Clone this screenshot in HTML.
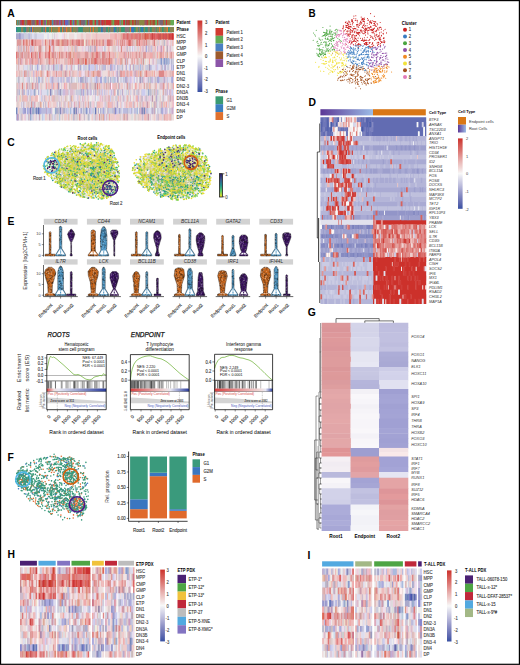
<!DOCTYPE html>
<html><head><meta charset="utf-8"><title>Figure</title>
<style>
html,body{margin:0;padding:0;background:#fff;width:520px;height:665px;overflow:hidden;}
svg{display:block;}
text{font-family:"Liberation Sans",sans-serif;}
</style></head><body>
<svg width="520" height="665" viewBox="0 0 520 665">
<defs>
<linearGradient id="cb3" x1="0" y1="0" x2="0" y2="1"><stop offset="0" stop-color="#cc312b"/><stop offset="0.08" stop-color="#d3524d"/><stop offset="0.17" stop-color="#db736f"/><stop offset="0.25" stop-color="#e29492"/><stop offset="0.33" stop-color="#e9b6b4"/><stop offset="0.42" stop-color="#f1d7d6"/><stop offset="0.5" stop-color="#f8f8f8"/><stop offset="0.58" stop-color="#dadaea"/><stop offset="0.67" stop-color="#bcbcdc"/><stop offset="0.75" stop-color="#9d9fcd"/><stop offset="0.83" stop-color="#7e84bf"/><stop offset="0.92" stop-color="#5e69b0"/><stop offset="1" stop-color="#3850a2"/></linearGradient>
<linearGradient id="rootg" x1="0" y1="0" x2="1" y2="0"><stop offset="0" stop-color="#5b3796"/><stop offset="1" stop-color="#9cbce6"/></linearGradient>
<linearGradient id="vir" x1="0" y1="0" x2="0" y2="1"><stop offset="0" stop-color="#2b1b5e"/><stop offset="0.25" stop-color="#3b528b"/><stop offset="0.5" stop-color="#21908d"/><stop offset="0.75" stop-color="#5dc963"/><stop offset="1" stop-color="#f2e11d"/></linearGradient>
<linearGradient id="rwb" x1="0" y1="0" x2="1" y2="0"><stop offset="0" stop-color="#d83a3a"/><stop offset="0.45" stop-color="#f4f0f0"/><stop offset="0.55" stop-color="#f0f0f8"/><stop offset="1" stop-color="#2a3a98"/></linearGradient>
</defs>
<rect x="0" y="0" width="520" height="665" fill="#fff"/>
<text x="7.3" y="17" font-size="11.5" textLength="7.47" lengthAdjust="spacingAndGlyphs" font-weight="bold" fill="#000">A</text>
<path stroke="#974" stroke-width="5.3" d="M16 22.6h3.4m18.5 0h1.4m8.6 0h6.4m3.6 0h1.4m16.5 0h1.4m1.6 0h1.4m8.6 0h1.4m3.6 0h1.4m9.6 0h1.4m2.6 0h3.4m2.5 0h1.4m2.6 0h3.4m14.6 0h1.4m3.6 0h3.4m2.6 0h1.4m1.6 0h2.4m4.5 0h1.4m7.6 0h3.4m1.6 0h1.4"/>
<path stroke="#389" stroke-width="5.2" d="M16 29.6h1.4m2.6 0h1.4m1.6 0h3.4m6.6 0h1.4m9.5 0h3.4m13.6 0h1.4m12.6 0h1.4m5.5 0h1.4m1.6 0h1.4m4.6 0h1.4m9.6 0h1.4m37.5 0h1.4m4.6 0h1.4m16.5 0h1.4"/>
<path stroke="#598" stroke-width="5.3" d="M17 22.6h1.4m66.4 0h1.4m9.6 0h2.4m26.5 0h1.4m38.5 0h1.4"/>
<path stroke="#397" stroke-width="5.2" d="M17 29.6h3.4m3.6 0h1.4m3.6 0h1.4m4.6 0h1.4m2.5 0h4.4m3.6 0h10.4m2.6 0h1.4m1.6 0h1.4m7.6 0h1.4m4.5 0h4.4m6.6 0h1.4m3.6 0h6.4m5.6 0h4.4m4.5 0h4.4m1.6 0h6.4m1.6 0h1.4m1.6 0h4.4m1.6 0h3.4m1.6 0h4.4m2.6 0h2.4m3.5 0h3.4m2.6 0h2.4m3.6 0h4.4"/>
<path stroke="#788" stroke-width="5.3" d="M19 22.6h1.4m8.6 0h3.4m7.5 0h1.4m20.6 0h2.4m3.6 0h2.4m7.5 0h1.4m20.6 0h1.4m18.5 0h1.4m37.5 0h1.4"/>
<path stroke="#956" stroke-width="5.3" d="M20 22.6h1.4m12.6 0h1.4m20.5 0h1.4m34.5 0h1.4m4.6 0h1.4m38.5 0h1.4m5.6 0h2.4"/>
<path stroke="#a46" stroke-width="5.3" d="M21 22.6h1.4m31.5 0h1.4m1.6 0h1.4m12.6 0h1.4m28.5 0h3.4m22.5 0h1.4"/>
<path stroke="#885" stroke-width="5.2" d="M21 29.6h2.4m3.6 0h2.4m4.6 0h7.4m7.5 0h1.4m2.6 0h5.4m8.6 0h3.4m2.6 0h4.4m5.5 0h6.4m2.6 0h1.4m1.6 0h3.4m1.6 0h1.4m2.6 0h1.4m2.6 0h1.4m1.6 0h2.4m5.5 0h2.4m14.6 0h2.4m5.6 0h1.4m2.6 0h1.4m2.6 0h3.4m1.5 0h1.4m1.6 0h2.4m1.6 0h3.4m2.6 0h4.4"/>
<path stroke="#c33" stroke-width="5.3" d="M22 22.6h1.4m12.5 0h2.4m2.6 0h1.4m4.6 0h1.4m12.6 0h1.4m1.6 0h1.4m4.6 0h1.4m3.6 0h1.4m6.5 0h1.4m10.6 0h1.4m5.6 0h1.4m2.6 0h5.4m6.5 0h1.4m3.6 0h2.4m6.6 0h1.4m32.5 0h1.4"/>
<path stroke="#b43" stroke-width="5.3" d="M23 22.6h1.4m2.6 0h4.4m10.5 0h1.4m6.6 0h1.4m14.6 0h1.4m12.5 0h1.4m8.6 0h2.4m6.6 0h1.4m3.6 0h1.4m8.6 0h4.4m9.5 0h1.4m3.6 0h1.4m12.6 0h1.4m1.6 0h1.4m1.6 0h1.4m2.5 0h1.4m2.6 0h3.4"/>
<path stroke="#867" stroke-width="5.3" d="M24 22.6h3.4m27.5 0h1.4m3.6 0h1.4m74.4 0h1.4m2.6 0h1.4"/>
<path stroke="#884" stroke-width="5.3" d="M25 22.6h1.4m8.6 0h1.4m6.5 0h1.4m29.6 0h1.4m36.5 0h1.4m16.5 0h2.4m1.6 0h1.4m3.6 0h5.4m4.6 0h1.4m13.5 0h1.4m4.6 0h1.4"/>
<path stroke="#877" stroke-width="5.2" d="M26 29.6h1.4m2.6 0h1.4m11.5 0h1.4m19.6 0h2.4m4.6 0h1.4m4.5 0h1.4m24.6 0h3.4m3.6 0h1.4m1.6 0h1.4m2.5 0h1.4m6.6 0h4.4m9.6 0h1.4m8.6 0h1.4m4.5 0h1.4"/>
<path stroke="#37b" stroke-width="5.2" d="M31 29.6h1.4m68.4 0h1.4m11.6 0h1.4m15.5 0h3.4m7.6 0h1.4"/>
<path stroke="#767" stroke-width="5.3" d="M32 22.6h2.4m9.5 0h1.4m35.5 0h4.4m74.4 0h3.4"/>
<path stroke="#d73" stroke-width="5.2" d="M32 29.6h1.4m11.5 0h1.4m4.6 0h1.4m5.6 0h2.4m1.6 0h1.4m2.6 0h1.4m2.6 0h1.4m18.5 0h1.4m1.6 0h1.4m35.5 0h1.4m27.5 0h1.4m6.6 0h1.4"/>
<path stroke="#85a" stroke-width="5.3" d="M38.9 22.6h1.4m4.6 0h1.4m12.6 0h1.4"/>
<path stroke="#6a5" stroke-width="5.3" d="M45.9 22.6h1.4m24.6 0h1.4m3.5 0h1.4m7.6 0h1.4m5.6 0h1.4m18.6 0h1.4m7.5 0h1.4m31.5 0h2.4m13.6 0h3.4"/>
<path stroke="#48b" stroke-width="5.3" d="M51.9 22.6h1.4"/>
<path stroke="#66b" stroke-width="5.3" d="M64.9 22.6h3.4m4.6 0h1.4m13.5 0h1.4"/>
<path stroke="#953" stroke-width="5.3" d="M86.8 22.6h1.4m37.5 0h1.4m1.6 0h1.4m4.6 0h1.4m17.6 0h1.4"/>
<path stroke="#aac" stroke-width="6.65" d="M16 36.5h5.4m73.4 12.4h1.4m60.4 0h1.4m8.6 12.4h5.4m-140 6.2h1.4m7.5 0h1.4m62.5 0h1.4m10.5 0h1.4m43.5 0h1.4m7.6 0h3.4m-135.1 12.4h1.4m40.5 0h2.4m41.5 0h1.4m15.6 0h1.4m4.6 0h1.4m7.5 0h1.4m-139 12.4h1.4m7.6 0h1.4m65.4 0h1.4m20.5 0h1.4m-75.2 12.4h1.4m-15.3 6.2h1.4m8.5 0h1.4m1.6 0h1.4m6.6 0h1.4m4.6 0h2.4m4.6 0h2.4m12.5 0h1.4m44.5 0h1.4m1.6 0h1.4m2.6 0h1.4m6.6 0h1.4m20.5 0h1.4"/>
<path stroke="#99c" stroke-width="6.65" d="M19 36.5h1.4m59.4 31h1.4m44.5 0h1.4m-91.2 12.4h1.4m35.6 0h1.4m5.5 0h1.4m28.6 0h1.4m5.5 0h1.4m-80.2 12.4h1.4m-15.3 18.6h2.4m8.6 0h1.4m7.5 0h1.4m27.6 0h1.4m6.5 0h1.4m6.6 0h1.4m7.6 0h3.4m17.5 0h1.4"/>
<path stroke="#bbd" stroke-width="6.65" d="M21 36.5h5.4m1.6 0h2.4m73.4 12.4h1.4m26.5 0h1.4m25.5 12.4h1.4m4.6 0h1.4m-145 6.2h1.4m37.5 0h1.4m4.6 0h1.4m8.5 0h1.4m7.6 0h1.4m1.6 0h1.4m7.6 0h1.4m4.6 0h2.4m8.6 0h1.4m20.5 0h3.4m2.6 0h1.4m3.6 0h1.4m1.6 0h2.4m11.5 0h1.4m2.6 0h1.4m-140 12.4h1.4m20.5 0h1.4m5.6 0h6.4m1.6 0h3.4m8.5 0h1.4m7.6 0h1.4m15.6 0h1.4m8.6 0h2.4m6.5 0h1.4m2.6 0h1.4m22.6 0h1.4m6.5 0h3.4m4.6 0h5.4m-120.1 6.2h1.4m113.3 0h1.4m-145 6.2h2.4m4.6 0h1.4m1.6 0h1.4m6.5 0h1.4m15.6 0h2.4m15.5 0h3.4m11.6 0h3.4m9.6 0h1.4m14.5 0h1.4m6.6 0h1.4m27.5 0h1.4m10.6 0h1.4m-140 6.2h1.4m63.4 0h1.4m-75.2 6.2h1.4m-.4 6.2h1.4m4.6 0h1.4m7.5 0h1.4m2.6 0h5.4m1.6 0h2.4m2.6 0h1.4m4.6 0h1.4m5.6 0h1.4m12.5 0h1.4m5.6 0h1.4m4.6 0h1.4m13.6 0h6.4m1.5 0h1.4m2.6 0h1.4m1.6 0h4.4m6.6 0h2.4m9.6 0h2.4m6.5 0h1.4m-140 6.2h3.4m22.5 0h1.4m60.5 0h1.4"/>
<path stroke="#ccd" stroke-width="6.65" d="M24 36.5h4.4m1.6 0h2.4m1.6 0h3.4m120.2 6.2h1.4m-126 6.2h1.4m70.4 0h1.4m22.5 0h1.4m7.6 0h1.4m17.5 12.4h7.4m7.6 0h2.4m-151 6.2h7.4m4.6 0h1.4m8.5 0h1.4m4.6 0h1.4m1.6 0h4.4m3.6 0h1.4m10.6 0h1.4m5.5 0h1.4m1.6 0h3.4m6.6 0h1.4m5.6 0h1.4m12.5 0h1.4m1.6 0h2.4m14.6 0h3.4m6.6 0h2.4m19.5 0h1.4m-141 6.2h1.4m96.3 0h1.4m-103.1 6.2h1.4m2.6 0h2.4m11.5 0h1.4m10.6 0h1.4m2.6 0h1.4m5.6 0h1.4m10.5 0h1.4m8.6 0h1.4m6.6 0h1.4m2.6 0h1.4m3.6 0h1.4m1.6 0h1.4m3.6 0h2.4m6.5 0h2.4m1.6 0h1.4m10.6 0h1.4m1.6 0h3.4m13.5 0h1.4m2.6 0h3.4m1.6 0h1.4m-148 6.2h1.4m18.5 0h1.4m108.4 0h1.4m22.5 0h1.4m-155 6.2h1.4m1.6 0h1.4m3.6 0h1.4m15.5 0h3.4m4.6 0h2.4m1.6 0h2.4m4.6 0h1.4m4.6 0h1.4m7.5 0h3.4m7.6 0h1.4m6.6 0h1.4m28.5 0h1.4m2.6 0h1.4m4.6 0h2.4m2.6 0h1.4m3.6 0h1.4m1.6 0h3.4m2.5 0h1.4m1.6 0h1.4m-82.2 6.2h1.4m1.6 0h1.4m2.6 0h1.4m29.5 0h2.4m27.6 0h1.4m3.6 0h1.4m5.5 0h1.4m-128 6.2h1.4m1.6 0h1.4m22.5 0h1.4m37.5 0h1.4m7.6 0h1.4m44.5 0h1.4m4.5 0h1.4m10.6 0h1.4m-151 6.2h3.4m11.6 0h1.4m29.5 0h1.4m1.6 0h1.4m14.5 0h2.4m5.6 0h1.4m7.6 0h5.4m2.6 0h3.4m5.5 0h1.4m1.6 0h1.4m5.6 0h2.4m1.6 0h1.4m2.6 0h1.4m10.6 0h1.4m1.6 0h3.4m2.5 0h4.4m1.6 0h1.4m4.6 0h2.4m-151 6.2h1.4m10.6 0h1.4m18.5 0h3.4m20.5 0h1.4m11.6 0h1.4m26.5 0h1.4m37.5 0h1.4m4.6 0h1.4"/>
<path stroke="#dde" stroke-width="6.65" d="M32 36.5h2.4m2.5 0h12.4m9.6 0h1.4m99.3 6.2h1.4m9.6 0h1.4m-147 6.2h1.4m16.5 0h1.4m33.5 0h1.4m3.6 0h1.4m1.6 0h1.4m10.6 0h1.4m16.5 0h1.4m18.6 0h1.4m24.5 0h1.4m7.6 0h1.4m-28.3 12.4h1.4m24.5 0h1.4m-147 6.2h3.4m6.6 0h1.4m2.5 0h2.4m6.6 0h1.4m3.6 0h1.4m11.6 0h1.4m2.6 0h1.4m2.6 0h1.4m15.5 0h1.4m29.5 0h1.4m29.6 0h4.4m1.5 0h2.4m2.6 0h1.4m1.6 0h1.4m-150 12.4h1.4m2.6 0h1.4m3.6 0h1.4m6.6 0h1.4m4.5 0h1.4m5.6 0h1.4m6.6 0h1.4m2.6 0h1.4m11.6 0h3.4m3.5 0h1.4m3.6 0h1.4m2.6 0h2.4m1.6 0h2.4m21.5 0h1.4m4.6 0h1.4m5.6 0h1.4m15.6 0h1.4m5.6 0h2.4m12.5 0h3.4m-132.1 6.2h1.4m2.6 0h1.4m81.4 0h1.4m10.6 0h1.4m17.5 0h1.4m-129 6.2h1.4m1.6 0h1.4m5.5 0h1.4m1.6 0h7.4m11.6 0h1.4m6.6 0h1.4m15.5 0h1.4m1.6 0h1.4m9.6 0h1.4m5.6 0h4.4m12.5 0h2.4m4.6 0h1.4m12.6 0h1.4m6.6 0h1.4m6.5 0h1.4m-141 6.2h1.4m16.5 0h1.4m28.6 0h1.4m3.6 0h1.4m21.5 0h2.4m22.5 0h1.4m1.6 0h1.4m7.6 0h1.4m23.5 0h1.4m6.6 0h1.4m-146 6.2h1.4m1.6 0h1.4m19.5 0h1.4m41.5 0h1.4m24.5 0h1.4m5.6 0h1.4m6.6 0h1.4m35.5 0h1.4m-151 6.2h1.4m7.6 0h1.4m43.5 0h2.4m5.5 0h1.4m1.6 0h1.4m4.6 0h1.4m32.5 0h1.4m9.6 0h1.4m14.6 0h2.4m7.5 0h1.4m-133 6.2h1.4m2.6 0h1.4m5.5 0h1.4m1.6 0h1.4m1.6 0h1.4m7.6 0h1.4m12.6 0h1.4m24.5 0h1.4m27.5 0h1.4m19.6 0h1.4"/>
<path stroke="#eee" stroke-width="6.65" d="M43.9 36.5h3.4m1.6 0h7.4m1.6 0h4.4m2.6 0h4.4m4.6 0h3.4m6.5 0h1.4m1.6 0h1.4m17.6 0h1.4m61.4 6.2h1.4m-133.1 6.2h1.4m5.6 0h1.4m9.6 0h1.4m23.5 0h1.4m21.6 0h1.4m5.6 0h1.4m5.5 0h1.4m1.6 0h1.4m9.6 0h1.4m14.6 0h1.4m16.5 0h1.4m6.6 0h1.4m-50.3 12.4h1.4m4.6 0h1.4m14.6 0h5.4m-118.1 6.2h1.4m5.5 0h1.4m33.6 0h3.4m3.5 0h1.4m14.6 0h1.4m24.5 0h1.4m2.6 0h1.4m1.6 0h2.4m-88.2 6.2h1.4m67.5 0h1.4m27.5 0h1.4m10.5 0h1.4m-136 6.2h1.4m8.6 0h3.4m10.5 0h1.4m24.6 0h1.4m3.6 0h1.4m25.5 0h1.4m5.6 0h1.4m8.5 0h1.4m14.6 0h1.4m1.6 0h1.4m-106.1 6.2h1.4m25.5 0h1.4m15.5 0h1.4m38.5 0h1.4m4.6 0h1.4m8.6 0h2.4m9.6 0h1.4m18.5 0h1.4m-130.1 6.2h2.4m14.6 0h1.4m37.5 0h1.4m22.5 0h1.4m3.6 0h1.4m24.6 0h1.4m13.5 0h1.4m-139 6.2h1.4m2.6 0h1.4m20.5 0h1.4m16.6 0h1.4m11.5 0h1.4m3.6 0h1.4m1.6 0h3.4m3.6 0h1.4m31.5 0h4.4m9.6 0h1.4m16.5 0h1.4m3.6 0h1.4m-125.1 6.2h1.4m14.6 0h1.4m2.6 0h1.4m8.6 0h1.4m21.5 0h1.4m22.5 0h1.4m2.6 0h1.4m11.6 0h3.4m10.6 0h1.4m6.5 0h1.4m-107.1 6.2h3.4m38.5 0h1.4m3.6 0h1.4m5.6 0h1.4m30.5 0h1.4m16.5 0h1.4m10.6 0h1.4m-146 6.2h1.4m1.6 0h1.4m9.5 0h1.4m24.6 0h3.4m3.6 0h1.4m6.5 0h1.4m5.6 0h1.4m3.6 0h1.4m6.6 0h1.4m29.5 0h1.4m2.6 0h1.4m10.6 0h1.4m4.6 0h1.4"/>
<path stroke="#ddd" stroke-width="6.65" d="M51.9 36.5h1.4m111.3 6.2h1.4m-108.1 6.2h1.4m13.6 0h1.4m14.5 0h1.4m44.5 0h1.4m5.6 12.4h1.4m-115.1 6.2h1.4m6.5 0h1.4m8.6 0h1.4m24.6 0h1.4m13.5 0h1.4m11.6 0h1.4m46.5 0h1.4m19.5 0h1.4m-148 6.2h1.4m6.6 0h1.4m70.4 0h1.4m-87.2 6.2h1.4m4.6 0h1.4m7.6 0h1.4m10.5 0h1.4m4.6 0h1.4m26.5 0h1.4m70.5 0h1.4m-103.2 6.2h1.4m110.3 0h1.4m-85.1 6.2h1.4m7.5 0h1.4m41.5 0h1.4m30.5 0h1.4m-142 6.2h1.4m127.3 0h1.4m9.5 0h1.4m2.6 0h3.4m-128.1 6.2h1.4m41.5 0h1.4m43.5 0h1.4m14.6 0h1.4m10.6 0h1.4m-85.2 6.2h1.4m-35.3 6.2h1.4m10.5 0h1.4m7.6 0h1.4m14.6 0h1.4m1.6 0h1.4m10.5 0h1.4m5.6 0h1.4m4.6 0h1.4m5.6 0h2.4m21.5 0h2.4m2.6 0h1.4"/>
<path stroke="#dcd" stroke-width="6.65" d="M53.9 36.5h1.4m-23.3 12.4h1.4m30.5 0h1.4m19.5 0h1.4m4.6 0h1.4m9.6 0h1.4m20.5 0h3.4m2.6 0h1.4m2.6 0h1.4m18.6 0h1.4m-36.4 12.4h1.4m31.6 0h1.4m-110.2 6.2h2.4m3.6 0h1.4m16.6 0h1.4m1.6 0h1.4m20.5 0h1.4m13.6 0h2.4m10.5 0h1.4m3.6 0h1.4m14.6 0h1.4m-119.1 6.2h1.4m12.5 0h1.4m11.6 0h1.4m3.6 0h1.4m20.5 0h2.4m1.6 0h1.4m7.6 0h1.4m13.6 0h1.4m5.6 0h1.4m2.5 0h1.4m11.6 0h1.4m2.6 0h1.4m4.6 0h1.4m-121.1 6.2h1.4m12.6 0h1.4m11.5 0h1.4m6.6 0h3.4m4.6 0h1.4m26.5 0h1.4m15.6 0h1.4m19.5 0h1.4m7.6 0h1.4m5.6 0h1.4m1.6 0h1.4m14.5 0h1.4m1.6 0h1.4m5.6 0h1.4m-150 6.2h1.4m19.5 0h1.4m14.6 0h1.4m26.5 0h1.4m22.6 0h1.4m9.5 0h1.4m27.6 0h1.4m7.5 0h1.4m-128 6.2h1.4m17.5 0h1.4m15.6 0h4.4m6.5 0h1.4m10.6 0h1.4m9.6 0h2.4m25.5 0h1.4m4.6 0h1.4m2.6 0h1.4m26.5 0h1.4m-136.1 6.2h1.4m10.6 0h1.4m1.6 0h1.4m2.6 0h1.4m1.6 0h2.4m2.6 0h1.4m8.6 0h1.4m3.5 0h1.4m7.6 0h1.4m24.6 0h1.4m9.5 0h1.4m22.6 0h1.4m21.5 0h1.4m-133.1 6.2h1.4m15.6 0h1.4m2.6 0h1.4m3.6 0h5.4m10.5 0h1.4m3.6 0h1.4m6.6 0h1.4m8.6 0h1.4m15.5 0h1.4m23.6 0h1.4m11.5 0h1.4m6.6 6.2h1.4m2.6 0h3.4m-149 6.2h1.4m6.6 0h1.4m1.5 0h1.4m17.6 0h1.4m25.5 0h1.4m13.6 0h1.4m51.5 0h1.4m5.5 0h1.4"/>
<path stroke="#edd" stroke-width="6.65" d="M55.9 36.5h1.4m8.6 0h1.4m1.6 0h5.4m2.5 0h4.4m1.6 0h3.4m6.6 0h1.4m14.6 0h1.4m-94.2 6.2h1.4m12.6 0h1.4m12.5 0h1.4m8.6 0h1.4m59.4 0h1.4m2.6 0h1.4m30.6 0h1.4m2.5 0h1.4m4.6 0h1.4m-146 6.2h1.4m4.6 0h1.4m3.6 0h3.4m4.6 0h1.4m5.5 0h1.4m10.6 0h4.4m1.6 0h4.4m1.6 0h1.4m1.6 0h1.4m8.5 0h3.4m1.6 0h1.4m7.6 0h1.4m11.6 0h2.4m2.6 0h1.4m1.6 0h1.4m6.5 0h1.4m4.6 0h1.4m9.6 0h3.4m1.6 0h1.4m10.5 0h1.4m8.6 0h3.4m2.6 0h1.4m-143 6.2h1.4m24.5 0h1.4m17.6 0h1.4m24.5 0h1.4m24.5 0h3.4m11.6 0h1.4m12.5 0h3.4m4.6 0h1.4m2.6 0h1.4m-145 6.2h1.4m2.6 0h1.4m15.5 0h1.4m10.6 0h1.4m1.6 0h1.4m1.6 0h1.4m19.5 0h1.4m4.6 0h1.4m31.5 0h1.4m3.6 0h1.4m3.6 0h1.4m12.6 0h1.4m2.6 0h1.4m1.6 0h1.4m-135.1 6.2h3.4m39.5 0h2.4m2.6 0h1.4m36.5 0h1.4m1.6 0h1.4m12.5 0h1.4m2.6 0h1.4m15.6 0h1.4m-106.2 6.2h1.4m10.6 0h1.4m6.6 0h1.4m7.6 0h1.4m1.6 0h1.4m2.6 0h1.4m6.5 0h1.4m10.6 0h1.4m6.6 0h5.4m1.6 0h1.4m6.5 0h1.4m28.6 0h1.4m3.6 0h1.4m3.5 0h1.4m8.6 0h1.4m-145 6.2h1.4m9.6 0h1.4m28.5 0h1.4m65.4 0h1.4m-113.1 6.2h1.4m3.6 0h1.4m1.6 0h1.4m12.5 0h3.4m9.6 0h1.4m2.6 0h1.4m1.6 0h2.4m3.6 0h1.4m2.6 0h1.4m5.5 0h1.4m7.6 0h1.4m6.6 0h3.4m5.6 0h1.4m13.5 0h1.4m3.6 0h1.4m4.6 0h1.4m4.6 0h1.4m3.6 0h2.4m6.6 0h4.4m2.5 0h1.4m9.6 0h2.4m-151 6.2h1.4m3.6 0h1.4m22.5 0h1.4m52.5 0h1.4m14.5 0h1.4m2.6 0h1.4m7.6 0h1.4m1.6 0h1.4m3.6 0h1.4m18.5 0h1.4m11.6 0h1.4m-134.1 6.2h1.4m5.6 0h1.4m11.6 0h1.4m2.6 0h1.4m1.6 0h1.4m6.6 0h1.4m15.5 0h3.4m3.6 0h5.4m9.6 0h1.4m5.5 0h1.4m3.6 0h1.4m7.6 0h1.4m2.6 0h1.4m14.5 0h1.4m-140 6.2h1.4m1.6 0h2.4m2.6 0h1.4m3.6 0h1.4m4.6 0h2.4m6.5 0h1.4m1.6 0h1.4m2.6 0h2.4m12.6 0h1.4m7.6 0h1.4m5.5 0h3.4m1.6 0h1.4m2.6 0h1.4m20.6 0h1.4m1.5 0h3.4m8.6 0h1.4m2.6 0h1.4m1.6 0h1.4m28.5 0h1.4m3.6 0h2.4m-75.2 6.2h1.4m-79.2 6.2h1.4m13.6 0h1.4m12.5 0h1.4m8.6 0h4.4m18.5 0h3.4m1.6 0h1.4m3.6 0h1.4m17.6 0h3.4m7.5 0h1.4m5.6 0h3.4m5.6 0h1.4m2.6 0h1.4m6.6 0h1.4m1.6 0h4.4m6.5 0h1.4m7.6 0h2.4"/>
<path stroke="#ede" stroke-width="6.65" d="M56.9 36.5h1.4m3.6 0h2.4m-13.4 12.4h1.4m14.6 0h1.4m18.5 0h1.4m30.5 0h1.4m12.6 0h1.4m34.5 0h1.4m-147 6.2h1.4m104.3 6.2h1.4m4.6 0h1.4m18.5 0h1.4m-139 6.2h3.4m29.5 0h1.4m64.4 0h1.4m42.5 0h1.4m8.6 0h1.4m-127.1 6.2h1.4m11.6 0h1.4m23.5 0h3.4m15.6 0h1.4m-77.2 6.2h1.4m72.4 0h1.4m32.5 0h1.4m10.6 0h1.4m-79.2 6.2h1.4m43.5 6.2h1.4m50.4 0h1.4m2.6 0h1.4m-126.1 6.2h1.4m17.6 0h1.4m12.5 0h1.4m15.6 0h1.4m24.5 0h1.4m30.6 0h3.4m10.5 0h1.4m-117.1 6.2h1.4m22.6 0h1.4m2.5 0h1.4m22.6 0h3.4m5.6 0h1.4m-80.2 6.2h1.4m28.5 0h1.4m14.5 0h1.4m26.6 6.2h1.4"/>
<path stroke="#ecc" stroke-width="6.65" d="M63.9 36.5h1.4m15.5 0h2.4m2.6 0h4.4m1.6 0h17.4m7.5 0h3.4m-98.1 6.2h1.4m4.6 0h1.4m8.5 0h1.4m1.6 0h3.4m3.6 0h1.4m35.5 0h1.4m6.6 0h3.4m7.6 0h3.4m5.6 0h1.4m30.5 0h1.4m3.6 0h1.4m4.5 0h1.4m1.6 0h1.4m2.6 0h1.4m1.6 0h1.4m2.6 0h1.4m1.6 0h1.4m-157 6.2h1.4m17.5 0h1.4m9.6 0h2.4m9.6 0h3.4m14.5 0h1.4m18.6 0h1.4m1.6 0h1.4m7.6 0h1.4m1.6 0h1.4m11.5 0h1.4m10.6 0h1.4m6.6 0h1.4m6.6 0h1.4m5.5 0h1.4m2.6 0h1.4m-122.1 6.2h2.4m12.6 0h3.4m5.6 0h1.4m2.6 0h1.4m5.5 0h1.4m3.6 0h1.4m4.6 0h1.4m17.6 0h3.4m4.5 0h1.4m13.6 0h1.4m1.6 0h1.4m2.6 0h1.4m6.6 0h1.4m3.6 0h1.4m16.5 0h1.4m1.6 0h1.4m-154 6.2h1.4m1.6 0h2.4m8.6 0h1.4m4.5 0h1.4m2.6 0h2.4m4.6 0h1.4m2.6 0h2.4m4.6 0h2.4m12.5 0h1.4m9.6 0h1.4m24.6 0h1.4m2.5 0h1.4m17.6 0h1.4m2.6 0h1.4m-2.4 6.2h1.4m-123.1 6.2h2.4m11.6 0h5.4m6.5 0h1.4m1.6 0h1.4m4.6 0h1.4m13.6 0h1.4m5.6 0h3.4m8.5 0h2.4m22.6 0h1.4m19.5 0h1.4m17.6 0h1.4m3.5 0h2.4m8.6 0h5.4m-135.1 6.2h1.4m6.6 0h1.4m1.6 0h1.4m-28.3 6.2h1.4m11.6 0h1.4m4.5 0h1.4m8.6 0h1.4m2.6 0h3.4m16.6 0h1.4m2.5 0h1.4m12.6 0h1.4m6.6 0h1.4m1.6 0h1.4m2.6 0h3.4m10.5 0h2.4m8.6 0h1.4m6.6 0h2.4m23.5 0h1.4m-101.1 6.2h1.4m40.5 0h1.4m5.5 0h1.4m12.6 0h1.4m-111.1 6.2h1.4m11.6 0h3.4m9.5 0h2.4m31.5 0h1.4m4.6 0h1.4m1.6 0h1.4m16.6 0h1.4m3.6 0h1.4m20.5 0h1.4m5.6 0h1.4m18.5 0h1.4m-143 6.2h1.4m6.6 0h1.4m13.5 0h1.4m7.6 0h1.4m1.6 0h3.4m4.6 0h1.4m7.6 0h1.4m21.5 0h1.4m5.6 0h3.4m3.6 0h1.4m5.6 0h1.4m4.5 0h1.4m5.6 0h1.4m15.6 0h2.4m1.6 0h2.4m17.5 0h1.4m2.6 0h1.4m-155 6.2h1.4m2.6 6.2h1.4m21.5 0h2.4m2.6 0h1.4m12.6 0h3.4m3.6 0h1.4m19.5 0h1.4m2.6 0h1.4m4.6 0h1.4m7.6 0h9.4m4.5 0h1.4m7.6 0h1.4m3.6 0h2.4m12.6 0h1.4m3.5 0h3.4m3.6 0h4.4"/>
<path stroke="#ecd" stroke-width="6.65" d="M89.8 36.5h1.4m33.5 6.2h1.4m41.5 0h1.4m-104.1 6.2h1.4m3.6 0h1.4m10.5 0h1.4m15.6 0h3.4m20.5 0h1.4m33.5 0h2.4m-45.3 24.8h1.4m-14.3 12.4h1.4m-63.3 6.2h1.4m41.5 6.2h1.4m22.6 0h1.4m35.5 0h1.4m3.6 0h1.4m-58.3 6.2h1.4m4.6 0h1.4m24.5 0h1.4m-101.1 12.4h1.4m89.3 0h1.4"/>
<path stroke="#edc" stroke-width="6.65" d="M90.8 36.5h1.4m21.6 24.8h1.4m29.5 0h1.4m7.6 37.2h1.4m-3.4 6.2h1.4"/>
<path stroke="#ebb" stroke-width="6.65" d="M95.8 36.5h1.4m12.6 0h5.4m2.5 0h3.4m-103.1 6.2h1.4m4.6 0h1.4m10.5 0h1.4m9.6 0h1.4m6.6 0h1.4m11.6 0h2.4m9.5 0h1.4m9.6 0h1.4m5.6 0h1.4m21.5 0h3.4m9.6 0h1.4m2.6 0h3.4m6.6 0h1.4m2.6 0h1.4m18.5 0h1.4m-154 6.2h1.4m13.6 0h1.4m2.5 0h1.4m6.6 0h1.4m2.6 0h1.4m22.6 0h1.4m32.5 0h1.4m30.5 0h1.4m13.5 0h1.4m-127 6.2h1.4m5.5 0h1.4m3.6 0h2.4m19.6 0h3.4m5.6 0h1.4m6.5 0h5.4m2.6 0h1.4m16.6 0h1.4m3.6 0h2.4m5.5 0h5.4m8.6 0h5.4m1.6 0h1.4m5.6 0h3.4m11.5 0h1.4m1.6 0h1.4m3.6 0h1.4m1.6 0h1.4m-147 6.2h1.4m5.6 0h3.4m3.5 0h2.4m7.6 0h1.4m5.6 0h2.4m3.6 0h1.4m1.6 0h3.4m30.5 0h1.4m9.6 0h1.4m4.5 0h1.4m11.6 0h1.4m-116.1 12.4h1.4m3.6 0h1.4m15.5 0h1.4m8.6 0h2.4m2.6 0h2.4m2.6 0h3.4m2.6 0h1.4m7.6 0h1.4m4.5 0h2.4m9.6 0h6.4m10.6 0h1.4m3.6 0h1.4m7.5 0h1.4m2.6 0h3.4m14.6 0h7.4m10.5 0h5.4m-150 12.4h1.4m29.5 0h2.4m33.5 0h1.4m26.6 0h4.4m19.5 0h1.4m1.6 0h1.4m15.5 0h1.4m6.6 0h1.4m2.6 0h1.4m-72.2 6.2h1.4m-75.2 6.2h4.4m3.6 0h1.4m2.6 0h3.4m10.5 0h1.4m1.6 0h1.4m64.4 0h1.4m16.6 0h1.4m30.5 0h1.4m2.6 0h1.4m-88.2 6.2h1.4m10.6 0h3.4m8.6 0h3.4m13.5 0h1.4m1.6 0h3.4m1.6 0h1.4m1.6 0h1.4m4.6 0h1.4m10.5 0h1.4m7.6 0h1.4m-97.1 12.4h1.4m53.4 0h1.4m1.6 0h1.4m16.6 0h3.4m17.5 0h3.4"/>
<path stroke="#eaa" stroke-width="6.65" d="M114.7 36.5h2.4m4.6 0h1.4m-98.1 6.2h3.4m5.6 0h1.4m1.5 0h4.4m29.6 0h1.4m1.6 0h2.4m11.5 0h2.4m6.6 0h1.4m1.6 0h1.4m6.6 0h1.4m2.6 0h1.4m2.5 0h3.4m6.6 0h2.4m2.6 0h1.4m8.6 0h2.4m-115.1 6.2h1.4m66.4 0h1.4m65.4 0h1.4m-137 6.2h1.4m4.6 0h2.4m4.5 0h1.4m4.6 0h2.4m2.6 0h1.4m4.6 0h1.4m15.6 0h3.4m13.5 0h1.4m1.6 0h2.4m1.6 0h1.4m3.6 0h1.4m2.6 0h1.4m4.6 0h1.4m11.5 0h1.4m4.6 0h1.4m16.6 0h5.4m1.5 0h1.4m4.6 0h1.4m-148 6.2h1.4m8.6 0h1.4m1.6 0h1.4m4.6 0h3.4m9.5 0h1.4m18.6 0h1.4m1.6 0h1.4m1.6 0h4.4m19.5 0h2.4m6.6 0h1.4m1.6 0h1.4m8.5 0h1.4m12.6 0h1.4m5.6 0h1.4m6.6 0h1.4m-114.2 12.4h1.4m23.6 0h1.4m6.6 0h1.4m27.5 0h1.4m23.5 0h2.4m4.6 0h2.4m3.6 0h1.4m3.6 0h1.4m11.6 0h1.4m17.5 0h1.4m-148 12.4h1.4m18.5 0h1.4m5.6 0h1.4m2.6 0h1.4m5.6 0h1.4m16.5 0h2.4m14.6 0h1.4m17.5 0h1.4m15.6 0h1.4m36.5 0h1.4m-60.2 6.2h1.4m-6.4 6.2h1.4m16.5 0h1.4m8.6 0h1.4m-90.2 6.2h1.4m29.5 0h1.4m27.6 0h1.4m51.4 0h1.4m3.6 0h1.4m-58.2 12.4h1.4m59.4 0h1.4"/>
<path stroke="#da9" stroke-width="6.65" d="M120.7 36.5h1.4m-52.2 6.2h1.4m-46.3 12.4h1.4m10.5 0h1.4m34.6 0h1.4m18.5 0h1.4m72.4 0h1.4m-89.2 6.2h3.4m-42.3 43.4h1.4m61.5 12.4h1.4"/>
<path stroke="#d77" stroke-width="6.65" d="M122.7 36.5h2.4m2.6 0h1.4m1.6 0h2.4m1.6 0h5.4m1.6 0h3.4m9.5 0h1.4m-133 6.2h1.4m6.6 0h1.4m12.5 0h1.4m11.6 0h1.4m2.6 0h1.4m3.6 0h1.4m3.6 0h1.4m4.5 0h2.4m2.6 0h1.4m22.6 0h3.4m19.5 0h1.4m7.6 0h1.4m5.6 0h1.4m6.6 0h1.4m-139.1 12.4h1.4m78.4 0h2.4m10.6 0h1.4m-32.4 6.2h1.4m6.6 0h1.4m6.6 0h3.4m-65.2 24.8h1.4"/>
<path stroke="#d88" stroke-width="6.65" d="M124.7 36.5h2.4m1.6 0h2.4m1.6 0h1.4m3.6 0h1.4m-104.1 6.2h1.4m12.5 0h1.4m2.6 0h1.4m2.6 0h1.4m4.6 0h3.4m9.5 0h2.4m3.6 0h1.4m8.6 0h1.4m2.6 0h1.4m5.6 0h1.4m5.6 0h1.4m10.5 0h1.4m4.6 0h1.4m7.6 0h1.4m-98.2 6.2h1.4m11.6 0h1.4m66.4 0h1.4m-100.1 6.2h1.4m11.6 0h1.4m8.5 0h1.4m1.6 0h1.4m2.6 0h2.4m11.6 0h1.4m1.6 0h1.4m21.5 0h1.4m8.6 0h3.4m-73.2 6.2h1.4m15.5 0h1.4m2.6 0h1.4m17.6 0h1.4m9.5 0h1.4m6.6 0h1.4m9.6 0h2.4m1.6 0h1.4m17.5 0h1.4m-79.2 12.4h1.4m97.4 0h1.4m11.5 0h5.4m-142 12.4h1.4m73.4 0h1.4m28.5 0h1.4"/>
<path stroke="#d66" stroke-width="6.65" d="M126.7 36.5h1.4m11.6 0h1.4m6.6 0h6.4m1.5 0h2.4m-106.1 6.2h1.4m75.4 0h1.4m-99.1 12.4h1.4m62.4 6.2h1.4"/>
<path stroke="#d87" stroke-width="6.65" d="M133.7 36.5h1.4m7.6 0h1.4m4.6 0h1.4m-124.1 6.2h1.4m31.5 12.4h1.4m9.6 0h1.4"/>
<path stroke="#d98" stroke-width="6.65" d="M140.7 36.5h1.4m-81.2 6.2h1.4m31.5 0h1.4m40.5 0h1.4m-51.3 12.4h1.4m-17.3 6.2h1.4m20.5 0h1.4m27.5 0h1.4m-29.3 12.4h1.4m45.5 0h1.4"/>
<path stroke="#c54" stroke-width="6.65" d="M144.7 36.5h1.4"/>
<path stroke="#d65" stroke-width="6.65" d="M145.7 36.5h2.4m12.5 0h2.4m3.6 0h2.4m-120.1 12.4h1.4m34.5 12.4h1.4"/>
<path stroke="#c44" stroke-width="6.65" d="M151.7 36.5h1.4m15.5 0h2.4"/>
<path stroke="#d55" stroke-width="6.65" d="M153.7 36.5h1.4m2.5 0h1.4m4.6 0h2.4m4.6 0h3.4m-135.1 18.6h1.4m8.6 0h1.4"/>
<path stroke="#c55" stroke-width="6.65" d="M158.6 36.5h2.4m1.6 0h1.4m1.6 0h1.4m-135 6.2h1.4"/>
<path stroke="#c33" stroke-width="6.65" d="M171.6 36.5h1.4"/>
<path stroke="#d99" stroke-width="6.65" d="M17 42.7h4.4m7.6 0h1.4m2.6 0h1.4m16.5 0h1.4m3.6 0h1.4m1.6 0h1.4m3.6 0h3.4m5.6 0h1.4m6.5 0h1.4m3.6 0h1.4m11.6 0h1.4m1.6 0h1.4m7.6 0h1.4m7.5 0h1.4m2.6 0h1.4m6.6 0h1.4m10.6 0h1.4m-119.1 6.2h1.4m-10.4 6.2h5.4m5.6 0h1.4m2.6 0h1.4m21.5 0h1.4m4.6 0h2.4m4.6 0h1.4m15.5 0h3.4m10.6 0h1.4m23.5 0h1.4m2.6 0h1.4m6.6 0h1.4m1.6 0h1.4m2.6 0h3.4m13.5 0h2.4m8.6 0h1.4m-152 6.2h1.4m9.6 0h1.4m7.5 0h1.4m14.6 0h1.4m24.5 0h1.4m5.6 0h1.4m2.6 0h1.4m2.6 0h1.4m1.6 0h1.4m2.6 0h2.4m1.6 0h1.4m1.6 0h1.4m-88.2 12.4h1.4m15.5 0h1.4m13.6 0h1.4m30.5 0h1.4m7.6 0h3.4m19.5 0h2.4m40.5 12.4h1.4m-93.1 12.4h1.4m-41.3 6.2h1.4m46.4 12.4h1.4m18.6 0h1.4"/>
<path stroke="#dbb" stroke-width="6.65" d="M21 42.7h1.4m64.4 0h1.4m44.5 0h1.4m12.6 0h3.4m-130.1 6.2h1.4m2.6 0h1.4m5.6 0h1.4m8.5 0h1.4m29.6 0h1.4m2.5 0h1.4m-58.2 6.2h1.4m69.4 0h1.4m8.6 0h1.4m39.5 0h1.4m10.6 0h1.4m11.5 0h1.4m-121.1 6.2h2.4m16.6 0h2.4m5.6 0h1.4m47.4 0h1.4m14.6 0h1.4m-121.1 6.2h1.4m75.4 0h1.4m-77.2 6.2h1.4m5.6 0h1.4m14.5 0h1.4m19.6 0h1.4m1.6 0h1.4m4.6 0h1.4m11.5 0h1.4m22.6 0h1.4m59.4 0h1.4m-140 12.4h1.4m38.5 0h6.4m16.5 0h1.4m8.6 0h1.4m2.6 0h1.4m6.5 0h1.4m28.6 0h2.4m1.6 0h1.4m3.5 0h1.4m-134 12.4h1.4m29.5 0h2.4m9.6 0h1.4m41.5 0h1.4m-81.2 6.2h1.4m110.3 0h1.4m-40.3 12.4h1.4"/>
<path stroke="#dbc" stroke-width="6.65" d="M41.9 42.7h1.4m6.6 0h1.4m53.5 0h1.4m10.5 0h1.4m48.5 0h1.4m-116.1 6.2h1.4m38.5 0h1.4m24.5 0h1.4m22.6 0h2.4m4.6 0h1.4m19.5 0h1.4m-133.1 6.2h1.4m74.5 0h1.4m.5 6.2h1.4m35.6 0h1.4m-55.3 6.2h1.4m11.6 0h1.4m42.4 0h1.4m-129 6.2h1.4m40.5 0h1.4m17.5 0h1.4m43.5 0h1.4m1.6 0h1.4m4.6 6.2h1.4m-125.1 6.2h1.4m30.5 0h1.4m17.6 0h1.4m8.5 0h1.4m48.5 0h1.4m28.5 0h2.4m-97.1 6.2h3.4m1.6 0h3.4m27.5 0h1.4m53.4 0h1.4m12.6 0h1.4m-155 6.2h1.4m9.6 0h1.4m53.4 0h1.4m18.6 0h1.4m1.6 0h1.4m13.5 0h1.4m8.6 0h1.4m41.5 0h1.4m-110.1 6.2h1.4m46.5 0h1.4m28.5 0h1.4m-3.4 6.2h1.4m3.6 0h1.4m-72.2 6.2h1.4m4.5 0h1.4m24.6 0h1.4"/>
<path stroke="#eba" stroke-width="6.65" d="M45.9 42.7h1.4m12.6 0h1.4m39.5 0h1.4m11.6 0h1.4m-65.3 12.4h1.4m63.4 0h1.4m42.5 0h1.4m-143 6.2h1.4m33.5 0h1.4m-13.4 12.4h1.4m96.4 0h1.4m12.6 0h1.4m-87.2 12.4h1.4m81.4 0h1.4m-82.2 18.6h1.4"/>
<path stroke="#eed" stroke-width="6.65" d="M83.8 42.7h1.4m-45.3 74.4h1.4"/>
<path stroke="#ecb" stroke-width="6.65" d="M89.8 42.7h1.4m-20.3 6.2h1.4m45.4 6.2h1.4m-99.1 43.4h1.4m50.5 0h1.4m89.3 6.2h1.4"/>
<path stroke="#dcc" stroke-width="6.65" d="M134.7 42.7h1.4m20.5 0h1.4m3.6 0h1.4m-95.1 6.2h1.4m43.5 0h3.4m33.5 0h3.4m-36.4 6.2h1.4m36.5 0h1.4m-17.3 6.2h1.4m15.5 0h1.4m-141 6.2h1.4m13.6 0h1.4m26.5 0h1.4m18.5 0h1.4m53.5 0h1.4m7.6 0h1.4m-124.1 6.2h1.4m7.6 0h1.4m31.5 0h1.4m78.4 0h1.4m-52.3 6.2h1.4m-76.2 6.2h1.4m5.6 0h1.4m5.6 0h1.4m4.5 0h1.4m3.6 0h1.4m38.5 0h1.4m2.6 0h1.4m4.6 0h3.4m6.6 0h1.4m25.5 0h1.4m41.5 0h1.4m-156 6.2h1.4m67.4 0h1.4m11.6 0h1.4m52.5 0h1.4m12.5 0h1.4m-150 6.2h1.4m10.6 0h1.4m11.5 0h1.4m12.6 0h2.4m2.6 0h1.4m3.6 0h1.4m36.5 0h1.4m6.6 0h1.4m3.5 0h1.4m9.6 0h1.4m39.5 0h1.4m-153 6.2h1.4m8.6 0h1.4m9.5 0h1.4m23.6 0h1.4m11.5 0h1.4m28.6 0h1.4m31.5 0h1.4m19.5 0h1.4m-86.1 6.2h1.4m19.5 0h1.4m-68.2 6.2h1.4m20.5 0h1.4m4.6 0h1.4m3.6 0h1.4m5.6 0h1.4m6.5 0h1.4m41.5 0h1.4m13.6 0h1.4m1.6 0h1.4m7.6 0h1.4m22.5 0h1.4"/>
<path stroke="#daa" stroke-width="6.65" d="M142.7 42.7h1.4m8.6 0h1.4m-131.1 6.2h1.4m20.5 0h1.4m-22.3 6.2h3.4m26.5 0h1.4m21.5 0h3.4m24.6 0h1.4m23.5 0h1.4m-106.1 6.2h1.4m53.4 0h1.4m6.6 0h1.4m37.5 0h1.4m3.6 0h1.4m3.6 0h1.4m-113.1 12.4h1.4m100.3 0h1.4m43.5 0h1.4m-86.2 12.4h1.4m17.6 0h1.4m36.5 0h1.4m17.5 6.2h1.4m-76.2 12.4h1.4m74.4 12.4h1.4"/>
<path stroke="#bbc" stroke-width="6.65" d="M163.6 42.7h1.4m-75.2 6.2h1.4m-43.3 18.6h1.4m72.4 0h1.4m-105.1 12.4h1.4m51.5 0h1.4m10.5 0h1.4m23.6 0h1.4m40.5 0h1.4m-33.4 12.4h1.4m30.6 0h1.4m-61.3 12.4h1.4m-33.3 6.2h1.4m23.5 0h1.4m80.4 0h1.4m-93.1 6.2h1.4m13.5 0h1.4"/>
<path stroke="#cbc" stroke-width="6.65" d="M18 48.9h1.4m1.6 0h1.4m52.5 0h1.4m11.5 0h1.4m37.5 0h1.4m19.6 0h1.4m-34.4 12.4h1.4m9.6 0h1.4m-85.2 6.2h1.4m58.5 0h1.4m57.4 0h1.4m-43.3 6.2h1.4m-78.2 6.2h1.4m53.5 0h1.4m19.5 0h1.4m35.5 0h1.4m-127 6.2h1.4m59.4 0h1.4m27.5 0h1.4m8.6 0h1.4m-113.1 6.2h1.4m38.5 0h1.4m40.5 0h1.4m12.6 0h1.4m19.5 0h1.4m2.6 0h1.4m25.5 0h1.4m-122.1 6.2h1.4m24.6 0h1.4m51.4 0h1.4m16.6 0h2.4m2.6 0h1.4m15.5 0h1.4m-141 6.2h1.4m7.6 0h1.4m11.5 0h1.4m12.6 0h1.4m10.6 0h1.4m5.5 0h1.4m3.6 0h1.4m48.5 0h1.4m21.5 0h1.4m4.6 0h1.4m-101.1 6.2h1.4m43.5 0h1.4m34.5 0h1.4m-123.1 6.2h1.4m5.6 0h1.4m54.4 0h1.4m9.6 0h1.4m45.5 0h1.4m14.5 0h1.4"/>
<path stroke="#cbd" stroke-width="6.65" d="M30 48.9h1.4m119.3 0h1.4m-122.1 18.6h1.4m1.6 6.2h1.4m34.5 6.2h1.4m59.4 0h1.4m20.6 0h1.4m-90.2 12.4h2.4m24.5 0h1.4m19.6 0h1.4m54.4 0h1.4m-30.3 6.2h1.4m-88.2 12.4h1.4m37.5 0h1.4m74.4 0h1.4"/>
<path stroke="#c99" stroke-width="6.65" d="M38.9 48.9h1.4m102.4 12.4h1.4"/>
<path stroke="#cab" stroke-width="6.65" d="M93.8 48.9h1.4m-77.2 12.4h1.4m18.5 0h1.4m90.4 6.2h1.4m3.6 6.2h1.4m-109.1 12.4h1.4m6.6 0h1.4m49.4 0h1.4m-65.2 6.2h1.4m146.2 6.2h1.4m-17.3 6.2h1.4m-1.4 6.2h1.4m-116.2 6.2h1.4m8.6 0h1.4m76.4 0h1.4"/>
<path stroke="#aad" stroke-width="6.65" d="M145.7 48.9h1.4m-110.2 18.6h1.4m50.5 0h1.4m19.6 0h1.4m-15.4 12.4h1.4m2.6 0h2.4m55.4 0h1.4m12.6 0h1.4m-90.2 12.4h1.4m-61.2 18.6h1.4m2.6 0h1.4m11.5 0h1.4m61.5 0h1.4m57.4 0h1.4"/>
<path stroke="#c9b" stroke-width="6.65" d="M160.6 48.9h1.4"/>
<path stroke="#bab" stroke-width="6.65" d="M166.6 48.9h1.4"/>
<path stroke="#dab" stroke-width="6.65" d="M124.7 55.1h1.4m-105.1 6.2h1.4m7.6 0h1.4m39.5 6.2h1.4m27.5 6.2h1.4m-64.3 12.4h1.4m-4.3 18.6h1.4m38.5 0h1.4"/>
<path stroke="#d76" stroke-width="6.65" d="M108.8 61.3h1.4"/>
<path stroke="#89c" stroke-width="6.65" d="M160.6 61.3h1.4m1.6 0h1.4m-79.2 49.6h1.4"/>
<path stroke="#9ac" stroke-width="6.65" d="M165.6 61.3h1.4m-133 31h1.4m112.3 0h1.4m-117.1 18.6h2.4m20.5 0h1.4m-26.3 6.2h1.4"/>
<path stroke="#abd" stroke-width="6.65" d="M167.6 61.3h1.4m-29.3 6.2h1.4m-103.2 12.4h1.4m65.5 0h1.4m-36.3 31h1.4m65.4 0h1.4"/>
<path stroke="#b9b" stroke-width="6.65" d="M52.9 67.5h1.4m6.6 0h1.4m-45.3 49.6h1.4"/>
<path stroke="#bcd" stroke-width="6.65" d="M55.9 67.5h1.4m55.5 12.4h1.4m-67.3 12.4h1.4m31.5 0h1.4m-22.3 24.8h1.4"/>
<path stroke="#cce" stroke-width="6.65" d="M57.9 67.5h1.4m23.5 0h1.4m6.6 0h3.4m1.6 0h1.4m15.6 0h1.4m14.5 0h1.4m26.5 0h1.4m13.6 0h1.4m-123.1 12.4h1.4m43.5 0h1.4m37.5 0h1.4m-108.1 12.4h1.4m2.6 0h1.4m69.4 0h1.4m38.5 0h3.4m26.5 0h1.4m-132.1 6.2h1.4m67.5 0h1.4m-64.3 12.4h1.4m18.6 0h1.4m22.5 0h1.4m24.5 0h1.4m11.6 0h1.4"/>
<path stroke="#bac" stroke-width="6.65" d="M77.8 67.5h1.4m31.6 0h1.4m20.5 0h1.4m30.5 0h1.4m-49.3 6.2h1.4m-66.2 6.2h1.4m31.5 0h1.4m39.5 0h1.4m36.5 0h1.4m-84.2 12.4h1.4m4.6 0h1.4m33.5 0h1.4m32.5 6.2h1.4m-40.3 6.2h1.4m-72.2 6.2h1.4m93.4 0h1.4m9.6 0h1.4"/>
<path stroke="#a9b" stroke-width="6.65" d="M148.7 67.5h1.4m-10.4 12.4h1.4m-83.2 6.2h1.4"/>
<path stroke="#c9a" stroke-width="6.65" d="M64.9 73.7h1.4m80.4 31h1.4m-.4 12.4h1.4"/>
<path stroke="#dce" stroke-width="6.65" d="M130.7 79.9h1.4m31.5 31h1.4"/>
<path stroke="#ebc" stroke-width="6.65" d="M64.9 86.1h1.4m33.5 12.4h1.4m71.4 6.2h1.4"/>
<path stroke="#cbb" stroke-width="6.65" d="M68.9 86.1h1.4m83.4 6.2h1.4m-41.3 18.6h1.4"/>
<path stroke="#b9a" stroke-width="6.65" d="M94.8 86.1h1.4m55.5 12.4h1.4"/>
<path stroke="#c89" stroke-width="6.65" d="M109.8 86.1h1.4"/>
<path stroke="#fef" stroke-width="6.65" d="M110.8 86.1h1.4"/>
<path stroke="#88b" stroke-width="6.65" d="M49.9 92.3h1.4m8.6 18.6h1.4m14.5 0h1.4m64.5 0h1.4"/>
<path stroke="#99b" stroke-width="6.65" d="M59.9 92.3h1.4"/>
<path stroke="#fee" stroke-width="6.65" d="M37.9 98.5h1.4"/>
<path stroke="#78b" stroke-width="6.65" d="M16 110.9h1.4m18.5 0h1.4m36.6 0h1.4m68.4 0h1.4"/>
<path stroke="#77b" stroke-width="6.65" d="M30 110.9h1.4"/>
<path stroke="#67b" stroke-width="6.65" d="M37.9 110.9h1.4m55.5 0h1.4"/>
<path stroke="#88c" stroke-width="6.65" d="M114.7 110.9h1.4"/>
<path stroke="#cac" stroke-width="6.65" d="M171.6 110.9h1.4"/>
<path stroke="#cde" stroke-width="6.65" d="M42.9 117.1h1.4"/>
<path stroke="#caa" stroke-width="6.65" d="M123.7 117.1h1.4"/>
<text x="176.5" y="24.3" font-size="4.6" textLength="13.8" lengthAdjust="spacingAndGlyphs" font-weight="bold" fill="#000">Patient</text>
<text x="176.5" y="31.3" font-size="4.6" textLength="12.2" lengthAdjust="spacingAndGlyphs" font-weight="bold" fill="#000">Phase</text>
<text x="176.6" y="37.8" font-size="4.8" textLength="9.12" lengthAdjust="spacingAndGlyphs" fill="#383838" stroke="#383838" stroke-width="0.12">HSC</text>
<text x="176.6" y="44.03" font-size="4.8" textLength="9.36" lengthAdjust="spacingAndGlyphs" fill="#383838" stroke="#383838" stroke-width="0.12">MPP</text>
<text x="176.6" y="50.26" font-size="4.8" textLength="9.6" lengthAdjust="spacingAndGlyphs" fill="#383838" stroke="#383838" stroke-width="0.12">CMP</text>
<text x="176.6" y="56.49" font-size="4.8" textLength="9.84" lengthAdjust="spacingAndGlyphs" fill="#383838" stroke="#383838" stroke-width="0.12">GMP</text>
<text x="176.6" y="62.72" font-size="4.8" textLength="8.4" lengthAdjust="spacingAndGlyphs" fill="#383838" stroke="#383838" stroke-width="0.12">CLP</text>
<text x="176.6" y="68.95" font-size="4.8" textLength="8.4" lengthAdjust="spacingAndGlyphs" fill="#383838" stroke="#383838" stroke-width="0.12">ETP</text>
<text x="176.6" y="75.18" font-size="4.8" textLength="8.64" lengthAdjust="spacingAndGlyphs" fill="#383838" stroke="#383838" stroke-width="0.12">DN1</text>
<text x="176.6" y="81.41" font-size="4.8" textLength="8.64" lengthAdjust="spacingAndGlyphs" fill="#383838" stroke="#383838" stroke-width="0.12">DN2</text>
<text x="176.6" y="87.64" font-size="4.8" textLength="12.48" lengthAdjust="spacingAndGlyphs" fill="#383838" stroke="#383838" stroke-width="0.12">DN2-3</text>
<text x="176.6" y="93.87" font-size="4.8" textLength="11.52" lengthAdjust="spacingAndGlyphs" fill="#383838" stroke="#383838" stroke-width="0.12">DN3A</text>
<text x="176.6" y="100.1" font-size="4.8" textLength="11.52" lengthAdjust="spacingAndGlyphs" fill="#383838" stroke="#383838" stroke-width="0.12">DN3B</text>
<text x="176.6" y="106.33" font-size="4.8" textLength="12.48" lengthAdjust="spacingAndGlyphs" fill="#383838" stroke="#383838" stroke-width="0.12">DN3-4</text>
<text x="176.6" y="112.56" font-size="4.8" textLength="8.64" lengthAdjust="spacingAndGlyphs" fill="#383838" stroke="#383838" stroke-width="0.12">DN4</text>
<text x="176.6" y="118.79" font-size="4.8" textLength="6" lengthAdjust="spacingAndGlyphs" fill="#383838" stroke="#383838" stroke-width="0.12">DP</text>
<rect x="197.5" y="20.5" width="4.8" height="71.5" fill="url(#cb3)"/>
<text x="205" y="23.9" font-size="4.6" textLength="2.3" lengthAdjust="spacingAndGlyphs" fill="#383838" stroke="#383838" stroke-width="0.12">3</text>
<text x="205" y="35.35" font-size="4.6" textLength="2.3" lengthAdjust="spacingAndGlyphs" fill="#383838" stroke="#383838" stroke-width="0.12">2</text>
<text x="205" y="46.8" font-size="4.6" textLength="2.3" lengthAdjust="spacingAndGlyphs" fill="#383838" stroke="#383838" stroke-width="0.12">1</text>
<text x="205" y="58.25" font-size="4.6" textLength="2.3" lengthAdjust="spacingAndGlyphs" fill="#383838" stroke="#383838" stroke-width="0.12">0</text>
<text x="204" y="69.7" font-size="4.6" textLength="3.68" lengthAdjust="spacingAndGlyphs" fill="#383838" stroke="#383838" stroke-width="0.12">-1</text>
<text x="204" y="81.15" font-size="4.6" textLength="3.68" lengthAdjust="spacingAndGlyphs" fill="#383838" stroke="#383838" stroke-width="0.12">-2</text>
<text x="204" y="92.6" font-size="4.6" textLength="3.68" lengthAdjust="spacingAndGlyphs" fill="#383838" stroke="#383838" stroke-width="0.12">-3</text>
<text x="215.5" y="24" font-size="4.6" textLength="13.8" lengthAdjust="spacingAndGlyphs" font-weight="bold" fill="#000">Patient</text>
<rect x="215.5" y="28" width="7.6" height="7.8" fill="#d13b30"/>
<text x="226.5" y="33.6" font-size="4.6" textLength="16.34" lengthAdjust="spacingAndGlyphs" fill="#383838" stroke="#383838" stroke-width="0.12">Patient 1</text>
<rect x="215.5" y="35.8" width="7.6" height="7.8" fill="#62ab57"/>
<text x="226.5" y="41.4" font-size="4.6" textLength="16.34" lengthAdjust="spacingAndGlyphs" fill="#383838" stroke="#383838" stroke-width="0.12">Patient 2</text>
<rect x="215.5" y="43.6" width="7.6" height="7.8" fill="#4a80c2"/>
<text x="226.5" y="49.2" font-size="4.6" textLength="16.34" lengthAdjust="spacingAndGlyphs" fill="#383838" stroke="#383838" stroke-width="0.12">Patient 3</text>
<rect x="215.5" y="51.4" width="7.6" height="7.8" fill="#9d5a2c"/>
<text x="226.5" y="57" font-size="4.6" textLength="16.34" lengthAdjust="spacingAndGlyphs" fill="#383838" stroke="#383838" stroke-width="0.12">Patient 4</text>
<rect x="215.5" y="59.2" width="7.6" height="7.8" fill="#8b55a8"/>
<text x="226.5" y="64.8" font-size="4.6" textLength="16.34" lengthAdjust="spacingAndGlyphs" fill="#383838" stroke="#383838" stroke-width="0.12">Patient 5</text>
<text x="215.5" y="92.7" font-size="4.6" textLength="12.2" lengthAdjust="spacingAndGlyphs" font-weight="bold" fill="#000">Phase</text>
<rect x="215.5" y="96.3" width="7.6" height="7.9" fill="#3a9a72"/>
<text x="226.5" y="101.9" font-size="4.6" textLength="5.52" lengthAdjust="spacingAndGlyphs" fill="#383838" stroke="#383838" stroke-width="0.12">G1</text>
<rect x="215.5" y="104.2" width="7.6" height="7.9" fill="#3b7fc0"/>
<text x="226.5" y="109.8" font-size="4.6" textLength="8.97" lengthAdjust="spacingAndGlyphs" fill="#383838" stroke="#383838" stroke-width="0.12">G2M</text>
<rect x="215.5" y="112.1" width="7.6" height="7.9" fill="#e0712f"/>
<text x="226.5" y="117.7" font-size="4.6" textLength="2.76" lengthAdjust="spacingAndGlyphs" fill="#383838" stroke="#383838" stroke-width="0.12">S</text>
<text x="308.6" y="16.8" font-size="11" textLength="7.15" lengthAdjust="spacingAndGlyphs" font-weight="bold" fill="#000">B</text>
<path stroke="#9050a8" stroke-width="1.12" stroke-linecap="round" d="M380.6 49.8h0m-4.4 14.4h0m4.8-8.7h0m-5.5-6.5h0m-2.5 14.4h0m9.6-14.3h0m-6 9h0m2.2 7h0m-2.3-11h0m3 9.7h0m5.5-2.7h0m-7-7.6h0m9.9 8.6h0m-11.4-12.5h0m-5.9 13.6h0m7.1-10.8h0m3.2 3.2h0m2.7 4.5h0m1.9-3.9h0m2.4 3h0m-7.9 4.8h0m-7.5-11.7h0m7.4 0h0m-2.2 12.7h0m8-6.4h0m-17 3.9h0m16.4-16.2h0m.2 6.7h0m-1.8-8.1h0m-11.4 8.3h0m13.4 3.4h0m-6 2.6h0m-4.3-12.2h0m-4.8 12.5h0m5.4-11.9h0m5.6 17h0m3.7-11.2h0m-16.7 12.6h0m4.3-15.2h0m.6 4.5h0m3.8-.6h0m3.8 3.1h0m-10.3 2.7h0m-2.3 7.2h0m18.4-3.6h0m-13.6-6.4h0m10.9 6.8h0m-7.4-5.3h0m.5-11h0m-4.4 16.2h0m-1.9 1.3h0m3-11.4h0m6.8 8.5h0m-.9-4.9h0m-7.4-8h0m4 10.8h0m5.4 2.1h0m-5.5-5.2h0m.4-8.5h0m-.1 12.5h0m8.2-14.5h0m-15.2 16.7h0m11.5-2.7h0m-4.7-6h0m.6-2.3h0m-5.6 13.8h0m4.7-12h0m-1.8 1.4h0m1.2 7.3h0m11.1-7.7h0m.2-2.6h0m-17.4 10.3h0m14.1-10.1h0m-8.3 1.7h0m7.7-1.5h0m1.5-5.4h0m-9.6 12.8h0m12.8 3.6h0m-1.5-.6h0m-9.8-3h0m-4.3-7.6h0m1.3 13.9h0m7.9-3.1h0m-3.7-2.7h0m1.5-14.8h0m-2 10.8h0m-2.4-9.5h0m12.3 7.2h0m-6.2-9.1h0m-8.4 19.2h0m.7-7.7h0m12.8-1.1h0m-17 4h0m13.6-6.8h0m-4.3-6.5h0m2.4-.1h0m4.8 17.3h0m-11.8-2h0m.8 3.2h0m8.2-8h0m-5.7 4.8h0m1.1-5.7h0m-8.5 3.7h0m15 4.7h0m-1.1-4.8h0m-10.9 2.6h0m8.2-4.5h0m-5.1 5.1h0m11.1 .9h0m.8-2.5h0m-3.6-5.4h0m2.2 2.7h0m-13.8 7.6h0m-.3-12h0m-2.2 9.5h0m.7 2.1h0m5.9-.5h0m-4.6-8.8h0m6.3-4.1h0m-6.2 4.6h0m8.8 0h0m-1.2 6.2h0m-2.7-.8h0m-3.7-14.7h0m9.5 11.8h0m-10.8 .7h0m14.1-4.1h0m-4.6-5.2h0m-1.2-1.7h0m7 8.1h0m-20.4-6h0m10.8-3h0m5.2 18.2h0m-11.2 3.2h0m17.5-7.8h0m-5 3.8h0m-9.4 4.4h0m-.7-22.8h0"/>
<path stroke="#4aa53f" stroke-width="1.12" stroke-linecap="round" d="M326.9 51h0m1-17.3h0m7.1 1.6h0m-10.7-2.8h0m-.8-.3h0m-2.9 22.9h0m6.2-6.3h0m-4.6 1.5h0m3.1-11.9h0m-7.7 2.8h0m9-6.1h0m-1 19.4h0m1-24.6h0m6.4 4.2h0m-2.3-4.1h0m-13.7 18.9h0m5.7 5h0m6.8-13.8h0m2.7 10h0m-2.9-20.1h0m-1.6 8.6h0m-2.7 3h0m3.3-2.4h0m2.6-6.1h0m-5.1 .7h0m-5.3 16h0m13.9-.4h0m-15.6 5.3h0m7.4-11.5h0m4.2-6.8h0m1.6 2.2h0m-6.9 13.7h0m-3.5-.4h0m4.9-19.6h0m-3.8 17.5h0m1.4 4.1h0m4.6-12.6h0m-6.7 11.5h0m14.3-23.6h0m-10.5 17.7h0m-1.3-14.2h0m1.6 2.8h0m7.2 2.9h0m-7.8-1.6h0m5.5-2.1h0m-13.7 20.2h0m2.9-1h0m-2.2-10.4h0m15.9-3.2h0m-5.3 9.9h0m-3.2-17.5h0m-1.7 2.9h0m-4.5 21h0m12-15.2h0m-1.6 8.3h0m-12.7 3.5h0m10-8.6h0m-3.3-2.4h0m-2.7 12h0m7.2-5.9h0m-5.9-8.5h0m11 6.7h0m4.4-16.4h0m-5.4 6.4h0m-12.8 2.7h0m17.6-7.3h0m-17.6 24.9h0m12-20.1h0m-10.7 7.4h0m6-2.1h0m3.2-8h0m-3.4-.5h0m-.3 11.8h0m1.4 4.6h0m-8.3 3.9h0m15.2-16h0m-2.3 8.5h0m-.7-2.4h0m3.6-13.4h0m-16.9 24.6h0m11.2-23.2h0m-4.6 22.6h0m-.2-20h0m-4.9 10.7h0m3.5-9.6h0m5.7 10h0m-10.1 3.7h0m3.4-13.1h0m-3.9 19.9h0m9.6-21.3h0m5.6 5.9h0m-13.7 10.2h0m7.3-20.7h0m4.2 1.5h0m1.2 6.2h0m-10.5 6.4h0m.5 7.4h0m2.8-6.6h0m-1.9 10.5h0m10.9-5.5h0m-8.5 1.1h0m1.9-5.2h0m-4.4 6.9h0m5.6-16.6h0m-2.7 13.7h0m5.1-2.7h0m-13.6-1.7h0m1.3-7.6h0m11.2 2.4h0m1.8-9.1h0m-3.2 2.7h0m-.2 17.3h0m7.1-17h0m-14.5 15.2h0m9.9-16.8h0m-11.5 17.2h0m11.5-10.1h0m2.9-7h0m1.9-3.2h0m-2.5 19.4h0m-11.6 8h0m7.9-13.4h0m-9.1-3.5h0m-1.2 8.1h0m3.7-.9h0m-1.9 7.5h0m3.6-12.9h0m4.9-8h0m-2.7 17.3h0m.2-11.7h0m3.4 11.5h0m2.8-10.5h0m-13.8 12.5h0m7.5-21.7h0m-3 19.5h0m-2.6 3.2h0m-4.7-12h0m18.3-8.6h0m-8.2-2.1h0m3.9 7.5h0m-.9-7.6h0m-9.9 18.8h0m4.7-14.4h0m6.2 13.1h0m-1.9-4.5h0m-2-11.3h0m5.4 16.6h0m-13.6-3.3h0m6.5 7.5h0m-4.7 .7h0m12-9.1h0m-3-13.6h0m.1 11.7h0m-8.5-1h0m-2.4 2.9h0m6.6-.5h0m4.4-12.1h0m-2.1 5.4h0m-2.1 4.6h0m-5.8 7.6h0m12.5-15.4h0m-4.1 10.5h0m3.8-5.8h0m-4.4-4.9h0m-1.8-.1h0m0 4.4h0m-7.3 17.3h0m18.5-22.3h0m-23.4-1h0m-.4 7.2h0m9.7-12.7h0m-7.4 8.5h0m17 17.6h0m6.8-14h0m-2.2 4.4h0m-22.4-9.3h0m26.7 6.5h0m-2 9h0m1-9.5h0m-2.6-2.5h0m-21.5-8h0m13.8-4.1h0"/>
<path stroke="#a2501e" stroke-width="1.12" stroke-linecap="round" d="M357.6 75.8h0m12.3 2.8h0m-16.4-8.1h0m-6.8 9.5h0m13.8-10.5h0m-2.6 14.6h0m-7.6-18.5h0m7.2 14.3h0m3.3-3.3h0m-5.4 4.1h0m-.3-2.3h0m4.8-10.9h0m-4.4 9.4h0m-3.1 5.2h0m4.3-14.7h0m14.4 15.5h0m-15.4-9.8h0m-3-1.7h0m-10.3 8.7h0m14-14.1h0m-6.1 15h0m1.1-5.6h0m-6.7-4.2h0m10.4 5.3h0m11.1 3.7h0m-28-1.6h0m22.4 .3h0m-4-11.2h0m-4.9 15h0m-9.3-5.8h0m9.3-8.4h0m9.9 13.7h0m-6.2-10.8h0m8.7-2.9h0m-12.8 .8h0m16 11.4h0m-11.3 1.6h0m7-12.4h0m-20.7 6.7h0m19.9 3.4h0m-21.8 .2h0m24.1 1.4h0m-17.2-7.5h0m12.7-6.3h0m5.7 2.1h0m-.3 9.4h0m-14.3-5.2h0m1.4-7.3h0m16 17h0m-11.8-12h0m-1.2 8.4h0m-10.7-6.2h0m13.1-4.3h0m-1.7 0h0m10.9 3.1h0m-10.8-5.3h0m4.8 11.7h0m2-10.6h0m-22.9 8.2h0m9.3 2.5h0m9.1-7.5h0m6.2 4.5h0m-10.8-1.7h0m7.4 2.5h0m-4.2 2h0m-7.4-8.4h0m1.7 7.8h0m-5.3-3.2h0m20 9.6h0m-3.9-.9h0m-3.8-9h0m-13.1-5.8h0m8.6-2.9h0m-13.9 11.1h0m7.8-9.9h0m5.3 .1h0m6 2.2h0m-3.5 9.9h0m11.2-6.1h0m-20.2 .2h0m21.8 5.6h0m-8.4-9.8h0m8.2 9.6h0m-10.7 .2h0m-13.5-2.7h0m19-9.9h0m-15.9 4.3h0m5.6 8.8h0m10-10.8h0m-15.6 10.4h0m5.3-11.6h0m7.3 1.3h0m-10.2 2.4h0m4.4-6.7h0m7 2.1h0m-4.1 9.4h0m-12.3 3.3h0m9.6 2h0m-2.8-12.9h0m-2.8 10.4h0m12.3-10h0m6.2 9.5h0m-4.2-1.2h0m5.1-2.8h0m-14.9-8.8h0m4.7 17.1h0m-11.2-16.7h0m21.4 5.7h0m-2.7 3.7h0m-18.9-3.5h0m8.6 0h0m-13.9 8h0m4.4-8.4h0m0 3.8h0m22 6.5h0m-16.6-3.5h0m6.9-4.2h0m-2.4 9.3h0m12.2-3.6h0m-17.4-5.4h0m10.3 1.7h0m-7.7 3h0m6.1-9.6h0m4.5 12.2h0m2.1-2.8h0m.3 .9h0m-7.1 1.4h0m1.2-4.4h0m3.8 3.7h0m-1.5-2.9h0m-9.5-2.7h0m11.7 8h0m-25.5-5.5h0m17.9-8.5h0m10 1.8h0m-25.6 9.8h0m9.3-2.8h0m-6.9-2.8h0m10.2-7.1h0m7.8 12h0m-8.4-12h0m16.2 7.3h0m-17.2-6.3h0m-4.2 12.7h0m9.4 2.3h0m.8 .5h0m9.1-1.5h0m-17.8-2.3h0m7.8-8.7h0m3.5 8.4h0m-7.8-4.5h0m8.9-8.1h0m6.2 .5h0m-2.9 14.3h0m3.8-4h0m-4.1-6.7h0m-15-4.3h0m5.7 10.1h0m-5.9 5.2h0m19.2-9.1h0m-11.2-.6h0m-8.7 4.8h0m2.8-3.4h0m6.4-6.3h0m-17.1 12.4h0m2.3-8.1h0m9.5 2.2h0m-11.9 1.2h0m16.2 5.8h0m10.9 1.3h0m-30.7-16.2h0m5 2.5h0m35.3 3.3h0m-18.6 13.5h0m18.3-8.1h0m-16.9 10.5h0m-8.9-26.1h0m-11.4 8.8h0m35.6 6.8h0m-.2-1.7h0m-17.2-10.6h0m-20.7 14.2h0m28.1 3.6h0m-22.5-14.6h0m22.5 14.7h0m11.5-13.6h0m-5.9 13.1h0m-28.4-2.9h0m12.8 7.6h0"/>
<path stroke="#3a7cc0" stroke-width="1.12" stroke-linecap="round" d="M350.8 49.1h0m17.7 2.8h0m-15.4 4.9h0m.3-2.9h0m4.6-6.3h0m13.3 1.8h0m-18.4 .2h0m13.9 8.2h0m-3.2 3.3h0m-12.5 .8h0m9.9-11.8h0m-3.8 1.9h0m5.8 9.7h0m-1.4 .9h0m-1-3.3h0m-9.3-6.5h0m16.1-1.8h0m-11-5.1h0m9.6 13.3h0m-6.8-4.4h0m-6.4-.9h0m15.9-6.1h0m-15 13.4h0m-3.3-7.9h0m2.4 6.9h0m9-5.9h0m-8.2-3.4h0m12.2-2h0m.1 3h0m-10.4 11.6h0m-.5-6.3h0m6.7 6.9h0m-8.8-7.2h0m-3.5-5h0m14 2.6h0m5-2.8h0m-6 12.7h0m-8.8-3h0m9.5-9.1h0m-5 5.5h0m3.2-4.2h0m-7.2-.6h0m12.3 1.5h0m1.4 2.3h0m-16.1-5.6h0m-.1-3.1h0m9.9 9.6h0m8.4-9.7h0m-15.6 5.1h0m9.2-1.3h0m-4.9-3.3h0m-1.7 15.4h0m6.7-13.7h0m2.6 9.6h0m-1.4-9.3h0m-14.3-.3h0m1.7 2h0m-.7-3.8h0m7.8 7.1h0m-5.2 5.6h0m-5.7-.4h0m17.3-6.2h0m-4.5-9.2h0m-8.2 16.5h0m13.1-9.6h0m-7.6-4.3h0m-5.9 6.3h0m2.6-6h0m-7.6 3.8h0m16.6 11.9h0m4.2-8h0m-17.7-3.8h0m5.5 5.6h0m-6.8-4.5h0m7.9 6.2h0m10.6-12h0m-11.7 6.9h0m8.2 5.5h0m-6.8-.2h0m5.4 4.2h0m-5.9-4.6h0m2.7-13h0m-7.2 17.4h0m14.2 1h0m1.1-10.2h0m-.9 8h0m-13.9-14.2h0m4.5 16.4h0m-3.6-14.7h0m17.8-1.2h0m-13.7-2.8h0m2-.2h0m-5.4 8.9h0m4.3 5.1h0m-12.1-5.7h0m12.2 9.2h0m7.7 1.1h0m-10.9-2.6h0m-5.9-2.4h0m-1.3-5.1h0m4.9 3.8h0m.3-5.9h0m16.9-4.1h0m-6.5 2.1h0m-.2 7.9h0m-5.9-12.4h0m-6.7 16.5h0m-3.5-9.5h0m3 4.7h0m-2.6-1.3h0m10.4-.2h0m5.1 1.9h0m1-.7h0m3.4-8.5h0m-18.1 12.2h0m18.1-10.5h0m-16.1 12.5h0m1.2-14.8h0m-4.4 6.7h0m19.1-3.6h0m-20.7 6.1h0m20.9-10.6h0m-15.1 5.8h0m-2.1 9.4h0m12.3-1.4h0m-1.4-5.5h0m.7 3.5h0m-3.4 2.2h0m-8.2-12.6h0m9.8 6.7h0m-12-1.9h0m13.4-.6h0m-.1 14.2h0m-7.1-17.2h0m1.1 7.1h0m10.1-5.1h0m6.3-3.4h0m-6.6 16.5h0m-1-9.5h0m2.7-.1h0m-10-3.2h0m4 6.7h0m1.5 5h0m-12.1-9h0m12 8.5h0m-6.6 2.1h0m1.4-19.5h0m7.8 2.1h0m1.6 8.9h0m-18.2-.2h0m8.5 3.2h0m-3.7 4.7h0m-3.5-4.8h0m9.5 6.4h0m3.2-7.4h0m-.7 1.3h0m-.1-10.9h0m-12.3 8.5h0m.6-9.4h0m8 2.7h0m10.6 6.7h0m-7 5.3h0m-10.7-14.2h0m4.2-2.2h0m.4 4.3h0m11.8-3.7h0m-1.2 7.6h0m-12 3.7h0m13-.3h0m-10.5-4.3h0m7.6-4.1h0m-1.6 3.4h0m7.2-1.1h0m-14.1 4.6h0m1.6-7.1h0m4.8-2.6h0m-1.2 17.3h0m1.8-17.8h0m.9 5.7h0m-4.3 3.3h0m-4.5 3h0m13.5 .3h0m-2.5-10.6h0m-8 11.6h0m10.3-4.9h0m-1.6 11.4h0m-2.6 2.9h0m4.3-2.8h0m2.2-2.9h0m-24.7-8.9h0m28.4 11.6h0m-.4-4.9h0m-17.2 5.4h0m-1 2.1h0m-.9-22.8h0m-8.2 21.3h0m3.3-20.1h0m14.3 23.8h0m8.2-19.1h0m-3.7-5.1h0m-20.8 11.2h0m12.7 10.1h0m4.7 2.9h0m8.3-17.9h0m-9-7.6h0m-16.3 5.8h0"/>
<path stroke="#f08a22" stroke-width="1.12" stroke-linecap="round" d="M378.4 81.9h0m-1.7-3.5h0m6.3-2.5h0m-4.1 2h0m-5.6 3.5h0m6.1-.1h0m-3.6-12.3h0m1.1 2.6h0m1.5 5.4h0m-1.2-2.4h0m-3.3-3.2h0m2.5-.8h0m11.4-4.3h0m-14.8 3.6h0m1 6.9h0m.3-2.4h0m4.8-8.3h0m.5 5.7h0m-2.8-3.4h0m9.6-.5h0m-3.7 2.9h0m-5.9 7.3h0m10.1-12.9h0m-12 2h0m.5 15.2h0m5.7-4.4h0m-9.8 1.7h0m6-7.5h0m9.3-.3h0m-3.5-3.5h0m3.5 3.3h0m-13.2 11h0m-4-11.6h0m4.8 11.9h0m2.1-14.1h0m3.3-2.7h0m-.2 4.7h0m4.5-4.8h0m-2.1 12h0m-7.6-5.8h0m5.9-4.2h0m-3.1-.1h0m-.9 .8h0m3.8-.7h0m0 3.9h0m-4.9-.8h0m11.6-3.2h0m-15.4 10h0m4.5 3h0m.1-8.3h0m.6 6.9h0m-3.4-3.2h0m6.3 3.9h0m-5.7-2.5h0m2.4 4.4h0m-1-1.8h0m-1 1.1h0m5.4-11.2h0m-2.9 1.6h0m-6.7-2.3h0m2 3.8h0m2.8 9.3h0m9.8-14.7h0m-.8 6.2h0m1.1-3.3h0m-4.4 1.2h0m-7.8 2.4h0m9.8 1.2h0m-8.5 7h0m-4.3-10.7h0m9-2.3h0m-.3-3.2h0m2.9 2h0m-5 11.3h0m5.1-7.7h0m-8.8 2h0m6.3 1.7h0m-8.9 .3h0m14.8-.5h0m-6 4.5h0m-4.3-2h0m-.8-6.1h0m13.7-3.4h0m-.2 2.3h0m-12-2.4h0m5.5 .8h0m-.4 10h0m3.6-1.7h0m3.1-10.5h0m-5.3-.6h0m.8 3.6h0m-3.2 8.5h0m-2.2 3.1h0m7.2-5.1h0m-9.2-6.6h0m5.4 10.2h0m3.2-3.9h0m1.4-3.7h0m-2.3-2.5h0m-4.4 7.4h0m4.4-5.8h0m0-1.4h0m-10.2 3.4h0m2.4-4.1h0m-1.1 11.7h0m3.9-6.7h0m3-3.4h0m-.5 8.1h0m5.7-14.7h0m3.2 2.5h0m-3.3 11.1h0m-4.7 2.5h0m-4.7 1.7h0m9.8-15.1h0m5.5 4.7h0"/>
<path stroke="#cc2020" stroke-width="1.12" stroke-linecap="round" d="M350.1 27h0m4.9 11.4h0m-6.3-13.8h0m30.9 8.3h0m-20.2-7.4h0m-1.3 8.1h0m19.9 8.8h0m-25.2-3.7h0m1.8-6.1h0m-2.4 8.9h0m9.6-22.3h0m3.4 21h0m.3-11.9h0m5.8-4.9h0m-19-3.5h0m3.2 8.7h0m19-5.2h0m.2 17.1h0m-16.9-10.7h0m13.9-7.2h0m-22.3 13.5h0m18.4-3.2h0m4.5-12.2h0m-18.5 9.2h0m-2.1 13.5h0m11.7-15.2h0m13.5 6.5h0m-24.8 .3h0m12.5 5.5h0m8.1-3.4h0m12.2 4.6h0m-14.1 5.2h0m-2.5-26.7h0m-1 17h0m-20.2-13.9h0m16.9 17.2h0m-16-16.8h0m36.6 19h0m-5.9 0h0m-25.5-8.2h0m-6.4-7.2h0m29.4 4.3h0m-20 7.9h0m18-6.3h0m-16.2 7.7h0m19 2.1h0m-20.9-12h0m13.2-2.5h0m-23.9-5.9h0m20.1 21.7h0m11.6-20.8h0m-21.7 17.9h0m23.4-11.5h0m.1 14.1h0m-23.1-5.6h0m19-16.7h0m-8.3 23.2h0m-8.1-17.9h0m11.9-4.6h0m-9.2 0h0m19 15.6h0m-3.4-3.7h0m-12.1 10.2h0m-11.8-12.4h0m11.5-14.1h0m-14.4 4.7h0m15.3 7.7h0m.9 10h0m-17.5-13.9h0m25 12.3h0m4-14.1h0m-17.5 19.6h0m10.6-23.6h0m-7.8 6.7h0m1.9 5.7h0m.5-7.5h0m3.9 17h0m2.4-13.2h0m-21.1-3h0m19.8 3.2h0m-1.7-9.5h0m-3 10.7h0m-14.1-11.1h0m21.1 23.9h0m-15.2 1.2h0m13.2-18.3h0m13.5 14.1h0m-9.5-15.4h0m-7 5.8h0m-1.8-1.4h0m-17.3 4.4h0m13.7 6.4h0m-12.9-18.7h0m10.7 11.2h0m-6.4-4.1h0m-2.6 3.4h0m.2-5.3h0m5.3 8.5h0m23.6 2.2h0m-13.7 6.7h0m9.2-5.2h0m-7.5 1.5h0m1.3 2.7h0m12.1-.9h0m2.4-1.2h0m-31.8 1.4h0m25.9 1.9h0m-8.7-4.4h0m3.1 3.1h0m-25.9-17.7h0m34.1 18.1h0m-22.9-13.6h0m3 15h0m15.5-18.6h0m-11.7-4.5h0m1.6 6.4h0m-14.8 1.9h0m13.8 2.2h0m-16-1.3h0m-4.5-.4h0m28.8 14.6h0m5.9-6.1h0m-30.8-11h0m13.6 4.1h0m-12.5-3.8h0m29.9 10.8h0m1.1-11.9h0m2.8 11h0m-19.9-19.3h0m7.7 11.5h0m6.3 14.9h0m-8.3 .9h0m11.5-7h0m-5.1-13.5h0m-11.3-2h0m-1.8 14.3h0m21.7-.2h0m-21-12.6h0m-3.1-2.6h0m3.7 8h0m2-2.1h0m-15.4-4.5h0m10.2 5.8h0m-11.9-9h0m8.4-.6h0m7.7 5.9h0m7.9 16.2h0m8.5-10.4h0m-9.9 4.2h0m-18.7-15h0m4.7 11.8h0m-.7 9h0m5.8-2.4h0m-16.4-17.8h0m33.2 5.7h0m-24.8 13.2h0m.9-5.1h0m1.8 4.8h0m9.4 3h0m-14.2-22.9h0m-6.5 4.7h0m11.8 7.2h0m16.9 3.6h0m-19.8 5.2h0m-4.5-11.2h0m16.8-1.4h0m.8-1h0m-19.9 3.3h0m4.9 6.1h0m-9.5-10.2h0m4.4 1.1h0m17.8 7.1h0m-18.2-2.1h0m20.7-12.8h0m-11.5 4.3h0m26.9 9.4h0m-24.7-6.6h0m4.2 6.2h0m2.4-1.3h0m-14.6-.3h0m28 10.3h0m5.1 .3h0m-11.6-12.6h0m-1 17.1h0m-4.7-4.5h0m4.8 4.2h0m8-18.8h0m-31.6-4.1h0m31.4 12.9h0m-22.6-.9h0m1.9-3.4h0m-.3 5.7h0m-2.8-17.7h0m-9.3 7.1h0m38.5 15.1h0m-16.1-12.2h0m-11.4-3.7h0m15 5.9h0m-23.5-3.8h0m30.9 6.3h0m-6.4-6.3h0m-8.1 14.7h0m-8.8-14.5h0m14 13.5h0m-11.5 2h0m2.1-23.1h0m-13.4 13.4h0m10.3-10.4h0m9.9 6.3h0m-19.2 4.3h0m23.6 9.5h0m-4.7-21.2h0m-3-1.9h0m.2 16.3h0m14.9-10.5h0m-26.5 12h0m11-5.4h0m8.7-3.1h0m-3.1-6.6h0m.3 5.9h0m2.9 16.4h0m-19.2-5h0m7.9-.9h0m-11.2-7h0m9.2 10.6h0m-8.8-14.9h0m31.8 13h0m-17.5-2.5h0m-8-14.4h0m9.6 18h0m12.2-7h0m-29.3-9.9h0m32.2 8.8h0m-6.8-10.4h0m-1.8 7.9h0m-7.7-4.6h0m8.7-4.7h0m-25.9-1.1h0m25.1 10.3h0m-8.8-13.2h0m-6.3 5.5h0m-9.8 10.5h0m21-7.9h0m6.2 9.7h0m-17.4-3h0m-11.9-7.1h0m21.9 6.9h0m-2.5 8.6h0m-3-15.8h0m18.8 9.2h0m-1.3 4.2h0m-5.1-5.4h0m-28.8-1.3h0m6.2-8.7h0m.3-1.6h0m9.2-.1h0m19.1 4.2h0m-29 8.8h0m10.1-15.9h0m8.8 6.1h0m9.6 19h0m-34.3-18.4h0m31.4 9.9h0m-.4-7h0m-6.3-7.8h0m-.9-.4h0m-26.3 9.4h0m20.5 10.1h0m-1-19.6h0m7.1 14.1h0m2.3 2.7h0m-10-18.7h0m4.1 10.3h0m-8.4-3.1h0m25.8 13.4h0m-10.4-8.4h0m-8 .7h0m-11.1-4.1h0m21.6 7.2h0m.4-5.1h0m-22 9.2h0m-.4-4.2h0m-1.7-.2h0m28.2 6h0m-33.8-10.1h0m8 5.5h0m13-4h0m-14.4 11.8h0m-10.7-15.9h0m16.7 7.2h0m16.9 3.4h0m-21.6-7.7h0m5.8 6.7h0m.1-7.2h0m-17.3-3.8h0m29.6 2.8h0m-8.1 1.6h0m10.9-9.7h0m-24.3 20.7h0m22.1-13h0m-25.9-2h0m30.1 1.2h0m-25.4 2.5h0m-5.3-.2h0m26.2-5.6h0m-14.6 19.3h0m-6.9-7.5h0m7.8-5h0m8-13.8h0m14.3 23.1h0m-8-12.8h0m-26.9-3.2h0m2.7 8.6h0m16-6h0m-1.4 15.4h0m-1.2-24.9h0m8.1 8.4h0m-3.5 17.4h0m-3.1-15.3h0m9.2 16h0m-20.5-22.6h0m28.3 6.5h0m-30.5 11.8h0m2.6-.2h0m2.8-7.7h0m11.6 11.3h0m-11.6-11.8h0m4.4-8.2h0m-6.9 2.2h0m1.6 17.3h0m20.7-12.1h0m-28.3-6.4h0m9.4-3.3h0m3 8.3h0m6.9 12.4h0m-3.8-1.5h0m-4.3-8.4h0m-1.3 .8h0m-5-5.4h0m26.9 10.4h0m-.6 1h0m-3.9-8.6h0m-15.9-7.1h0m17.9 12.9h0m-10.1-11h0m-12.3 11.9h0m8.1 2.2h0m-10.7-18.2h0m11.4-1h0m-20.2 5.1h0m7.1 8.5h0m27.1-6.2h0m-27.4 4.1h0m16.2 10.2h0m3.5-3.1h0m.9-1.9h0m-7.3-18.7h0m-1.7 13.2h0m-14.2-.8h0m13.3-8.1h0m-2.1 11.1h0m19.7 1.8h0m-22.7-17.2h0m13.6 5.4h0m-1.5-3.8h0m-15.5 10h0m9.2-.3h0m2.1-4.9h0m6.6 2h0m4.8-2.5h0m-16.7 18.9h0m-9.5-16.5h0m19.7 .6h0m-17-6.5h0m32.1 16.7h0m-35.1-10.9h0m25.2-5.5h0m-16.1 19.1h0m19-10.1h0m-1.5 .8h0m-.7-3.1h0m6.8 1.1h0m-19.3 1.7h0m.1-3.6h0m4.3 12.8h0m-9.1-19.4h0m-10.1 2.9h0m22.3-1.6h0m-6.4-.7h0m-19.9 7.5h0m27.4-15.2h0m-16.7 2.5h0m3.6 28.7h0m-11.2-.6h0m1.3-20.6h0m32.6-1.1h0m4.9 6.8h0m-23.9-12.2h0m22.4 13.6h0m-29.8-12.4h0m-8.3 11.3h0m4 12.9h0m12.7-24.1h0m7.9 28.8h0m-31.2-12.7h0m44.2-1.1h0m-8.7-17.1h0m-24 27.7h0m-.2-5.2h0m28.7-.6h0m-3.5-16.3h0m-17.1 25.2h0m-2.5-31.4h0m.2 29.3h0m30.5-12.1h0m-37 8.4h0"/>
<path stroke="#e27cba" stroke-width="1.12" stroke-linecap="round" d="M344.2 47.9h0m-7.3-13.1h0m4.7-3.9h0m3.6 21.8h0m2.2-13.8h0m2.8 2h0m-10.4 8.8h0m6.8-10.9h0m-10.1-2.7h0m2.2 5.3h0m7.4-.3h0m-.3-6.9h0m-8.5 1.1h0m8.7 4.8h0m-11.4 6.9h0m10.3 4.7h0m3-6h0m-.6-4.1h0m.2-5.6h0m-3.2 16.9h0m-7.6-8.9h0m-.2-6.7h0m11.7-.6h0m-.9 5.3h0m-.3 5.4h0m-4.7-1.6h0m1.4 5.4h0m-4.1-16h0m-1.1-.7h0m-1.5 8.2h0m4 4h0m-3.1 3.7h0m5.6-15.7h0m-7.3 15.6h0m4.1-7.9h0m5.2 .9h0m-.3 2.3h0m-8.5-4.1h0m7.5-2.1h0m-8.5 3.9h0m9.3-8.9h0m6.5 9.3h0m-5.8 5.5h0m-6.8-19.2h0m6.7 10.7h0m-2.9-5.2h0m-1.2-2.3h0m-3.9 9.4h0m-.8 2.8h0m7.8 4.6h0m-8-8.2h0m4 1.1h0m4.7 .4h0m-4.4-9.4h0m3 14.9h0m-7.9-11.8h0m7.4-4.7h0m-4.4 4.1h0m5.4 .8h0m-1.2 3.6h0m-5-5.9h0m-3.8 9.6h0m3.6-.2h0m-.1 1.4h0m2.9 6.1h0m2.8-3.9h0m-8.3-2.1h0m11.7-6.6h0m-4.3-2.1h0m4.5-1.3h0m-6.3-4.7h0m-4 17.1h0m12.5 .3h0m-9.9-7.5h0m2.9 2.1h0m-3.5-6.5h0m9.6 6.3h0m-8.3-12.5h0m-.7 19.7h0m4.4-9h0m4.4 6.2h0m-11.1-5.2h0m10.7 4.8h0m-4.7-2.8h0m1.8 8.1h0m-5.1-17.6h0m5.2 9.7h0m-7.9 4.5h0m8.3-9.6h0m-10.2 8.7h0m15.2-1.6h0m-6.7-12.7h0m-2.2 14.3h0m-1.8-17.2h0m4.9 6.8h0m-6.9 9h0m15.7-1.3h0m-14.6 8.9h0m10.3-13.7h0m-1.2 11.6h0m-10.7 1.4h0m-7.2-16.9h0m3.8 11.7h0m-1.3 5h0m.8-5.9h0m7.6 6.4h0m-5.6-1.6h0m.1-19.9h0"/>
<path stroke="#f2e23a" stroke-width="1.12" stroke-linecap="round" d="M341.7 65.9h0m-7.5 5.4h0m-5.1-14.5h0m6.3 12.8h0m6.5-5.8h0m-5.8-11.6h0m10.7 6.4h0m-16.7 1.8h0m6-7.4h0m.3 9.7h0m-9.9 .8h0m-1.2 .4h0m12-7.5h0m-5.4 8.5h0m14-.8h0m-3.7-1.9h0m-6.5-10.2h0m-2.8 5.8h0m3.2 1.5h0m-8.4 9h0m2.5-9.3h0m4.6-1.7h0m.7-2.4h0m3.6-1.8h0m.5 14.3h0m-5.5-16h0m3.6 21.5h0m-1.6-20.6h0m-9.6 5.1h0m-2.5 5.8h0m19.4-7.6h0m-4.8 17.8h0m-8.3-2.6h0m11.2-18h0m-7.9 14.3h0m-1.1-14.1h0m.2 8.4h0m13.8-.5h0m-25.6-1.7h0m22.3 3.8h0m4.2-4.7h0m-18.5 11.3h0m8.9-6.3h0m3.9-.6h0m-7.5-4.9h0m-11 6h0m19.8 1.2h0m-12.6-5.2h0m-7.5-1.9h0m2.9-.2h0m4.2 14.8h0m17.1-14.5h0m-12.5 8h0m-2.2 2h0m12.7-14.5h0m-3.2 19.1h0m2.4-12h0m-1.7 2.8h0m-4.6 5.6h0m-8.6-2.9h0m-4.4-8.7h0m8 9h0m7.3-6.4h0m-5.8 5.7h0m-1.7-5.4h0m12.8 5.1h0m-20.2-4h0m17.4 4.2h0m-8-5.4h0m-9.4-4.2h0m11.3 8.2h0m-12.2-6.5h0m18.2-3.5h0m3.4 2h0m-5.6 3.6h0m-11.8 5.3h0m14.7-.5h0m-.4-4.3h0m-6.3-8h0m-5.5 2.6h0m8.2 2.9h0m-7 14.1h0m-6.7-4.7h0m10.2-7.9h0m-.7 6.2h0m-6.8-3.6h0m2.7 5.9h0m-6-11h0m14.7 5.9h0m-8.3 8.3h0m10.9 .1h0m-7.8-4.8h0m6.9-8.2h0m-.2 1.6h0m-7.5 9.8h0m7.1 2.5h0m-7.7-9.8h0m-.4 10.2h0m4.9-3.5h0m-8.1-6.9h0m-6.4-1.6h0m8.2-5.2h0m12.4-1.1h0m-11.2 5.9h0m2.7 5h0m3.6-2.1h0m-9.3-9.6h0m8.3 9.4h0m-1.4 .8h0m3.1 8.6h0m-1.9-19.1h0m-.1 .6h0m-7.5 7.8h0m.9 6.3h0m13.9-2.2h0m-10.7 5.6h0m9.8-4h0m-20.1-3.1h0m14.9-9.4h0m4.8 15.7h0m-17.2-8.7h0m17.4-3.9h0m-11.4 4.9h0m9.2 9.1h0m3.5-12.7h0m-9.4 2.1h0m1.7 14.1h0m-13.1-11.1h0m10-7.1h0m-13.7 14.1h0m32.6-13.4h0m-29.4 13.7h0m13.3-20.2h0m-15.1 12.3h0m24.2 9.6h0m-17.4 .8h0m-10-6.4h0m13.7 3.7h0m-4.4-18.2h0m12.1 20h0m-24.6-10.7h0m14.5-11h0m-11.1 15.1h0"/>
<text x="401.8" y="24.6" font-size="4.6" textLength="14.8" lengthAdjust="spacingAndGlyphs" font-weight="bold" fill="#000">Cluster</text>
<circle cx="405" cy="29.7" r="2" fill="#cc2020"/>
<text x="408.7" y="31.4" font-size="4.6" textLength="2.3" lengthAdjust="spacingAndGlyphs" fill="#383838" stroke="#383838" stroke-width="0.12">1</text>
<circle cx="405" cy="36.47" r="2" fill="#3a7cc0"/>
<text x="408.7" y="38.17" font-size="4.6" textLength="2.3" lengthAdjust="spacingAndGlyphs" fill="#383838" stroke="#383838" stroke-width="0.12">2</text>
<circle cx="405" cy="43.24" r="2" fill="#4aa53f"/>
<text x="408.7" y="44.94" font-size="4.6" textLength="2.3" lengthAdjust="spacingAndGlyphs" fill="#383838" stroke="#383838" stroke-width="0.12">3</text>
<circle cx="405" cy="50.01" r="2" fill="#9050a8"/>
<text x="408.7" y="51.71" font-size="4.6" textLength="2.3" lengthAdjust="spacingAndGlyphs" fill="#383838" stroke="#383838" stroke-width="0.12">4</text>
<circle cx="405" cy="56.78" r="2" fill="#f08a22"/>
<text x="408.7" y="58.48" font-size="4.6" textLength="2.3" lengthAdjust="spacingAndGlyphs" fill="#383838" stroke="#383838" stroke-width="0.12">5</text>
<circle cx="405" cy="63.55" r="2" fill="#f2e23a"/>
<text x="408.7" y="65.25" font-size="4.6" textLength="2.3" lengthAdjust="spacingAndGlyphs" fill="#383838" stroke="#383838" stroke-width="0.12">6</text>
<circle cx="405" cy="70.32" r="2" fill="#a2501e"/>
<text x="408.7" y="72.02" font-size="4.6" textLength="2.3" lengthAdjust="spacingAndGlyphs" fill="#383838" stroke="#383838" stroke-width="0.12">7</text>
<circle cx="405" cy="77.09" r="2" fill="#e27cba"/>
<text x="408.7" y="78.79" font-size="4.6" textLength="2.3" lengthAdjust="spacingAndGlyphs" fill="#383838" stroke="#383838" stroke-width="0.12">8</text>
<text x="7.3" y="146.2" font-size="11.5" textLength="7.47" lengthAdjust="spacingAndGlyphs" font-weight="bold" fill="#000">C</text>
<text x="87.5" y="139.6" font-size="4.6" textLength="19.78" lengthAdjust="spacingAndGlyphs" font-weight="bold" text-anchor="middle" fill="#000">Root cells</text>
<text x="171.3" y="139.4" font-size="4.6" textLength="28.29" lengthAdjust="spacingAndGlyphs" font-weight="bold" text-anchor="middle" fill="#000">Endpoint cells</text>
<path stroke="#9a9a9a" stroke-width="0.3" stroke-opacity="0.7" fill="none" d="M88.2 195.2L72.9 192.7M115.9 190.9L106.5 173.6M93.5 174.5L71 167.5M104 162.4L102.6 167.9M82.7 181.8L100 188.7M78.2 165.3L70.5 171.2M71.8 173L61.5 181.4M104.2 160.2L91.5 144.9M54.6 160.4L58.4 157.7M109.5 178.9L118.1 180.2M80.8 171.2L72.3 159.9M93.5 166.9L115.1 176.5M58.2 182.3L65.9 175.6M112.6 194.4L103.8 198.4M102.8 159.1L117 177.9M87.8 179.3L69.5 188.9M63.8 149.4L60.2 158.2M106.5 168.5L98 165.3M89.4 174.7L87.8 164.6M80.3 165.6L69 170.5M62.3 158.3L49.9 165.9M87.5 188.4L94.2 176M70.6 148.3L71.6 169.1M80.6 152.8L73.7 161M66.9 168.5L65.2 150.2M110.5 155.5L87.1 145.6M78 159.4L71.8 173M99.9 145.8L94.3 170.8M81.9 153.8L100.6 157M105.1 160L112.6 151.4M64.2 187.6L64.2 172.9M92.2 188.2L81.1 178.2M72 171.8L77.8 162.6M86.4 178.6L78.9 168.1M70.8 159.4L74.2 168.1M65.2 147.8L82 150.7M119.2 173L111.8 187.3M71.8 173L92.9 172M57.4 183.1L63.8 167.7M105.9 164.3L103 160.8M72.3 168.8L64.2 187.6M114.6 169.4L109.1 167.9M78.5 187.1L82.3 180.8M87.5 187.4L104.8 194.9M71.3 167.4L96.3 161.8M105.6 158.4L110.6 169.7M82.9 197.3L84.7 181.4M106.4 186.3L110.7 176.3M97.3 193.2L84.5 179.3M108.9 173L94.3 184.1M80.4 180.7L65.9 184.7M103.7 192.4L112.2 175.8M101.2 162.9L83.4 145.8M80.2 196.8L101.5 198.1M90.8 174.2L106.9 189.3M99.2 165.2L106.9 151.2M82.9 183.4L84.8 193.8M102.8 159.1L88.3 144.6M88.8 175.2L92.8 188.8M47.3 157.3L49.4 166.9M103.8 198.4L105 189.1M77.7 169L68.6 184.6M68.4 172.3L61 185.5M82.1 168.4L87 153.4M112.2 169.9L102 187.3M101 169.9L104 162.6M106.9 189.3L103.2 182M59.9 178.8L69.2 174.6M76.1 155.3L82.1 168.4M109 157.4L111.2 153.8M109.8 187.8L90.8 193.1M76.7 160.1L67.7 174M100.8 144L75.5 150.3M98.2 177.3L83.3 158.3M59.9 165L84.5 170.3M93.3 174.3L88.5 198.1M58.4 177.5L63 157.2M91 187.3L68 183.9M89.4 148.3L69.2 159.9M96.4 182L84.9 180.6M54.5 161.8L55.2 153.6M92.9 195L80.1 183.6M107.2 191.9L108.7 167.4M62.1 167.7L71.3 147.7M92.2 145.6L86.9 161.8M70 151.5L77.3 169.1M58.4 157.7L60.1 174.7M98 160.2L101.3 170.9M80.3 143.9L99.3 158.5M93.9 159.8L111.4 167.4M63.8 168.4L81 150.5M111.5 168.8L104 162.6M59.2 160.2L72.7 150.3M77.3 169.1L59.7 178.6M65.6 170.7L89.1 163.1M91 173.9L101.3 170.9M81.5 164.7L75.5 150.3M78.5 191.2L101.5 197.5M103.4 164.4L80.6 152.8M73.6 192.6L68.3 183M67.5 155.1L81.5 173.7M100 179.1L88 157.4M93.2 177.1L75.6 170.5M108.1 173.9L96.8 175M48.2 171.9L59.5 149.3M103.7 184L106.8 166.8M47.3 174L70.8 171.6M60.8 162.2L72.3 168.8M64.1 154.6L77.8 162.6M88.1 155L79.4 168.7M84.2 171.4L109.5 168.7M101.2 174L112.7 157.1M82.8 155.8L67.7 164.7M105.3 165.9L80.8 164.4M72.8 173.8L59.2 160.2M67.7 174L68.8 191.7M79.8 159.3L76.6 176.8M98.2 142.9L108.4 149.7M101 185.9L112 162.8M95.9 184.1L107.8 196.1M84.9 162.9L105.1 149.5M59.9 178.8L66 166.4M68.8 191.7L51.7 177.2M93.1 197.9L88.6 180.8M91.4 148.4L99.9 146.1M79.4 163.1L68.4 162M74.1 169.3L83.6 161.7M104.6 162.5L96.4 182M90.8 180.2L84.2 163.5M115.3 162.3L114.3 158.7M88.9 174.8L98.5 164.1M72.4 146.6L88.2 154.8M97.4 157.5L105.8 153.7M105.1 160L96.7 154.7M76.7 160.1L71.7 159.8M85.4 157.2L91.7 153.1M110.7 176.3L107.3 193.5M97.4 157.5L106.5 168.5M59.9 178.8L51.7 177.2M88.5 156.4L91.9 147.3M51 155.6L60.4 155M89.1 165.3L98 160.2M88.4 154.4L109 159.8M72.6 176.9L84.7 163.5M99.8 167.3L113.7 181.5M80.9 196.2L87.2 185.1M99.8 165.3L81.6 174.4M118.6 166.3L112.1 154.1M79 157.7L85.4 157.2M57.9 156.6L82.2 160.6M114.6 168.5L109.1 145.7M99.2 176L92.7 160.2M89 157.6L65.1 163.3M117.1 187.3L114.6 168.5M59.9 170.4L64.9 175.4M102 187.3L80.3 181.3M117.9 171.9L113.1 189.5M96.4 178.4L92.7 193.2M82.2 160.6L74.9 174.1M96 192.9L114.6 193.3M72.8 173.8L59.2 160.2M77.4 162.1L54.5 157.6M115.7 169.2L107.3 193.5M77.6 166.2L86.4 178.6M105.6 172.8L112.7 157.1M68.3 183L60.2 158.2M68.4 172.3L80.1 183.6M60.9 181.2L79.8 180.5M82.9 197.3L83.3 172.9M65.9 175.6L73.8 151.9M100.9 163.1L109.8 185.8M70.2 167.2L93.8 176.7M59.9 165L74.7 170.9M82.7 170.3L92.6 192M70.5 189.5L66 166.4M95.8 156.2L84.3 150.5M63.8 170L75.5 150.3M115.6 189.9L117.7 176.4M94.3 198.1L91.2 192.4M95.1 177.2L96.3 182.2M58.3 162.2L51.3 177.2M75.1 170.3L60.6 179.9M93.5 167.1L105.6 147.8M71.6 169.1L65.2 147.8M54.3 167.8L65.5 182.3M68.1 169.4L69.7 166.2M56.5 169.9L77 163.9M84.3 171.6L83.7 163.6M89.1 190.7L94.3 170.8M84.8 164.4L80.3 143.9M118.3 165.2L110.8 161.3M46.9 161.6L67.9 166M114.1 153.5L115 158.4M57.2 164.2L78.8 158.4M101.5 197.5L100.8 189.4M74.3 177.3L93.9 159.8M92.3 188.7L103.6 194.8M110.1 174.6L104.9 148.8M72.3 184.5L52.1 168.8M91.1 167.9L115.7 161.8M115.7 161.6L92.2 162.4M63.7 170.3L74.1 158.3M65.1 180.2L58.4 157.7M96.3 153.3L90.1 145.9M60.2 158.2L58.7 153.6M105.6 155.6L100.5 167M88.4 154.4L79.4 163.1M92.9 166.3L80.8 150.2M79.6 169.5L70.2 167.5M104.6 168.5L108.4 176M84 189.7L94 169.8M102 194.1L90.8 174.2M112.3 165.4L109.2 173.7M93.3 173.9L92.4 190.7M94.3 161L110.1 151.3M90 184.3L110.9 179.5M92.9 185.4L99.8 163M97.4 187.6L108.4 193.4M103.6 194.8L82 186.8M91.1 167.9L100 182.8M103.9 179.2L80.5 177.3M77.1 172.4L62 181.1M105.9 174.3L98 165.3M65.5 162.5L54.5 171.9M58.5 152.2L67.5 155.1M67.3 155.5L77.6 166.2M102 187.3L103.1 181.4M87.8 179.3L108.8 193.5M81.7 182.6L104.6 192.3M93.1 167.7L96 192.9M111.3 181.5L108.3 192.1M111.5 168.8L111.9 163.6M75.6 173.7L70.6 151.4M84.9 180.6L60.1 182.7M82.9 151.2L67.7 164.7M53.3 167.6L61.5 181.4M99.8 167.3L75 161.4M100 168.9L105.1 160M93.9 170.6L77.6 161.6M88.4 162.8L70.4 180.6M86.3 184.3L78.4 192.4M100.7 187.3L93.3 174.3M84.9 180.6L77.1 188.6M95.9 177.2L78.9 168.1M94.1 168.6L99.9 189.2M58.4 157.7L51 175.2M92.3 188.7L77 184.7M117.5 178.7L100.8 193.3M75.1 170.3L82 144.8M98 160.2L117 177.9M57.2 164.2L76.6 168M105.1 160L96.3 145.1M90 184.3L98.1 183.9M97.3 193.2L103.5 181.5M67.7 157.8L60.8 162.2M102 161.8L87 165.8M110.6 169.7L100.6 157M92.5 192L88 166.1M84.1 171.4L87.5 188.4M79.4 186.5L88.5 198.1M72.4 161.3L77.6 166.2M100.1 172.1L105.7 192.4M105.3 165.9L113.8 152.6M75.6 192.6L80.6 182.1M63.8 149.4L58.5 152.2M67.7 157.8L70.8 171.6M59 166L83.6 161.7M92.4 149.3L96.3 145.1M105 189.1L98.7 164.1M107.3 181.6L101.2 162.9M111.1 149.4L89 158.9M71.7 159.8L80.5 162.3M92.1 162.1L91.2 146.3M92.2 188.2L97.3 164.7M105.6 158.8L97.3 164.7M101.2 164.1L104.7 184.1M115 175.2L110.5 155.5M96.1 153.4L84.3 171.6M93.3 174.3L114.6 169.4M92.8 187.5L93.1 197.9M90.9 151.1L111.5 159M83.3 172.9L103.4 163.6M104 162.4L92.7 160.2M96.4 197.5L104.3 189.4M59.6 171.4L55.3 160.7M87.2 184.6L111.3 181.5M99.8 167.3L93.2 177.1M103.4 164.4L90.1 145.9M56 152.7L44.7 168.2M69.4 165.3L50.3 164M105 180.1L112.3 165.4M92.1 162.1L67.7 153.5M84.5 188.7L110.2 194M58.2 182.3L53.8 175.4M84.3 171.6L88 166.1M56.2 176.2L53.3 167.6M82.3 173.4L86.3 151.9M92.5 171.9L112.7 162.8M77 194.9L92.8 188.8M97.3 164.7L100.8 189.4M78.4 192.4L98.1 183.9M101.4 150.4L111 150.8M95.7 184.8L116.4 170.5M51.9 171.1L67.5 163.7M100 168.9L103.2 183.8M92.9 195L109 180.4M73.7 161L82.7 170.3M75.9 176.4L86.7 190.1M107.6 165.7L103.8 172.6M101.8 167L107.3 155.9M74.6 153.6L79.8 159.3M52.8 180.4L64.1 173.4M79.6 169.5L84.5 188.7M84.5 188.7L105.8 180.7M71.8 186.7L84.1 174.7M54.8 166.5L58.5 155.6M119.3 180.7L109.5 174.1M47.2 174.1L66 166.4M105.8 153.7L110.5 179M114.6 169.4L119.2 173.6M65.9 175.6L63.8 149.4M61.5 178.2L68.8 191.7M79.3 173.3L63.5 178.3M81.9 153.8L74.2 168.1M106.8 166.8L111.5 164.8M65.1 188.1L58.8 164.7M111.3 181.5L114.4 187.8M68.8 191.7L60.4 186.5M82.8 155.8L96.7 154.7M43.3 165.7L46.9 160.3M100.3 181.6L115.3 162.3M81.6 174.4L69.7 166.2M82.4 169.1L67.4 154.3M107.5 185.2L98 165.3M79.4 186.5L65.6 170.7M79.2 164.8L60.8 162.2M109.3 157.3L95.3 160.2M80.1 183.6L97.4 187.6M99.9 146.1L77.7 147.8M99.9 146.1L76.1 155.3M84.9 162.7L98.1 160.4M83.7 163.6L101 175.5M64.2 172.9L52.8 163.7M82.3 173.6L105.6 184.7M78.5 191.2L62 179.9M83.7 155.1L70.7 170.5M99.8 163L89.1 163.1M64.9 175.4L72.8 192.9M89.4 189.1L87.8 164.6M73.9 152L90.6 144.5M67 152.8L79.2 164.8M76.3 149.7L97.4 163.9M84.9 180.6L74.9 158.4M80.5 177.3L86.9 161.8M83.3 172.9L82.6 160.5"/>
<path stroke="#d6d23c" stroke-width="0.35" stroke-opacity="0.8" fill="none" d="M79.5 182.3L59.9 165M91 173.9L91.7 153.1M71.6 169.1L93.3 173.9M110.7 176.3L100.8 153.8M63.9 180.6L77.1 172.4M85.5 180.5L102.8 183.7M107.5 173.9L111.9 178.9M96.8 166.2L71.9 165.5M95.7 167.8L71.1 174.4M114.3 158.7L99.7 154.1M103.8 198.4L106.9 192.9M86.9 161.8L67.9 166M58.9 180.9L77 175.4M72.8 176.7L54.2 168.2M96.2 178.6L79.7 174.3M82 156.8L74.2 171.4M104.2 160.2L103.9 179.2M75.2 173.4L90.8 193.1M106.9 151.2L94.2 171.3M112.9 162.3L100.6 148.8M102 194.1L88.8 175.2M107.2 177.6L100.4 152.7M84.4 182.2L74.9 174.1M117 176.6L101 185.9M71.8 173L79.1 195.5M83.9 157.9L65.2 147.8M93.9 159.8L109.1 157.8M76.6 168L71.7 190M74.1 158.3L62 179.9M93.3 178L100.2 180.9M105 189.1L80.4 180.7M95.4 151.3L71.3 159.1M65.1 185.5L72.8 176.7M98.3 199.1L110.5 179M84.2 165.4L71.5 149.4M73.6 192.6L77.2 189.6M100.7 187.3L90 165.2M94.1 168.6L96.1 194.3M92.1 178.9L80.1 183.6M111.8 187.3L94.5 187.8M104.2 160.2L83.8 150.2M94.2 144.9L89.7 164.8M106.5 145.9L101 143.6M107.2 186.6L92.5 171.9M77.4 162.1L67.9 166M63.5 185.9L49.9 165.9M67.7 153.5L50.3 164M111.2 153.8L98.8 165.1M112.2 169.9L95.6 152.7M105 182.1L91 187.3M92.3 188.7L109.5 174.1M76.6 176.8L97.6 173M105.9 164.3L108.9 148.4M69.5 188.9L63.8 170M68.4 172.3L90.3 173.8M99.4 159.9L109.8 175.6M85.2 164.7L102.9 153.6M78.9 168.1L90.5 184.7M85.5 180.5L106.6 176.8M47 159.7L64.9 175.4M104 162.4L85.3 167.3M90 163L66.1 166.1M91.1 167.9L88 156.4M80.8 164.4L99.4 163.2M103.6 195.9L117 176.6M99.1 193.9L96.3 182.2M104.1 156.1L96.7 148.4M80.5 162.3L80 187.6M62 181.1L71.9 165.5M72.8 173.8L83.6 190.4M113.7 172.1L106.5 189.8M97.6 160.8L92.3 155.6M105 152.5L90.5 161.7M102.1 189.2L98.7 195.9M101.2 181L92.7 160.2M113 161L104 153.9M90 152.9L95.4 151.3M71 162.5L91.6 146.6M86.3 176.9L99.7 154.1M69 154.7L89.4 148.3M81.7 182.6L90.8 188.6M106.6 176.8L85.8 163.4M58.4 158.8L62.4 159.8M114.3 167.2L98.7 164.1M83.9 149.6L59.3 157.6M105.9 177L81.6 174.4M100.8 189.4L92.3 188.7M71.8 186.7L58.1 174.5M76.9 186.7L71.6 180.3M108.7 145.9L115.7 169.2M84.2 163.5L82 186.8M93 146.8L69 154.7M61.5 149L65.9 156.8M111.9 163.6L97.2 152M85.3 143.2L107.3 155.9M74 175.7L58.6 167M53.9 154.5L51.1 158.4M69.4 176.1L72.8 176.7M101.8 167L109 159.8M104.8 149.1L100.9 163.1M95.5 190.1L83.1 197M110.7 160.6L98.2 177.3M60.9 170L64.6 147.5M101.2 162.9L98 160.2M103.8 172.6L117 177.9M57.1 169.5L82.7 170.3M87.4 192.3L91.3 170.1M100.1 172.1L78.6 159M108 189.5L89.7 173.5M111.6 191.3L106.7 194.9M92.4 190.7L97.6 173M43.3 165.7L62.3 168.7M90.4 168L70.3 165.6M101.3 170.9L105.9 177M110.5 172.5L99.2 165.2M96.4 182L93.4 178.6M96.4 182L74.7 170.9M115.6 193.2L110.7 176.3M84.5 179.3L82.7 181.8M93.4 179.5L110.7 176.3M84.5 170.3L102.6 167.9M77.3 162.6L91.5 144.9M111.9 163.6L89 158.9M95.9 184.1L94 190.1M56.7 177.8L58.4 154.6M108.7 145.9L112.1 154.1M87.5 198.2L80.2 191.2M113.9 191.8L117 177.9M102.6 181.3L95.2 191M84.5 179.3L100 168.9M99.4 163.2L82.3 180.8M96.2 178.6L72 171.8M72.9 192.7L60.4 186.5M96 192.9L83.3 172.9M55.8 151.4L73.5 158.7M85.5 166.3L73.1 183.6M87.5 187.4L80.3 181.3M98.5 164.1L111.5 159M82.8 194.5L88.9 174.8M58.7 153.6L59.7 178.6M118 171.9L106.5 173.6M111.1 189.8L106.5 196.5M113.4 173.5L101.9 182.6M63.8 170L50.1 169.7M94.6 192.8L102.6 167.9M116.1 167.5L99.2 165.2M107.6 165.7L98.3 156.6M111 150.8L106.9 170.8M98.2 177.3L97.4 163.9M101.2 164.1L82.8 155.8M51.1 174.2L63.2 153.9M98.5 180.8L98.5 162.3M61 185.5L78.5 191.2M67.7 174L80 187.6M119.3 176.2L115.9 176.6M100.2 180.9L116.1 167.5M72.1 186.9L56.4 173.8M61.7 181.7L73.3 161.8M81.7 182.6L71.8 186.7M98.5 180.8L92.3 188.7M109.8 175.6L95.7 184.8M63.8 167.7L81.5 173.7M111.1 189.8L108.3 166.4M69.8 190.9L51.7 177.2M95 161.2L86.2 163.4M87.5 188.4L107.5 175.3M111.7 149.4L106.9 170.8M98.2 177.3L106.1 184.6M101.7 194.4L118 181.4M95.9 177.2L88.5 198.1M73.4 157.4L77.6 166.2M85 156.5L64 157.4M79.7 152.3L91.6 146.6M111.7 149.4L98.1 160.4M105 180.1L88.6 182.3M68.4 162L55.1 156.8M99.4 159.9L88.3 153.2M48.5 173.3L59.6 171.4M74.2 171.4L66 166.4M75.7 151.2L80.3 165.6M67.7 164.7L77.7 169M101.1 182.3L103.7 192.4M107.3 193.5L82.9 183.4M100.1 172.1L108.9 177.2M73.6 192.6L62.3 168.7M93.4 178.6L92.8 161.3M67.5 163.7L76.9 185.9M106.8 166.8L102.9 153.6M70.3 165.6L58.3 162.7M112.9 162.3L89.7 164.8M87.6 192.9L72.6 176.9M98.8 193.1L92.9 195M70.5 189.5L79.4 168.7M103 174.9L109.1 167.9M99 171.8L75.9 176.4M95.7 187.5L77.9 185.6M58.5 170.5L61.7 181.7M108.9 186.7L115.6 189.9M111.9 163.6L110 166.1M92.9 166.3L112 162.8M83.9 159.5L61.4 155.6M74.9 158.4L54.5 171.9M100 182.8L98.5 164.1M47 159.7L66.9 152.5M62 179.9L60 184.6M115 175.2L100.8 193.3M79.8 159.3L87.5 158.2M79.2 164.8L59.7 181M54.6 155.9L64.6 147.5M91.3 158.4L96.6 144.5M94.3 161L107.1 175.8M84.9 162.9L79.8 159.3M67.7 174L73.6 160.9M67.5 163.7L72.4 175.1M84.1 174.7L79.4 186.5M102 168.6L84.2 180.5M60 184.6L72.7 192.8M65.6 170.7L84.2 158.6M85.5 166.3L106.9 151.2M109.5 181L100.2 158.9M81.5 173.7L90.1 193.1M81.6 174.4L67.7 157.8M76.6 168L91.6 180.7M65.6 170.7L88.4 157.2M84.5 170.3L73.2 149.2M87 165.8L90.1 145.9M109.9 164.9L84.2 163.5M73.8 151.9L82.9 151.2M91.7 192.8L104.2 172.1M96.2 178.6L107.2 191.9M97.7 177.7L99.7 154.1M75.1 180.9L57.3 175.6M109.9 164.9L99.1 183M98.5 145.2L115.3 162.3M83 150.9L64.9 161.7M78.6 159L91.2 179M98.1 160.4L108.9 173M65.1 185.5L64.9 175.4M119.3 176.2L109.5 178.9M93.3 173.9L113.7 172.1M72.1 166.7L72.1 154.6M101 143.6L90 165.2M96.6 191.8L107.1 197.8M89.4 189.1L69.4 176.1M57.7 169.1L80.5 162.3M112.2 175.8L100 168.9M84.9 180.6L72.8 192.9M91.9 147.3L98.5 145.2M105.8 153.7L109.1 145.7M96 192.9L87.6 192.9M84 169.4L67.3 174.7M77.4 183.5L99 171.8M104.7 184.1L80.8 188.9M106.8 166.8L80.8 171.2M59.3 181.2L84.4 181.9M48.5 173.3L71.6 168M92.9 169L77 184.7M57 178.5L77.7 164M101.9 197.6L102.8 183.7M90 152.9L113 161M71.8 173L77.3 169.2M113.5 189.8L97.6 176.9M69 154.7L57.4 176.1M87 153.4L80.5 177.3M72.8 173.8L74.8 179.4M80.2 191.2L58.5 183.1M64.8 187.6L75.6 173.7M72.1 186.9L80.3 165.6M89.4 174.7L82.4 169.1M54.6 155.9L77.6 161.6M77.7 164L90.5 152.6M99.2 176L105 168.9M103.2 197.8L98.3 199.1M82.3 173.6L77.4 162.1M83.5 184.1L104.8 194.9M84.7 144L89.1 165.3M67.6 152.9L75.1 170.3M65.8 185.6L71.1 174.4M59.3 164.4L49.8 164.5M97.2 152L105 168.9M75.4 178.9L78.6 159M97.4 187.6L76.6 176.8M117.8 188.2L103.7 192.4M72.3 184.5L82 186.8M106.5 168.5L109.3 161.4M108.9 173L108.3 166.4M68.1 169.4L84.1 174.7M104.8 194.9L84.7 181.4M98 160.2L105 168.9M54.2 158.1L60.8 159.8M95.2 162.1L99.7 154.1M81 150.5L90 152.9M50.1 161.8L70.2 167.2M111.6 191.3L114.4 173.1M107.4 173.1L101.5 198.1"/>
<path stroke="#21918c" stroke-width="1.6" stroke-linecap="round" d="M59.7 181h0m52.9 13.4h0m-34.8-31.8h0m30 33.5h0m-30.1-12.3h0m22.3-15.8h0m-7.6 12.3h0m1.7-32.3h0m-47 24.2h0m63.5 13.6h0m-12.6-36h0m-20.6 12.3h0m16.9-1.1h0m3.1 26.6h0m-4.7 6.6h0m10.7-30.6h0m-12.3 4.3h0m-43.3-.5h0m-3.4 1.3h0m2.9-11.4h0m47.8 19.9h0m13.1 14.1h0m-44.4-22.9h0m26.7-6.7h0m-.1 6.3h0m-17.8-17.1h0m-11.2 4.7h0m-2.8 11.4h0m31.7 8.1h0m-24.4 9.6h0m13.8 5.8h0m-13.8-33.7h0m46.7-5.4h0m-5.7 19.4h0m-27.3-1.3h0m4.1-14.4h0m10.1 21.6h0m4.6-.6h0m13-8.7h0m-28.3 29.6h0m-26.9-20.8h0m-7.8-13.8h0m56.7-12.9h0m-52.3 30.9h0m60.9-11.7h0m-40-7.7h0m14.5-6.2h0m-26.1 12.9h0m46.9 12.7h0m-28.8 3.6h0m33.3-2h0m-43.5-30.5h0m16.8 3.4h0m-24.8 25h0m38 2.9h0m-47.9-21.8h0m5.3 22.1h0m47.6-30.6h0m5.8 29.1h0m-66.1-13.4h0m56 1.3h0m2.4 11.9h0m-4.3 11.7h0m-21.2-26.9h0m-27.8-1.7h0m3.5 1.2h0m39.6 3.3h0m-22.2 1.5h0m-10.6 4.2h0m41.4 23.4h0m-47-40.5h0m50-7.2h0m-50.2 17.4h0m38.9 9.3h0m17.4-6.5h0m-30.4 20.6h0m-16.5-3.9h0m43.5 4.6h0m-13.7-17.4h0m8.5 19.6h0m-50.6-31.4h0m9.5 21.3h0m43.1-21.4h0m11 12.6h0m-43.5-25.8h0m24.9 29h0m-8.1-25.2h0m26.6 4.8h0m-57.1-1.6h0m49 10.4h0m-26.8 18.8h0m21.3-9.7h0m-10.3-2h0m-14 1.5h0m30.6 11.9h0m-53.9-25.9h0m22-10.2h0m17.6 22.7h0m-1-.1h0m-48.2-7.7h0m73.4 12.6h0m-61.1-4.9h0m15.1 15.3h0"/>
<path stroke="#44bf70" stroke-width="1.6" stroke-linecap="round" d="M92.2 162.4h0m6.1 36.7h0m6.7-17h0m9.6-12.7h0m-27.6-16h0m1.1 1.6h0m-6.2-1.2h0m14.4-.5h0m-12.6 10.3h0m-10.9 10.2h0m-14.7 .7h0m26.1-9.1h0m-6.5-1.4h0m-14 6.3h0m14-1.3h0m13.5-.7h0m-20.6-20h0m11.5 32h0m2.3 1.9h0m15.4-16.9h0m-3.2-20.8h0m-36.1 34.2h0m31.1-32.1h0m13.1 13.3h0m-24.3 20.8h0m36.9-18.4h0m-59.4-5.7h0m-3.6 7.6h0m2.9 17.5h0m49.3-8.1h0m-46.6-3.2h0m12.8 22.4h0m20.4-25.1h0m-1-5.6h0m-46.6 4.2h0m16.7 12.4h0m8.3 10.8h0m13.4-14.9h0m-5.9-15.2h0m20.7 4.7h0m12.2 15.4h0m-29.8-1.3h0m9.3-3.8h0m-7.6 20.1h0m14-28.3h0m18.9-4.6h0m-35.4-17.7h0m-4.7 29.8h0m-20.8-7.2h0m51.7 30h0m-32.1-20.2h0m-9.9-27h0m12.6 23.1h0m25.4 26.3h0m-17.2-55.5h0m26.9 32.6h0m-62.3-9.9h0m15.3-15.7h0m43.5 17.2h0m-26.7-16.7h0m-12.6 25.5h0m10.6 11.4h0m25.9-10.6h0m-57.9-13.7h0m37.1-15.8h0m10.1 43.5h0m-51.6-25h0m50.4 3.8h0m-1.3 23.4h0m12.9-34.4h0m-4.5 33.4h0m-3.7-28.3h0m-29.7 .8h0m32.3 14.4h0m3.9 .1h0m-2.1 2.5h0m1.8-33.7h0m-49.7 6.5h0m-10.1 11.1h0m57.6-15.2h0m-46.9 11.4h0m26.3-11.6h0m17.7 13.9h0m-17.1 15.8h0m.7-11.5h0m-14.8 6.3h0m43.1-5.6h0m-10-16.4h0m-28.3 1.9h0m36 16.8h0m-24.8-14.1h0m-33.1 7.1h0m-3.1 .9h0m16.7 4.7h0m.4-21.3h0m5.5 17.5h0m34.8-7.6h0m-54.4 11.1h0m50 2.4h0m14.1 21.9h0"/>
<path stroke="#22a884" stroke-width="1.6" stroke-linecap="round" d="M93.5 166.9h0m5.9-7h0m-11.4-2.5h0m16-3.5h0m-29 7.5h0m-2.6 13.7h0m2.3 17.9h0m17.7-43.7h0m6.5 23.7h0m-21.5 10.5h0m-9.9-28.4h0m33.1 1.9h0m13.6-1.5h0m-49.1 7.8h0m3.7 28.4h0m11.7-29.4h0m-12.8-8.8h0m7.8-3.2h0m25.5 19.6h0m7.9-21.5h0m-15 1h0m4.3 25.1h0m-5.9 7.5h0m-37.8-25.4h0m17.1 23.7h0m37.7-18.9h0m-16.2 36.5h0m-2.3-23.7h0m.6-25.8h0m7.9 18.7h0m5.8 8.6h0m6.9-12.9h0m-20 9.5h0m24.8-4.7h0m-51.5-5.8h0m39.3 6.7h0m-8-25.6h0m3.2 24.4h0m.3 23.6h0m6.6 4h0m-12.4-10.8h0m13.6-30.4h0m-20.7 31.4h0m-27.3-6.3h0m7.4-19.2h0m23.7 27.7h0m18.3-23.5h0m-25.8 27.5h0m32.6-23.8h0m-14.2 15.1h0m-36.8-2.4h0m47.6-23.1h0m-10.7 4.7h0m-21.4 33.4h0m6.9-14.8h0m2.8-6.6h0m-4.8-20.5h0m3.5 4.4h0m6.5 38.3h0m-1.4-27.4h0m-15.9-3.3h0m-24-7.2h0m30.3 21.2h0m-33.2-2.1h0m41.3-8.5h0m25.4 12.7h0m-24.1-35.3h0m-17.8 35.1h0m1.2-18.6h0m-.8 32.5h0m19.2-7.6h0m-21.5-16.1h0m19.9-21.2h0m19.6 31.3h0m-35.1-22.5h0m32.1 17.3h0m-29.2-11.6h0m-23.2-2.5h0m41 9.9h0m-46-17.9h0m58.2 14.6h0m-17.6 1.8h0m-33.5 15.9h0m39.9-18.5h0m-8.1 20.2h0m-18.1-29.9h0m16.3-4.1h0m-30.7 2.5h0"/>
<path stroke="#2a788e" stroke-width="1.6" stroke-linecap="round" d="M117 169.9h0m-45.3-10.1h0m-2.5 14.8h0m42.1 14.4h0m-15.6-21.2h0m18.3 24.4h0m-37.1-6.3h0m35.6 6.8h0m-6-2.9h0m1.6-15.9h0m-19-8.6h0m19.3 28.1h0m.6-7.6h0m-22.1-14.1h0m-35-.6h0m26.5 21.3h0m32.4-31.1h0m-3.7 26.3h0m-44.1-30.4h0m45.8 36.3h0m.4-19.8h0m1.2 14.9h0m-2.4 .9h0m-39.2-26.4h0m27.1 14.1h0m-35 4h0m49.7 12.2h0m-25.9-27h0m-4.9-7.1h0m29.7 23.9h0m7 4h0m-13.7 8.3h0m-48.4-33.2h0m42.9 30.9h0m14.5-5.9h0m-4.6-.7h0m5.1-21.2h0m-30.6 18.7h0m30.3 2.5h0m-17.8-10.6h0m-29.1 9.5h0m12.2-16.4h0m32 25.5h0m-26-21.7h0m25 19.2h0m-51.6-14.3h0m-9.8-16.2h0m37.2 35.4h0m26.1-3h0m5.5-4.8h0m-.1 .7h0m-6.3-8h0m-52.9-17.1h0m38.2 28h0m-36.4-10.5h0m50.8-22.5h0m-3.4 24.9h0m-11.6 5.4h0m-2.6-14.3h0m6.2-2.8h0m-27.8 17.9h0m13.6-45.1h0m-27.9 22.1h0m58.1 15h0m4.2-20.7h0m-41.9 14.2h0m-2.4-17.7h0m38.2 10.1h0m-18.2-1.7h0m17.5-16.3h0"/>
<path stroke="#7ad151" stroke-width="1.6" stroke-linecap="round" d="M105.7 192.4h0m-45.8-27.4h0m38.6-19.8h0m7.4 19.1h0m-25.6 1.3h0m-3.4 21.1h0m-13.1-37.3h0m9.6 8h0m38.5 6.2h0m2 28.2h0m-8.6-25.9h0m6.7-13.7h0m3 20.7h0m-4.9-21.6h0m-33.1 12.6h0m28.4-17.3h0m-41.4 18.4h0m15.7 27h0m-15.5-4.4h0m9.8-11.9h0m45.3 .5h0m-60.3-10.2h0m39.4-5.8h0m-18.9 26.7h0m-4.7-7.5h0m15.1 .4h0m-25.8-25.2h0m6 37.5h0m28-8.2h0m-30.6-33.2h0m6.7 17.4h0m10.5 13.3h0m-33-2.8h0m22.4-9.3h0m26.6 18h0m-30.5-19.8h0m-4.4 18.1h0m2.6-13.3h0m37.8-8.4h0m-43.9-5.6h0m35.9 19h0m-22.6 7.2h0m30.9-38.6h0m-32.9 15h0m10.6 10.5h0m-25.7-17.9h0m58.3 9.7h0m-28 12h0m12.9 15.9h0m2.4-35h0m-32 30.8h0m41.7-34.3h0m1.9 30.7h0m-12.5-1.3h0m-30.8-20.7h0m46.8 11.7h0m-17.9 25.9h0m3.5-50.1h0m-34.3 22.4h0m38.6-3.3h0m-50.6 2.6h0m30.5-12.9h0m29.6 8.7h0m-13.8 28.6h0m-39.3-25.7h0m-2.2-19h0m24.1 42.1h0m-28.1-9.7h0m-8.2-8.4h0m59.7-14.6h0m-51.5 21.6h0m6.3-10.5h0m49.7-8.4h0m-43.3 9.5h0m35.1 4h0m-5.4 18.6h0m5.8-27.2h0m-24.1 27.1h0m-6.4-9.6h0m-10-31.9h0m34-9.2h0m-5.6 46.3h0m-33.6-8.4h0m22.2-12.1h0m-29.4-13.5h0m17.2 30.8h0m-.1 3.3h0m-2.2-1.1h0m7.2-28.8h0m13.9 26.2h0m-30.7-6.9h0m-4.9-21.2h0m61.5 26.2h0m-27.6-9.6h0m18.6-.9h0m-46-24.9h0m5.6-2.5h0m-3.3 37.7h0m39.9 .1h0m6.9-14.6h0m-1.7 7.5h0m6.8-8h0m-51.5 18h0m30.7-42.2h0m-5.9 13.9h0m7.6 32.9h0m19.4 .7h0m-38.5-1.1h0m36.9-3.6h0m-18 9.7h0m-22.6-45.4h0m43.7 15.6h0m-26.1-4.3h0m11.6 11.5h0m2.4 17.6h0m-32.4-6.2h0m-15.3-17.2h0m36.5-24.2h0m-26.1 24.5h0m22.7 19.2h0m-22.2-4h0m39.6-8.8h0m10 0h0m-11.9 .5h0m-24.2 16.8h0m-29.4-34.7h0m48.7 .7h0m-32.4 11.4h0m-5.2 5.3h0m55.4-2.2h0m-68.1-15.2h0m58-.6h0m-33.8-9.6h0m-27.2 11.1h0m64.3-8.2h0m-59.7 1.9h0m26.7 15.7h0m-14.8 18.7h0m28.4-40.6h0m-20.5 13.2h0m1.4 3.1h0m-12.2 18.6h0m26.6-37.1h0m-.8 53.6h0m19.4-5.3h0m-33-29.9h0m30.1-.6h0m6.9 2.1h0m-51.2 14.1h0m18.4-18.6h0m-17.5 5.8h0m55 27.4h0m-36.1 1.6h0m16.7-45.9h0m-18.9 20.3h0m7.5 24.6h0m-16.9-27.8h0m37.7-10.4h0m-18.1 11.9h0m13.7 27.2h0m-15.9-22.1h0m11.1 11.6h0m4.8-3.2h0m-4-29h0m11.7 21h0m-9.6 13.2h0m-50.8-12.9h0m65 16.5h0m-23-5.1h0m-32.6-16.2h0m59.2 18.8h0m-13.3-4.8h0m-43.3-12.4h0m52.5-9.1h0m-3.7-8.4h0m-7.6 40.9h0m-31.9-3.2h0m11-1.4h0m-16.2-2.1h0m-6.4-4h0m21.5-8.5h0m-5.9-22.4h0m-15.3 3.7h0m59.7 31.1h0m-50.2-2.8h0m27.2-2.1h0m7.3 3.5h0m-5.1-33.7h0m-12.7 45.6h0m4.7-8.1h0m28.8-6.6h0m-34.7 12.3h0m29-26.5h0m-1.2 13.2h0m-27.8 7.6h0"/>
<path stroke="#ebdf35" stroke-width="1.6" stroke-linecap="round" d="M103 160.8h0m-2.2-7h0m0 39.5h0m-45-41.9h0m-9.9 17.6h0m70.4-9.6h0m-14.5-3.8h0m7.3-9.9h0m-24.2 34.9h0m-24.6-19.4h0m13.4 2h0m10.5 17.3h0m-25.3 .4h0m-7.9-5.7h0m42.9-15.4h0m-11.4 37.5h0m13.8-15.1h0m-6.2 10.9h0m21-43.7h0m-39.6 38h0m25.7-7.7h0m-33.4-12h0m47-14.6h0m-44.9 22.5h0m40.7 1.2h0m1.7-10.4h0m2.6 9.3h0m-10.7-16.8h0m1.9 37.7h0m-16.4-5.3h0m33.4-20.5h0m-10.7-21.1h0m-61.5 10.6h0m38.6 20.2h0m33.5-3h0m-22.9-24.1h0m-28.8 30.6h0m-7.3 .6h0m40.1-25.3h0m-44.8 22.6h0m43.9-16.7h0m1.8 17h0m-40.2-20h0m32.5 15.8h0m-6.7 14h0m-3-1.6h0m-16.1-26.7h0m33.8 7.2h0m2.5 1.7h0m-24.5 .7h0m-15.8-3.7h0m8.1-1.6h0m-16.5-11.2h0m33.5-13h0m-25.4 10.1h0m49.5 8.9h0m-30.6 14.5h0m1 4.5h0m22.5-34h0m7.7 18h0m-29.4-6.3h0m-24.6-1.9h0m1.1-2.6h0m18.1 36.2h0m-29.5-15.1h0m54.6 18.7h0m-39.7-14.2h0m12.7-12.6h0m33.9 28.4h0m-26.7-46.2h0m-11.9 15.3h0m42.5 7.6h0m-25 1.6h0m16.2-16.3h0m-17.2-1.2h0m23.2-.3h0m-31.3 29.4h0m16.1-4.3h0m10.2-36.4h0m-35.2 32.8h0m20.3-25.3h0m19.5 .7h0m-35.4-6.8h0m-2.5 14.8h0m15.3 20.5h0m-24-34.8h0m-6.2 10.2h0m13.6-1.8h0m31.7 36.5h0m-43.9-30.7h0m57.6 17.4h0m-58.6-18.3h0m40-4.9h0m-13.7 6.5h0m-3.3-.7h0m23.4-14.4h0m-32.4 29.4h0m8.7-3h0m21.3-19.6h0m-26 6.5h0m20.8-11.1h0m-18.1 32.8h0m25.5-2.2h0m-47.6-4h0m57.2-7.6h0m-10.9 15.5h0m-17.1 5.5h0m5.7-.8h0m-8.4-30.8h0m30.4 9.3h0m-58.6-7.2h0m34.8-7.4h0m-14.4-6.4h0m10.2 30.7h0m-38.7-1.9h0m51.1 20.9h0m-42.3-40.8h0m16.8-5.9h0m8.4 25.2h0m28.5 .2h0m-53.2 7.2h0m35.4-26.2h0m-2.6 9.2h0m-1.2-8.4h0m-9.7 2h0m-3.6-8.2h0m4 12.3h0m7.2 16.1h0m-21.2-30.8h0m42.6 18.4h0m-27 5h0m-12.4-1.9h0m12.4-4.9h0m27.4-7h0m-42.1 1.5h0m25.4-14h0m6.7-2h0m-7.9 53.3h0m4-48.3h0m-46.6 9.5h0m19.4 25.3h0m12.2 3.7h0m29-25.1h0m-40.6-15h0m-8.5 13.9h0m54.7 1.7h0m-4 3h0m-10.9 15.2h0m-17.3 2.5h0m22.8-12.8h0m-22.2 11h0m-4.6-33h0m11.3 4.7h0m12.2 10.4h0m-32.2-8.2h0m25.2 8.8h0m-22.6-7.8h0m-19.8-2.1h0m39.9 39.2h0m-21.5-10.3h0m4.1-5.2h0m21.6 6.8h0m10.2-4.1h0m.5 17.4h0m-27.2-34.3h0m21.9-2.1h0m-16-4.4h0m-7.5-4.5h0m16.5 46h0m-26-15.1h0m39-1.4h0m-38.9-19.6h0m-12.5-8.3h0m10 33.6h0m33.4-28.8h0m-31.5 2.6h0m9.5 12.5h0m38.6 3h0m-33.2 18.2h0m-37.1-35.9h0m49.6 3.2h0m-35.5 14h0m22.6-2.5h0m17.4-19.5h0m12.4 0h0m-10.7-10.4h0m-45.2 34.6h0m51.3-21.9h0m-20.2 29.3h0m-14.5-2.2h0m14.7 1.8h0m15.3-1.6h0m-32.4-38h0m40.4 49.5h0m-2.4-19.2h0m-23.3-27.3h0m-41.2 19.8h0m12.1-15.8h0m15.4 2h0m42.5 10.4h0m-31.3-4.6h0m-28.1 11.4h0m19.4-19.9h0m-12.4 1.8h0m34.7 24.8h0m-7.1 12.1h0m-3.9-26h0m4.9 27.2h0m.5-47.4h0m10.5 37.8h0m-7.7-2.8h0m-29.9 6.4h0m11.2-15h0m22-22.5h0m-17.3 38.1h0m19.8-30.9h0m-15.3-6h0m-19.2 35.4h0m34.4-2h0m-26.5-6.1h0m3 15.7h0m25.2-3.2h0m-43.8-10.9h0m18.1-8.2h0m27.8-16.7h0m.9 44.8h0m-9.3-10.6h0m10.6-27.8h0m-14.2-8.9h0m-18 41.6h0m9.1-35.9h0m10.8 32h0m13.1-14.5h0m-6.8 19.6h0m-24.5-40.3h0m37.1-4.2h0m-15-5.1h0m21.1 43.9h0m-12-34.5h0m-36.3 8.8h0m10.6 14.9h0m-21.3-12.7h0m11.4 2.5h0m-.9-10h0m-9.1 11.8h0m8.4-16.1h0m20.8 42.3h0m11-50.8h0m-29.6 15h0m11.9 10.9h0m-15.4-14.8h0m-22.8 14h0m70.1 23.8h0m-70.3-29.6h0m72.3 12.1h0m-44.6-9.9h0m35.6 6.9h0m-35.7 18.4h0m38.8-30.6h0m-43.8-8.1h0m5.8-2.2h0m34 31.5h0m-.5-22.2h0m-1.5 24.5h0m-17.5-25.4h0m22.3 15.4h0m-26.7-18.3h0m19.1 8.1h0m-43.6 0h0m.1-5.1h0m53.1 6h0m-42.1 11.3h0m20.7-30.2h0m-9.9 50.9h0m18.6-31.7h0m2.7 32.4h0m-20.6-25.3h0m-4.6-22.5h0m25.7 18.9h0m-17.3-5.1h0m22.9 4.3h0m2.5-13.1h0m-11.7-6.6h0m-21.3 40.5h0m-12.9-15.7h0m49.3 7.3h0m-5.9-30.5h0m-27.1 27.6h0m26.8-21.4h0m-33.1 1.3h0m24.3 5.1h0m-26.8 15.5h0m21.2 17.2h0m-25.2-21h0m19.2-12.2h0m.7 31.1h0m-10.3-40h0m-1.7 17.6h0m-20.4-16.9h0m-3.3 1.6h0m38.1-2.3h0m9.8 44.7h0m-4.1-12.8h0m-24.7-22.3h0m38.8 13.1h0m-23.5-26.2h0m7.5 6.3h0m-24.4 9.6h0m40.1 3.4h0m-51.1-14.1h0m56.6 3.8h0m-71.7 7.3h0m57.3-16.9h0m-25.6 6.2h0m-3.2 18h0m41.4 7h0m-29.9-35.7h0m15 12.3h0m-15.6 34.7h0m22.3-22.4h0m1.6-19.7h0m-15 31.5h0m-46-21.8h0m51.1-4.2h0m-3.3 23.9h0m8.5 19h0m12.9-20.7h0m-15.6 3.8h0m-40.5-27.1h0m34 6.3h0m-1.5 32.5h0m-27.1-19h0m18.5-16.5h0m6.6-8h0m-6.8 20.2h0m-.4 17.7h0m-2.9 8.7h0m18.2-30.8h0m.3-3.9h0m-20.8 5.9h0m41.5-1.5h0m-18.4-19.4h0m0 .3h0m-42.8 23.4h0m52.2-12.2h0m-38 10.1h0m29.7-1.4h0m-27.4 26.6h0m-17.1-22.7h0m44.5 5.6h0m-4.7-13.7h0m-3.5 25.7h0m-26.7-9h0m37.8-20.1h0m-25.4 28.7h0m-19.8-30.1h0m16.2 1.4h0m15.9 34.7h0m-45.9-20.6h0m16-2.5h0m21.8-22.5h0m-24.4 15.2h0m4.1-2.9h0m-2.2-1.6h0m47.3 17.1h0m-37.6-18.3h0m16.4 27.3h0m21.1-11.2h0m-52.2 9.1h0m17.2-32.8h0m-9.1 6.5h0m18.9 4.7h0m3.2-3.4h0m-26.9 25.9h0m-11.1-12.1h0m12.4 1.4h0m24.7-2.1h0m-2.2 3.1h0m-21.7 6.5h0m16.4 15h0m33-28.8h0m-12.3 11.6h0m-24.8 11.5h0m10 8.1h0m30.8-25.2h0m-30.1-10.4h0m-18.5 26.4h0m32.9-22.8h0m-7.4-.6h0m-19.3-5.6h0m-9.8 19.1h0m22.5 11.5h0m-22.3-10.5h0m11.4 4.4h0m8.9-20.1h0m-33.6 8.1h0m35.5-7.6h0m21-15.2h0m9.4 9.9h0m-65.1 14.6h0m45.8-12.1h0m1-.5h0m-15-10.2h0m4.3 16.8h0m-2.3-16.4h0m-13.8 9h0m20.8 3.1h0m11 22.9h0m-19.3-3.1h0m-9.8 1.3h0m8.7-31.3h0m2.7 37.5h0m-11.2-23.6h0m15.4 21.7h0m19.6 9.4h0m-25.2-50.4h0m10.7 44.6h0m-.5-13.1h0m-.9 .1h0m1.3 13h0m-20.2-23.2h0m12.7-12.3h0m-.2 7.9h0m20-15.3h0m-7.5 12.7h0m-50.1 12.3h0m55.3-29.1h0m-7 45.1h0m-21.7-28.7h0m-3.1 21.1h0m0-14.7h0m8.5-3h0m-2 24.8h0m-11.7-7.3h0m47.8-9h0m-38.8-26.1h0m5 33.2h0m10.5-15.2h0m-11.3-18h0m-14.9 17.9h0m47.7-6.1h0m-29.3 33.4h0m-11.1-18h0m.5-5.3h0m26.5 27.3h0m-11.9-33h0m-34.5 13.8h0m13.2-1.8h0m.6-12.9h0m-1.8 8.5h0m24.5 24.2h0m-11.1-43.3h0m38.8 9.8h0m-30.1 1.7h0m-15 10.4h0m24.5-13.6h0m24 20.5h0m-40.1-29h0m-18.1 7.4h0m57 21.1h0m-22.9 .1h0m-3.8 17.6h0m-.6-17.7h0m-24.7-14.1h0m11.2 .4h0m-18-2.1h0m22.4-3.6h0m16.4-.4h0m-33.7 2.2h0m51.3-.8h0m-36.8 32.6h0m22.3-44.7h0m-25.9 7.9h0m9.1 24.3h0m-36.8-8.9h0m52.4 15.7h0m-15.1-25.8h0m32.8 13.5h0m-45.3-9.2h0m27.4-4.2h0"/>
<path stroke="#b8d530" stroke-width="1.6" stroke-linecap="round" d="M68.9 176.5h0m46.6-17.4h0m-37.1-8.3h0m39.6 21.1h0m-26.4 24.4h0m-31.5-13.6h0m23.2-24.4h0m7.1 .5h0m19.9-1.5h0m-23.3 8.5h0m-22.2 21.8h0m33.2-27.4h0m-38.5-5.8h0m19.4 13.7h0m29.6 28.8h0m-45-18.6h0m36.8 3.3h0m-11.7-.8h0m8.8-23.3h0m-26.8-6.1h0m19.1 22.1h0m-11.9-22.4h0m39.2 25.5h0m-22.7-5.8h0m-15.3-13.1h0m2.5 .1h0m35.5 20.1h0m-21 15.1h0m0-.1h0m-13.1-9.5h0m-22.1-23.6h0m48.6 13.8h0m-45.4-12.1h0m20.9 1.2h0m-5.2-10.4h0m-18.4 4.7h0m-.7 29.6h0m6.8-32.3h0m-6.5 8.4h0m30.3-16.4h0m-4 38.3h0m-15.4-10.3h0m29.2-11.6h0m-42.5-10.5h0m56 27.2h0m-53 6.2h0m14.6-30.3h0m-17.6-4.7h0m34.4 15.7h0m-25.5 19.8h0m-5.6-32.2h0m-14.1 5.6h0m40.9-10.5h0m10.6 27h0m11.3-3.5h0m-39.5-5h0m-11.4 3.9h0m33.2-10.1h0m13.7 33.4h0m-22.2-44.2h0m13.3 26.4h0m-26.8-5.3h0m28.6-8.4h0m-26.7 18.9h0m28.5-8.1h0m6.6-26.9h0m-8.8 24.7h0m-14.5 16.9h0m-16.5-13.2h0m25.3-1.2h0m-.6-14.1h0m-37.2 22.1h0m31.2 7.8h0m-24-37h0m6.5 35.4h0m26.9 5.8h0m-23.7-47.7h0m-5.4 41h0m-7.8-30.3h0m13.1 2.6h0m16.1 2.9h0m3.5-15.5h0m3 23.9h0m-31.7-15.7h0m32.2-4.2h0m-19.9 39.4h0m-14.5-5.2h0m29.6-37.6h0m12.8 16.5h0m5.3-18.5h0m-2.2 22.6h0m-29.9 8.3h0m-2.8-31.1h0m28.2 41.6h0m-44.7-7.7h0m56.5-17h0m-54.7 10.8h0m-6.7-14.8h0m4.9 17h0m13.1 5h0m-.9 10h0m12.5-45.8h0m17.2 47.4h0m-26.9-7.7h0m15.7-18.4h0m-.2-1.5h0m24.4 5.3h0m-61.2-14.3h0m49.8-11.6h0m-17.9 7.2h0m-1.5 12.3h0m24.2 9.3h0m-1.4-12.6h0m-19.9 11.4h0m-2.8-22h0m-23.1 27.9h0m26.3-33.5h0m18.5 39.8h0m-25.4-24.7h0m-24 16.3h0m24.1 10.2h0m1.9-5.1h0m29.8-22.1h0m-3.4 3.2h0m-13.7 10.3h0m-9.5-26.3h0m12.6 33h0m13.7-8.3h0m-9.3-1.4h0m-10.9-5.8h0m16.7 17.6h0m-13.6-35.1h0m-35.9 26.5h0m7.7-14.7h0m47.9 21.5h0m-64.9-19.2h0m42.9-2.7h0m1.3-13.9h0m-3.7 15.1h0m-4 25.9h0m33.1-6.6h0m-54.6 3.6h0m47-23.7h0m5.1-3.9h0m-33.9 28.2h0m-15.3-20h0m44.9 11.2h0m3.1-10.6h0m-45 1.5h0m42.6 15.2h0m-23.4-33.4h0m-6.8 35.7h0m37.1-19.7h0m-37.3 22h0m9.9 .7h0m6.6-17.4h0m-16.9-14.2h0m22.1 14.3h0m-12.8-21.4h0m20.5 35.4h0m-34.3-34.6h0m-27 25.5h0m37.3-5.6h0m24 12.6h0m-15.3-7.6h0m1.6-15.1h0m-37.4 9.5h0m6.6-5.3h0m1 6h0m40.7 31.9h0m-39-40.5h0m35.8 23.7h0m-31.4 5.4h0m3.1-13.5h0m29.4 18.9h0m-11.1-13h0m22.9-8.8h0m-28.6 8.8h0m-40.5-5.3h0m24.9-14.3h0m11.9 15h0m-21.8-6h0m-7.7 9.6h0m55.6-26.2h0m-37.8 1.8h0m17.2-.3h0m-5.4 5h0m-22.7 22.8h0m-13.4-24.8h0m43.2 1.8h0m15.9 19.2h0m-4.6-9.7h0m-10.2 22.8h0m-24.4-12.1h0m32.2 2.3h0m-19.6 1.2h0m3.6-18.6h0m-8.8 15.4h0m-7.8-26h0m28-.2h0m-18.3 35.6h0m-32-16.6h0m51-26.6h0m6.9 52.7h0m-43.7-48.5h0m47.4 1.9h0m-35.6-3.5h0m-10.8 16.5h0m23.6 7.2h0m7.2-1.3h0m-10.2 13.8h0m9.4-5.2h0m6.3-3.7h0m-22.2 14.4h0m36.3 7.4h0m-7.8-28.1h0m-22.2 27.5h0m-3.3-44.7h0m-8 24.2h0m.2-13.5h0m19.6-13.9h0m-3.1 3.6h0m-16 13.7h0m26.7 23.9h0m-20.2-25.4h0m30.8 1.6h0m-20.1 21.7h0m.9-33h0m.1-9.1h0m14.1 36h0m10.8-7.8h0m-10.6-14.4h0m-7.6 10.3h0m5.7-6.3h0m.7 12.8h0m13.5-13.8h0m-13.9 2h0m-8.3 21.3h0m0-13.4h0"/>
<path stroke="#482475" stroke-width="1.6" stroke-linecap="round" d="M80 153h0m-29.2 9.3h0m6.4 1.9h0m9.7 4.3h0m40 20.8h0m4.2 .5h0m4-13.3h0m-7.6 8.7h0m-5.4 4h0m-52.7-22.3h0m60.4 18.9h0m1.8 5.5h0m-6.8-3.4h0m1.3-3.3h0m-54-15.8h0m2.5-8.4h0m-4.5 1.4h0m.5-1.3h0m65.1 27.5h0m-8.1 1h0m-6.2-6.5h0m-23.8-20.9h0m-11.4-2.6h0m6.6 33.9h0m-21.2-21.2h0m53.4 17.4h0m2.3-29.1h0m0 33.5h0m-54-26.9h0m21.8 14.3h0m29.5-18.4h0m-48 6.5h0m-4.2 1.5h0m56.5 16.2h0m1.6-31.2h0m-58.2 11.5h0m1.1-3.1h0m55.3 19.7h0m-20.7-27.2h0m16.2 15.7h0"/>
<path stroke="#414487" stroke-width="1.6" stroke-linecap="round" d="M48.8 162.5h0m7.7-.4h0m59.4 28.8h0m-12.3 5h0m6.2-8.1h0m-48.2-.7h0m48.8-.5h0m-58.2-19.7h0m47.7 22.3h0m-11.4 8.9h0m-5.8-16.3h0m-27.9-29.4h0m54.9 36.9h0m-2.6 4.2h0m7.7-7h0m-20.3-30.9h0m23.4 16.3h0m-43 2.2h0m29.4 15.3h0m8.8 .1h0m2 .7h0m-8.7-3.9h0m-7.9-5.5h0m-6.7 10.3h0m20.3-.9h0m-11.6-23.2h0"/>
<path stroke="#440154" stroke-width="1.6" stroke-linecap="round" d="M51.6 161.8h0m1.7-.4h0m-.5 2.3h0m1.4 4.5h0m1.1-7.5h0m-6 6.4h0m1-3.1h0m-2.6 4.6h0m5.6-1h0"/>
<path stroke="#8c8c7c" stroke-width="0.25" stroke-opacity="0.55" fill="none" d="M66.1 178.5L64.1 173.4M75.2 173.4L89.4 189.1M91.3 158.4L93.5 166.9M103.6 194.8L115.1 190.2M99 180.1L97.6 173M104.8 148.8L99.2 165.2M58.4 177.5L64.2 172.9M77 163.9L81.7 182.6M70.7 182.5L64.9 161.7M103.4 164.4L108.3 166.4M108.8 193.5L92.8 187.5M98.3 156.6L91.2 143.1M65 160.4L73.9 152M83.5 189.1L92.3 188.7M71.3 147.7L67.5 150.7M95.4 189.9L78.5 187.1M88.5 145.3L77.1 151.9M113.8 162.6L108.4 176M78.1 160L93.3 174.3M79.7 174.3L66.1 178.5M110.5 172.5L119.3 176.2M79.2 151.7L67.5 150.7M57.9 156.6L73.8 152.1M87.5 187.4L104.8 187.9M93.8 176.7L101.1 192.2M88 166.1L96.3 161.8M65.9 156.8L51 155.6M77.6 161.6L86.3 151.9M64.6 186.8L64.9 175.4M70.2 167.5L79.6 169.5M86.2 163.4L85.3 167.3M62 181.1L44.5 169.5M92.8 188.8L83.5 191.3M71.9 165.5L59.6 171.4M110.8 153.1L113.3 173.3M110.9 175.7L114.3 158.7M73.6 160.9L85.1 148.7M57 178.5L58.3 162.7M109.1 157.8L99.7 154.1M93.8 176.7L99.3 167.1M72.4 167.2L71.3 147.7M102 194.1L113.9 191.8M87.5 167.5L94.3 170.8M68.6 184.6L84.7 197.2M112.1 190.2L106.5 196.5M86.3 184.3L101.3 198.9M58.2 182.3L63.7 170.3M65.9 184.7L72.9 192.7M75.9 176.4L80.6 182.1M119.3 176.2L116.4 170.5M61.4 155.6L45.6 158.9M84.1 174.7L79.4 186.5M72.1 186.9L68.4 169.3M101.3 161L98.7 164.1M81.4 179.9L87.2 185.1M88.4 162.8L69 154.7M63.5 169.6L51.8 153.6M80.5 177.3L62 179.9M63.3 150.2L77.7 164"/>
<path stroke="#9a9a9a" stroke-width="0.3" stroke-opacity="0.7" fill="none" d="M206.6 179.5L199.3 170.2M197 185.9L192.6 169.1M161.5 153.3L177.9 147.5M186.2 174L200.9 159.1M162.2 160.2L172.5 156.8M167.5 158.6L189.8 145.2M194.2 157.3L175.1 167.6M143.4 178.4L139.2 173.3M152.3 162.1L139.1 167.7M179.5 191.7L171.2 186.2M195 163.3L211 173.7M180 145.3L178.5 163.6M167.9 147.5L169.2 157.2M184 176L170.8 156.3M149.2 182.1L161.9 196.3M156.8 174.2L143.2 181.2M168.9 182.5L176.4 157.9M203.1 176L178.2 184M178.7 162.9L195.2 169.8M164.9 181.2L164.5 193.3M158.8 182.1L161.8 181.1M179.4 174.4L177.3 192.1M166.6 191.8L180.2 185.1M159.4 163.8L158.1 158.6M172.2 160.1L175.2 169.7M156.5 155.6L163.8 178.3M146.5 176.8L157.2 165.6M195.1 174.1L198.2 164.9M180.5 178.6L180.6 189.1M171 169.2L173.2 185.3M180.9 188L181.6 179.9M206.7 162.6L187.8 152.6M162.9 154L163 158.2M144.6 175.4L147.8 185.1M207.8 175.7L189.4 167.5M182.3 190.6L175.3 197.3M171.6 164.5L165.7 180.8M170.3 164.4L165.5 177.5M196.8 185.2L191.5 198.4M157 177.7L166.1 182.7M170 167.5L172.7 163.5M177.8 157.7L180.3 159.6M195.3 180.9L208.1 171.5M190.3 156.3L174.1 173.4M141.7 183.5L138.1 177.8M161.9 163.3L163.7 155M193 183.4L203.1 182.4M133 168.1L158.1 166.9M199.4 171L203.7 193.5M154.6 170.6L134.2 166.9M152.3 178.3L158.4 184.8M183.1 159.1L195.6 149.5M187 186.2L168.1 170.6M172.5 150.6L162.2 160M200.1 173.8L180.5 158.7M151.3 158.6L170.7 162.7M195.3 180.9L178.8 173.9M157 174.2L150.2 180.8M183.5 196L170.3 191.5M175.2 161.8L181.8 167.8M158.2 171.4L154.8 160.2M161.8 176.1L152.5 154M194 154.7L190.6 174.6M179.4 164.2L178.2 181.2M190.2 169.3L168.9 154.6M192.5 166.9L204.9 160.7M182 163.6L192.6 169.1M139.8 182.7L152.2 183.1M148.7 181.4L156.9 189.7M207.2 171.3L192.6 151.1M189 160.7L202.2 180.8M169.2 172.1L181.4 193.3M195.3 190.7L179.1 191.1M162.9 179.7L165.5 177.5M166.4 176.2L180.9 159.2M145.8 164L142 173.2M172.8 157.5L173.8 149.6M209.8 182.1L200.1 173.8M198.3 179.4L205 169.4M175.4 181.4L172.9 190.4M168.3 167.1L154.1 173.2M186.1 148L177.5 152.4M159.8 164.9L142.8 176.2M187.8 162.6L165.3 152.5M190.6 174.6L192 154.1M169.8 178.2L192.8 190.9M165.1 181.7L147.2 178.5M169.2 182.9L164.5 158M170.2 195.8L174 182.8M197.1 188L191.8 170.5M134.5 170.5L146.2 154.1M169.8 180.6L168.9 154.6M185.4 187.2L168 176.2M173.1 166.9L169.4 171.2M196.7 183.1L181.1 186.5M158.3 172.9L167 182.9M195.8 149.1L180.7 163.6M187.6 187.4L165.5 177.5M195 159.4L182.7 171.5M187.8 162.6L169 151.9M153.5 162.6L169.8 178.2M192.8 170L184.5 163.6M159.6 189.1L162.5 177.1M209.3 179L190.8 179.9M176.6 193.1L170.8 169.2M173.2 185.3L175.9 174.1M156.2 188.8L142 173.2M159.1 188.7L179.4 174.4M162.3 162.7L187.8 162.6M178.3 164.7L168.6 165.5M174.8 165.6L190.6 174.6M176.3 175.8L150.7 176.1M178.4 168.6L198.2 177.8M173.2 195.1L188.9 197.9M170.8 165.3L153.1 184.3M205.4 164.3L186.1 179M180.1 155.2L188.1 173.7M175.4 181.4L163.1 165M206.8 185.2L192.6 163.9M169.2 172.1L185.6 156M200.6 168.2L188.1 173.7M146.3 179.8L166.7 179.9M172 192.1L171.8 199M167 156.1L178.1 178.7M199.1 173.3L200 184.7M164 176.4L155.3 164.7M156.2 170.4L147.5 169.9M176.7 150.5L174.6 157.8M175.2 161.8L175.9 174.1M161.8 176.1L179.3 170M154.1 168.9L174.3 172.7M172.1 158L160.7 170.4M198.7 190.8L202.6 193.1M193 183.4L172.9 190.4M147.7 188.2L156.2 170.4M199.4 161.8L181.4 147.9M190.3 155L187.4 157.4M185.7 186.5L167.7 181.1M181.6 179.9L195.2 174.3M179.3 170L169.5 147.8M160.7 170.4L142.3 177.6M151.1 174.9L157.9 178.9M185.6 157L200.8 176.9M179.9 165.3L159.7 156.1M203.7 190.1L180.9 190M197.1 196.1L191 187.9M158 193L177.2 185M163.3 170.9L170 167.5M207.3 179.1L204.7 190.4M176.4 154.8L183.5 173.9M162.2 182.3L179.5 178.4M208.1 171.5L197.5 162.4M186.8 189.1L183.5 170.1M190.8 179.9L176.6 193.1M180.2 190.3L178.4 168.6M162.2 164.7L156.9 189.7M185.8 177.4L170.2 195.8M184.6 159.4L190.2 169.3M168.4 196.6L156 193.5M185.2 192.3L193.1 197M168.5 170.7L164 195.6M189.8 167.5L208.2 164.7M146.5 176.8L153.9 164.9M190.2 167.7L197 149.1M157 174.2L140.1 177.8M147.8 154.2L157 177.7M201.8 186.3L205.9 182.8M175.3 192.6L199.4 183.7M135.6 175.6L147.2 178.5M150.6 175.4L134.5 170.5M169.2 182.9L145.8 173.9M142.8 176.2L139.2 165.7M200 179.1L183.1 159.1M197 175.3L189 160.7M201.2 185.9L197.3 194M176.5 179.9L183.5 173.9M159 160.8L166.2 185.1M196.3 184.5L181.3 192.2M149.4 187.3L165.6 195.6M169.2 172.1L150.1 178.1M154.6 168.7L151.1 182.6M177.6 155.3L164.8 149.4M161.2 167.6L178.5 150.6M185.5 167.9L193.9 152.3M163.3 170.9L156.5 192.1M169.5 177.5L150.9 173.6M182.1 177.1L183.1 155.6M168.2 185.3L178.5 194.8M162.5 164.5L183.4 149.4M182.9 162.2L177.2 167.3M187.1 186.2L161.7 179M165.2 158.4L140.3 156.8M167.8 176.5L169.2 172.1M201.9 186.2L184.3 185.6M144.4 159.4L155.7 157.2M170 167.5L172.9 182.8M143.8 156.9L147.6 163.2M151.9 162.8L148.6 176.8M205 178.1L185 189.5M170.6 195.4L193.4 183.3M162.2 160.2L169.2 172.1M155.2 163.4L145.9 156.2M199.4 164.5L189.9 174.2M171.3 149.8L190.1 146M165.3 165.5L147.4 161.3M161.7 175.2L159.8 154.4M197.1 189.4L186.8 189.1M180 146.2L158.4 153.3M158.7 151.9L178.5 163.6M155.2 165.1L134 173.3M182.8 175.6L174.7 189.8M139.4 169.8L137.8 164.3M204.7 190.4L199.7 191.4M134.3 162.9L146.2 172.7M176.7 166L193.9 152.3M169.3 180.7L158.4 181.3M165.1 181.7L169.2 172.1M195.1 167.2L199.4 171M169.2 175.9L176.5 156.6M192.1 154.8L177.3 157.3M154.2 185.2L179.9 185.2M186.5 154.8L168.9 147.1M174 192.2L158 177.3M135.1 172.9L148.1 190.1M193.8 193.7L178.9 187.8M208.1 175.1L196.8 174M162.2 182.3L173.6 189.3M168.4 180.8L165.1 181.7M165 149.8L158.8 158.7M154.5 165.9L150 173.1M200.1 179.8L185.4 187.2M185.9 157.6L188.1 173.7M151.2 178.9L145.6 185.2M202.8 162.3L190.2 167.7M143.3 182L145.8 173.9M176.9 153.2L162.6 163.9M204.4 164.1L204.6 175.9M159.5 160.6L178.5 150.6M173.8 149.6L159.9 165.5M138.3 164.3L155.3 164.7M178.5 190.3L158.5 184.8M187.9 167.5L181.4 147.9M182 193.7L159.4 187.8M185 189.5L208.2 187.4M185.8 177.4L196.4 160.5M190.2 169.3L181.9 193.7M171.3 155.2L182.2 170.4M150.2 181.6L174 182.8M192.5 168.7L206.9 182.3M178.6 155.9L169.2 168.8M172 169.5L158.8 186.5M142.3 177.2L139.4 169.8M195.8 178.7L172.5 189.4M165.5 195.4L151.1 174.9M175.2 187.1L172.7 163.5M160.1 192.2L168.9 182.5M200.1 173.8L198.1 149.9M177.4 191L183.9 184M160.1 149.8L147.5 169.9M164.6 165.2L186.3 179.1M147.5 169.9L140.6 183.7M162 196.9L182.8 187.1M165 178.9L187.6 187.4M182.4 158.2L176.6 147.1M150.6 175.4L150 162.1M168.2 163.8L151.1 182.6M161.2 167.6L166.8 187.9M190.2 167.7L182.2 170.4M160.1 192.2L162.3 195.8M177.3 157.3L179.8 154.4M166.8 187.9L167.4 194.4M199.1 158.4L196.7 152.5M175 192.4L173 174M160 179.5L181.1 186.5M159.8 154.4L140.5 157M181.9 193.6L176.8 191.4M173.4 188.7L168.6 166.6M167 167.9L148.6 159.8M173 174L191.5 170.6M158.1 166.7L176.3 175.8M162.9 179.7L153.9 192.1M163.6 187.8L167.5 169.5M171.6 154.3L155.3 155.4M200.4 183.6L180.2 182M139.9 181.6L132.9 169M178.5 150.6L189.1 145.1M159.4 170.1L166.3 166.4M178.3 181.6L184.5 191.1M193.9 167L173.2 150.6M186.5 149.5L179.1 152.1M150.2 181.6L137.4 168.2M179.3 170L177.4 191M185.4 187.2L194 179.7M183.5 170.1L177.5 169.2M203.6 163.7L210.3 172.6M156.9 190.8L178.2 181.2M146 160L138 172.8M158 180.6L148.5 178.8M178.8 173.9L154.1 173.2M156.8 189L171.6 195M153 178.7L171.2 172.8M165.2 158.4L152.9 158.6M167 182.9L170.3 164.4M189 160.7L183.5 173.9M195.3 180.9L200.1 190.7M200.1 179.8L201.9 186.2M194.3 162L207.4 168.5M171.8 161.4L176.9 153.2M138.3 164.3L132.5 170.2M194.4 175.7L190.3 192.3M142.8 174.5L154.7 175.5M159.5 160.6L178 157.9M180.5 170.9L162.2 182.3M196.1 157.1L169.9 160.9M151.5 181.7L167.5 168.8M168.5 185.1L173.2 195.1M138.3 164.3L155.2 183.7M204 172.1L197.9 163.3M187.1 186.2L194.8 195.9M170.8 156.3L168.1 169.8M183.5 196L187.4 194.2M170.3 164.4L195 169M167 167.9L181.8 167.8M202.8 153.8L191.5 147.1M205.4 180.2L190.8 179.9M151.6 188.9L165.7 180.8M147.5 169.9L165.3 152.5M144.4 159.4L165 149.8M167.4 194.4L148.8 175.9M184.8 173.4L197 165.5M177 187.9L199.1 176.6M182.4 163.5L208.7 165.4M173.6 189.3L149.2 182.1M165.5 177.5L187.1 186.2M179.9 165.3L180.2 171M144.2 166.4L149.1 154M181.6 179.9L156.3 183.7M146.7 177.4L148.5 180M160.1 157.6L162.6 163.9M164.1 195.2L150.2 181.6M170.6 173.5L182.1 177.1M179.9 157.2L173.1 169.4M176.4 146.7L189.4 167.5M173.1 169.4L165.3 177.4M184.9 191L197.1 196.1M144.3 185.2L155.8 170.3M170.6 195.4L164.4 191.8M149.2 154.6L157.9 158.2M154.5 157.2L168.6 166.6M187.3 186.7L169.2 172.1M178.3 181.6L174.5 165.3M190.2 188.3L184.9 191M188.5 197.8L194.7 172.4M198.7 185.7L204.3 169.1"/>
<path stroke="#d6d23c" stroke-width="0.35" stroke-opacity="0.8" fill="none" d="M168 194.2L150.6 177.2M198.2 164.9L182.9 171.3M159.7 160.1L169.3 158.7M168.4 180.8L188.9 180M196.7 171.4L183.7 179.8M172.6 179.7L163.7 155M144.5 167.8L142.3 177.2M190.6 174.6L209.7 178.7M195.9 194.9L187.1 186.2M193.5 167.1L189 165.7M191 187.9L177.2 185M173.1 170.8L179.1 158.7M179.3 170L178.7 195.2M180.8 197.6L199.4 183.7M206.5 174.7L198 184.6M177.5 152.4L160.6 153.2M173.8 149.6L196.6 148.9M180.7 176.6L185.6 185.6M137.4 168.2L140.6 160.8M187.5 185.1L178.5 184.6M182 163.6L164.2 165.9M189.5 156.1L171.2 165.7M166.8 187.9L184.7 179.9M142.3 177.6L153.3 175.3M189.3 155.5L205 169.4M191.1 154.3L188.1 173.7M161 196.6L147.8 185.1M171.3 155.2L155.3 164.7M155.8 170.3L173.2 185.3M190.4 188.4L178 184.2M184.6 172.5L165.7 187.2M173.8 188.3L196.2 184M147.4 161.3L145.1 167.6M162.9 179.7L174.3 172.7M192.6 165.9L185 185.3M200.1 179.8L200.4 167.5M144.8 174.6L153 151.3M174.4 172.6L156.2 188.8M187.5 185.1L178.8 173.9M169.9 197.1L187.2 194.9M198.3 180.2L196.8 173.5M200.1 150.5L176.7 150.5M178.1 178.7L195.2 187.7M143.9 164.1L162.2 182.3M194 179.7L201.6 157.2M170.6 163.9L146.6 159.2M178.7 162.9L167.2 147.7M169.4 171.2L148.6 159.8M179.9 157.2L161.4 174.4M171.8 197.4L166.8 187.9M197.3 182.8L195.1 167.2M158.8 187.7L173.6 186.2M180.6 189.1L171.1 193.3M159 160.8L144.6 166.6M180.7 176.6L163.2 190.6M195.9 160L185.4 175.5M182.8 187.1L182.9 171.3M180.2 183.4L160.3 185.8M192.6 165.9L176.3 175.8M183.9 164.6L185 187.5M149.1 189.2L161.2 167.6M198.3 188.5L178.2 184M137.1 172.7L149.1 160.2M172 192.1L176.3 170.8M204.6 171.2L189.3 161.4M183.9 199.5L175 190.3M185 171.3L204.5 161.7M169.3 158.7L171.2 165.7M182.9 148.7L197.8 156.9M185.8 177.4L178.8 182.5M176.5 199.8L175.1 195.6M158.4 171.1L162.1 153.7M182.9 171.3L195.2 151.4M170.8 180.5L195.1 188.4M179.1 152.1L159.5 160.6M175.8 153.3L173.4 145.6M172.8 157.5L171 183.1M192.5 166.5L170 167.5M167 182.9L157 177.7M161.8 166.4L171 183.1M187.6 155.7L161.5 153.3M192.6 169.1L170.8 180.5M177.1 192.5L186.6 177.8M175.5 145.4L188.8 161.1M172 192.1L158.4 184.8M158.3 172.9L144.4 165.5M208.2 164.7L190.2 167.7M185.6 185.6L193.1 193.6M140.5 168.8L139.1 181.8M167.5 169.5L176.4 157.9M188.7 173L173 174.2M140.3 156.8L145.2 176.6M165 178.9L173 174.2M192.1 152.8L204.6 175.9M174.3 172.7L161.9 150.6M173.9 188.1L162.6 195.4M173.6 151.2L159.5 168.9M174.3 178L156.8 158.5M184.2 180.6L165.5 177.5M172.5 181.2L165.7 180.8M183.1 154.7L170.4 165.2M184.5 176.7L195.8 178.7M182.2 170.4L164.8 163.9M197.1 188L177.1 192.5M197 175.3L197.1 196.1M142.3 170.2L151.6 156.5M162.6 195.4L177.6 178.4M158.8 150.8L143.8 156.9M205.1 157.1L190.4 165M161.8 176.1L148.6 176.8M178.5 153.4L194.9 157.7M197 165.5L208.4 169.8M200.6 150.4L197.1 176.4M183.3 147.4L165.3 152.5M192.7 189.4L178.6 190.8M141.5 170.4L167.3 166.1M183.4 149.4L196.1 157.1M172 192.9L171 183.1M160.8 154.9L150.6 175.4M169.3 180.7L159.6 189.1M184.5 191.1L208.4 186.9M200.6 168.2L199.1 158.4M192.6 165.9L197.5 162.4M143.1 181.7L141.6 184.4M143.2 181.2L140.6 160.8M169.9 149.9L151.9 162.8M173.2 186.2L187.3 186.7M178.4 161.8L186.2 174M166.6 191.8L183.9 199.5M179.1 152.1L172.8 157.5M180.2 183.4L201.7 180.1M207.7 187.7L209.7 180.6M154.9 155.9L144.8 174.6M183.7 179.8L195 169M158.1 166.9L175.1 167.6M163.8 167.7L178 184.4M177.2 185L196.2 172.9M182.9 161.2L175.3 150.8M185.4 175.5L193.3 165.7M177.5 196L155.6 187.4M183.1 159.1L177.5 169.2M183.1 159.1L199.8 149.1M202.4 166.5L205 178.1M191.7 189.1L177 199.4M175.8 153.3L165.3 152.5M180.6 189.1L192.6 165.9M204.2 171.6L204.3 165.7M180.2 171L167 167.9M181.9 193.6L188.5 197.8M161 196.6L161.8 181.1M179.5 191.7L178.1 178.7M189.3 161.4L182.9 161.2M174.3 178L186.8 189.1M144.3 185.2L168.2 185.3M154.2 185.2L176.8 191.4M172.2 160.1L167 156.1M160.2 158.8L174.3 178M195.1 174.1L185.2 173.5M165.3 177.4L174.4 165.9M182.8 175.6L178.4 161.8M151.2 156.5L177.6 155.3M205.5 163L192.6 151.1M196.6 148.9L186.1 148M198.9 184.4L195 168.5M171.6 176.4L175.3 192.6M167 156.1L169.9 149.9M205.1 157.1L182.7 154.1M197.7 169L190.7 164.2M149.2 182.1L161.7 161.3M155.7 157.2L157.8 169M184.5 163.6L200.7 169.8M190.2 188.3L169.5 177.5M169.9 191.2L146.4 181.1M169.9 190.1L157.9 178.9M207 186.9L189.4 167.5M189.6 166.7L173.8 149M200.1 192.2L185.7 179.3M179.5 178.4L172.7 196.5M171.6 176.4L163.2 190.6M144.8 169.1L144.3 185.2M179.5 178.4L175.4 181.4M209.6 166.6L192.1 152.8M156.3 183.7L161.9 163.3M173.6 186.2L169.9 190.1M178 199.5L164.4 194.5M159.5 160.6L158.7 151.9M168.9 154.6L165 149.8M195.5 156.6L184 145.7M204.6 171.2L204.8 162.5M197 175.3L182.3 190.6M178.1 178.7L171.3 155.2M193.9 167L177.3 151.8M154.6 170.6L163.5 159.9M174.3 172.7L185.7 186.5M183.9 184L169.2 183M146.7 177.4L149.2 182.1M186.4 199.3L191 187.9M192.5 166.5L190 146M188.9 179.9L184.7 157.7M159.4 170.1L175.9 174.1M165.9 194.4L163.4 175M180.9 159.2L187.9 167.5M201.4 166.2L207.7 167.9M152.3 189.2L140.3 169.2M164.8 191.1L188.8 188.8M184.6 159.4L183.5 173.9M185.6 185.6L166.2 185.1M156.5 155.6L150.7 176.1M188.4 145.9L201.4 166.2M159.8 164.9L143.5 178.2M154.8 153.1L161.8 176.1M146.7 186.7L153.4 179.8M154.1 173.2L138.1 177.8M183.1 155.6L189.3 161.4M154.8 153.1L138 172.8M169.9 160.9L154.9 155.9M185.2 173.5L202.6 180.9M206.6 173.6L192.6 192.3M138.8 171.4L138.3 164.3M202 174.3L199.4 161.8M154.3 157.6L172.3 149.7M158 177.3L175.4 181.4M142.3 170.2L153 151.3M137.1 172.7L159.5 160.6M189.8 159L184.8 161.8M159 160.8L174.8 160.8M141.3 161.6L157 174.2M167.7 180.3L162.2 182.3M191 192.4L178.2 184M181.2 194L194.8 181.5M208.7 165.4L206.9 182.3M172.1 150.8L185.9 157.6M175.4 198.4L172 199M154.6 168.7L155.2 163.4M165.7 187.2L161.7 180.5M167 182.9L178.1 159M166.3 166.4L146.7 177.4M187.6 187.4L205.8 175.5M165.5 195.4L178.6 190.8M165 149.8L172.5 150.6M173 174.2L195 159.4M146.7 164.7L165.2 177.9M168.1 170.6L154.1 168.9M178.5 190.3L158.8 187.7M162.2 160.2L150.2 180.8M169.9 191.2L175.5 187.8M147.1 183L140.5 181.9M156.8 174.2L152.5 154M207.2 171.3L181.9 167.8M164 176.4L181.8 167.8M183.9 184L169.3 186.1M144.8 174.6L168.5 185.1M175.2 187.1L169.2 168.8M183.1 194.5L184.5 176.7M154.6 168.7L157.3 155.8M179.4 174.4L173.8 157.8M146.5 176.8L140.3 169.2M210.9 177.8L197 185.9M161.9 189.2L156.9 189.7M184 176L199.1 158.4M158.4 178.8L144.6 175.4M157.2 165.6L155.8 184.7M185 187.5L172 192.9M170.7 162.7L174.4 171.4M189.8 159L195.8 178.7M143.2 181.2L140 159.3M209.3 179L205 176M184.9 178.7L203.7 170.2M154.5 157.2L170.6 173.5M157.8 169L146.7 186.7M141.9 177.5L148.8 190.1M194.7 153.3L187.8 162.6M169.2 175.9L155.2 172.5M181.3 192.2L161 196.6M191 182.2L184.5 163.6M201.7 156.5L197.3 176.8M175.1 196.6L165 178.9M173.8 149.6L181.5 149.9M186.1 148L171.3 149.8M170.7 162.7L162.1 152.6M158.8 182.1L171.9 190.7M178.4 168.6L181.9 193.7M168.1 169.8L178.8 182.5M174 192.2L167.8 176.5M204.4 164.1L188 160.8M166.7 150.1L182.4 158.2M158.1 166.7L165.2 177.9M143.9 163.7L138.1 164.1M189.3 155.5L208.1 171.5M208.7 168.4L205 186.3M202.6 167.4L199.1 173.3M174.3 178L174.7 189.8M170 181.4L152.3 162.1M178.3 181.1L190.6 174.6M184.5 191.1L178.8 173.9M180.7 176.6L189 160.7"/>
<path stroke="#2a788e" stroke-width="1.6" stroke-linecap="round" d="M177.9 180.7h0m-16-17.4h0m25.7 24.1h0m11.8-33.3h0m-5.3 29.6h0m-61.3-15.6h0m11.1-4h0m49.6 15.1h0m-20.3 7h0m-6.4 3.1h0m-5.1-10.3h0m38.7 4.6h0m-12.8 9.5h0m-18.6-44h0m39.4 37.8h0m-25.3 10.1h0m-24-8.3h0m-12.4-2h0m32.4-34.6h0m2.2 40.1h0m16-15.4h0m-38.8-.7h0m38.1-20.9h0m-22.8 24.5h0m2.6-21.8h0m-17.5 7.3h0m9.6 19.9h0m26.8-4.2h0m-33.2-28.3h0m12.6-.4h0m16.8 25.6h0m-8.3-26.9h0m-5.5 46.4h0m-9.3-.7h0m26.7-8.2h0m-14.7-38.6h0m-22 29h0m18.2-28.3h0m33.1 27.5h0m-9.9-28.9h0m-20.3 29.3h0m9.6-27.3h0m-40.5 25.7h0m29 1.6h0m-2.8-17.6h0m-14.2-7.6h0m9.3 36.9h0m20.1 4.5h0m-38.1-5.7h0m-11.9-29.6h0m2.8 16.9h0m7.3 1.9h0m43 15.5h0m-53.7-23.8h0m65-5.7h0m-34.2 31.7h0m3.4-6.5h0m-18.8-29.1h0m44.6 23.5h0m-24.7 6.1h0m4-26.9h0m0 32.3h0m-7.5-24.5h0m-.4 9.8h0m25.7-4.2h0m-13-2.4h0m-40.3 13.1h0m21.2 4.8h0m22.8-39h0m-27.1 39.4h0m7.8-6.3h0m38.9-.7h0m-7.6-30.7h0m-55.6 25.1h0m17.8 9.9h0m16.1 6.5h0m8-20.9h0m-34.4 7.5h0m21.1-22.5h0m-1.6 35.3h0m10.5-8.9h0m15.6-28.1h0m-3.4 23.3h0m-9.6-1.9h0m-3.5 3.6h0m12.4 2.5h0m-23.4-28.7h0"/>
<path stroke="#22a884" stroke-width="1.6" stroke-linecap="round" d="M162.1 153.7h0m43.7 6.5h0m-.3-4.2h0m-41.5 20.4h0m11.3 1.5h0m23.6 0h0m-23.9 14.5h0m-18.1-1.6h0m41.5-6.7h0m-20.4 .3h0m7.4 2.8h0m-13.3-29.2h0m15.6 34.6h0m-26.9 1.6h0m28.1-14.2h0m-24.5 14.5h0m43.9-10.2h0m-45.7 11.1h0m19.7-4.8h0m-15.9-5.6h0m-4.1 10.8h0m36-7.3h0m-41.3-10.8h0m3.5 18.3h0m20-17.4h0m-3.4-27.8h0m-25.6 30.9h0m10.7 .6h0m1.4 5.5h0m13.9 4.5h0m-15.3-27.6h0m15.8-6.8h0m-11.4 22.8h0m43.1-4.3h0m-41.4 13h0m10.5 .3h0m-27.6-10.8h0m14.5 8.3h0m-25.6-20.4h0m32.5 17.3h0m4.9-14.9h0m-10.5 13.7h0m31.9 1.5h0m-46.5-8.9h0m.9-.2h0m35.8 22h0m-29.9-7.1h0m20.7-33h0m-5.7 34.8h0m6.1-43.8h0m-22.1 23.2h0m14.7 11.4h0m-6.3 5.7h0m20.5-2.3h0m-35.5-1.3h0m-10.1-14.5h0m32.2 6.9h0m6.8-6.4h0m-16.7-3.2h0m.2 27.9h0m1.4-3.8h0m7.2 3.9h0m3.9-39.1h0m21 27.3h0m-55.6-3.9h0m43.6-30.9h0m5.5 33.1h0m-32.2-23.5h0m31.5 33.6h0m-10.1-10.3h0m-25 1.7h0m13 1.6h0m1.1 .8h0m-18.7-8.9h0m25.5-.1h0m-.1-31.9h0m-4.8 41h0m21.4-17.1h0m-20.8 29.9h0m13.2-9.5h0m-4.1-1.5h0m-27.5-8.2h0m35.1 18h0m-11.3-12.8h0m-6.6-7h0m27.4-28.2h0m-30.1 43.1h0m-4 2.9h0m15-8h0m3.9-.7h0m-15.5-21h0m29.5 19.1h0m-11.9-6.5h0m-10.7 11.6h0m4.1-8.7h0m7.9 14.2h0m-21-17.9h0m-13.7 3.6h0m5.5-7.3h0m-1.7-18.8h0m20 38.1h0m-3.3-.6h0m-11 3.7h0m-12.6-6.2h0m7.8-1.6h0m27.2-7.2h0m-32.4-2.6h0m12.2 11.6h0m24.3-5.5h0m19-19.6h0m-54.3 17.6h0m50.6-29.3h0m-37 39.8h0m18-27h0m4.3 7.1h0m.2 19.2h0m-15.8-11.7h0m24.4-3.6h0m-1.3 11.3h0m-2.9 7.1h0m-12-19.4h0m-6.7 15.6h0m34.4-22.4h0m-10.4 23.8h0m-42.8 0h0m17.9-10.2h0m23.9 2.5h0m-56.7-16.7h0m38.9 23.7h0m12.4-5.2h0m8.1 3.7h0m-46-39h0"/>
<path stroke="#21918c" stroke-width="1.6" stroke-linecap="round" d="M198.2 177.8h0m-23 9.3h0m-.1 8.5h0m4.8-13.3h0m17.4 .5h0m-24.6 13.7h0m22.1-15h0m-25.3-4h0m23.9-24.1h0m-16 37.6h0m7.1-14.3h0m-.3 3.9h0m6-5h0m-11.8-13.8h0m18.7 14.6h0m-57.8 6.3h0m21.4 14.3h0m-7.8-21.4h0m53 7.2h0m-55.3-7.4h0m35.1 11.1h0m-8.6-3.2h0m-14.6-6.2h0m5.6-7.3h0m12.4 11.4h0m-7.3 4.1h0m5.1-4.2h0m-9.8-10.4h0m18.9 23.5h0m-14.8-14.5h0m-35.7-15.6h0m40.3 3.2h0m-29.7 2.6h0m37.5 15.4h0m21.2-25.4h0m-46.2 19.6h0m12.2 13.9h0m24.9-5.4h0m-13.8-18.1h0m-7.9 28.3h0m15.9-27.3h0m-12.2 20.2h0m-20.3-31.3h0m11.5 4.6h0m-30.4 9h0m40.3 16.9h0m29.4-23.7h0m-23.8 10.8h0m-27.8 1.6h0m35 4.4h0m-23.8-11.3h0m-8.9 13.7h0m-24.8-20.5h0m49.1 7.2h0m-19.8 18.6h0m43.9-22.7h0m-54.8 23.7h0m-5.1-2h0m35.8-4.9h0m-25 3.9h0m13 2.7h0m-9.7-12.1h0m41.6-1.5h0"/>
<path stroke="#44bf70" stroke-width="1.6" stroke-linecap="round" d="M160.9 184h0m34.3 3.7h0m-18.7-7.8h0m-11.2-2.5h0m1.5 7.3h0m-2.3-26.7h0m-8.3 12.4h0m30.1 27.8h0m14-32.7h0m-3.6-13h0m-48 28.9h0m17.9 10.4h0m40.8-23.3h0m-22.4 2.8h0m-19.3 9.5h0m-14-4.1h0m40.1 19.7h0m-19-43.4h0m30.3 23h0m-54-22h0m28.4 45.5h0m-33.6-35.8h0m36.7 27.8h0m13.8-15.8h0m-4.2-6.4h0m-10 15.8h0m-24.9-20.4h0m35.5 20.8h0m-53.8-8.1h0m32.2 5.6h0m-16.1 1.3h0m30.2-36.9h0m-12.2 3.7h0m14.1-5.5h0m-10.4 20h0m12.5 21.1h0m-52.5-21.5h0m53-17.4h0m-48.6 17.9h0m55.9 8.4h0m-32.5-10.2h0m30 28.4h0m7.5-41.8h0m-41.7 30.8h0m12.9-31.5h0m24.4 29.1h0m-33.9-2.8h0m12.5-3.4h0m16.1 15.7h0m-32.4-7.8h0m27 6.9h0m-18.6-21.9h0m-16.2 15.2h0m16.2-4.6h0m18.6-25.7h0m-21.6 9.7h0m6.6 21.2h0m-15.2-28.3h0m26.9 .4h0m20 26.6h0m-6.1 15.3h0m-21.8-7.1h0m16.2-42.3h0m-16.8 49.1h0m-5.5-14h0m-3.2 12.2h0m19-17.4h0m-2.7 21.7h0m-5.4-34.7h0m19 33h0m1.5-1h0m-30.7-10h0m16.8 7.4h0m-18.8 3.9h0m47.8-23.1h0m-55.3 14.3h0m-14.1-3h0m23.3 10.3h0m1-.3h0m35-35.3h0m-54.2 18.3h0m55.3-3.1h0m-47.6-23.7h0m44.3 40.2h0m5.5-19.2h0m-18.6 14h0m-18.1-16.8h0m-16.4 6.1h0m47.2 4.5h0m11.7-8.6h0m-27.9 6.3h0m-20.2 19.2h0m13.9-11.4h0m25.6-18.7h0m-50.6 21.4h0m26.7 7.9h0m-25.6-32.7h0m40.8 26.6h0m-31-8.9h0m-13.8 9.7h0m5.3-2.5h0"/>
<path stroke="#ebdf35" stroke-width="1.6" stroke-linecap="round" d="M175.2 169.7h0m28.9 10.6h0m-16.5-24.6h0m-53.6 17.6h0m24.7-22.2h0m-12.4 28.7h0m21.2-21.2h0m31.7 22.5h0m-53.1 .7h0m3.3 .2h0m1.8-25.5h0m3.3 33.4h0m32-35.1h0m-1.2-1.4h0m4.5-8.2h0m-51 26.2h0m38.5-14.1h0m-44.4 11.7h0m21.1-9.2h0m51 26.5h0m-52.6-22.1h0m43.7-6h0m-10-10.2h0m-13.3 9.5h0m10 18.1h0m-14.9-28.1h0m-6.7 20.1h0m6.8 8.6h0m42.6 4.3h0m-27.9-9h0m-11.1 23.5h0m23.1-22.6h0m-30.1-7.2h0m-21.6 11.1h0m63.6-2.7h0m-17.9-.6h0m-50.7-.2h0m6.3 12.4h0m11.3 2.2h0m12.6-32.9h0m12.3 13.7h0m.9-20.3h0m3.3 32h0m9.2-27.6h0m-23.3 11.6h0m9.2-9.5h0m-34.8 .2h0m26.1 12.7h0m12.9 8.7h0m15.1 .6h0m-41-9.7h0m-19.6 16.4h0m13.8-21.2h0m9.6-11.5h0m-16.9 12.7h0m38 6.3h0m-4.5-6h0m-32.1 20.3h0m32.1 6.4h0m-12.4-17.9h0m9-4.8h0m11.4-18.1h0m10.3 24.5h0m-21.6-12.2h0m-10-3.4h0m14-12.7h0m18.9 4.2h0m-7.2 25.2h0m-29.4-7.4h0m-12.7 8.2h0m46.7-19.3h0m-37.6 1.6h0m50.1 20.6h0m-30 20.7h0m3.2-9h0m-29.6-1.6h0m-6.4-12.3h0m-4.7-7.8h0m31.5 23.3h0m-27.8-29.9h0m60.8 15.9h0m-13.5 20.3h0m-19.6-7.7h0m1.9-41.1h0m-20.6 19.9h0m46.9 22.7h0m7.5-22.1h0m-41 6h0m-7.8-26.9h0m26 24.2h0m-13.2-8.9h0m3.8 16.9h0m1.2-34.3h0m-32 19.5h0m39.3 17.4h0m-7.6-34.9h0m-14.4 40.1h0m1.9-31.6h0m45.9 21.9h0m-19.4-24.5h0m5.9 17.9h0m6.4 8h0m-42.9-20.8h0m12.8 39.5h0m24.8-5.6h0m-15.9-.7h0m21-11.5h0m7.9-9.2h0m-53-16.8h0m45.7 30.1h0m5.1-10.8h0m-30.5-19.8h0m2.4-10h0m-10.5 2.5h0m-30.4 34.8h0m60-9.3h0m-63.5 2.3h0m53 22.1h0m-2.9-18.4h0m23.6-8.1h0m-54.1-6.1h0m2.9-6.5h0m27.4 9.3h0m-2.4-13.2h0m-6.4 11.3h0m-25 6.1h0m6.6 .8h0m43.5 13.4h0m-12.4 11.4h0m-43-16.6h0m23.4-9.2h0m17.4 23h0m-5.3-1.2h0m-6.8 2.9h0m-19.3-26.3h0m12.3 .3h0m-24.7 8.5h0m56-17.3h0m-56.3 19.9h0m63.7 .5h0m-59.7 3.2h0m21.3-4.6h0m32.7-10.6h0m-54.9-16.1h0m13.3 6.5h0m-8.6 .2h0m9.9 7.9h0m-26.3 1.8h0m56.4 2.1h0m-46.4-4.3h0m31.4 5.8h0m9.3-.6h0m-48.1-.8h0m30.9 21.5h0m6-11.4h0m10.5-19.2h0m-13.7 1.7h0m12.7-5.8h0m-29.7 4.8h0m-13.9 17.3h0m33.2-12.2h0m14.7-16.8h0m-44 4.3h0m38.3 15.2h0m19.1 13.8h0m-.6-17.7h0m-23 7h0m-20.7 20h0m-14.6-18h0m50.5 13.7h0m-3.9-11h0m-34.7 5.3h0m28.5-31.1h0m-34.9 31h0m22.1-24.2h0m10.8 21.9h0m-9.7-13.6h0m-8.5-4.7h0m-14.9-1.3h0m54.1-6.7h0m-34.9 31.4h0m34.9-31.2h0m-43-4.8h0m21.5 19.1h0m11.3-23.9h0m-29.3 13.1h0m29.3 10.4h0m8.9-3.1h0m-19.5 22.5h0m25.5-.7h0m-67.3-16.2h0m32-17.2h0m-1.2 35.3h0m-4.4 4.2h0m12.8-25.8h0m-2.5 15.5h0m-19-26.6h0m25.2 5.1h0m.3 12.7h0m-44.2-12.2h0m1 3.6h0m27.6-17.6h0m-1.4 15.4h0m13.8 25.5h0m-23.7-7.6h0m-12.6-8.9h0m25.8-26.2h0m-7 3.2h0m8.8-3.6h0m-3.7 32h0m43.1 2.2h0m-64-18.1h0m48 29.7h0m-23.1-31h0m-36.7 10.9h0m55.1-28.5h0m8.9 39.5h0m-45.1-26h0m-11.6 3h0m-1-4.8h0m24 6.2h0m8.9-12.4h0m7.7 32.5h0m-4.8-11.5h0m-15.4-1.2h0m44.4-13.3h0m-64.6-.1h0m61.5 37h0m-15.9-15h0m16.5-4.2h0m-22.8 14.4h0m29.6-21.4h0m-49.6-16.4h0m36.3 5.7h0m2.6 28.6h0m-12.7-28.8h0m14.1 16.9h0m-21.6-20.4h0m-6.4-.9h0m29.6 24.5h0m-29.7-7.5h0m28 15.2h0m-45.9-11.5h0m40.6-19.9h0m.5 21h0m-18.3-21.1h0m25.7 14.2h0m-12.1 20.7h0m-24.9 7.5h0m-28.9-22.8h0m46.4 21.7h0m-9.3-11.7h0m-27.9 4.2h0m24.9-17.8h0m-30.5 1.3h0m67.9 16.9h0m-51-21.8h0m49.4 13.9h0m-41.6-.6h0m-23.4-3.8h0m40.6-4.7h0m-39 10.8h0m32.3 6.6h0m34.2-7.2h0m-40.4-27.4h0m30.1 11.3h0m-31.6 7.1h0m10.6-3h0m-10-9.5h0m-20.3 31h0m44-37.3h0m-16.8 44.5h0m-18.7-34.8h0m18.7-11.7h0m4.2 27.6h0m-19.6-12.9h0m-15.1 22.1h0m11.2 5.9h0m-15.9-21.3h0m32.2-22.5h0m7.6 35.5h0m-11-30.6h0m-24.1 14.5h0m7.5 9.2h0m42.7-9.8h0m-46.3 22.7h0m57.6-5.8h0m-68.5-21.1h0m42.1 1h0m6.3-12.5h0m-21.2-3h0m-7 27.5h0m26.4 18.2h0m20-6.3h0m.1-27.5h0m-31.8 32.1h0m-12.8-43.2h0m6.3 7.7h0m-21.8 1.1h0m15 28.4h0m37.4-14.3h0m11-.6h0m-49 13.6h0m-2-12.3h0m-4.1 .5h0m24.4 17.8h0m26.6 1h0m-59.1-10.8h0m2.6-4.2h0m38.4-22.5h0m-17.8-5.3h0m38.7 33.1h0m1.9-1.3h0m-8.7 9.4h0m1.1-15h0m-20.2 12.2h0m2.3-40.4h0m24.4 30.4h0m-41.1 6h0m18.1-14h0m-30.1 3.3h0m-9.7 2.8h0m25.4 19.9h0m29.4-26.9h0m-64.7 3h0m38-1.3h0m29.8-5.4h0m-27.4 23.8h0m3.2-6.3h0m-14.8-9h0m9.5-20.1h0m3.4 20.9h0m-13-4.9h0m-18.2-3.3h0m39.4 27.7h0m-16.8-15h0m28.7-24.8h0m-61.3 17.4h0m41.3-18.1h0m16-6.9h0m-30.4 49h0m34.7-13.8h0m1.7-13.4h0m-20.2-11.2h0m22.4-8.1h0m-38.5 21.2h0m17.4 20.1h0m12.1-4.9h0m-24.7-15.8h0m30.4 11.2h0m10.6-13.4h0m-2 18.4h0m-.7-28.6h0m-46.4 29.1h0m-1-18.7h0m3-14.1h0m-7.5 7.9h0m43.7 10.4h0m-18.7 26.4h0m10.5-20.1h0m-42.9-23.3h0m27.5-10.6h0m-11.7 15.7h0m-16.3-5.1h0m21.6 11.7h0m-25 5.3h0m29.2-7.5h0m-25.4 8.2h0m19-10h0m-9.1-10.2h0m27.2 7.5h0m-33.7 20.9h0m59.5-16.7h0m-15.3 17.9h0m-7 16h0m17.1-33.1h0m-12.7 13.7h0m16.6-19.3h0m-29.2 39h0m-10.7-30.1h0m39.5 17.4h0m-42-28.3h0m29.8 9.9h0m9.9 21.9h0m-20.5 8.7h0m-3.9-39.5h0m1.2-9.7h0m-34.8 14.8h0m11.4 2h0m35 30.3h0m-8.8-48.3h0m10.5 47.2h0m-52.5-18.3h0m62.7-8.2h0m-51.6-11.5h0m22.1-12.5h0m8.8 40.2h0m-41.4-10.7h0m50.1-27.2h0m13.5 27h0m-56.3 6.9h0m19.1-.9h0m-24.7-10h0m53.9-4.2h0m4.1 26.6h0m-56.9-8.1h0m-5.6-7.2h0m29.1-9h0m-15.3-3.9h0m32.9 12.6h0m-27.8-16.7h0m31.2 27.5h0m-41.7-8.3h0m20.1-14.5h0m21.5-19.5h0m-37.1 5.3h0m57.9 26.5h0m-52.9 15.2h0m9.3-44.3h0m4.8 2.1h0m-30.1 34.5h0m27-33.4h0m6.8 1.4h0m.9 37.2h0m-6.3-16.8h0m8.9-3.7h0m25.7 3.9h0m-53.4-17.4h0m36.4-5.6h0m-42.4 34.3h0m61.7-13.6h0m-47.5-17.2h0m25.4-7.2h0m15.4 3.1h0m-37.7 3.7h0m39 20.8h0m.9-12.5h0m-11.6 24.1h0m5.8-11.1h0m13.1 8.8h0m-37.2 6.3h0m-9.1-12.1h0m16.2-32.1h0m-24.2 8.8h0m-8.1 33.2h0m35.6-33.2h0m-8.2 12.7h0m32.7 8h0m-64.5 6.3h0m42.6-24.4h0m.9 13.2h0m18.3-7.4h0m-34 26.5h0m-9.6-36.6h0m32.6-4.4h0m-39.5 21.7h0m19.2-12.8h0m24.1 5.5h0m-36.6 23.2h0m9.3-13h0m-22-13.7h0m40.2 29h0m-54.5-25.9h0m52.3 14.9h0m-27.4-11.4h0m30.6-19.6h0m9.3 11.6h0m-50.6 20.4h0m7.3 5.9h0m40.9-13.3h0m-35.8-20.7h0m42.9 34.9h0m-52.7-23.4h0m-1.1-.1h0m29.9 21.5h0m-33.4-6.8h0m-12.3-9.9h0m42.8 21h0m28.4-23.6h0m-58-3h0m-.8-2.1h0m9.1-2h0m-10.7 25.4h0m1.2-9.9h0m35.7 20.9h0m-35.9-33.6h0m12.4 11.1h0m12.7 22.2h0m-34.8-33.5h0m38.1 12.8h0m-25 14.7h0m23.7-16.5h0m-9 24.4h0m37.2-36.4h0m-28.3 15.2h0m30.1 8.4h0m-52-15.7h0m32.4 3.4h0m17.2-.3h0m-62.6 6.7h0m2.4-11.1h0m10.2 4.9h0m31.2 21.1h0m-13.7-40.4h0m42.3 20.2h0m-41.3 11.7h0m-14.6-14.2h0m42.8-8h0m-23.3 30.2h0m10.6-33.2h0m-20.5 8.2h0m14.3 28.9h0m-27.3-29.5h0m4.5 23.5h0m39.5-10h0m-40.7-21.6h0m30.4 33.8h0m-8.1 .4h0m-15.4-17h0m32.1 19.2h0m-1-46.7h0m-29.5 11.3h0m43.7 4.4h0m-61.9 6.2h0m-3 12.3h0"/>
<path stroke="#7ad151" stroke-width="1.6" stroke-linecap="round" d="M186.4 195.8h0m16.2-42.7h0m-52.1 28.5h0m53.9 7.7h0m-26.7 2.4h0m5-39.3h0m12.5-1h0m-8.9 27.7h0m-27.7-20.2h0m37-9.4h0m-17.7 50.7h0m27.6-37.2h0m-25.9 28.6h0m1.3-32.4h0m9.7 15.4h0m-22.4-10.8h0m28.9 25.6h0m6.5-2.1h0m-14.3-15.2h0m4.7-17.4h0m-.9-8.6h0m1.9 22.9h0m-9.8 23.3h0m-16.1-44.6h0m-24.7 15.3h0m-3.4 6.5h0m33.3 8.5h0m.1-6.6h0m13.5 24.8h0m10.5-43.5h0m6.4 9.8h0m-2.6 21.7h0m-38.5-29.2h0m16.8 3.7h0m-3.5 40.7h0m11.4-28.5h0m5.5 19.9h0m7.5 2.7h0m-10.4-1.1h0m-12.7-27.7h0m-12.2 18h0m-2.2-2.6h0m43 2.2h0m-57.4 7h0m51.4-13.7h0m-23.1-17.9h0m2.5-11h0m2.6 24.6h0m-13.6-12.6h0m33.2 10.1h0m-4.7-11.9h0m-53.4 8.6h0m52.7 30.6h0m-45.8-37.5h0m18.1 12.6h0m7.2 21.9h0m6.9 2.9h0m-36-9h0m31.9-12.6h0m-9-15.2h0m27.8 5.7h0m-45.7-10.9h0m9.3 27.1h0m27.1 16.8h0m-12.5 2h0m-34.6-24.6h0m54.4 8.7h0m-32.7 9.7h0m38-5.3h0m-27.1-22.5h0m20.7 30.9h0m-35.4-40.7h0m-10.6 4.1h0m35.5-.8h0m-6.5-.4h0m.7 23.5h0m-11.8 .8h0m-8.9 4.8h0m38.1-31.2h0m-19.7 42.9h0m21.2-30.8h0m-19.2 15.6h0m-20.5-30.3h0m10.3 12.8h0m34 23.3h0m-42.2-40.6h0m29.8 24.4h0m-5.9-28.5h0m14.3 34.5h0m-27.6 18.6h0m33.3-26.7h0m-63.4 6.6h0m55.1-27.2h0m-39.4 .7h0m11.8 33.3h0m13.5-5.6h0m15.4-14.4h0m-23.4 20.7h0m-30-7.2h0m-5.5-1.2h0m63.3 12.7h0m3.2-20.7h0m-32.6 29.2h0m4.1-1.3h0m17.7-16.2h0m-53.1-7.1h0m41.1-6.6h0m-14.6-20.1h0m4.4 28.7h0m24.2 2.3h0m-37 3.4h0m-2.3 10h0m26.3-33.6h0m-10.3-11.1h0m14.5 38.8h0m-34.7 3h0m7.9-30.4h0m43.4 10.3h0m-29-11.3h0m-2.8 39.6h0m-2-19.2h0m5.5 14.4h0m-20.1-29.2h0m40.6-14.3h0m-21.2 17.3h0m-2.1 23h0m19.5-17.9h0m-42.2 17.4h0m20-8.3h0m26.5 3.9h0m7.4-14.3h0m-21.7 23.5h0m-23.9-.4h0m8.1-31.5h0m41 9.5h0m-36.2 11.8h0m2.9 5h0m3.6-35.7h0m-19.8 41.3h0m20.4-15h0m-8.1-11.2h0m.4-2.3h0m36.1-8.1h0m-48.3 20.8h0m33.6-7.4h0m-5 18.6h0m-26.4-40.2h0m24.8 44.2h0m-40.6-17.7h0m37.8-11.9h0"/>
<path stroke="#b8d530" stroke-width="1.6" stroke-linecap="round" d="M180.3 145.8h0m22.2 10.8h0m-18 34.5h0m19.2-1h0m-7.8-26.4h0m-57.1 4.8h0m34.8-17.3h0m10.7 9.2h0m17.7 24.4h0m-16.4 3.2h0m-17-21.4h0m36.8 13.6h0m-11.4-.5h0m-32.3-4.5h0m17.6-26.9h0m9.9 14.2h0m-30.4-11.7h0m-6.5 11.4h0m30.8-6.6h0m12.2 35.1h0m9.3-19.5h0m-.6-8h0m3.8 12.8h0m-2.8 0h0m-25.9-17.3h0m-20.7-5.4h0m49.5 31.4h0m-51.6-21h0m2.2-8.8h0m4.6 10.1h0m-6.9 1.7h0m41.3-4.3h0m-59.6 19.1h0m11.2 7.7h0m51.2-8.3h0m-20.2-25.7h0m3 3.9h0m12.8 .9h0m-56.1 22.7h0m36.9-32.2h0m-4.2 6.3h0m-10.3 3.2h0m8.1 31.5h0m-15.1-19h0m24.9-15.6h0m-17.5-1h0m30-4.8h0m-36.5 21.1h0m-15.5 11.5h0m14.3-27.8h0m23.7 34.9h0m-27.9-14.7h0m48.7-5.1h0m2.5 15.2h0m-42.5-.3h0m-17.5-8.4h0m35.2 6.1h0m12.4-27.5h0m-13.2 14.7h0m19.1-21.8h0m-17.3 40.8h0m15.2-24.1h0m-48.8 2.1h0m15 1.1h0m22.9-10.7h0m-23 5.6h0m-16.7 16.4h0m65-12.3h0m-31.5-5.4h0m8.6-17.6h0m6.9 44.2h0m-44.5-20.1h0m54.6 6.6h0m-1.7 4.2h0m-4.9-10h0m-18-1.8h0m4.7-.2h0m10.2-13h0m-52.9 18.5h0m14.9-4.4h0m4.3 15.9h0m9 9.6h0m-3.5-23h0m36.2 19.3h0m-56.7-12.3h0m53.6-29.3h0m-45.6 5.2h0m38.7-7.8h0m14.8 14.2h0m-13.9 27.2h0m-13.7 4.2h0m-20.8-36.5h0m5.3 10.8h0m-7.5-8.8h0m51.1 29.8h0m-3.7-26.6h0m7.6 18.2h0m-18.2-24.7h0m-26.3 14.8h0m17.7-11.9h0m-49.5 10.9h0m37.1-4h0m29.3-7.8h0m3.7 25.9h0m-70.6-12h0m60-3.3h0m-8.6-2.3h0m-16.9-8.5h0m25.8 13.9h0m-50.5 .2h0m19.1 15.1h0m3.5-4.1h0m7.3-17.4h0m27.1-10.8h0m-13.1 21h0m22-9.3h0m-64.7 13.5h0m-2.9-17.4h0m16.3 28.9h0m27 9.8h0m19.7-35.8h0m-59.4 2.7h0m10.3-.5h0m48 23.4h0m-37.4-7.6h0m-21.7-23h0m25.5 23.8h0m-29.9-12.1h0m49.4-24.5h0m-15.4 28.3h0m27.9 10h0m-44.6-.5h0m-8.5-29.5h0m-.7 28.8h0m51.5-35h0m-8.1 17.4h0m5.4-9.5h0m-45.5 1.1h0m55.4 18.5h0m-65.5-5.5h0m12.7 8.7h0m22.5-4.8h0m-7.7 2.6h0m34.7 6.6h0m-17.1-7.6h0m6.6-21.4h0m-51.5 27.8h0m27.2-21.2h0m15.2 1.5h0m-33.1 24.6h0m25 9.2h0m-33.1-12.5h0m54.1-35.5h0m-41.1 27.5h0m-1.2-12.9h0m40.8-.6h0m-16.1 19.2h0m-6.9-26h0m35.7 3.9h0m-41.5 18.4h0m10.9-30.8h0m-19.6 42.3h0m50.9-1.3h0m-56.8-14.1h0m53.4-4.5h0m-23.1 24.9h0m18.8-14.9h0m-19.4-30.3h0m-2.6 35.4h0m.8-10.3h0m-34 .7h0m27.7-24h0m16.9 40.4h0m-39.4-17.9h0m8.8-18.5h0m15.3 18.8h0m9.1 .3h0m-20.5 12.9h0m-17-10.6h0m64 2.7h0m-51.8 .2h0m14.6 6.1h0m-3.3-9.1h0m14.6-25.8h0m-34.6 4.5h0m47.4-5.7h0m-62.6 24.7h0m70.3-7.9h0m-21.8-5.3h0m-7.1 38h0m-4.8-27.1h0m.6 1.5h0m15.1-27.7h0m-42.6 16h0m15.7 9h0m33.5-2.2h0m-42.4 3.7h0m51.7 9.2h0m-63.9-16.5h0m63.3-7.1h0m-66.5 12.4h0m35.5-4.3h0m22.6 27.3h0m-34.7-7.8h0m-19.9-4.1h0m70.3 4.3h0m-.8-13.5h0m-34.7 17.2h0"/>
<path stroke="#482475" stroke-width="1.6" stroke-linecap="round" d="M166.3 166.4h0m38.4-5.3h0m-27.4-9.3h0m16.4 11.2h0m-4.3 4.5h0m-4.6-5.7h0m-22.5 .9h0m1.7-5.3h0m28.8 3.9h0m-14.3-10.7h0m14 18.1h0m-13.1-4.5h0m9.6 1.5h0m3.6-1.8h0m-.3-5.8h0m.4 1h0m-2.3 5.9h0m4.4-2.5h0m-20.3 2.8h0m-2.7-3.9h0m18.2 6h0m6.8-7.3h0m-8 1h0m-25.3-1.2h0m27 .6h0m8.6-6.9h0m-35.5 .8h0m24.4 6.4h0m-.1 6.7h0m4.9-14.8h0m-22 3.6h0m-5.5-3.8h0m20.3 4.5h0m-14 0h0m17.3-.2h0m6 .9h0m.1 1.7h0m-.8-2.1h0m16.8 16.4h0m-22-13h0m3.5 5.8h0m6.2-.5h0m-26-2.5h0m14.6-2.8h0m-27.2-3.1h0m32.5 8.3h0m.9 1.2h0m-15.6-19.6h0m12.4 8.8h0m14.3 19.6h0m-26.6-16.2h0m15.9 7.3h0m-4.1 .5h0"/>
<path stroke="#414487" stroke-width="1.6" stroke-linecap="round" d="M187.4 157.4h0m-27.2-1.2h0m-.4 8.7h0m-20.7 16.9h0m29.8-34.7h0m18.9 15.5h0m1.8 4.1h0m-24.8-17.3h0m21.7 11.3h0m-14.9-6.4h0m17.7 1.2h0m-19.4-5.6h0m20.6 14.5h0m-1.2-3h0m-10.7-5.5h0m-5.5 11h0m-35.7 1.3h0m36.4-19.2h0m30.1 38.6h0m-38-17.6h0m23.9-11h0m-9.1 4.6h0m2.7-14.2h0m3.1 10.7h0"/>
<path stroke="#440154" stroke-width="1.6" stroke-linecap="round" d="M195 163.3h0m-4.3 .9h0m-.5 3.5h0m4.9-.5h0m1.3-6.7h0m-9.5 2h0m2.5 .7h0"/>
<path stroke="#8c8c7c" stroke-width="0.25" stroke-opacity="0.55" fill="none" d="M170.8 156.3L173.1 166.9M180.2 185.1L175.3 177.9M183.5 170.1L173.6 151.2M143.5 178.2L144.4 159.4M192.7 159.1L205.1 163.4M142.9 174.9L157 174.2M180.3 159.6L184.3 160.4M205.1 163.4L205.8 175.5M172.5 185L169.5 177.5M162.3 162.7L179.1 152.1M180.6 189.1L198.3 188.5M180.2 183.4L197.1 176.4M144.6 170.7L156.5 155.6M159.6 189.1L152.2 183.1M207.8 175.7L209.3 179M173.7 177.3L164.6 165.2M179.9 165.3L172.9 154.9M155.6 187.4L148.5 178.8M184.3 160.4L174.6 166.4M183.3 155L162.2 160M173.8 182.8L194.4 175.7M175.4 162.9L172.2 163.8M194.1 148.9L173.6 151.2M154.1 168.9L145.1 167.6M167.7 180.3L178 184.4M193.3 181.7L187.9 167.5M172.2 160.1L178.3 169.6M158 179L154.2 185.2M170.4 173.7L172.6 184.1M196.8 173.5L209.3 179M150.2 180.8L156.2 188.8M193.9 167L195.1 188.4M170.2 195.8L180.9 188M179.8 154.4L167 167.9M201.2 185.9L209.3 171.2M194.4 195.9L198.7 185.7M183.5 175.9L165.2 184.9M168.2 151L176.4 157.9M194.1 183.7L189.4 167.5M147.6 163.2L162.6 163.9M161.7 175.2L155.2 193.6M193.8 181.5L190.2 175.6M185 187.5L175.3 193.5M159.7 156.1L159.8 164.9M182.1 177.1L202.4 181.8M185.6 185.6L190.8 179.9M183.5 159.5L186.9 162.5M154.6 170.6L152.9 175.6M170.7 198.8L174.7 189.8M181.9 167.8L171.1 155.9M193.1 193.6L172.6 191.8M151.7 176.7L142.9 174.9M169.2 168.8L172.5 147.4M161.8 176.1L162.9 179.7M151.2 178.9L166.8 189.3M191.6 186.8L170.8 180.5M172.2 160.1L160.4 148.9M190.4 188.4L195.6 188.9M164 195.6L178.3 199.6M171.2 186.2L183.5 196M169.3 186.1L175 192.4M178.3 181.1L164.8 169.1M148.1 190.1L166.4 185M186.2 152.8L204 163.2M158.5 154.9L175.5 145.4M141.6 175.1L148.7 191.2M170.3 164.4L171.6 157M162.9 179.7L157 177.7"/>
<circle cx="51.6" cy="165.3" r="7.6" fill="none" stroke="#4fb8e6" stroke-width="1.6"/>
<circle cx="110.2" cy="188" r="7.4" fill="none" stroke="#4c1a88" stroke-width="1.6"/>
<circle cx="191" cy="162.6" r="6.8" fill="none" stroke="#d4600e" stroke-width="1.6"/>
<text x="33" y="180.2" font-size="4.8" textLength="12.73" lengthAdjust="spacingAndGlyphs" fill="#383838" stroke="#383838" stroke-width="0.12">Root 1</text>
<text x="109.8" y="204.8" font-size="4.8" textLength="12.73" lengthAdjust="spacingAndGlyphs" fill="#383838" stroke="#383838" stroke-width="0.12">Root 2</text>
<rect x="219.4" y="173.6" width="3" height="23.4" fill="url(#vir)" stroke="#222" stroke-width="0.8"/>
<path d="M222.8 173.8H224.4M222.8 196.8H224.4" stroke="#222" stroke-width="0.7"/>
<text x="225.3" y="175.6" font-size="4.8" textLength="2.4" lengthAdjust="spacingAndGlyphs" fill="#555" stroke="#555" stroke-width="0.12">1</text>
<text x="225.3" y="199.3" font-size="4.8" textLength="2.4" lengthAdjust="spacingAndGlyphs" fill="#555" stroke="#555" stroke-width="0.12">0</text>
<text x="308.5" y="106.3" font-size="11.5" textLength="7.47" lengthAdjust="spacingAndGlyphs" font-weight="bold" fill="#000">D</text>
<rect x="320.4" y="109.2" width="52.6" height="6.2" fill="url(#rootg)"/>
<rect x="373" y="109.2" width="52.8" height="6.2" fill="#d97716"/>
<path stroke="#626cb2" stroke-width="5.09" d="M320.4 119.9h2.9m.9 0h1.7m10.8 0h1.7m2 0h1.7m18.4 0h1.7m.8 0h1.7m3.3 0h1.7m2 0h54.5m-104.5 4.7h1.7m4.5 0h1.7m32.1 0h5.4m3.4 0h1.7m.8 0h44m.9 0h4.4m.9 0h3.1m-102.1 4.7h2.9m.8 0h1.7m10.8 0h1.7m.8 0h1.7m2.1 0h1.7m17.1 0h1.7m.8 0h1.7m3.3 0h50.6m.9 0h1.8m-103.4 4.6h2.9m.9 0h2.9m2.1 0h1.7m28.3 0h1.7m2.1 0h4.2m2 0h46.6m.9 0h4.4m.9 0h1.8"/>
<path stroke="#6e76b8" stroke-width="5.09" d="M322.9 119.9h1.7m.8 0h1.7m.8 0h1.7m3.3 0h1.7m24.6 0h1.7m.8 0h1.7m7.1 0h1.7m-49.3 4.7h4.2m4.6 0h2.9m2.1 0h1.7m22.1 0h1.7m5.8 0h1.7m-48 4.7h1.7m15.8 0h1.7m.8 0h1.7m.8 0h2.9m13.4 0h1.7m.8 0h2.9m.8 0h1.7m.8 0h1.7m-50.5 4.6h2.9m7.1 0h1.7m13.3 0h2.9m10.9 0h1.7m3.3 0h1.7m3.3 0h2.9m-41.7 93.1h1.7m18.4 9.3h1.7m-10.5 9.3h1.7"/>
<path stroke="#5563ad" stroke-width="5.09" d="M326.7 119.9h1.7m9.5 0h1.7m25.9 0h2.9m.8 0h1.7m-50.5 4.7h1.7m4.6 0h1.7m7 0h1.7m29.6 0h1.7m-48 4.7h1.7m4.6 0h1.7m.8 0h1.7m-1.7 4.6h1.7"/>
<path stroke="#edc6c5" stroke-width="5.09" d="M329.2 119.9h1.7m15.8 0h1.7m-9.2 4.7h2.9m14.6 4.7h1.7m-6.7 4.6h1.7m42 4.7h1.8m19.4 18.6h1.8m-26.9 9.3h1.8m3.5 18.6h1.8m-54.4 41.9h1.7m44.3 0h1.8m32.5 0h1.8m-95.9 4.6h1.7m27.1 0h1.7m18.7 0h1.8m-36 4.7h1.7m5.9 0h1.7m52.6 0h1.8m-44.9 4.6h1.7m13.7 0h1.8m-48.5 4.7h1.7m80.6 0h1.8m-87.8 4.6h2.9m46.2 0h1.8m33.8 0h1.8m-90.3 4.7h1.7m.8 0h1.7m61.9 0h1.8m7.4 4.6h1.8m-11 4.7h1.8m.8 13.9h1.8m-8.4 9.3h1.8m4.8 0h1.8m28.6 0h1.8m-24.3 9.3h1.8"/>
<path stroke="#f2dfde" stroke-width="5.09" d="M330.4 119.9h1.7m17.1 0h1.7m2.1 0h1.7m.8 0h1.7m-19.3 4.7h1.7m-2.9 4.7h1.7m9.6 0h1.7m5.8 0h1.7m-20.5 4.6h1.7m2 0h1.7m8.4 0h1.7m4.5 0h1.7m18.6 102.4h1.8m11.4 0h1.8m2.1 0h1.8m3.5 0h1.8m11.4 0h1.8m-38.8 9.3h1.8m44.4 4.6h1.8m.9 0h1.8"/>
<path stroke="#dc7c78" stroke-width="5.09" d="M331.7 119.9h1.7m12 0h1.7m12.1 4.7h1.7m-21.7 9.3h1.7m2 0h1.7m4.6 0h1.7m4.6 0h1.7m-18 4.7h1.7m5.8 0h1.7m.8 0h1.7m2.1 4.6h2.9m.8 0h1.7m-15.5 4.7h1.7m-16.7 4.6h1.7m.8 0h2.9m4.6 0h1.7m9.6 0h1.7m-19.2 4.7h1.7m.8 0h1.7m.8 0h1.7m4.5 0h1.7m-6.7 4.6h1.7m25.9 4.7h1.7m-34.3 9.3h1.7m.8 0h1.7m-7.9 4.6h1.7m.8 0h2.9m14.6 0h1.7m-11.7 4.7h1.7m3.3 0h1.7m-8 4.6h1.7m.8 0h1.7m7.1 0h4.2m-9.2 4.7h2.9m-.4 4.6h1.7m-21.7 4.7h2.9m7.1 4.6h1.7m5.8 0h1.7m4.6 0h1.7m-21.8 4.7h5.4m7.1 0h1.7m-.4 4.6h2.9m27.2 9.4h1.8m11.4 0h1.8m3.5 0h1.8m-8.4 4.6h5.7m4.9 0h1.8m15.3 0h1.8m.9 0h1.8m6.1 0h1.8m-38.8 4.7h1.8m3.5 0h1.8m.8 0h1.8m26 0h3.1m-50.7 4.6h3.1m4.9 0h1.8m16.6 0h1.8m15.4 0h3.1m-37.4 4.7h1.8m7.4 0h1.8m2.2 0h3.1m4.8 0h3.1m.9 0h1.8m6.1 0h1.8m.8 0h1.8m.9 0h1.8m-37.5 4.6h1.8m4.8 0h1.8m11.4 0h1.8m8.8 0h1.8m-33.5 4.7h1.8m.8 0h1.8m4.8 0h1.8m15.4 0h1.8m.8 0h1.8m7.5 0h1.8"/>
<path stroke="#7a80bd" stroke-width="5.09" d="M334.2 119.9h2.9m19.6 0h2.9m4.6 0h1.7m-43 9.4h1.7m13.3 0h1.7m30.9 0h2.9m-10.4 4.6h1.7m-43 93.1h1.7m3.3 0h1.7m10.8 0h1.7m.8 0h1.7m2 0h1.7m4.6 0h2.9m3.4 0h1.7m7 0h4.2m.8 0h1.7m-51.7 9.3h1.7m2 0h1.7m4.6 0h1.7m15.8 0h1.7m7.1 0h1.7m5.8 0h1.7m4.5 0h1.7m-39.2 9.3h1.7m.8 0h2.9m.8 0h1.7m18.4 0h1.7m2 0h2.9m2.1 0h1.7m.8 0h1.7m-29.2 9.3h1.7m.8 0h1.7m4.6 0h1.7m2 0h1.7m.8 0h1.7"/>
<path stroke="#f5eceb" stroke-width="5.09" d="M339.2 119.9h1.7m.8 0h1.7m.8 4.7h1.7m3.3 4.7h2.9m-16.7 4.6h1.7m.8 0h1.7"/>
<path stroke="#f8f8f8" stroke-width="5.09" d="M342.9 119.9h1.7m7.1 0h1.7m-6.7 4.7h1.7m.8 0h4.2m2.1 0h1.7m.8 0h1.7m56.9 0h1.8m-84.2 4.7h2.9m14.6 0h1.7m.8 0h1.7m2.1 0h2.9m62.3 0h1.8m-90.8 4.6h1.7m5.8 0h1.7m.8 0h1.7m2.1 0h1.7m3.3 0h2.9m2.1 0h1.7m.8 0h1.7m55.7 0h1.8m3.5 0h1.8m-95.8 4.7h1.7m.8 0h1.7m14.6 0h1.7m2 0h1.7m-20.5 4.6h1.7m15.9 0h2.9m59.2 0h1.8m-51.4 4.7h1.7m21.5 0h1.8m-62.6 4.6h1.7m53.8 0h1.8m-56 4.7h1.7m.8 0h1.7m4.5 0h1.7m15.9 4.6h1.7m-30.5 4.7h1.7m3.3 9.3h2.9m9.6 0h1.7m7.1 4.6h1.7m61.7 0h1.8m-82.8 4.7h1.7m2.1 0h1.7m20.8 0h1.7m-35.5 4.6h1.7m12.1 0h1.7m5.8 0h1.7m12.1 0h1.7m-11.7 4.7h1.7m.8 4.6h1.7m-11.8 4.7h1.7m.8 0h4.2m-14.2 4.6h1.7m12.1 0h1.7m63 0h1.8m2.2 0h1.8m-84.3 4.7h2.9m7.1 0h1.7m2.1 0h1.7m2.1 0h1.7m28.9 0h1.8m-52.5 4.6h1.7m64.8 0h1.8m-80.8 9.4h1.7m61.5 0h1.8m-53.7 4.6h2.9m58.2 0h1.8m-52.9 4.7h1.7m.8 0h1.7m5.8 0h1.7m56.6 0h1.8m-88.9 4.6h1.7m65.6 0h1.8m18 0h1.8m-83.9 4.7h1.7m24.6 0h1.7m46.1 0h1.8m7.5 0h1.8m-81.4 4.6h1.7m14.6 0h1.7m13.3 0h1.7m21.5 0h1.8m7.4 0h1.8m22 0h1.8m-94.3 4.7h1.7m.8 0h1.7m8.3 0h1.7m44 0h1.8m14 0h1.8m7.5 0h1.8m-11.1 13.9h1.8m12.7 0h1.8m4.8 18.6h1.8m-38.7 14h1.8"/>
<path stroke="#d6d6e8" stroke-width="5.09" d="M344.2 119.9h1.7m-16.7 4.7h1.7m10.8 0h1.7m9.6 0h2.9m-24.2 4.7h1.7m-.5 4.6h1.7m15.9 134.9h1.7m-9.3 9.3h1.7m-14.2 14h1.7"/>
<path stroke="#e5a19e" stroke-width="5.09" d="M348 119.9h1.7m.8 0h1.7m2 0h1.7m-13 4.7h1.7m.8 0h1.7m.9 0h1.7m7 0h1.7m-25.5 4.7h1.7m18.4 0h1.7m27.5 97.7h1.8m.9 0h1.8m11.4 0h1.8m3.5 0h1.8m16.6 0h1.8m-50.6 4.6h1.8m.8 0h1.8m40.5 0h1.8m.8 0h1.8m-36.1 4.7h1.8m7.4 4.6h1.8m.9 0h1.8m-25.6 4.7h1.8m19.3 0h3.1m-21.5 4.6h1.8m2.1 0h1.8m22 0h1.8m-29.5 4.7h1.8m14 0h1.8m12.7 0h1.8"/>
<path stroke="#4759a7" stroke-width="5.09" d="M330.4 124.6h1.7m37.1 0h1.7m-40.5 4.7h1.7m29.6 0h1.7"/>
<path stroke="#868bc2" stroke-width="5.09" d="M334.2 124.6h1.7m35.8 0h1.7m-48 9.3h1.7m51.2 79.1h1.8m25.9 0h1.8m4.8 0h3.1m2.2 0h1.8m-96.8 14h1.7m3.3 0h2.9m.9 0h2.9m.8 0h1.7m.8 0h1.7m.8 0h1.7m7.1 0h1.7m3.3 0h4.2m.8 0h4.2m2.1 0h1.7m3.3 0h1.7m-51.8 9.3h1.7m.8 0h2.9m.9 0h5.4m2.1 0h4.2m.8 0h1.7m18.3 0h6.7m.8 0h5.4m-51.7 9.3h5.4m.9 0h1.7m7 0h1.7m2.1 0h1.7m4.5 0h1.7m.9 0h4.2m.8 0h1.7m.8 0h5.4m.8 0h1.7m3.3 0h1.7m2.1 0h1.7m-51.8 9.3h1.7m.8 0h2.9m4.6 0h2.9m4.6 0h1.7m.8 0h4.2m.8 0h1.7m2.1 0h4.2m.8 0h1.7m2.1 0h1.7m.8 0h1.7m.8 0h1.7m3.3 0h5.4"/>
<path stroke="#cbcbe3" stroke-width="5.09" d="M421.8 124.6h1.8m-103.2 18.6h2.9m4.6 0h2.9m13.4 0h1.7m14.6 0h1.7m-41.8 14h2.9m.9 0h2.9m10.8 0h1.7m7.1 0h4.2m.8 0h1.7m.8 0h2.9m2.1 0h4.2m.8 0h5.4m.9 0h1.7m3.4 0h3.1m.9 0h1.8m.8 0h1.8m3.5 0h1.8m2.2 0h1.8m16.7 0h1.8m-88.9 9.3h1.7m37.1 0h1.7m-43 9.3h2.9m2.1 0h2.9m27.2 0h1.7m5.8 0h1.7m41.3 0h1.8m.8 0h1.8m-86.2 18.6h1.7m5.8 0h1.7m2 0h1.7m37.2 0h1.8m-55.7 13.9h2.9m7.1 0h1.7m10.8 0h1.7m8.4 0h1.7m55.3 0h1.8m-23 18.7h1.8m27.3 0h1.8m-9.7 4.6h1.8m.8 0h1.8m-38.8 4.7h1.8m2.2 0h1.8m32.5 0h1.8m-22.9 4.6h1.8m22 0h1.8m-42.8 9.3h1.8m-3.1 4.7h1.8m11.4 0h1.8m4.8 0h1.8m20.7 0h1.8m-96.7 9.3h8m4.5 0h1.7m5.8 0h1.7m2 0h1.7m.9 0h1.7m.8 0h1.7m2 0h2.9m2.1 0h4.2m3.3 0h6.7m-51.7 4.6h1.7m3.3 0h1.7m3.3 0h4.2m.8 0h2.9m3.3 0h2.9m7.2 0h2.9m.8 0h4.2m.8 0h2.9m2.1 0h6.7m-53 9.3h1.7m.8 0h1.7m.8 0h1.7m.8 0h6.7m2.1 0h1.7m7 0h1.7m2.1 0h1.7m.8 0h2.9m.9 0h1.7m2 0h1.7m.8 0h6.7m.8 0h1.7m-46.7 4.7h2.9m.8 0h2.9m.9 0h2.9m.8 0h2.9m2.1 0h2.9m.9 0h1.7m.8 0h1.7m3.3 0h1.7m3.3 0h1.7m3.3 0h2.9m.9 0h1.7m2 0h2.9m-46.7 9.3h2.9m.9 0h1.7m.8 0h2.9m2.1 0h1.7m.8 0h5.4m.8 0h4.2m.9 0h4.2m2 0h2.9m4.6 0h4.2m.8 0h1.7m.8 0h1.7m-50.5 4.6h2.9m.9 0h2.9m.8 0h1.7m.8 0h8m2 0h4.2m.9 0h1.7m4.5 0h5.4m.9 0h4.2m3.3 0h1.7"/>
<path stroke="#b4b5d8" stroke-width="5.09" d="M320.4 138.6h4.2m.8 0h4.2m14.6 0h1.7m8.3 0h15.5m.8 0h2.9m.9 0h1.8m4.8 0h1.8m2.2 0h1.8m.8 0h3.1m.9 0h1.8m3.5 0h3.1m2.1 0h3.1m2.2 0h1.8m.9 0h3.1m.8 0h1.8m.9 0h9.7m-68.3 4.6h1.7m18.6 0h1.8m6.1 0h1.8m.8 0h1.8m8.8 0h1.8m7.4 0h3.1m2.2 0h1.8m.9 0h1.8m2.1 0h1.8m2.2 0h1.8m-103.4 9.3h2.9m7.1 0h1.7m12.1 0h1.7m2.1 0h1.7m2 0h1.7m.8 0h1.7m.8 0h2.9m3.4 0h2.9m.8 0h1.7m2.1 0h3.1m2.2 0h3.1m.8 0h7m1 0h3.1m.8 0h4.4m.9 0h11m.9 0h1.8m.8 0h3.1m.9 0h8.4m-105.9 9.3h1.7m8.3 0h2.9m.9 0h1.7m.8 0h1.7m17.1 0h2.9m.8 0h2.9m2.1 0h1.7m.8 0h2.9m16.6 0h1.8m14 0h1.8m2.2 0h1.8m7.4 0h1.8m-96.6 4.7h1.7m19.6 0h5.4m.9 0h1.7m3.3 0h1.7m5.8 0h1.7m4.5 0h4.2m4.7 0h1.8m2.2 0h4.4m.9 0h5.7m2.2 0h1.8m.8 0h1.8m.9 0h1.8m.8 0h8.4m.9 0h4.4m2.2 0h1.8m-38.8 9.3h1.8m7.4 0h3.1m4.9 0h1.8m11.4 0h1.8m.8 0h1.8m3.5 0h1.8m-98 4.6h2.9m14.6 0h1.7m.8 0h2.9m7.1 0h2.9m3.4 0h4.2m.8 0h1.7m.8 0h2.9m.8 0h4.2m.9 0h1.8m2.2 0h1.8m3.5 0h1.8m2.1 0h1.8m2.2 0h1.8m2.1 0h5.7m.9 0h1.8m.9 0h1.8m.8 0h3.1m2.2 0h1.8m.8 0h5.7m.9 0h4.4m-104.5 4.7h4.2m3.3 0h1.7m.8 0h1.7m19.6 0h2.9m.8 0h1.7m3.3 0h1.7m2.1 0h5.4m2.1 0h1.8m.8 0h21.6m.9 0h11m.9 0h5.7m.9 0h9.7m-93.4 4.6h1.7m8.3 0h1.7m3.4 0h1.7m4.5 0h1.7m8.3 0h1.7m5.8 0h1.7m-33 4.7h2.9m36.3 0h1.8m12.7 0h1.8m.9 0h3.1m8.7 0h3.1m-91.3 4.6h4.2m.8 0h2.9m3.4 0h1.7m3.3 0h2.9m8.4 0h1.7m8.3 0h1.7m3.3 0h10.5m.8 0h16.3m.9 0h1.8m.8 0h8.4m.9 0h7m.9 0h15m-104.6 4.7h4.2m3.3 0h4.2m4.5 0h4.2m10.9 0h1.7m.8 0h2.9m.8 0h4.2m.8 0h2.9m.9 0h1.7m.8 0h2.9m23.4 0h3.1m6.1 0h1.8m4.8 0h1.8m3.5 0h1.8m-96.8 4.6h1.7m39.6 0h1.7m11.1 0h1.8m7.4 0h1.8m12.7 0h3.1m.9 0h1.8m2.1 0h1.8m4.8 0h1.8m4.8 0h1.8m-103.2 4.7h8m18.3 0h2.9m4.6 0h19.2m-11.7 18.6h2.9m2.1 0h1.7m-11.7 9.3h1.7m-38 18.6h1.7m3.3 0h4.2m.8 0h2.9m.9 0h1.7m.8 0h18m.8 0h8m.7 0h1.7m2.1 0h1.7m.8 0h2.9m-53 14h1.7m.8 0h10.5m.8 0h1.7m2 0h4.2m.8 0h11.7m.9 0h11.7m.8 0h4.2m-50.5 13.9h2.9m2.1 0h10.5m2 0h1.7m2 0h5.4m.9 0h8m.8 0h4.2m.8 0h1.7m.8 0h4.2m.8 0h2.9m-53 14h2.9m4.6 0h6.7m.8 0h5.4m.9 0h1.7m.8 0h5.4m.9 0h2.9m.8 0h4.2m2.1 0h13"/>
<path stroke="#eabab8" stroke-width="5.09" d="M324.2 138.6h1.7m8.3 0h2.9m-2.9 4.6h1.7m5.8 0h1.7m-5.5 4.7h1.7m5.8 0h1.7m-25.4 4.6h1.7m5.8 0h1.7m5.8 0h1.7m5.8 0h1.7m-15.5 4.7h1.7m13.3 0h1.7m-25.4 4.6h1.7m12 0h1.7m13.4 0h1.7m-16.8 9.3h1.7m.8 0h2.9m.9 0h1.7m.8 0h1.7m.8 0h1.7m-3 4.7h1.7m3.4 0h1.7m-25.5 4.6h1.7m-1.7 4.7h2.9m5.8 0h1.7m5.8 0h1.7m2.1 0h1.7m7.1 9.3h1.7m2 0h1.7m-26.7 4.6h1.7m4.5 0h1.7m2.1 0h1.7m8.3 0h1.7m5.8 0h1.7m-11.7 4.7h1.7m-21.7 13.9h1.7m2 0h1.7m9.6 0h4.2m65.7 9.4h1.8m-40.1 4.6h1.8m20.6 4.7h1.8m10.1 4.6h1.8m-9.7 4.7h1.8m-17.7 4.6h1.8m2.2 0h1.8m16.7 4.7h1.8"/>
<path stroke="#cc312b" stroke-width="5.09" d="M330.4 138.6h1.7m10.8 0h1.7m3.4 4.6h1.7m-10.5 4.7h1.7m-1.7 4.6h2.9m3.3 0h1.7m-14.2 4.7h1.7m7.1 0h1.7m.8 0h1.7m-23 4.6h1.7m4.6 0h1.7m14.5 0h1.7m2.1 0h1.7m-18 4.7h1.7m2.1 4.6h1.7m4.5 0h1.7m14.6 0h1.7m-18 4.7h1.7m7.1 0h1.7m-28 4.6h1.7m7.1 0h1.7m.8 0h1.7m9.6 0h1.7m.8 4.7h1.7m8.3 0h1.7m-26.8 4.6h1.7m7.1 0h1.7m8.3 4.7h1.7m-5.4 4.6h1.7m-16.8 4.7h1.7m-10.4 4.6h1.7m9.5 0h1.7m8.4 0h1.7m10.8 0h1.7m-23 4.7h1.7m3.3 0h1.7m5.8 0h1.7m-.4 4.6h1.7m18.3 4.7h1.8m.8 0h5.7m.9 0h44m-53.2 37.2h3.1m.9 0h17.6m.8 0h4.4m2.2 0h1.8m2.2 0h1.8m.8 0h11m.9 0h3.1m.9 0h1.8m-53.3 4.7h18.9m.9 0h1.8m3.5 0h7m.9 0h3.1m.9 0h8.4m.8 0h7m-53.2 4.6h3.1m.9 0h8.4m.8 0h7m.9 0h7m.9 0h1.8m.9 0h7m.9 0h3.1m.9 0h7m-50.6 4.7h5.7m.9 0h4.4m.9 0h18.9m2.2 0h3.1m.9 0h3.1m.8 0h12.3m-53.2 4.6h3.1m.9 0h3.1m.8 0h1.8m.9 0h1.8m2.1 0h4.4m.9 0h1.8m.8 0h3.1m.9 0h8.4m.8 0h1.8m.9 0h3.1m.8 0h1.8m.9 0h8.4m-53.3 4.7h13.6m2.2 0h3.1m.9 0h5.7m2.2 0h15m.9 0h1.8m2.1 0h5.7m-53.2 4.6h1.8m4.8 0h4.4m.9 0h1.8m2.1 0h4.4m3.6 0h4.4m.8 0h5.7m.9 0h7m1 0h5.7m.9 0h1.8m-52 4.7h7m.9 0h9.7m.9 0h1.8m.8 0h4.4m.9 0h26.8m-53.2 4.6h8.4m.8 0h7m1 0h12.3m3.5 0h4.4m.9 0h15m-53.3 4.7h1.8m.8 0h1.8m.9 0h1.8m.8 0h1.8m.9 0h1.8m.8 0h3.1m.9 0h3.1m.8 0h5.7m2.2 0h5.7m.9 0h5.7m.9 0h3.1m.9 0h3.1m.9 0h3.1"/>
<path stroke="#d45651" stroke-width="5.09" d="M332.9 138.6h1.7m3.3 0h1.7m.8 0h1.7m8.4 0h1.7m-11.8 4.6h1.7m4.6 0h1.7m.8 0h1.7m-4.2 4.7h2.9m-22.9 4.6h1.7m14.5 0h1.7m3.4 0h1.7m-21.8 4.7h1.7m10.8 0h1.7m20.9 0h1.7m-39.3 4.6h1.7m.8 0h1.7m9.6 0h1.7m3.3 0h1.7m2.1 0h1.7m-20.5 4.7h4.2m10.8 9.3h1.7m7.1 0h1.7m-24.3 4.6h1.7m3.3 0h1.7m.8 0h1.7m14.6 0h1.7m12.1 0h1.7m-35.5 4.7h1.7m4.5 0h1.7m7.1 0h1.7m7.1 0h1.7m-23 4.6h1.7m-8 4.7h1.7m14.6 0h1.7m17.1 0h1.7m-36.8 4.6h1.7m9.6 0h2.9m-10.4 4.7h1.7m-10.5 4.6h1.7m.8 0h1.7m4.6 0h1.7m34.6 0h1.7m-21.7 4.7h1.7m-30.5 4.6h1.7m10.8 0h1.7m14.6 0h1.7m34 9.4h1.8m27.2 0h1.8m-40 4.6h1.8m3.4 0h1.8m.9 0h1.8m8.7 0h1.8m10.1 0h1.8m10.1 0h1.8m-46.7 4.7h1.8m6.1 0h1.8m14.1 0h1.8m3.5 0h1.8m-5.8 4.6h1.8m-22.9 4.7h1.8m2.1 0h1.8m7.5 0h1.8m8.7 4.6h1.8m16.7 0h1.8m-49.3 4.7h1.8m7.4 0h1.8m33.9 0h3.1"/>
<path stroke="#d24a45" stroke-width="5.09" d="M336.7 138.6h1.7m-11.7 4.6h1.7m17 0h1.7m8.4 0h1.7m-16.8 4.7h1.7m9.6 4.6h1.7m-13 9.3h1.7m.8 0h1.7m-17.9 4.7h1.7m5.8 4.6h1.7m-4.2 4.7h1.7m-5.5 4.6h1.7m14.6 0h4.2m-10.5 4.7h1.7m2.1 0h1.7m4.6 0h1.7m-4.3 4.6h1.7m2.1 4.7h1.7m-23 4.6h1.7m5.8 0h1.7m14.6 0h1.7m-16.7 4.7h1.7m12.1 0h1.7m-23 4.6h1.7m2 0h1.7m17.1 0h1.7m-24.2 4.7h1.7m7 0h1.7m51.9 18.6h1.8m3.5 4.7h1.8m20.6 9.3h1.8m-36.1 4.6h1.8m10.1 4.7h1.8m-29.4 4.6h1.7m-16.7 14h1.7m-18 13.9h1.7m2.1 0h1.7m32.2 0h1.8m-28.2 4.7h1.7m-1.7 4.6h1.7m8.3 0h1.7m4.6 0h1.7m-18 4.7h1.7"/>
<path stroke="#cf3d38" stroke-width="5.09" d="M341.7 138.6h1.7m-19.2 4.6h1.7m12 0h2.9m2.1 0h1.7m-7.9 4.7h1.7m5.8 0h1.7m-4.2 4.6h1.7m-4.2 4.7h1.7m-14.2 4.6h1.7m13.3 0h1.7m3.3 0h1.7m-20.5 4.7h1.7m15.8 4.6h1.7m.9 0h2.9m-5.5 14h1.7m-12.9 4.6h1.7m12.1 4.7h1.7m2 0h2.9m-21.7 4.6h1.7m10.8 0h1.7m-5.4 4.7h1.7m.8 0h1.7m3.3 0h1.7m15.8 0h1.7m-36.7 4.6h1.7m13.3 0h1.7m-8 4.7h2.9m31 18.6h1.8m12.7 4.7h1.8m-8.4 4.6h1.8m19.4 0h3.1m2.1 0h1.8m-33.4 4.7h1.8m-3.2 13.9h1.8m16.7 0h1.8m3.5 0h1.8m2.2 0h3.1m.8 0h1.8m10.1 0h1.8m2.2 0h1.8m-30.9 4.7h4.4m6.2 0h1.8m2.1 0h1.8m7.5 0h1.8m-44.1 4.6h1.8m7.5 0h1.8m6.1 0h1.8m8.8 0h1.8m6.1 0h1.8m10.1 0h1.8m-46.7 4.7h1.8m23.3 0h3.1m2.1 0h1.8m2.2 0h1.8m-34.8 4.6h1.8m.8 0h1.8m.9 0h3.1m3.5 0h1.8m4.8 0h1.8m7.4 0h1.8m.9 0h1.8m2.1 0h1.8m.9 0h1.8m-32.2 4.7h3.1m2.2 0h1.8m4.8 0h3.1m14 0h1.8m.9 0h3.1m-46.7 4.6h1.8m.9 0h3.1m3.5 0h1.8m.8 0h1.8m4.8 0h1.8m.8 0h1.8m3.5 0h1.8m4.8 0h1.8m6.1 0h1.8m-37.4 4.7h1.8m8.8 0h1.8m.8 0h1.8m-13.7 4.6h1.8m6.1 0h1.8m12.8 0h3.1m3.5 0h1.8m-34.8 4.7h1.8m.8 0h1.8m7.4 0h1.8m2.2 0h1.8m6.1 0h1.8m4.8 0h1.8m4.8 0h1.8m2.2 0h1.8"/>
<path stroke="#bfc0dd" stroke-width="5.09" d="M345.4 138.6h1.7m22.1 0h1.7m-48 4.6h1.7m.8 0h1.7m3.3 0h2.9m2.1 0h2.9m20.9 0h1.7m.8 0h17m.9 0h7m.9 0h1.8m.9 0h9.7m.8 0h8.4m2.2 0h1.8m2.1 0h1.8m.9 0h3.1m.8 0h3.1m-104.5 9.3h1.7m12.1 0h2.9m15.9 0h1.7m.8 0h1.7m.8 0h1.7m2 0h4.2m2.1 0h1.7m.8 0h2.9m3.6 0h1.8m10 0h1.8m22 0h1.8m-91.5 4.7h1.7m25.9 0h1.7m.8 0h1.7m2 0h2.9m9.6 0h1.7m.8 0h4.3m2.3 0h1.8m.8 0h1.8m.9 0h4.4m.8 0h3.1m.9 0h17.6m.9 0h5.7m.9 0h8.4m-104.6 9.3h1.7m2 0h1.7m7.1 0h8m4.5 0h1.7m.8 0h4.2m.8 0h6.7m2.1 0h2.9m4.6 0h5.6m.9 0h3.1m3.5 0h1.8m4.8 0h1.8m2.1 0h1.8m.9 0h1.8m10 0h1.8m3.5 0h3.1m.9 0h8.4m-103.4 9.3h2.9m2.1 0h1.7m4.6 0h1.7m.8 0h5.4m4.6 0h4.2m3.3 0h1.7m.8 0h6.7m.8 0h15.8m.9 0h8.4m2.2 0h5.7m.9 0h8.4m.8 0h1.8m2.2 0h1.8m.8 0h4.4m.9 0h7m-85.8 4.6h1.7m14.6 0h1.7m5.8 0h1.7m-45.5 4.7h1.7m3.3 0h1.7m3.3 0h1.7m19.6 0h1.7m2.1 0h1.7m5.8 0h2.9m4.6 0h2.9m35.2 0h1.8m4.8 0h1.8m-96.6 9.3h4.2m.8 0h5.4m2.1 0h2.9m.9 0h4.2m2 0h1.7m12.1 0h2.9m.9 0h5.4m.8 0h8m.9 0h4.4m.9 0h13.6m.9 0h1.8m2.2 0h1.8m.8 0h7m2.3 0h15m-102.1 4.6h1.7m3.3 0h1.7m8.3 0h1.7m8.3 0h1.7m4.6 0h2.9m.8 0h2.9m28.1 0h1.8m.8 0h1.8m-70.4 9.3h1.7m13.3 0h4.2m2 0h1.7m7.1 0h6.7m.8 0h2.9m.9 0h5.4m.8 0h5.7m.9 0h8.4m.8 0h13.6m2.3 0h1.8m.8 0h3.1m2.2 0h3.1m2.2 0h1.8m.8 0h3.1m.9 0h3.1m-102.1 51.2h1.7m3.3 0h1.7m2 0h1.7m-14.2 4.7h1.7m7.1 0h4.2m2 0h1.7m.8 0h4.2m.8 0h2.9m.9 0h1.7m.8 0h1.7m.8 0h1.7m3.3 0h2.9m3.4 0h4.2m-46.8 4.6h1.7m.8 0h1.7m.8 0h1.7m.8 0h4.2m3.3 0h1.7m2.1 0h4.2m2 0h1.7m.9 0h2.9m.8 0h1.7m2.1 0h1.7m3.3 0h1.7m2 0h2.9m-30.4 4.7h1.7m3.3 0h1.7m28.3 0h1.7m-51.7 4.6h1.7m3.3 0h1.7m5.8 0h2.9m.8 0h2.9m3.4 0h1.7m2.1 0h1.7m.8 0h1.7m2 0h1.7m.8 0h2.9m.9 0h1.7m5.8 0h1.7m.8 0h2.9m-51.7 4.7h1.7m3.3 0h1.7m2 0h1.7m2.1 0h1.7m2 0h2.9m2.1 0h1.7m3.4 0h4.2m.8 0h4.2m.8 0h4.2m2 0h1.7m.8 0h2.9m2.1 0h1.7m-48 4.6h1.7m9.6 0h1.7m2 0h1.7m5.9 0h1.7m7 0h1.7m3.3 0h1.7m-43 4.7h5.4m2.1 0h1.7m4.6 0h2.9m7.1 0h1.7m8.3 0h2.9m3.4 0h2.9m4.6 0h1.7m.8 0h1.7m-50.5 4.6h1.7m2 0h1.7m2.1 0h1.7m.8 0h1.7m7 0h2.9m3.4 0h1.7m3.3 0h2.9m9.6 0h1.7m.8 0h1.7m.8 0h2.9m-49.2 4.7h1.7m2.1 0h1.7m5.8 0h1.7m4.5 0h1.7m.8 0h1.7m13.4 0h1.7"/>
<path stroke="#a9aad3" stroke-width="5.09" d="M353 138.6h1.7m18.3 0h1.8m.8 0h5.7m.9 0h3.1m.9 0h1.8m2.2 0h1.8m.8 0h3.1m3.5 0h3.1m2.2 0h3.1m.8 0h1.8m2.2 0h1.8m.8 0h1.8m-95.3 9.3h1.7m2 0h2.9m5.9 0h2.9m12.1 0h2.9m.9 0h2.9m.8 0h4.2m.8 0h1.7m5.8 0h4.2m10.2 0h1.8m2.1 0h1.8m29.9 0h1.8m-45.4 4.6h1.8m15.4 0h1.8m3.5 0h1.8m10.1 0h1.8m4.8 0h1.8m-94.2 9.3h1.7m7 0h1.7m17.1 0h1.7m.8 0h1.7m2.1 0h1.7m2 0h2.9m.9 0h1.7m2 0h13.4m1 0h3.1m.8 0h3.1m.9 0h11m.9 0h3.1m.8 0h8.4m.9 0h9.7m-105.9 9.3h2.9m2.1 0h1.7m.8 0h2.9m.9 0h2.9m5.8 0h1.7m8.4 0h1.7m.8 0h1.7m.8 0h4.2m.8 0h5.4m.8 0h2.9m2.1 0h1.7m3.6 0h5.7m7.5 0h3.1m.8 0h4.4m2.2 0h4.4m2.2 0h4.4m3.5 0h1.8m2.2 0h3.1m.9 0h3.1m-105.9 9.3h1.7m2.1 0h1.7m29.6 0h1.7m4.5 0h1.7m9.6 0h1.8m.8 0h3.1m.9 0h4.4m.9 0h3.1m.8 0h3.1m.9 0h3.1m4.8 0h1.8m.9 0h1.8m.8 0h1.8m2.2 0h3.1m7.4 0h1.8m-48 4.7h1.8m-55.7 4.6h5.4m.9 0h5.4m9.6 0h1.7m9.6 0h1.7m.8 0h5.4m.8 0h2.9m.9 0h1.7m.8 0h4.2m.8 0h28.2m.8 0h1.8m.9 0h1.8m.8 0h7m.9 0h4.4m.9 0h1.8m.9 0h3.1m-24.3 9.3h1.8m6.2 0h1.8m-91.4 4.7h1.7m3.3 0h1.7m5.8 0h1.7m19.6 0h1.7m2.1 0h1.7m3.3 0h1.7m4.5 0h1.7m2.1 0h24.2m2.2 0h1.8m.8 0h4.4m.9 0h5.7m.9 0h4.4m.9 0h7m-98.3 9.3h1.7m-9.2 4.6h1.7m3.3 0h1.7m.8 0h1.7m8.3 0h1.7m.8 0h2.9m8.4 0h1.7m7.1 0h6.7m.8 0h2.9m.8 0h1.7m8.8 0h1.8m18 0h1.8m4.8 0h1.8m-90 14h2.9m.9 0h1.7m12 0h1.7m2.1 0h1.7m7.1 0h1.7m.8 0h1.7m2 0h1.7m10.8 0h2.9m-51.7 9.3h2.9m2.1 0h1.7m3.3 0h5.4m.9 0h1.7m3.3 0h1.7m8.3 0h1.7m14.6 0h1.7m-46.8 9.3h1.7m2.1 0h1.7m4.5 0h1.7m2.1 0h2.9m.8 0h1.7m3.3 0h1.7m4.6 0h2.9m2.1 0h1.7m2.1 0h2.9m5.8 0h1.7m-49.2 9.3h1.7m12 0h1.7m17.1 0h1.7m9.6 0h2.9m-48 27.9h1.7m2.1 0h1.7m43.3 0h1.7m-46.7 14h2.9m25.9 0h1.7"/>
<path stroke="#9d9fcd" stroke-width="5.09" d="M320.4 147.9h1.7m.8 0h2.9m2.1 0h6.7m7.1 0h1.7m8.3 0h1.7m2.1 0h1.7m3.3 0h1.7m2 0h5.4m3.4 0h11m.9 0h1.8m2.1 0h7m1 0h4.4m.8 0h3.1m.9 0h3.1m.9 0h4.4m.8 0h4.4m.9 0h5.7m-44 13.9h1.8m-61.1 9.3h2.9m.9 0h1.7m2 0h1.7m19.6 0h1.7m.8 0h1.7m9.6 0h1.7m2 0h2.9m.9 0h4.4m4.8 0h8.4m2.2 0h1.8m3.5 0h3.1m3.5 0h3.1m3.5 0h4.4m2.2 0h1.8m2.1 0h1.8m-91.9 18.6h1.7m33.3 0h1.7m32.3 0h1.8m.9 0h1.8m8.7 0h1.8m3.5 0h1.8m.8 0h1.8m-26.8 23.3h1.8m6.1 0h1.8m-83.6 4.6h2.9m.9 0h1.7m.8 0h2.9m4.6 0h1.7m.8 0h1.7m2 0h1.7m9.6 0h6.7m5.8 0h1.7m2.1 0h1.7m2.1 0h8.4m.9 0h16.3m.8 0h1.8m.9 0h4.4m2.2 0h11m.8 0h1.8m.9 0h1.8m-103.4 14h1.7m.8 0h4.2m4.6 0h4.2m.8 0h2.9m.8 0h8m.8 0h1.7m.8 0h2.9m.9 0h1.7m.8 0h1.7m2 0h2.9m-42.9 9.3h1.7m.8 0h2.9m5.8 0h1.7m.8 0h2.9m2.1 0h2.9m2.2 0h4.2m.8 0h4.2m.8 0h6.7m.8 0h2.9m.8 0h4.2m-53 9.3h2.9m.9 0h2.9m.8 0h1.7m4.6 0h2.9m2.1 0h1.7m.8 0h2.9m4.6 0h2.9m2.1 0h2.9m.9 0h2.9m3.3 0h4.2m2.1 0h2.9"/>
<path stroke="#9295c8" stroke-width="5.09" d="M395.4 147.9h1.8m3.5 0h1.8m2.2 0h1.8m2.1 0h1.8m3.5 0h1.8m.9 23.2h1.8m-45.4 41.9h3.1m.9 0h1.8m.8 0h4.4m.9 0h12.3m.9 0h7m2.2 0h5.7m2.2 0h3.1m.9 0h7m-18.9 4.6h1.8m14.1 0h1.8m-100.8 9.4h1.7m8.3 0h1.7m.8 0h1.7m4.5 0h1.7m5.9 0h1.7m10.8 0h2.9m2.1 4.6h1.7m-36.8 4.7h1.7m3.3 0h1.7m.8 0h1.7m4.6 0h2.9m-9.2 4.6h1.7m3.3 0h1.7m-21.7 4.7h1.7m3.3 0h2.9m9.6 0h2.9m.9 0h1.7m3.3 0h1.7m9.6 0h1.7m3.3 0h1.7m-25.5 4.6h1.7m22.1 0h1.7m-48 4.7h1.7m24.6 0h1.7m5.8 0h1.7m4.5 0h1.7m.8 0h4.2"/>
<path stroke="#d7635e" stroke-width="5.09" d="M390.2 161.8h1.8m7.4 4.7h1.8m4.8 23.2h1.8m-7.1 4.7h1.8m-29.5 4.6h1.8m25.9 4.7h1.8m-26.9 9.3h1.8m-4.4 4.6h1.8m45.7 0h1.8m-84.4 4.7h1.7m.8 0h1.7m5.9 4.7h1.7m29.9 0h1.8m12.7 0h1.8m18 0h1.8m3.5 0h1.8m-91.8 4.6h1.7m52.7 0h1.8m8.7 0h1.8m4.8 0h1.8m.9 0h1.8m18 0h1.8m-69.5 4.7h2.9m25.2 0h3.1m4.8 0h1.8m24.6 0h1.8m-90.5 4.6h1.7m65.9 0h1.8m7.4 0h1.8m16.7 0h1.8m-97.1 4.7h1.7m42.1 0h1.8m18 0h1.8m19.3 0h1.8m.9 0h1.8m-71.7 4.6h1.7m33.8 0h3.1m12.8 0h1.8m.8 0h1.8m-69.6 4.7h1.7m.8 0h2.9m41.3 0h1.8m16.7 0h1.8m2.1 0h1.8m19.4 0h1.8m-62 4.6h1.7m-31.8 4.7h1.7m18.4 0h1.7m-21.8 9.3h1.7m32.1 0h1.7m-44.2 4.6h1.7m15.8 0h1.7m3.3 0h1.7m-28 4.7h1.7m15.8 9.3h1.7m23.4 0h1.7m-44.3 4.6h1.7m37.1 4.7h1.7"/>
<path stroke="#e1e1ed" stroke-width="5.09" d="M320.4 222.3h18m.8 0h1.7m.8 0h31.7m51.1 46.5h1.8m-42.7 4.7h1.8m-9.8 4.6h1.8m20.7 14h1.8m-25.6 9.3h1.8m6.1 0h1.8m15.4 0h1.8m20.6 0h1.8"/>
<path stroke="#e29492" stroke-width="5.09" d="M374.3 222.3h1.8m4.8 0h1.8m-57.3 4.7h1.7m19.6 0h1.7m48.4 0h1.8m.8 0h1.8m4.8 0h1.8m12.7 0h1.8m-50.6 4.6h1.7m26 0h1.8m20.6 0h1.8m-80.7 4.7h1.7m9.6 0h1.7m25 0h1.8m19.3 0h1.8m2.2 0h1.8m.8 0h1.8m-63.7 4.6h1.7m24.6 0h1.8m12.7 0h3.1m3.5 0h1.8m22 0h1.8m-16.3 4.7h1.8m3.4 0h1.8m11.4 0h1.8m-50.6 4.6h1.8m15.4 0h1.8m7.4 0h1.8m7.4 0h1.8m2.2 0h1.8m2.2 0h1.8m4.8 0h1.8m-90.8 4.7h1.7m54.3 0h1.8m21.9 0h1.8m-92.8 4.6h1.7m12.1 4.7h1.7m-14.2 4.6h1.7m20.8 0h1.7m-26.7 4.7h1.7m12 0h1.7m3.3 4.6h1.7m-19.2 4.7h1.7m20.8 0h1.7m17.1 4.6h1.7m-6.7 4.7h1.7m-10.4 4.6h1.7m19.5 0h1.7"/>
<path stroke="#da6f6b" stroke-width="5.09" d="M373 227h1.8m16.7 0h1.8m2.1 0h1.8m4.8 0h1.8m.9 0h1.8m2.1 0h1.8m2.2 0h1.8m-33.5 4.6h1.8m19.3 0h1.8m7.5 0h1.8m2.1 0h1.8m-44 4.7h1.8m41.8 0h1.8m2.1 0h1.8m-48 4.6h1.8m2.2 0h1.8m.8 0h1.8m24.6 0h1.8m14.1 0h1.8m-45.4 4.7h1.8m-1.8 4.6h1.8m24.6 0h1.8m3.5 0h1.8m-37.5 4.7h1.8m27.3 0h1.8m14 0h3.1"/>
<path stroke="#df8885" stroke-width="5.09" d="M375.6 227h1.8m.9 0h1.8m.8 0h1.8m24.6 0h1.8m.9 0h1.8m11.4 0h1.8m-20.3 4.6h3.1m-29.5 4.7h1.8m31.2 0h1.8m6.1 0h1.8m.8 0h1.8m-38.7 4.6h3.1m3.5 0h1.8m7.4 0h1.8m11.4 0h3.1m4.8 0h1.8m-42.7 4.7h1.8m3.5 0h5.7m20.7 0h1.8m10.1 0h1.8m-52 4.6h1.8m15.4 0h1.8m10.1 0h1.8m4.8 0h1.8m3.4 0h1.8m-36.1 4.7h1.8m.9 0h1.8m14 0h1.8m2.2 0h1.8m.8 0h1.8m.8 0h1.8"/>
<path stroke="#f0d3d2" stroke-width="5.09" d="M377 227h1.8"/>
<path stroke="#e8adab" stroke-width="5.09" d="M400.7 227h1.8m8.8 0h1.8m-15 4.6h1.8m8.7 0h1.8m-5.7 4.7h1.8m8.7 0h1.8m-5.7 4.6h1.8m-29.5 4.7h1.8m15.3 0h1.8m-5.7 4.6h1.8m-20.3 4.7h1.8"/>
<path d="M319.7 123.5V152M317.3 152H319.7M317.3 152V238H318.6M319.7 262V303" stroke="#111" stroke-width="0.7" fill="none"/>
<path d="M318.6 218V262" stroke="#444" stroke-width="1.1" fill="none"/>
<text x="429" y="114.3" font-size="4.4" textLength="17.31" lengthAdjust="spacingAndGlyphs" font-weight="bold" fill="#000">Cell Type</text>
<text x="429" y="121.23" font-size="4.2" textLength="9.24" lengthAdjust="spacingAndGlyphs" font-style="italic" fill="#383838">BTF3</text>
<text x="429" y="125.88" font-size="4.2" textLength="13.02" lengthAdjust="spacingAndGlyphs" font-style="italic" fill="#383838">AHNAK</text>
<text x="429" y="130.53" font-size="4.2" textLength="16.6" lengthAdjust="spacingAndGlyphs" font-style="italic" fill="#383838">TSC22D3</text>
<text x="429" y="135.18" font-size="4.2" textLength="12.4" lengthAdjust="spacingAndGlyphs" font-style="italic" fill="#383838">ANXA1</text>
<text x="429" y="139.84" font-size="4.2" textLength="15.12" lengthAdjust="spacingAndGlyphs" font-style="italic" fill="#383838">ANGPT1</text>
<text x="429" y="144.49" font-size="4.2" textLength="9.03" lengthAdjust="spacingAndGlyphs" font-style="italic" fill="#383838">TRIO</text>
<text x="429" y="149.14" font-size="4.2" textLength="18.07" lengthAdjust="spacingAndGlyphs" font-style="italic" fill="#383838">HIST1H1E</text>
<text x="429" y="153.79" font-size="4.2" textLength="9.66" lengthAdjust="spacingAndGlyphs" font-style="italic" fill="#383838">CD34</text>
<text x="429" y="158.45" font-size="4.2" textLength="18.07" lengthAdjust="spacingAndGlyphs" font-style="italic" fill="#383838">PROSER1</text>
<text x="429" y="163.1" font-size="4.2" textLength="5.88" lengthAdjust="spacingAndGlyphs" font-style="italic" fill="#383838">ID2</text>
<text x="429" y="167.75" font-size="4.2" textLength="13.02" lengthAdjust="spacingAndGlyphs" font-style="italic" fill="#383838">SNHG8</text>
<text x="429" y="172.4" font-size="4.2" textLength="13.8" lengthAdjust="spacingAndGlyphs" font-style="italic" fill="#383838">BCL11A</text>
<text x="429" y="177.06" font-size="4.2" textLength="7.77" lengthAdjust="spacingAndGlyphs" font-style="italic" fill="#383838">FOS</text>
<text x="429" y="181.71" font-size="4.2" textLength="10.29" lengthAdjust="spacingAndGlyphs" font-style="italic" fill="#383838">FOSB</text>
<text x="429" y="186.36" font-size="4.2" textLength="13.02" lengthAdjust="spacingAndGlyphs" font-style="italic" fill="#383838">DOCK5</text>
<text x="429" y="191.01" font-size="4.2" textLength="15.12" lengthAdjust="spacingAndGlyphs" font-style="italic" fill="#383838">NHLRC3</text>
<text x="429" y="195.67" font-size="4.2" textLength="14.92" lengthAdjust="spacingAndGlyphs" font-style="italic" fill="#383838">MAP3K8</text>
<text x="429" y="200.32" font-size="4.2" textLength="12.81" lengthAdjust="spacingAndGlyphs" font-style="italic" fill="#383838">MCTP2</text>
<text x="429" y="204.97" font-size="4.2" textLength="9.24" lengthAdjust="spacingAndGlyphs" font-style="italic" fill="#383838">TET2</text>
<text x="429" y="209.62" font-size="4.2" textLength="11.13" lengthAdjust="spacingAndGlyphs" font-style="italic" fill="#383838">IGF1R</text>
<text x="429" y="214.28" font-size="4.2" textLength="16.18" lengthAdjust="spacingAndGlyphs" font-style="italic" fill="#383838">RPL10P3</text>
<text x="429" y="218.93" font-size="4.2" textLength="9.67" lengthAdjust="spacingAndGlyphs" font-style="italic" fill="#383838">YBX3</text>
<text x="429" y="223.58" font-size="4.2" textLength="13.44" lengthAdjust="spacingAndGlyphs" font-style="italic" fill="#383838">PRAME</text>
<text x="429" y="228.23" font-size="4.2" textLength="7.35" lengthAdjust="spacingAndGlyphs" font-style="italic" fill="#383838">LCK</text>
<text x="429" y="232.89" font-size="4.2" textLength="9.25" lengthAdjust="spacingAndGlyphs" font-style="italic" fill="#383838">SELL</text>
<text x="429" y="237.54" font-size="4.2" textLength="7.98" lengthAdjust="spacingAndGlyphs" font-style="italic" fill="#383838">IL7R</text>
<text x="429" y="242.19" font-size="4.2" textLength="10.5" lengthAdjust="spacingAndGlyphs" font-style="italic" fill="#383838">CD3G</text>
<text x="429" y="246.84" font-size="4.2" textLength="13.8" lengthAdjust="spacingAndGlyphs" font-style="italic" fill="#383838">BCL11B</text>
<text x="429" y="251.5" font-size="4.2" textLength="11.13" lengthAdjust="spacingAndGlyphs" font-style="italic" fill="#383838">ITM2A</text>
<text x="429" y="256.15" font-size="4.2" textLength="12.12" lengthAdjust="spacingAndGlyphs" font-style="italic" fill="#383838">PARP9</text>
<text x="429" y="260.8" font-size="4.2" textLength="12.19" lengthAdjust="spacingAndGlyphs" font-style="italic" fill="#383838">APOL4</text>
<text x="429" y="265.45" font-size="4.2" textLength="9.03" lengthAdjust="spacingAndGlyphs" font-style="italic" fill="#383838">CISH</text>
<text x="429" y="270.11" font-size="4.2" textLength="12.81" lengthAdjust="spacingAndGlyphs" font-style="italic" fill="#383838">SOCS2</text>
<text x="429" y="274.76" font-size="4.2" textLength="6.51" lengthAdjust="spacingAndGlyphs" font-style="italic" fill="#383838">IFI6</text>
<text x="429" y="279.41" font-size="4.2" textLength="7.77" lengthAdjust="spacingAndGlyphs" font-style="italic" fill="#383838">MX1</text>
<text x="429" y="284.06" font-size="4.2" textLength="10.72" lengthAdjust="spacingAndGlyphs" font-style="italic" fill="#383838">IFI44L</text>
<text x="429" y="288.72" font-size="4.2" textLength="13.65" lengthAdjust="spacingAndGlyphs" font-style="italic" fill="#383838">PDLIM1</text>
<text x="429" y="293.37" font-size="4.2" textLength="12.6" lengthAdjust="spacingAndGlyphs" font-style="italic" fill="#383838">RSAD2</text>
<text x="429" y="298.02" font-size="4.2" textLength="12.82" lengthAdjust="spacingAndGlyphs" font-style="italic" fill="#383838">CHI3L2</text>
<text x="429" y="302.67" font-size="4.2" textLength="12.81" lengthAdjust="spacingAndGlyphs" font-style="italic" fill="#383838">MAP1A</text>
<text x="458" y="113.4" font-size="4.4" textLength="17.31" lengthAdjust="spacingAndGlyphs" font-weight="bold" fill="#000">Cell Type</text>
<rect x="458" y="117" width="8" height="7.7" fill="#d97716"/>
<rect x="458" y="124.7" width="8" height="7.8" fill="url(#rootg)"/>
<text x="469" y="122.6" font-size="4.4" textLength="24.65" lengthAdjust="spacingAndGlyphs" fill="#383838">Endpoint cells</text>
<text x="469" y="130.1" font-size="4.4" textLength="18.27" lengthAdjust="spacingAndGlyphs" fill="#383838">Root Cells</text>
<rect x="458" y="138.4" width="4.6" height="70.4" fill="url(#cb3)"/>
<text x="466" y="140.1" font-size="4.4" textLength="2.2" lengthAdjust="spacingAndGlyphs" fill="#383838">2</text>
<text x="466" y="157.7" font-size="4.4" textLength="2.2" lengthAdjust="spacingAndGlyphs" fill="#383838">1</text>
<text x="466" y="175.3" font-size="4.4" textLength="2.2" lengthAdjust="spacingAndGlyphs" fill="#383838">0</text>
<text x="465.2" y="192.9" font-size="4.4" textLength="3.52" lengthAdjust="spacingAndGlyphs" fill="#383838">-1</text>
<text x="465.2" y="210.5" font-size="4.4" textLength="3.52" lengthAdjust="spacingAndGlyphs" fill="#383838">-2</text>
<text x="7.6" y="224.9" font-size="11.5" textLength="6.9" lengthAdjust="spacingAndGlyphs" font-weight="bold" fill="#000">E</text>
<rect x="43.8" y="218.8" width="33.8" height="5.8" fill="#d2d2d2"/>
<text x="60.7" y="223.3" font-size="4.9" text-anchor="middle" font-style="italic" fill="#333">CD34</text>
<path d="M45.1 256L55.1 256L55.1 255.4L55.1 254.21L51 254.1L51 232.29L50.4 231.64L49.8 231.64L49.2 232.29L49.2 254.1L45.1 254.21L45.1 255.4Z" fill="#c8661c" stroke="#1a1a1a" stroke-width="0.4"/>
<path stroke="#fff" stroke-width="0.6" stroke-linecap="round" d="M51.7 255.3h0m-.8-2.8h0m-1-14.8h0m-.4 14.9h0m-2.3 1.7h0m6.8 .7h0m-3.9-17.3h0m.7 5.4h0m2.8 12.3h0m-3.2-11.6h0m-.4-2.5h0m-.7 1.8h0m1 5.4h0m.3 3.1h0m-.2-3.4h0m.2-15.7h0m-2.2 22.9h0" stroke-opacity="0.55"/>
<path stroke="#111" stroke-width="0.56" stroke-linecap="round" d="M50.2 248.3h0m-.2-7.3h0m-.6-.9h0m.3-.3h0m.3-3.9h0m-.4 5.6h0m1.3 .3h0m1.3 12.8h0m-2.8-20.6h0m1.5 1.2h0m-.3 14.4h0m-1.1-5.6h0m.3 8.6h0m.8 3.3h0m1.2 0h0m-1.3-20.3h0m.5 12.1h0m-1.7-3.4h0m.3 9h0m4.9 2.5h0m-5-16.6h0m1.1 13h0m-2.5 3.2h0m-1.1-.9h0m3.8-21.1h0m-1.4 20.1h0m.7-4.4h0m-5 6.7h0m5.8-9.7h0" stroke-opacity="0.75"/>
<path d="M55.6 256L65.6 256L65.6 255.4L65.6 254.75L61.8 248.49L61.8 227.32L61 226.24L60.2 226.24L59.4 227.32L59.4 248.49L55.6 254.75L55.6 255.4Z" fill="#4b94c2" stroke="#1a1a1a" stroke-width="0.4"/>
<path d="M56.5 254.5L64.7 254.5L61.1 248.99L60.1 248.99Z" fill="#fff"/>
<path d="M60.6 254.5V248.99" stroke="#4b94c2" stroke-width="1.1" stroke-dasharray="0.9 0.5"/>
<path stroke="#fff" stroke-width="0.6" stroke-linecap="round" d="M60.8 234.2h0m.7 12h0m-1.2-16.6h0m-.9 .2h0m2.5 25.3h0m-1.6-21.4h0m-.7-5.1h0m-.1 11.8h0m.6 .7h0m.9 4.6h0m-3.6 9.5h0m2.2-18h0m.5-7.4h0m3.4 24.8h0m-3.8-17.3h0" stroke-opacity="0.55"/>
<path stroke="#111" stroke-width="0.56" stroke-linecap="round" d="M59.6 235.6h0m1.2 19.8h0m-.5-26h0m.6 12.6h0m.8-12.4h0m-1.7-2.5h0m.6 4.2h0m.1 15.6h0m.2-7.4h0m0-2.3h0m-2 17.7h0m.6-14.2h0m0-1.5h0m1.8 15.5h0m-1.2-7.6h0m1.3-5.8h0m-.4-4.1h0m-1.2-7.4h0m.6 1.9h0m-1.2 22.9h0m1.3-15.5h0m-.6 1.4h0m-.3-11.5h0m.4-2.3h0m1.4 8.6h0m2.3 20.1h0m-2.4-12.3h0" stroke-opacity="0.75"/>
<path d="M70.2 256L72.2 256L72.2 255.4L72.2 254.54L71.6 253.67L71.6 242.44L72.7 240.28L74.02 237.04L74.77 234.23L73.68 231.64L72.2 229.91L71.5 229.26L70.9 229.26L70.2 229.91L68.72 231.64L67.63 234.23L68.38 237.04L69.7 240.28L70.8 242.44L70.8 253.67L70.2 254.54L70.2 255.4Z" fill="#3c1462" stroke="#1a1a1a" stroke-width="0.4"/>
<path stroke="#fff" stroke-width="0.6" stroke-linecap="round" d="M71.5 243.7h0m-.5 8.8h0m-.8-11.4h0m-.2-9h0m.9 20.4h0m.3 0h0m.6-13.9h0m.4 0h0m-1.7-3.3h0m-1-4h0m5 3.7h0m-2.7-2.2h0m-.3 9.5h0m-.2 1.8h0m.2-3h0m-1.4-2.1h0m2.4 1.2h0m.3-6.5h0m.3-1.7h0m.6 .6h0m-1.2-.3h0" stroke-opacity="0.55"/>
<path stroke="#111" stroke-width="0.56" stroke-linecap="round" d="M73.2 231.8h0m-3.6 6.1h0m1.5 14.7h0m-.3-21.3h0m1.5 6.1h0m-.8 18.2h0m2.5-20.8h0m-2.3 6.7h0m1.3-10.2h0m-.3 .9h0m-.4-2.2h0m-2.2 5h0m.4-3.6h0m3.9 3h0m-1.9 4.1h0m-4.7-4h0m5.2 2h0m-2.6-5.8h0m3.5 4.6h0m-3.4-3.8h0m1.7 3.5h0m.2-1.4h0m-1.1 18h0m-.1 2.1h0m1.3-20.2h0m-1.6 20.4h0m.2-6.9h0m-.1 6.4h0m-3-19.6h0m5.9-.6h0m-3-3.2h0m2 4.4h0m-1-.1h0m1.4-1.5h0m-2.3 10.7h0" stroke-opacity="0.75"/>
<rect x="86.9" y="218.8" width="33.8" height="5.8" fill="#d2d2d2"/>
<text x="103.8" y="223.3" font-size="4.9" text-anchor="middle" font-style="italic" fill="#333">CD44</text>
<path d="M88.2 256L98.2 256L98.2 255.4L98.2 254.75L95.4 251.08L95.4 230.99L93.8 229.91L92.6 229.91L91 230.99L91 251.08L88.2 254.75L88.2 255.4Z" fill="#c8661c" stroke="#1a1a1a" stroke-width="0.4"/>
<path d="M89.1 254.5L97.3 254.5L94.7 251.58L91.7 251.58Z" fill="#fff"/>
<path d="M93.2 254.5V251.58" stroke="#c8661c" stroke-width="1.1" stroke-dasharray="0.9 0.5"/>
<path stroke="#fff" stroke-width="0.6" stroke-linecap="round" d="M94.3 255.7h0m-3-23.8h0m.8-.2h0m1 15.3h0m.7-13.7h0m-2.3 4.4h0m1.2 2.6h0m2.1 10.6h0m-1.9-14.5h0m4.7 19.3h0m-4.8-5h0m2.2 4.3h0m-3-17.4h0m.3-3h0m0-3.3h0m0 23.2h0m-1-19.2h0m3.8-2.8h0m-.3 .1h0m-1.9 13.1h0m-1.7-3.2h0m3.3-.6h0m-1.7-.4h0m.7-7.5h0m1.3-1.7h0m-.6 22.7h0m.8-6.2h0m-3.3-17.3h0m1.3 18h0m1.6-5h0m-1.5 3h0m0-13.5h0m-.5 20.8h0m.8-8.9h0m-1.8-11.5h0" stroke-opacity="0.55"/>
<path stroke="#111" stroke-width="0.56" stroke-linecap="round" d="M91.4 249.9h0m2.3 4.9h0m-2.3-4.4h0m2.6-14.6h0m-1.9 4.8h0m-.2 9.2h0m3.1-10.3h0m-3.4 1h0m3.7-3.6h0m-2.4 7h0m.3-8.1h0m.4 7.3h0m.5 5.1h0m-1.4-15.6h0m.2 11.3h0m.7-9.9h0m-1.2 4h0m1.9-1h0m-2.1 17.5h0m-.7-12.4h0m.7 13.1h0m-.3-18h0m.9-5.5h0m4.1 24.1h0m-2.6-5.3h0m-1.1-6.8h0m-.2-3.7h0m1-4.9h0m1 4.6h0m-3.3 9.2h0m-.8 6h0m1.2-4.4h0m1.4 4.9h0m-2.1-24.6h0m3 18.1h0m-.4-10.8h0m-2.5 8.6h0m.2-5.5h0m3.2 9.4h0m-.4-2.7h0m-1-8.3h0m-.1 16.3h0m1.2-15.1h0m-2.1-5.9h0m-2.1 20.5h0m3.8-8.4h0m1.2-4.5h0m-.5 8.1h0m-2.6 5.1h0m-2.1-.5h0m1.2-19.9h0m3 12.9h0m-3.4 6.9h0m2.8-20h0m1.5-2.5h0" stroke-opacity="0.75"/>
<path d="M98.7 256L108.7 256L108.7 255.4L108.7 254.75L106.54 250L106.94 244.6L106.94 235.96L106.14 229.48L104.5 226.67L102.9 226.67L101.26 229.48L100.46 235.96L100.46 244.6L100.86 250L98.7 254.75L98.7 255.4Z" fill="#4b94c2" stroke="#1a1a1a" stroke-width="0.4"/>
<path d="M99.6 254.5L107.8 254.5L105.84 250.5L101.56 250.5Z" fill="#fff"/>
<path d="M103.7 254.5V250.5" stroke="#4b94c2" stroke-width="1.1" stroke-dasharray="0.9 0.5"/>
<path stroke="#fff" stroke-width="0.6" stroke-linecap="round" d="M103.3 246.8h0m-.8 1.5h0m2.1 6.4h0m-.6-5h0m1.5-3.7h0m-1-7.2h0m-2.1-.8h0m3.2 17.3h0m-.9-27.1h0m-.2 13.4h0m2 8.2h0m-.8-10.4h0m-5 5h0m1.2-14.1h0m1.6 13h0m2.7-5.4h0m-5.3 1.2h0m1.1 5h0m.1-2.3h0m1.8-13.2h0m-1.6 3.4h0m-.6 13.5h0m-.6 1.5h0m-.5-.7h0m4.2-8.5h0m.5-6.7h0m1.1 5.1h0m.2 1.6h0m-.2 4h0m-3-9.6h0m-.3 7.7h0m2.8-8h0m.6 7.5h0m-.4 9h0m-3.3 7.4h0m2.2-23h0m-2 4.1h0m0 17.9h0m0-26.9h0m-2.4 16h0m1.6 10.9h0m-.9 .8h0m4.8-18.3h0" stroke-opacity="0.55"/>
<path stroke="#111" stroke-width="0.56" stroke-linecap="round" d="M103.9 231.2h0m.6 4.6h0m-3.9 2.9h0m3.6-8.5h0m.1 3h0m1 4.4h0m-.1-1.4h0m-1.2 6.1h0m1.6-5.6h0m1-1.8h0m-6 .9h0m1.1 3.8h0m-.7 6.5h0m3.7-16.1h0m.6 15.8h0m-.2-.1h0m-1.3-8.8h0m.9-7.6h0m3 25.7h0m-4.4-13.5h0m-2.8-3.3h0m4.3 6.6h0m2-8.7h0m-4.9-5.7h0m2.7 16.7h0m.9-12.1h0m-4.4 .4h0m-.3 8.6h0m1.7-1.3h0m-.8 13.1h0m-1.1-14.5h0m4.3-3.4h0m.7-4.1h0m-1.6-6h0m-1.2 17.2h0m4.1 9.8h0m-1.9-22.7h0m-2 4h0m-2.4 .1h0m-.2 18.7h0m4.8-20.8h0m-2.3-3h0m2.5 8.9h0m1.3 .2h0m-2.9-3h0m1.7 18.5h0m-4.1-8.9h0m2.1-7.7h0m-2.9 2.5h0m.6 5h0m-.5-.2h0m5.6-11.3h0m.1 13.4h0m-4.3-17.7h0m0 2.4h0m2.7-1h0m.7 3.7h0m-4.6-1.2h0m2.4-3.9h0m-.9 10.1h0m3.1-10.2h0m-1-3.1h0m-.2 9h0m-1.5 8h0m-.6-3.2h0m.7-1.6h0m-1.2-7.5h0m.2-.5h0m-1.1 15.1h0m3.4-13h0m3.7 21.2h0m-2.8-16.2h0m-.8-1.1h0" stroke-opacity="0.75"/>
<path d="M113.8 256L114.8 256L114.8 255.4L114.8 253.24L114.9 240.28L116.43 237.04L118 233.8L117.8 230.99L116.3 229.91L112.3 229.91L110.8 230.99L110.6 233.8L112.18 237.04L113.7 240.28L113.8 253.24L113.8 255.4Z" fill="#3c1462" stroke="#1a1a1a" stroke-width="0.4"/>
<path stroke="#fff" stroke-width="0.6" stroke-linecap="round" d="M115.2 234.5h0m1-1.1h0m.1-2.2h0m-4.6 3.7h0m2.2 18h0m2.6-17.3h0m-3.5-4.6h0m-.2 6.4h0m1.2-1.4h0m-2-4.6h0m2.4 14.4h0m-2.5-13.8h0m.3 .4h0m3.7-1.8h0m-.6 1.2h0m-1.3-.2h0m.2 7.1h0m1.8-4.9h0m-4.1-2.2h0m2.5 21h0m-3.7-20h0" stroke-opacity="0.55"/>
<path stroke="#111" stroke-width="0.56" stroke-linecap="round" d="M112.8 232.8h0m1 13h0m1.6-8h0m-1 3.7h0m0 7.7h0m-.5 5.1h0m1-16.8h0m.5-4.3h0m-2.7 3.4h0m1.3 5.5h0m.3 2.2h0m-1.2-6.1h0m.6-1h0m2-1.4h0m-4.5-3.1h0m1 .6h0m2 17.1h0m1.2-19.8h0m.4 1.8h0m.3-.3h0m-1.7 3.4h0m1 1.4h0m-2.8-2h0m.7 4.3h0m2.9-5.2h0m-1.4 9.4h0m-2.1-9.1h0m2.5-3.5h0m2.1 1.9h0m-.1-.4h0m-2.5 23.5h0m-.1 0h0m-3.2-22.3h0m.6 1.3h0m1.5-3.3h0" stroke-opacity="0.75"/>
<rect x="130" y="218.8" width="33.8" height="5.8" fill="#d2d2d2"/>
<text x="146.9" y="223.3" font-size="4.9" text-anchor="middle" font-style="italic" fill="#333">NCAM1</text>
<path d="M131.3 256L141.3 256L141.3 255.4L141.3 254.21L137.2 254.1L137.2 232.29L136.6 231.64L136 231.64L135.4 232.29L135.4 254.1L131.3 254.21L131.3 255.4Z" fill="#c8661c" stroke="#1a1a1a" stroke-width="0.4"/>
<path stroke="#fff" stroke-width="0.6" stroke-linecap="round" d="M137.1 235.3h0m-.7 18.4h0m-.6-20.4h0m1.1 8.5h0m1.3 14h0m-1.5-16.5h0m1.6 15.8h0m-1.4-18.7h0m-4.6 18.1h0m4.3-9.3h0m.6 3.1h0m-1.8-.4h0m1.2-2.8h0m2.3 9.3h0m1.8 0h0m-4.7-4h0m1-.7h0" stroke-opacity="0.55"/>
<path stroke="#111" stroke-width="0.56" stroke-linecap="round" d="M135.7 239.5h0m0 5.6h0m1.4-5.1h0m.1 2.7h0m-.6 12.4h0m-1.2-2.8h0m1.7-8h0m-1.2 3.4h0m3.9 7.3h0m-7.9 .7h0m4.7-8.7h0m-.1 8.9h0m.5-.1h0m-.8-23.2h0m.2 4h0m1.7 17.5h0m-1.7-9.6h0m-.9-4.3h0m-2.1 14.3h0m2-20.6h0m5.8 20.8h0m-4.2-14.1h0m-.9 1.4h0m-.1-2.1h0m1.5 15.1h0m1.6-.1h0m-2.4-18.4h0m-.9 9.8h0m-.2-11.4h0" stroke-opacity="0.75"/>
<path d="M141.8 256L151.8 256L151.8 255.4L151.8 254.75L147.8 248.49L147.8 232.29L147.1 231.64L146.5 231.64L145.8 232.29L145.8 248.49L141.8 254.75L141.8 255.4Z" fill="#4b94c2" stroke="#1a1a1a" stroke-width="0.4"/>
<path d="M142.7 254.5L150.9 254.5L147.1 248.99L146.5 248.99Z" fill="#fff"/>
<path d="M146.8 254.5V248.99" stroke="#4b94c2" stroke-width="1.1" stroke-dasharray="0.9 0.5"/>
<path stroke="#fff" stroke-width="0.6" stroke-linecap="round" d="M147.4 234.1h0m0 5.6h0m3.9 16.2h0m-4.9-12.5h0m1 11.1h0m-1.1-14h0m2.9 14.6h0m-2-17h0m.5 3.3h0m-.3 3h0m-.7 2.9h0m-4.1 7.5h0m3.5 .7h0m-.1-9.1h0m1.6 9.4h0m-.4-20h0" stroke-opacity="0.55"/>
<path stroke="#111" stroke-width="0.56" stroke-linecap="round" d="M147.1 255.5h0m3.7 .1h0m-4-1.1h0m-.5-10.8h0m-1.6 11.6h0m5.5 .1h0m-7.3-.3h0m-.7 .2h0m3.8-16.1h0m.4 15.4h0m.1-13.4h0m.6 6.8h0m-.8-12.2h0m.7-2.4h0m.7-.5h0m-.4 2.1h0m-3.7 20.4h0m3.1 .6h0m-3-1.5h0m2.8-11.5h0" stroke-opacity="0.75"/>
<path d="M155.4 256L159.4 256L159.4 255.4L159.4 254.32L158.2 251.08L158.2 248.92L158.6 246.76L159.88 242.44L161.24 238.12L160.9 233.8L159.4 231.64L157.9 230.78L156.9 230.78L155.4 231.64L153.9 233.8L153.56 238.12L154.92 242.44L156.2 246.76L156.6 248.92L156.6 251.08L155.4 254.32L155.4 255.4Z" fill="#3c1462" stroke="#1a1a1a" stroke-width="0.4"/>
<path stroke="#fff" stroke-width="0.6" stroke-linecap="round" d="M156.9 254.3h0m.5-13.2h0m-.2-4.6h0m.4 .1h0m.4-1h0m2.1 4.7h0m-4.6-1.5h0m1.3 12.6h0m2.6-9.4h0m-4-1.4h0m-.2-3h0m2.6-1.7h0m.7 9.9h0m.2-7.1h0m-3 2.8h0m1.6-4.9h0m.7 6.1h0m-.5 2.8h0m1.5-7.4h0m1.2-3.5h0m-3.9 .6h0m.9 12.5h0m-.7-5.9h0m3.3-4.1h0m-5.9 1.3h0m5-.6h0m1.6-4.9h0m-3.7-.6h0m-2.5 7.3h0m4.3 13.3h0m-1.4-16.3h0m.3 5.3h0m-2.2-.3h0" stroke-opacity="0.55"/>
<path stroke="#111" stroke-width="0.56" stroke-linecap="round" d="M155.8 253.8h0m1.2-.6h0m2.6-20.3h0m-2.7 6.8h0m1.1 1.2h0m-2.7-3.6h0m-.2 .1h0m.9 17h0m1.4-4.7h0m-.4 1.7h0m.3-11.9h0m2.1 15.6h0m-1.9-4h0m2.4-16h0m-1.1 19.6h0m-3-9.2h0m.9-7.2h0m-.5-6.6h0m-1.7 5.5h0m4.7 2h0m-3.3-2.5h0m1.3-5.3h0m2 22.8h0m-2.4-11.2h0m.6-.8h0m1-3.2h0m.5 5.7h0m.7-8.2h0m-1.5-4h0m.6 23.4h0m-2.6-.9h0m2.2 .7h0m-.2-24.3h0m-1.4 19.7h0m2.7-17.9h0m.8 6.2h0m-2 5.6h0m-2.2-12.8h0m2.5 3.3h0m-1.9 16.3h0m1.6-1.7h0m-2.9-14.3h0m1.7 2h0m.1-6.6h0m1.3 24.2h0m1.7-15.3h0m-1.2 .4h0m-2.6 14.6h0m-1.5-13.1h0m2-10.7h0m1 23.5h0m-3.3-14h0m1.3-1.2h0m1.3 12.6h0m-.8-5.5h0m-2.2-11.6h0" stroke-opacity="0.75"/>
<rect x="173.1" y="218.8" width="33.8" height="5.8" fill="#d2d2d2"/>
<text x="190" y="223.3" font-size="4.9" text-anchor="middle" font-style="italic" fill="#333">BCL11A</text>
<path d="M174.4 256L184.4 256L184.4 255.4L184.4 254.21L180.3 254.1L180.3 234.88L179.7 234.23L179.1 234.23L178.5 234.88L178.5 254.1L174.4 254.21L174.4 255.4Z" fill="#c8661c" stroke="#1a1a1a" stroke-width="0.4"/>
<path stroke="#fff" stroke-width="0.6" stroke-linecap="round" d="M178.8 254.7h0m.9-12h0m-.6 3.1h0m-4.3 9.4h0m3.9-9.7h0m-1.2 10h0m4-.7h0m-4.9 .2h0m3.4-19.1h0m-.1 2.5h0m-.1 9h0m-1.2-2.2h0m1.1 9.9h0m-.5-11.6h0m-3.6 10.8h0" stroke-opacity="0.55"/>
<path stroke="#111" stroke-width="0.56" stroke-linecap="round" d="M178.7 252.8h0m.2-16.2h0m4.4 18.7h0m-3.7-1.5h0m2.5 2h0m-2.5-2h0m-.8-2.9h0m1.3 2.2h0m-1.3-10.9h0m-3.7 13.1h0m4.8-15.4h0m-4.2 15.4h0m1.6 .6h0m3.6-1.7h0m-.8-.1h0m-.7-5.2h0m4.1 6.4h0m-3.7-17.9h0m-.5-1.8h0m.2 1.3h0m-2.5 17.8h0m5 .9h0m-3.3-19.5h0m.4 8h0m-3.8 11.5h0m3.1-1.1h0" stroke-opacity="0.75"/>
<path d="M184.9 256L194.9 256L194.9 255.4L194.9 254.75L190.9 248.49L190.9 229.48L190.2 228.83L189.6 228.83L188.9 229.48L188.9 248.49L184.9 254.75L184.9 255.4Z" fill="#4b94c2" stroke="#1a1a1a" stroke-width="0.4"/>
<path d="M185.8 254.5L194 254.5L190.2 248.99L189.6 248.99Z" fill="#fff"/>
<path d="M189.9 254.5V248.99" stroke="#4b94c2" stroke-width="1.1" stroke-dasharray="0.9 0.5"/>
<path stroke="#fff" stroke-width="0.6" stroke-linecap="round" d="M189 243.6h0m.9 11.8h0m-2 0h0m2.8-8.8h0m-.3-3.8h0m.5-3h0m-.6 .3h0m-.3 5.3h0m.9 2.9h0m-2.4 6.9h0m.7-15.3h0m.7-3.7h0m-.1-2.5h0m0 4.2h0" stroke-opacity="0.55"/>
<path stroke="#111" stroke-width="0.56" stroke-linecap="round" d="M189.3 238.1h0m.1 17.8h0m-.4-13.9h0m1.9-11.4h0m-1 11.3h0m-.6 .7h0m1.5-5.9h0m-1.8 7.1h0m1.5-13.2h0m-1.5 6.5h0m1.7 7.1h0m0-4.9h0m-1.8 4.4h0m.4 1.5h0m-3.6 10.5h0m3.2-15.8h0m-.7 14.7h0m1.2-25.4h0m-.1 17.3h0m1.2-10.9h0m.2-2h0m-1.4 13.5h0m.2-9.2h0m-.5-7.9h0m4.2 25.3h0m.3 .3h0" stroke-opacity="0.75"/>
<path d="M197.95 256L203.05 256L203.05 255.4L203.05 254.32L202 252.16L203.66 246.76L204.88 240.28L204.68 235.96L202.98 233.8L201.5 232.72L199.5 232.72L198.02 233.8L196.32 235.96L196.12 240.28L197.34 246.76L199 252.16L197.95 254.32L197.95 255.4Z" fill="#3c1462" stroke="#1a1a1a" stroke-width="0.4"/>
<path stroke="#fff" stroke-width="0.6" stroke-linecap="round" d="M201.5 249.7h0m2.7-8.8h0m-2.6-4.8h0m-4.3 4h0m4.7 3.6h0m.4-6.8h0m-2.8 1.5h0m3.2-4.1h0m-5.2 .5h0m2.9 16.2h0m-.4 4.2h0m3.1-18.9h0m1.2 5.4h0m-.2-2.2h0m-5.4-4.4h0m5.2 3.8h0m-1.2 16h0m1.2-16.4h0m-1.6 2.4h0m-4 1.5h0m2.6-5h0m.1 15.2h0m-2.1-11.2h0m.8 5.3h0m-2.5-10.2h0m5.4 10.4h0m-3.6-3h0m-.1-3.6h0m4.2 2.8h0m-.3-3.9h0m-4.6 15.1h0m.5-3.7h0m-.7-13.5h0m1.1 11.3h0m.6-1.2h0m-1.9-4.9h0m0-.2h0m1.1 6.2h0m5-4.1h0m-6.2 3.1h0m.6-13.4h0m2.8 11.6h0m2.4-10.3h0" stroke-opacity="0.55"/>
<path stroke="#111" stroke-width="0.56" stroke-linecap="round" d="M199.9 238.1h0m-2.4-1.6h0m-.1 4.6h0m5.1 14.6h0m-3.6-14.1h0m-2.1-.8h0m4.5 6.8h0m-.6-14.1h0m1.8 12.3h0m-2.7-9.5h0m-1.3 10.3h0m.5 4.1h0m-.8-15.2h0m-.7 1.6h0m-.5 5.9h0m5.4 3.7h0m-.1-10.1h0m-3.9 13.1h0m3.4-.6h0m-4.6-4.6h0m2.9-2.1h0m4.2-5.9h0m-1.4 10.2h0m-5.7-2.3h0m3.9 5h0m1.9-15.2h0m0 8.7h0m-2.8-3.4h0m.8 16.3h0m2.5-17.9h0m-1.8 15.6h0m-4.5-11.9h0m5.5 4.5h0m0-7.3h0m-5.1-3.3h0m3.8 4.1h0m-1.8 8.3h0m-2-3.2h0m1.3-.8h0m2.8 5.3h0m.8-6.5h0m-2.5 13.2h0m-.6-.7h0m-1.8-19h0m4.9 2.6h0m-1.4 5.4h0m2.2-3.1h0m-1.6 11.8h0m-5.2-13.8h0m4.2 3.1h0m-2.9-2.6h0m2 7h0m4-7.1h0m-5.4 5.1h0m-1.1-4.8h0m7.4-1.4h0m-3.2 14.3h0m1-18.2h0m.6 8.3h0m1.1-4.3h0m-2.2 7.3h0m.5-11.1h0m-4.4 12.8h0m3-5.5h0m-1.9 10.2h0m3.3-11.5h0m1.7-2.8h0m-4.8-2h0m1 5.5h0m-.3 5.8h0m-1.9-2.2h0m2.9-10.6h0m-3.8 6.5h0" stroke-opacity="0.75"/>
<rect x="216.2" y="218.8" width="33.8" height="5.8" fill="#d2d2d2"/>
<text x="233.1" y="223.3" font-size="4.9" text-anchor="middle" font-style="italic" fill="#333">GATA2</text>
<path d="M217.5 256L227.5 256L227.5 255.4L227.5 254.21L223.4 254.1L223.4 235.96L222.8 235.31L222.2 235.31L221.6 235.96L221.6 254.1L217.5 254.21L217.5 255.4Z" fill="#c8661c" stroke="#1a1a1a" stroke-width="0.4"/>
<path stroke="#fff" stroke-width="0.6" stroke-linecap="round" d="M222.2 250h0m1.1-6.7h0m-.1 2h0m-1.6-5.9h0m1.6 10.9h0m-1.5-12.6h0m1.6 3.7h0m-.5 13h0m-.2 0h0m.3-16.7h0m0 1.3h0m-.7 10.6h0m1.1-8.5h0m-1.4 1.5h0m-.1 2.1h0" stroke-opacity="0.55"/>
<path stroke="#111" stroke-width="0.56" stroke-linecap="round" d="M222.2 247.1h0m-2.8 8h0m3.9-1.9h0m-1.1-3.7h0m.5-4.8h0m-.9 3.4h0m1.5 4.2h0m-5.1 3h0m2.1-.2h0m1.5-3.1h0m5.3 3.2h0m-4.1-1.5h0m.3-9h0m-1-3.7h0m3.7 13.5h0m-4-1.4h0m2.6 1.9h0m-1.3-13.1h0m-.8 10.2h0m.9 1.7h0m-1.5-1.7h0m.9-8.1h0m.6 10.4h0m4.1 .4h0m-9.3-.4h0" stroke-opacity="0.75"/>
<path d="M230 256L236 256L236 255.4L236 254.75L234 248.49L234 235.96L233.3 235.31L232.7 235.31L232 235.96L232 248.49L230 254.75L230 255.4Z" fill="#4b94c2" stroke="#1a1a1a" stroke-width="0.4"/>
<path stroke="#fff" stroke-width="0.6" stroke-linecap="round" d="M232.9 245.8h0m.1-6.3h0m-.3 5h0m-.6 10.2h0m.8-14.1h0m1.3 13.5h0m-1-6.8h0m.8-.1h0m1.7 8.5h0m-3.5-19.4h0m1.7 18.4h0m-1.6-8.5h0m1.4-5.5h0m-1.1 4h0m1-3.3h0m-.4 13.8h0m-1-8.8h0" stroke-opacity="0.55"/>
<path stroke="#111" stroke-width="0.56" stroke-linecap="round" d="M232.4 241.5h0m1.3 5.5h0m.2-1.7h0m-1.5-7.6h0m.1 10.9h0m-.4-11.6h0m.6 11.3h0m-1.2 6.1h0m3.6-.1h0m-2.5-13.1h0m1.1 2.2h0m-1 1h0m2.8 11.1h0m-2.4-7.7h0m-1.5 7.2h0m1.3-1.5h0m1.1-16.7h0m-.8 19.2h0m.6-3.9h0m-.2-3.8h0m0 3h0m-.3-10.1h0m.2-.2h0m-.3-.9h0m-1 13.1h0m1.5-12.1h0m.7 14.4h0m.2 .1h0m-1.5-6.6h0" stroke-opacity="0.75"/>
<path d="M239.35 256L247.85 256L247.85 255.4L247.85 254.75L245.6 252.16L246.76 248.92L247.98 242.44L247.44 237.04L245.6 234.88L241.6 234.88L239.76 237.04L239.22 242.44L240.44 248.92L241.6 252.16L239.35 254.75L239.35 255.4Z" fill="#3c1462" stroke="#1a1a1a" stroke-width="0.4"/>
<path d="M240.25 254.5L246.95 254.5L244.9 252.66L242.3 252.66Z" fill="#fff"/>
<path d="M243.6 254.5V252.66" stroke="#3c1462" stroke-width="1.1" stroke-dasharray="0.9 0.5"/>
<path stroke="#fff" stroke-width="0.6" stroke-linecap="round" d="M240.4 240.1h0m2.6 7h0m4 .1h0m-7.2-4.4h0m7.3-3.2h0m-5.6 11.4h0m2.6-5.5h0m-2.2 2.5h0m3.4-7.5h0m-2.2-3.3h0m-.7 8.9h0m-3 8.8h0m6.3-19.7h0m-2.1 8h0m-1.1-7.9h0m2.2 14.7h0m-.3-11.7h0m-1.9 6.8h0m-.4-2.6h0m2.9 2.8h0m-1.9-3.7h0m-2.6 2.1h0m7.1-1.9h0m-6.6 7.2h0m.9-10.1h0m-.9 2.3h0m.3 1.8h0m4.1-1.3h0m0-4.6h0m-5.3 7.4h0m5.4-5.3h0m-4 9.1h0m-1-8.4h0m5 9.5h0m-5.6-3.6h0m5.6 9.9h0m-1.5-14.1h0m-3.1 0h0m1.8-6.2h0m2.7 14.4h0" stroke-opacity="0.55"/>
<path stroke="#111" stroke-width="0.56" stroke-linecap="round" d="M247.9 242.3h0m-6.6 5.7h0m-1.4-8.6h0m6.8-2.8h0m-2.9 10.4h0m2.9-9h0m-.3 4.7h0m.8 .6h0m-4.4-2.6h0m2.5 9.2h0m-1.7-11.1h0m-3.8 2h0m4.7 1.2h0m1-2h0m-.3 6.5h0m-.2-10.6h0m-2.2 3.6h0m-2.1 16h0m6.5-12.9h0m-6.3-3.7h0m1.3 2.3h0m-2.6 0h0m4-4.3h0m.2 .5h0m1.5 4.9h0m1.9-4.6h0m-3 7.8h0m1.3-8.4h0m-.8 4.6h0m-3.8 6.6h0m.4-8h0m2.7 9.5h0m-1-3.9h0m1.7-2.9h0m-.8 6.3h0m-2.9-4.5h0m4.1-2.7h0m-3.9 7.7h0m1.9 4.8h0m2.4-13.2h0m-.9 3.8h0m-2.6 5.3h0m5-12.2h0m-.5 17.1h0m-6.3-17.8h0m7.4 1.6h0m-6.5 1.2h0m2.8-.1h0m-3.1-1.2h0m5.1 2.5h0m-3-2.1h0m1.7 2.3h0m-4.9-.5h0m-.2 2.5h0m6.6-2.2h0m-5-.8h0m4.9 9.3h0m-1-3.7h0m.8 4.6h0m-4-7.2h0m3.1-2.6h0" stroke-opacity="0.75"/>
<rect x="259.3" y="218.8" width="33.8" height="5.8" fill="#d2d2d2"/>
<text x="276.2" y="223.3" font-size="4.9" text-anchor="middle" font-style="italic" fill="#333">CD33</text>
<path d="M260.6 256L270.6 256L270.6 255.4L270.6 254.21L266.5 254.1L266.5 234.88L265.9 234.23L265.3 234.23L264.7 234.88L264.7 254.1L260.6 254.21L260.6 255.4Z" fill="#c8661c" stroke="#1a1a1a" stroke-width="0.4"/>
<path stroke="#fff" stroke-width="0.6" stroke-linecap="round" d="M263.7 254.4h0m1.2-12.2h0m.9 10.9h0m2.4 1.8h0m-3.3 .8h0m.9-12.9h0m-.6 12.4h0m1.3-5.6h0m-.5-4.1h0m-1 9.5h0m.6-20.3h0m-.5 19.2h0m-.1-13h0m1.1-1.6h0m-.7 1.3h0" stroke-opacity="0.55"/>
<path stroke="#111" stroke-width="0.56" stroke-linecap="round" d="M266.3 251h0m-.8-14.2h0m-.3-2.1h0m.1 10.4h0m.1 6.1h0m1.3 4.7h0m-.8-10.6h0m-.8-4.8h0m-.1 13.9h0m.9-19.6h0m-.4 3.3h0m-.5 5.2h0m.4 9.3h0m2.1 1.9h0m-2.1-2.4h0m-.5-6.6h0m-.2-.8h0m4.1 10.7h0m-2.7-19.4h0m-.3 19.1h0m-.8-20.2h0m1.4 5.2h0m1.2 14.5h0m-2.6-.5h0m1.7 1.2h0m-.7-.6h0" stroke-opacity="0.75"/>
<path d="M271.1 256L281.1 256L281.1 255.4L281.1 254.75L277.1 248.49L277.1 234.02L276.4 233.37L275.8 233.37L275.1 234.02L275.1 248.49L271.1 254.75L271.1 255.4Z" fill="#4b94c2" stroke="#1a1a1a" stroke-width="0.4"/>
<path d="M272 254.5L280.2 254.5L276.4 248.99L275.8 248.99Z" fill="#fff"/>
<path d="M276.1 254.5V248.99" stroke="#4b94c2" stroke-width="1.1" stroke-dasharray="0.9 0.5"/>
<path stroke="#fff" stroke-width="0.6" stroke-linecap="round" d="M275.7 238.4h0m2 16.8h0m-2.3-8.6h0m-.1 1.7h0m-.2-11.8h0m5.9 18.7h0m-5.6-21.4h0m.2 8.1h0m.9-1.8h0m-3.1 15.3h0m2.2-7.1h0m.1-9.9h0" stroke-opacity="0.55"/>
<path stroke="#111" stroke-width="0.56" stroke-linecap="round" d="M275.5 235.4h0m.1 7.9h0m-2.4 12.6h0m.9 0h0m1.7-22h0m0 9.1h0m.2-2.8h0m-1.7 14.8h0m.9-15.6h0m.9 .6h0m-.1 15.4h0m.1-9.6h0m-.6-6.7h0m-.2 4h0m1.5 12.9h0m-.4-18.1h0m-.4-3.9h0m.5 21.2h0m.4-8.4h0m-.5-3.6h0m-.9-6.1h0" stroke-opacity="0.75"/>
<path d="M285.7 256L287.7 256L287.7 255.4L287.7 254.54L287.2 253.67L287.3 246.76L289.18 242.44L291.08 237.04L290.54 233.8L288.7 232.72L284.7 232.72L282.86 233.8L282.32 237.04L284.22 242.44L286.1 246.76L286.2 253.67L285.7 254.54L285.7 255.4Z" fill="#3c1462" stroke="#1a1a1a" stroke-width="0.4"/>
<path stroke="#fff" stroke-width="0.6" stroke-linecap="round" d="M287.3 243.3h0m-3.8-8.5h0m4.4 2.7h0m-5-1.3h0m-.1 1.8h0m3.2-2.4h0m1.1 2h0m-.4 9.9h0m-.3-13.1h0m-3.9 1.8h0m3.7 19.7h0m.7-12.5h0m2.3-8.4h0m-4.1-1.5h0m5.2 1.9h0m-1.5-.3h0m-3.7-1.6h0m2.2 4.8h0m2.3-4.8h0m-5.2 .6h0m-1.1 2h0m.7 4.1h0m.4 .1h0m4.7 .7h0m-1.8 14.8h0m-4-18.4h0m1.4 4.8h0m1.8 13.2h0" stroke-opacity="0.55"/>
<path stroke="#111" stroke-width="0.56" stroke-linecap="round" d="M288.2 240.4h0m-4.8-4.3h0m.7-.2h0m1.1 3.6h0m.3 1h0m1.8-2.4h0m-.3-1.6h0m-1 8h0m.3-11.3h0m-.4 5h0m3 .2h0m-2.5 1.3h0m-2.4-2.6h0m1.5 3.7h0m-2.1-6.4h0m3.4 13.2h0m-2.1-11.6h0m1.9 10.3h0m.8-13h0m-2.3 8.9h0m-1.6-7.2h0m7.1-.8h0m-6.2 5.8h0m2.8 4h0m-.4 10.5h0m3.1-17.4h0m-5.4-1.3h0m-.4-1.4h0m2.8 7.6h0m-1-5.8h0m1 16.9h0m.1 1.8h0m-.1-1.7h0m-.8-9.1h0m2.4-10.1h0m.8 1.2h0m-5.9 0h0m3.1 19.1h0m-3-15.2h0m5.7-2.7h0m-5.5 .8h0m0 0h0m6.8-2.1h0m-3.6-.1h0m.7 5.5h0m.8-.2h0m-.8 14.5h0" stroke-opacity="0.75"/>
<path d="M43.5 225V256.6" stroke="#000" stroke-width="0.6"/>
<path d="M41.8 233.8H43.5" stroke="#000" stroke-width="0.45"/>
<text x="40.6" y="235.3" font-size="4.3" textLength="4.3" lengthAdjust="spacingAndGlyphs" text-anchor="end" fill="#383838">10</text>
<path d="M41.8 244.6H43.5" stroke="#000" stroke-width="0.45"/>
<text x="40.6" y="246.1" font-size="4.3" textLength="2.15" lengthAdjust="spacingAndGlyphs" text-anchor="end" fill="#383838">5</text>
<path d="M41.8 255.4H43.5" stroke="#000" stroke-width="0.45"/>
<text x="40.6" y="256.9" font-size="4.3" textLength="2.15" lengthAdjust="spacingAndGlyphs" text-anchor="end" fill="#383838">0</text>
<rect x="43.8" y="259.3" width="33.8" height="5.3" fill="#d2d2d2"/>
<text x="60.7" y="263.3" font-size="4.9" text-anchor="middle" font-style="italic" fill="#333">IL7R</text>
<path d="M45.1 295.8L55.1 295.8L55.1 295.2L55.1 294.34L52.1 293.05L52.54 284.45L54.54 278L55.74 272.62L54.54 269.4L51.6 267.25L48.6 267.25L45.66 269.4L44.46 272.62L45.66 278L47.66 284.45L48.1 293.05L45.1 294.34L45.1 295.2Z" fill="#c8661c" stroke="#1a1a1a" stroke-width="0.4"/>
<path d="M46 294.09L54.2 294.09L51.4 293.55L48.8 293.55Z" fill="#fff"/>
<path d="M50.1 294.09V293.55" stroke="#c8661c" stroke-width="1.1" stroke-dasharray="0.9 0.5"/>
<path stroke="#fff" stroke-width="0.6" stroke-linecap="round" d="M50 291.7h0m1-19.3h0m1.4-1.4h0m-3.9 2.7h0m2.1 14.2h0m-.7 3.9h0m3.1-11.5h0m-1.1-8.7h0m-1.5 16.5h0m-1.4-11.8h0m-1.1 5.5h0m4.1-13.6h0m-2.3 21.9h0m-.8 5.1h0m5.2-17.8h0m-2.9 11h0m.9 6.6h0m-4.8-23h0m6.3 5.6h0m.9-.8h0m-2.5 11.6h0m-2-20h0m2.4 15.5h0m1.9-7.3h0m-6 15.2h0m1.2-13.7h0m-.4 1.8h0m2.7-5.3h0m-3.5-3.2h0m-2 .8h0m5.8 20h0m2.2-14.3h0m-3.8 12.6h0m-4-18.7h0m1.3-1.6h0m.7 2.3h0m1.4 15.3h0m-2.4-11.7h0m3.6-7.5h0m-2.3 .6h0m4.5 9.3h0m-4.2 16.4h0m3.1-25.5h0m-3.5 9.2h0m-1.6-9.8h0m3.7 7.6h0m.7 .7h0m-2.3-3.4h0m2.9 10.9h0m1.6-5.3h0m-2.2-6.1h0m-.5 1.8h0m-2.4-1.4h0m0 21.8h0m2.2-24.3h0m-1.9 21.5h0m1.7-24.6h0m1.4 19.1h0m-1.9-6.3h0m.1-9.7h0m1.3 9.8h0" stroke-opacity="0.55"/>
<path stroke="#111" stroke-width="0.56" stroke-linecap="round" d="M53.1 272.8h0m-5.3 .3h0m1.9 2h0m1.6 14.9h0m2.5 4.8h0m-6.1-18.6h0m-.1 2.9h0m3.1-.6h0m-2.2 6.2h0m1.1-3.6h0m-2-8.5h0m-.5 23h0m-1-18h0m4-8.9h0m-1.4-.6h0m1.1 8.1h0m-1.2-7h0m.9 14.6h0m5.7-10.9h0m0 1.3h0m-7 13.7h0m4.4-5.1h0m-3.7-3.7h0m2.6-1.8h0m2 1.9h0m-3.6 9.9h0m1.4 3.3h0m1.1-10.2h0m-5.6-3.8h0m-.5-4.8h0m1.7 8.4h0m.5 5.2h0m-3.2-11.8h0m7.5-3.8h0m-5.1 12h0m1.9-3.1h0m.9-4.7h0m3 18.5h0m-3.7-15.5h0m-1.1-9.1h0m.7 2h0m2.9 10.7h0m1.9-6.2h0m-3-6h0m-1.7 15.9h0m1.3-7.6h0m-4-8.1h0m2.2 8.1h0m2.2-3.1h0m-3.2-5.6h0m4 21.5h0m-4.4 3.8h0m-.2-25.5h0m1.1 25.3h0m2.2-2.2h0m-1.6-12.3h0m2.2 6.4h0m-3.2-12.5h0m5.1-.4h0m-7.9 1.8h0m3 19.8h0m2.6-6.8h0m3.7 6.2h0m-7.2-12.4h0m8-9.1h0m-6.8 7.9h0m.5-11h0m2.7 5.6h0m.8 .3h0m-1.7 14.2h0m.2-19.8h0m.3 12.3h0m3.3-7.5h0m-6.4-3h0m4.3-2.5h0m-4.4 13.8h0m7.1-9h0m-.2-.7h0m-4.3-2h0m1.4 11.2h0m-4.6-12.9h0m.4 11.5h0m4.8 1.4h0m-6.6-4.1h0m1.6 2.2h0m2.6-9.3h0m-5.3 .7h0m7.7 4.3h0m-6.6-5.9h0m5.6 12.5h0m-1.7-14.7h0m.6 13.2h0m.9-2.3h0m-1.2 7.5h0m1.2-17.8h0m-.2 7.8h0m-2.6 14.1h0m2.3-2h0" stroke-opacity="0.75"/>
<path d="M55.1 295.8L66.1 295.8L66.1 295.2L66.1 294.56L63.44 289.82L63.44 284.45L63.44 271.55L62.1 267.25L61 266.18L60.2 266.18L59.1 267.25L57.76 271.55L57.76 284.45L57.76 289.82L55.1 294.56L55.1 295.2Z" fill="#4b94c2" stroke="#1a1a1a" stroke-width="0.4"/>
<path d="M56 294.31L65.2 294.31L62.74 290.32L58.46 290.32Z" fill="#fff"/>
<path d="M60.6 294.31V290.32" stroke="#4b94c2" stroke-width="1.1" stroke-dasharray="0.9 0.5"/>
<path stroke="#fff" stroke-width="0.6" stroke-linecap="round" d="M63.3 271.5h0m-3.2 8.8h0m0-8.4h0m3 13.4h0m-2 9.7h0m1-7.8h0m-4.1-14.5h0m.1-1.1h0m.5 2.7h0m4.5 10.3h0m-.6 5.1h0m.7-6.6h0m-1 1.3h0m-4.3 10.5h0m3.6-17.3h0m-1.3 7.1h0m2.1-13h0m-5.9 23.7h0m2.5-15.2h0m.6-10.3h0m2.1 .8h0m-3.2 12.1h0m.2-8h0m2.4 .2h0m-3.7 19.7h0m1.3-24.7h0m4.2 16h0m-3.2-2.9h0m-1.5-4.4h0m1.3-9.2h0m1 10.2h0m2 2.5h0m-1.9-11.3h0m1.7 6.3h0m-2.8 8.8h0m1.8-5.8h0m-1.3 9.5h0m2-8.2h0m-.7 3.7h0m1.4 1.1h0m-4.7-.8h0m3.8 2.3h0m-3.4-5.1h0m3.3-3.7h0m-3.1 4.9h0m3.5-3.8h0" stroke-opacity="0.55"/>
<path stroke="#111" stroke-width="0.56" stroke-linecap="round" d="M63 295h0m-1-8.1h0m.8-9.6h0m-2.2 6.2h0m2.2 2.2h0m-3.2-10.7h0m3-2.3h0m-1.5 11h0m-1.3-2h0m-.3-6.1h0m-.7 9.2h0m4.5-6.9h0m-8.2 16.8h0m7.6-5.5h0m-4.2-12.7h0m3.1-1.7h0m-2.3 6.6h0m1.5 12.9h0m-2.4 .3h0m-.4-16.2h0m2.9-1.8h0m.4 8.6h0m-1-3.4h0m-.3-14.4h0m2.8 5.1h0m-7.3 23.1h0m5.6-10.1h0m-2-9.7h0m3.3 4.3h0m-3 7.3h0m3.3-10.6h0m.3 11.5h0m-3.3-7.2h0m.5 0h0m1.5-14.1h0m-.7 16.4h0m-2.3-12.6h0m2.6 1.2h0m-.8-2.8h0m.6 15.4h0m.2 4.7h0m.7-19.3h0m-2.2 2.5h0m2.2 16.9h0m-.3-.7h0m1.3-9.8h0m-2.3-12.7h0m-2.3 4.4h0m1.3 24.3h0m1.1-6.6h0m-1.3-.5h0m1.3-21h0m.2 .3h0m-.2 2.4h0m4.2 25.5h0m-7.6 .2h0m5.9-16.6h0m-.7-2.8h0m.6 2.7h0m-4.1 2.6h0m3.8-8.9h0m-.7 3h0m3.8 19.6h0m-5.8 .4h0m1.1-7h0m-2.7-5.3h0m.8 1.6h0m1.2 2.6h0m-1.6-8.6h0m-.6-5.5h0m1.9 7.1h0m-1.7 8.6h0m1.6-3.1h0m.5-10.4h0" stroke-opacity="0.75"/>
<path d="M66.52 295.8L75.87 295.8L75.87 295.2L75.87 294.02L72.1 293.91L72.1 272.19L71.5 271.55L70.9 271.55L70.3 272.19L70.3 293.91L66.52 294.02L66.52 295.2Z" fill="#3c1462" stroke="#1a1a1a" stroke-width="0.4"/>
<path stroke="#fff" stroke-width="0.6" stroke-linecap="round" d="M70.3 292.3h0m-3.5 2h0m8 1.1h0m-3.2-7.5h0m-.3-14.7h0m-3.1 21.4h0m7.5 .4h0m-5.3-18.2h0m1.6 4.7h0m-1.2 3.4h0m1.2 3.2h0m-.4-6.9h0m3.3 13.8h0m-3.7-14.5h0m.6 6.9h0m-1.4 .4h0" stroke-opacity="0.55"/>
<path stroke="#111" stroke-width="0.56" stroke-linecap="round" d="M70.6 290.2h0m1.4-12h0m1.4 17.2h0m-3-13.5h0m.5 7.2h0m.2-7.5h0m4.2 14.1h0m-4.1-9.6h0m2.8 9.1h0m-2.8-18.6h0m4.4 19.2h0m-3.9-10h0m-.3 5.9h0m-.2 3.5h0m.8-6.5h0m-3.4 6.3h0m2.4-18.6h0m.9 .9h0m-1 .3h0m-.5 14.7h0m-3.2 2.1h0m4.7-13.9h0m-.8 14.3h0m.1-14.1h0m.9-6.7h0m-.9 1.7h0m-.8 9.6h0m1.6-10.8h0" stroke-opacity="0.75"/>
<path d="M43.3 296.6H77.8" stroke="#000" stroke-width="0.6"/>
<path d="M50.1 296.6V298.6" stroke="#000" stroke-width="0.45"/>
<text transform="translate(52.7 305.4) rotate(-45)" font-size="4.5" text-anchor="end" fill="#2a2a2a" stroke="#2a2a2a" stroke-width="0.1">Endpoint</text>
<path d="M60.6 296.6V298.6" stroke="#000" stroke-width="0.45"/>
<text transform="translate(63.2 305.4) rotate(-45)" font-size="4.5" text-anchor="end" fill="#2a2a2a" stroke="#2a2a2a" stroke-width="0.1">Root1</text>
<path d="M71.2 296.6V298.6" stroke="#000" stroke-width="0.45"/>
<text transform="translate(73.8 305.4) rotate(-45)" font-size="4.5" text-anchor="end" fill="#2a2a2a" stroke="#2a2a2a" stroke-width="0.1">Root2</text>
<rect x="86.9" y="259.3" width="33.8" height="5.3" fill="#d2d2d2"/>
<text x="103.8" y="263.3" font-size="4.9" text-anchor="middle" font-style="italic" fill="#333">LCK</text>
<path d="M88.2 295.8L98.2 295.8L98.2 295.2L98.2 294.34L95.2 293.05L96.04 282.3L98.04 275.85L98.44 271.55L96.04 268.32L94.2 267.25L92.2 267.25L90.36 268.32L87.96 271.55L88.36 275.85L90.36 282.3L91.2 293.05L88.2 294.34L88.2 295.2Z" fill="#c8661c" stroke="#1a1a1a" stroke-width="0.4"/>
<path d="M89.1 294.09L97.3 294.09L94.5 293.55L91.9 293.55Z" fill="#fff"/>
<path d="M93.2 294.09V293.55" stroke="#c8661c" stroke-width="1.1" stroke-dasharray="0.9 0.5"/>
<path stroke="#fff" stroke-width="0.6" stroke-linecap="round" d="M93.8 272h0m1.5-2.3h0m.8 5.9h0m-5.9 3.5h0m3.7-4.9h0m-2 16.3h0m-1.7-13.8h0m3.1-4.3h0m-2.9-3.2h0m2.7 25.2h0m-4.4-21.3h0m3.5 3.4h0m1.4 3.2h0m0-.1h0m1.5-8h0m-2.5 8.6h0m.9-8.3h0m2 12.8h0m-.1-16.5h0m.5 26h0m-6.5-16.6h0m5.9-3.6h0m-1.8 6.6h0m-1.7 11.1h0m3.8-16.8h0m-1.3 15h0m-1.6-14h0m1.8 16.3h0m2.1-15.3h0m-5.8 .7h0m1.2 .4h0m.7-9h0m3.5 6.9h0m-2.4 3.3h0m-.5-9.6h0m.2 4h0m.8 13.7h0m.7-18.6h0m1.1 25.6h0m-3.4-8.9h0m-.5-6.9h0m-2.2 2.4h0m3.8 .5h0m-1.8 .5h0m2.1-3.2h0m-3.6-.2h0m4.7-9.5h0m1.1 11.6h0m-3.1-11.1h0m.7 5.5h0m-1.9 15.9h0m1.2-12.2h0m.6 3.9h0m-1.7-5.9h0m-1 12.8h0" stroke-opacity="0.55"/>
<path stroke="#111" stroke-width="0.56" stroke-linecap="round" d="M89.5 294.9h0m2.9-19.1h0m1.5-2.3h0m-4 21.4h0m1.8-.1h0m2.1-5.2h0m-.3 2.2h0m.2 3.5h0m-2.6-14.9h0m3.6-8.1h0m-2.6-4.8h0m-1.8 2.6h0m3.7 11.1h0m.9-3.9h0m-2.1 3.6h0m3.6-3.6h0m-3.4-5.1h0m.9-3.3h0m-4.2 26.8h0m-.6-24.1h0m2.9 15h0m2.9 1.4h0m-2.6-4.2h0m1.8-9.1h0m-3.1 5.5h0m2.7-3.9h0m1.7-5.9h0m.4 14.4h0m-1.9 3.7h0m2-15.3h0m.4 2.8h0m-2.2-8.5h0m2.8 9.5h0m-3 .2h0m3.6 18.4h0m-5.2-25h0m1.9 25h0m-.4-7.4h0m-3.9-12.8h0m2.5-.9h0m2.7 4.8h0m-4.2-1.5h0m.2 17.8h0m4.9-13.5h0m-4.2 9.4h0m5.5-15.9h0m-1.7-2.5h0m-.2 11.1h0m-5.6-10.9h0m-1.1-.4h0m3.9 6.7h0m2 3.1h0m-1.4 .1h0m-4.5-11.2h0m3.7 13.8h0m1-6.2h0m1.6 15.4h0m-1.6-14.8h0m-2.2 9.4h0m-.1-6.7h0m.2 12.9h0m-2.1-21.2h0m2.5 9.5h0m.7 5.2h0m4.5-11.1h0m-2-1.1h0m-3.4 3.3h0m2.9-6.5h0m.4-4.7h0m2.9 3.6h0m-2.7 11.1h0m-2.6-13.7h0m1.9 11.2h0m-3.4 1.1h0m-.9-1.4h0m-.6-8.4h0m1.5 4.9h0m3.5 13.1h0m1.8-15.2h0m-1.3 7.6h0m-5-11.4h0m4.9 1.6h0m-3-5.4h0m-.1 26.9h0m0-6.2h0m3.8-14.4h0m-4.9 10h0m3.8-5.4h0m0-3.7h0m-5.6 20.6h0m4.3-.5h0m-.5-26.4h0m3.1 15.5h0m-4.9 3.1h0m5.6-17.4h0m-3 5.9h0m-3.1-4.4h0m2.3 12.7h0" stroke-opacity="0.75"/>
<path d="M98.7 295.8L108.7 295.8L108.7 295.2L108.7 294.56L105.2 288.75L105.2 269.4L104.2 267.25L103.2 267.25L102.2 269.4L102.2 288.75L98.7 294.56L98.7 295.2Z" fill="#4b94c2" stroke="#1a1a1a" stroke-width="0.4"/>
<path d="M99.6 294.31L107.8 294.31L104.5 289.25L102.9 289.25Z" fill="#fff"/>
<path d="M103.7 294.31V289.25" stroke="#4b94c2" stroke-width="1.1" stroke-dasharray="0.9 0.5"/>
<path stroke="#fff" stroke-width="0.6" stroke-linecap="round" d="M101.2 295.3h0m3.3-13.2h0m2.2 13.2h0m-4.3-18.5h0m1.6 9.7h0m-1.4-11h0m.7 12.4h0m-.1-4.4h0m1.2-6.5h0m-1.6-5.5h0m1.2 .7h0m-.3-4.5h0m1.2 9.4h0m-2.6-1.7h0m1.9-5.4h0m.6 13.4h0" stroke-opacity="0.55"/>
<path stroke="#111" stroke-width="0.56" stroke-linecap="round" d="M100.7 295.3h0m1.7 0h0m.5-22.1h0m.4 6h0m1.5 3.5h0m-2.1-13.7h0m5 25.4h0m-4.2-15.6h0m.2-7h0m.1 15.8h0m.9 7.9h0m0-20.7h0m-1.6 4.7h0m1.2-7.5h0m3.7 22.3h0m-4.5-17.5h0m-.7 7.3h0m1.8-3.4h0m-4.7 14h0m3.2-6.6h0m-4.3 6.5h0m5.5 .3h0m-4 .3h0m2.9-20.7h0m0-7.1h0m0 5.7h0m.4 7.2h0m.5-10.8h0m1.1 2.8h0m-1.5 12.7h0m.1 3.2h0m-1.3-9h0m1-11.5h0m1 9.2h0m-1.2-8.8h0m1.5 12.8h0m.4 14.6h0m-.1-17.9h0m2.9 17.7h0m-4.8-15h0" stroke-opacity="0.75"/>
<path d="M110.05 295.8L118.55 295.8L118.55 295.2L118.55 294.56L115.3 288.75L116.78 284.45L118.68 278L118.48 273.7L116.3 271.55L112.3 271.55L110.12 273.7L109.92 278L111.82 284.45L113.3 288.75L110.05 294.56L110.05 295.2Z" fill="#3c1462" stroke="#1a1a1a" stroke-width="0.4"/>
<path d="M110.95 294.31L117.65 294.31L114.6 289.25L114 289.25Z" fill="#fff"/>
<path d="M114.3 294.31V289.25" stroke="#3c1462" stroke-width="1.1" stroke-dasharray="0.9 0.5"/>
<path stroke="#fff" stroke-width="0.6" stroke-linecap="round" d="M114.4 287.5h0m2.2-9.5h0m.9-.1h0m-4-3.5h0m.2 7.3h0m3.8-6.8h0m-6.1 .4h0m.7 9.6h0m2.6-11.7h0m-3.8 .7h0m1.9 5.9h0m4.8 15.4h0m-.8-15.1h0m-1 5.1h0m-4.1-11h0m.2-.8h0m-.2 5.1h0m-.5 16.4h0m2.5 .8h0m2.9-11.1h0m-3.2-2.4h0m4.9-7.5h0m-2.8 8.8h0m-3.3 .6h0m5.3-5.2h0m-.8-1.1h0m-2.9 4.4h0m-.5-4.3h0m4.3 16.9h0m-7.6-18.7h0m4.3 18.8h0m-.3-.5h0m-2.9-15h0m4.7-3.5h0m-.3-2.2h0" stroke-opacity="0.55"/>
<path stroke="#111" stroke-width="0.56" stroke-linecap="round" d="M117.4 280.9h0m-4.6 1.2h0m-.5 3.4h0m-.5-5.6h0m1.6 3.3h0m-.2-3.4h0m1.6-2h0m.2-3.1h0m-.4-.2h0m1.5-.5h0m.6-.5h0m-.9 11.4h0m.4-3.7h0m-.2-.7h0m-3.9 14.8h0m4.9-20.4h0m-1.2 6.3h0m-2.2-8.1h0m-.9 3.9h0m3.5 2h0m.5 5.1h0m-5.2 10.3h0m4.6-11.1h0m-.7-4.3h0m-.1 7.2h0m1.7-4.5h0m-4.5 4.4h0m-.5-13h0m3.3 4.6h0m1.2 4.8h0m-1.6-4.9h0m1 7.8h0m1.9 9.4h0m-2.7-16h0m-3.4 3.3h0m1.1-4.4h0m-.9 17.4h0m2.8-19.2h0m-1.1 10.8h0m2.3-5.8h0m-2.6-8.3h0m-.5 12.2h0m1.5 3.2h0m-3.7 7.7h0m4.9-19.3h0m-.1 17.9h0m-.1-10h0m2.8-10.9h0m-3.9 1.6h0m3 4.6h0m-4.4 14.9h0m2.3-11.7h0m-1.9-.6h0m.4 13h0m2.8-10.5h0m-1.8-3.8h0m-.3-7.3h0m3.2 4.5h0m-4.6 3h0m2.9-8.4h0m-5.7 22.8h0m2.5-14.3h0m5.4-2.9h0m-5.5-5.4h0m1.8 7.6h0" stroke-opacity="0.75"/>
<path d="M86.4 296.6H120.9" stroke="#000" stroke-width="0.6"/>
<path d="M93.2 296.6V298.6" stroke="#000" stroke-width="0.45"/>
<text transform="translate(95.8 305.4) rotate(-45)" font-size="4.5" text-anchor="end" fill="#2a2a2a" stroke="#2a2a2a" stroke-width="0.1">Endpoint</text>
<path d="M103.7 296.6V298.6" stroke="#000" stroke-width="0.45"/>
<text transform="translate(106.3 305.4) rotate(-45)" font-size="4.5" text-anchor="end" fill="#2a2a2a" stroke="#2a2a2a" stroke-width="0.1">Root1</text>
<path d="M114.3 296.6V298.6" stroke="#000" stroke-width="0.45"/>
<text transform="translate(116.9 305.4) rotate(-45)" font-size="4.5" text-anchor="end" fill="#2a2a2a" stroke="#2a2a2a" stroke-width="0.1">Root2</text>
<rect x="130" y="259.3" width="33.8" height="5.3" fill="#d2d2d2"/>
<text x="146.9" y="263.3" font-size="4.9" text-anchor="middle" font-style="italic" fill="#333">BCL11B</text>
<path d="M131.3 295.8L141.3 295.8L141.3 295.2L141.3 294.34L138.3 293.05L139.14 282.3L139.94 275.85L138.3 272.62L136.8 271.55L135.8 271.55L134.3 272.62L132.66 275.85L133.46 282.3L134.3 293.05L131.3 294.34L131.3 295.2Z" fill="#c8661c" stroke="#1a1a1a" stroke-width="0.4"/>
<path d="M132.2 294.09L140.4 294.09L137.6 293.55L135 293.55Z" fill="#fff"/>
<path d="M136.3 294.09V293.55" stroke="#c8661c" stroke-width="1.1" stroke-dasharray="0.9 0.5"/>
<path stroke="#fff" stroke-width="0.6" stroke-linecap="round" d="M135.7 284.5h0m1.3 3.7h0m1-10.8h0m-3.3 13.1h0m-1-7.2h0m.8-7.5h0m4.1 13h0m-6.7 6.6h0m7-10.4h0m-2.6-1h0m-2.1 .4h0m.4-8.5h0m-.7 11.3h0m-.4-10.9h0m3.5 16.6h0m1.4-10.5h0m-1.2-8.5h0m-3.8 5.4h0m4.8 10.6h0m0-15.6h0m-4.2 3.6h0m4.6-.4h0m-1.4-2.7h0m-2.4 20.5h0m4-19.9h0m1.7 18.9h0m-6.8-10.5h0m5-9.5h0m-2.4 5.3h0m-.3 6.1h0m-2.1-2h0m4.6 11.4h0m-5.1 0h0m2.8-14.4h0m-.3-2.6h0m-2.3-1.2h0m3 13.5h0m-3.1-7.9h0m2.1-3.4h0m-.2 6.3h0" stroke-opacity="0.55"/>
<path stroke="#111" stroke-width="0.56" stroke-linecap="round" d="M135.3 285.5h0m-1.3-6.4h0m1.8 10.3h0m-1.1-7.5h0m4.5-2.3h0m.3-2.5h0m-5-.5h0m3.2-2.9h0m-2.9-1.2h0m-.8 4.3h0m.8-3h0m.6 11.6h0m-1.2-9.7h0m-.4 3.9h0m.3 5.6h0m.7-11.7h0m1.1 13h0m.9 5.9h0m-.1-18.3h0m4.3 20.5h0m-5.3-7.7h0m.5-8.7h0m2.4-3.9h0m-.1 4h0m-1.3 8.5h0m-.3-10.5h0m1.3 6h0m-1.4 7.7h0m-2.6-13.5h0m-.6 4.9h0m3.4-.2h0m-2.5-7h0m2.4 20.1h0m-1-3h0m-1.4-9h0m1.3 6.4h0m-1.1-13.4h0m4 3.1h0m-3.3 11.9h0m1.4-5.5h0m2-1h0m-6.4 11.2h0m2.1-8.1h0m3.5-2.2h0m-2.4 7.6h0m1.1-2.2h0m-.7 .4h0m1.9 4.6h0m.4-5.5h0m-1.2-11.5h0m-.5 .4h0m-2.3 7.8h0m.4-2.7h0m3.5-10.8h0m-2.9 22h0m-1.4-16.9h0m4.3 12h0m-3.9-15h0m4.3 12h0m-4.2-2.8h0m-1.3-7.2h0m5.7 8.7h0m-2.2 2.9h0m-1.1-8.2h0m4.2 15.1h0m-3.5-21.4h0" stroke-opacity="0.75"/>
<path d="M141.8 295.8L151.8 295.8L151.8 295.2L151.8 294.56L147.8 288.32L147.8 272.19L147.1 271.55L146.5 271.55L145.8 272.19L145.8 288.32L141.8 294.56L141.8 295.2Z" fill="#4b94c2" stroke="#1a1a1a" stroke-width="0.4"/>
<path d="M142.7 294.31L150.9 294.31L147.1 288.82L146.5 288.82Z" fill="#fff"/>
<path d="M146.8 294.31V288.82" stroke="#4b94c2" stroke-width="1.1" stroke-dasharray="0.9 0.5"/>
<path stroke="#fff" stroke-width="0.6" stroke-linecap="round" d="M146.6 284.9h0m-.3 1.2h0m.2-12h0m.2 1.5h0m.2 2.6h0m-1.4 16.9h0m4.9 .1h0m-3.6-15.6h0m0-2.4h0m-1 2.1h0m.2-.1h0m3.4 15.1h0m-2.6-21.6h0m.2 9.3h0m-.5 12.9h0m1-18.1h0m-.2 10h0" stroke-opacity="0.55"/>
<path stroke="#111" stroke-width="0.56" stroke-linecap="round" d="M145.8 276.6h0m.5 10.9h0m1.5-.1h0m3.7 8h0m-4.1-9.6h0m0-.3h0m-1-8.1h0m0-5.1h0m3.1 22.8h0m-3.1-9.7h0m-.8 9h0m1.2-6.3h0m.5-12.8h0m1.4 19h0m-2.2-19.8h0m.7 20.8h0m4.5-.6h0m-4.3-20.4h0m-1.2 .9h0m1.5 9.2h0m-1.5-4.4h0m-4.2 14.3h0" stroke-opacity="0.75"/>
<path d="M154 295.8L160.8 295.8L160.8 295.2L160.8 294.02L158.3 293.91L158.3 278.64L157.7 278L157.1 278L156.5 278.64L156.5 293.91L154 294.02L154 295.2Z" fill="#3c1462" stroke="#1a1a1a" stroke-width="0.4"/>
<path stroke="#fff" stroke-width="0.6" stroke-linecap="round" d="M157.2 282h0m-.6 3.8h0m1.2 5.6h0m-1.3-3.9h0m.4 1.3h0m-.2 2.5h0m1.5-6.3h0m-1.2-4.3h0m.8 7.1h0m-1.2-.2h0m1-7.8h0m-.3 9.8h0" stroke-opacity="0.55"/>
<path stroke="#111" stroke-width="0.56" stroke-linecap="round" d="M157.4 279.2h0m-.8 8h0m.5-4.4h0m-2.3 11.8h0m2.6-12.2h0m-.7-2.1h0m.2 11.8h0m.7 .9h0m.6-14.2h0m-.4 14h0m2.5 1.9h0m-2.5-10.9h0m.3 5.8h0m-3.2 5.2h0m2.2-7.6h0m.2 4.5h0m.2 2h0m-.9-13.1h0m.7 6.2h0m-.2-2.4h0" stroke-opacity="0.75"/>
<path d="M129.5 296.6H164" stroke="#000" stroke-width="0.6"/>
<path d="M136.3 296.6V298.6" stroke="#000" stroke-width="0.45"/>
<text transform="translate(138.9 305.4) rotate(-45)" font-size="4.5" text-anchor="end" fill="#2a2a2a" stroke="#2a2a2a" stroke-width="0.1">Endpoint</text>
<path d="M146.8 296.6V298.6" stroke="#000" stroke-width="0.45"/>
<text transform="translate(149.4 305.4) rotate(-45)" font-size="4.5" text-anchor="end" fill="#2a2a2a" stroke="#2a2a2a" stroke-width="0.1">Root1</text>
<path d="M157.4 296.6V298.6" stroke="#000" stroke-width="0.45"/>
<text transform="translate(160 305.4) rotate(-45)" font-size="4.5" text-anchor="end" fill="#2a2a2a" stroke="#2a2a2a" stroke-width="0.1">Root2</text>
<rect x="173.1" y="259.3" width="33.8" height="5.3" fill="#d2d2d2"/>
<text x="190" y="263.3" font-size="4.9" text-anchor="middle" font-style="italic" fill="#333">CD38</text>
<path d="M174.4 295.8L184.4 295.8L184.4 295.2L184.4 294.34L181.4 293.05L181.84 284.45L184.64 275.85L183.84 269.4L181.4 267.89L177.4 267.89L174.96 269.4L174.16 275.85L176.96 284.45L177.4 293.05L174.4 294.34L174.4 295.2Z" fill="#c8661c" stroke="#1a1a1a" stroke-width="0.4"/>
<path d="M175.3 294.09L183.5 294.09L180.7 293.55L178.1 293.55Z" fill="#fff"/>
<path d="M179.4 294.09V293.55" stroke="#c8661c" stroke-width="1.1" stroke-dasharray="0.9 0.5"/>
<path stroke="#fff" stroke-width="0.6" stroke-linecap="round" d="M178.7 286.4h0m-1.6-2.6h0m.8 3.4h0m1.2 5.4h0m-.6-8.2h0m3.9-10.4h0m-4.9 17.7h0m.2-6.3h0m-.3 1.8h0m3-14.4h0m.2 17.9h0m-2.3-2.7h0m3.5-11.7h0m-2.7-.5h0m-1.7-5.7h0m3.5 6.5h0m-5.4-2.7h0m3.8 7.4h0m-1.7 1.9h0m.3-4.6h0m1.7 14.1h0m.3-11.7h0m-3.5-.3h0m2.3-2.2h0m-.6-1.8h0m3.7-4.3h0m-2.4 20.4h0m-4.4-20.2h0m3.2 13.9h0m2.9 8.8h0m-2.1-23.8h0m3 7.9h0m-6.1 16h0m6.4-19.4h0m-4.7 6.4h0m1 .4h0m3.1 1.1h0m-2.6-14h0m3.3 25h0m-1.1-6h0m1.2 6.8h0m-7.2-23.8h0m6.8 9.6h0m-4.3-7.3h0m1 20.6h0m-2.5-19.6h0m.3 2.1h0m-.4-.4h0m4.1 18.2h0m2.2-14.8h0m-3.1-6.1h0m-3.6 .3h0m2.2 10.3h0m3.1-16.3h0m.3-.3h0m.2 .7h0m.6 10.9h0" stroke-opacity="0.55"/>
<path stroke="#111" stroke-width="0.56" stroke-linecap="round" d="M179.4 287.1h0m-.8 5h0m.1-14.5h0m2.3-1.7h0m.3 16.6h0m-5.2-17.6h0m1.7 15.6h0m5.2-15.4h0m-5.3 2.7h0m3.1-3h0m-1.1-1.2h0m1.7 11.6h0m-2.1-12.3h0m2.5-2.5h0m-6 8.7h0m5.4-.1h0m-4 1.7h0m3.8 7.1h0m-.3-18.9h0m-3.8 7.3h0m3-4.6h0m3.4 3.8h0m-7-.9h0m4.2 16.4h0m-4.2-19.5h0m-.5 6.4h0m4.5 16.7h0m-3.2-25.1h0m4.7-1.2h0m-3.9 22.6h0m-1.1-12.1h0m3.5 4.1h0m1.3-7.9h0m-5.3-1.1h0m6 4.9h0m-2.9-.9h0m-4.7 17.5h0m7.8-19.9h0m-1.6-1.4h0m-1 6.4h0m.9-6.8h0m1.9-4.4h0m-5.5 8.6h0m-1.4-8.5h0m5.1 .4h0m-.7 16.8h0m3.3-9h0m-5.1 13.3h0m3.1-2.9h0m.3-13.4h0m-3 7.2h0m3.9-7.2h0m-2.6 2.8h0m-4.7-8h0m2.9 25.6h0m1.2-23.4h0m.1 .9h0m-3.4 22.4h0m3.5-18.8h0m-.3 11.3h0m-4.3-16.3h0m1.1 3.9h0m-.3 19.6h0m1.2-16h0m4-4h0m-.6-4.5h0m2.6 6.5h0m-4.2 3.6h0m3-9.7h0m-6.4 7.3h0m7.2 17.4h0m-4-26.2h0m.4-.9h0m-.8 18.9h0m-.7-5.8h0m.1 3.3h0m-3.3 11.1h0m8.7-19h0m-1.2 18.8h0m-5.5-23.9h0m1.1 14.8h0m.5-5.8h0m4.7-2.8h0m-7.4 1.5h0m3.3-11h0m3.2 12h0m-1.9-10.7h0m3.4 8.2h0m-1.2-.9h0m-1.6 18.1h0m-2.6-1.9h0m-1-17.8h0m-2 1h0m3.3 9.6h0m5.2-8.9h0m-7.3 3.9h0m4.2-.1h0" stroke-opacity="0.75"/>
<path d="M184.9 295.8L194.9 295.8L194.9 295.2L194.9 294.56L192.34 288.75L192.34 271.55L190.9 268.32L188.9 268.32L187.46 271.55L187.46 288.75L184.9 294.56L184.9 295.2Z" fill="#4b94c2" stroke="#1a1a1a" stroke-width="0.4"/>
<path d="M185.8 294.31L194 294.31L191.64 289.25L188.16 289.25Z" fill="#fff"/>
<path d="M189.9 294.31V289.25" stroke="#4b94c2" stroke-width="1.1" stroke-dasharray="0.9 0.5"/>
<path stroke="#fff" stroke-width="0.6" stroke-linecap="round" d="M188.6 288.7h0m3.6-2.3h0m-1.7-7.2h0m1.5-5h0m-.5-4.4h0m-.1 25.9h0m0-24.2h0m-6.3 22.9h0m1.8 .7h0m1.7-9.5h0m3.2-10h0m-1.2 18.9h0m.5-23.3h0m-5.4 24.4h0m5-8.2h0m.2-10.6h0m-.2 17.6h0m.1-13.2h0m1-6.4h0m-2.6 3.9h0m2.3 9.5h0m-1.9-16.3h0m1.7-.6h0m-1.7 17.4h0m1.6-6.4h0m-2-13.8h0m4.3 26.3h0m-4.5-26.2h0m-.2 16.1h0" stroke-opacity="0.55"/>
<path stroke="#111" stroke-width="0.56" stroke-linecap="round" d="M192.8 295.5h0m-1.3-18.2h0m-1.8-7.5h0m.4 1.5h0m1.5 11h0m-3.7-6.8h0m2.5 11.3h0m-.9-14.5h0m.4 12.1h0m-.8-.7h0m1.9 12h0m-2.4-.1h0m-.2-19.6h0m1.8 8.6h0m-2.3-1.3h0m.8-.2h0m2.9 4.3h0m-1.7 7.7h0m3.2 .1h0m-4.3-14.7h0m.6-2.3h0m-3.6 16.6h0m4.5-6.3h0m-.1-7.6h0m-1.5-3.6h0m2.3 1.7h0m.3 6.8h0m-2.1-1.3h0m-1-13.3h0m1.2-1.7h0m.3 5.1h0m2.3 6.6h0m.1-4.8h0m-.5-4.8h0m-1.3-1.8h0m.5 .8h0m-1.8 15.2h0m-.3 9.5h0m-.3-10.6h0m.1-8.6h0m.3 4.8h0m.3 2h0m-.8 4.8h0m3.6 .2h0m-4.1-13.7h0m2.4 .3h0m-1.9 9.8h0m3.8-2h0m0 4.1h0m-2.5 7.9h0m.1-9.5h0m.8 2.7h0m-.3-13.8h0m.7 10.7h0m-3.4-2.5h0m4.3 2.7h0m.4-6.2h0m-.9 4.7h0" stroke-opacity="0.75"/>
<path d="M196.25 295.8L204.75 295.8L204.75 295.2L204.75 294.56L203.32 290.9L202.98 278L202 272.62L199 272.62L198.02 278L197.68 290.9L196.25 294.56L196.25 295.2Z" fill="#3c1462" stroke="#1a1a1a" stroke-width="0.4"/>
<path stroke="#fff" stroke-width="0.6" stroke-linecap="round" d="M199.2 287.4h0m2.4 6h0m-.7-4.6h0m1.3-5.4h0m.1-7.6h0m-1.3-2.2h0m.9 15.9h0m-1.5-12.4h0m-3.1 14.8h0m3-9h0m-1.8 4.8h0m4.4-2.8h0m-3.3 10.9h0m2.3-9.8h0m-.7 .9h0m-3-8.5h0m2.5 7.9h0m.3-1.6h0m-2.8 3.8h0m.1-.2h0m2.9 3.9h0m-.5-1.9h0m.7-16h0m-.6 18.7h0m.2 1.9h0m2.1-8.3h0m-3.6 1h0m2.7-7.3h0m-3.9 13.4h0m3-9.8h0m-2.4-2.4h0m3.3 10.3h0m-3.9 0h0m2.5-14.2h0m1.2 3.7h0m-.2 3.3h0m-3.5 6.3h0" stroke-opacity="0.55"/>
<path stroke="#111" stroke-width="0.56" stroke-linecap="round" d="M200.4 293.1h0m-.3-12.3h0m-.1 10.4h0m-2.1-2.5h0m.8-10h0m.2 12.3h0m1.9-2.8h0m-.6-1.8h0m.6 4.1h0m.7-1.4h0m1.4-9.3h0m-1.1 3.8h0m-.1 8.5h0m-1.9 .1h0m1.2 3.1h0m.7-13h0m-3.8 8.8h0m-.6 2.5h0m1.2 1.6h0m4.6-.4h0m-4.2-4h0m1.1-6.4h0m1.9-8.5h0m-.1 14.7h0m.7 .6h0m.4 3.2h0m-1.2-4.4h0m-3.5 2.5h0m3.3-5h0m-1.9 2.2h0m3.5 3.4h0m-1.6-10.5h0m.4-8.8h0m1.1 20.5h0m-2.3-11.7h0m-3 6.6h0m4.7-8.4h0m-2.1 7h0m2.2-11.1h0m-3.7 18.1h0m3.2-6.2h0m-2.4-14.9h0m3.6 15.6h0m-1.7-2h0m-2.1 6.3h0m.8-18.9h0m1.2 14.5h0m-2.1 1.2h0m2.7-.7h0m-3.6-9.2h0m6.1 14.1h0m-2.1-8.8h0m-4.1-5.6h0m2.1 11.9h0m3.3 3h0m-.7-6.7h0m-2.7 .1h0m-2.6 6.9h0m4.1-6.9h0m-1.1-13.7h0m-4 20.4h0m3.5-9.1h0m-.1-.8h0" stroke-opacity="0.75"/>
<path d="M172.6 296.6H207.1" stroke="#000" stroke-width="0.6"/>
<path d="M179.4 296.6V298.6" stroke="#000" stroke-width="0.45"/>
<text transform="translate(182 305.4) rotate(-45)" font-size="4.5" text-anchor="end" fill="#2a2a2a" stroke="#2a2a2a" stroke-width="0.1">Endpoint</text>
<path d="M189.9 296.6V298.6" stroke="#000" stroke-width="0.45"/>
<text transform="translate(192.5 305.4) rotate(-45)" font-size="4.5" text-anchor="end" fill="#2a2a2a" stroke="#2a2a2a" stroke-width="0.1">Root1</text>
<path d="M200.5 296.6V298.6" stroke="#000" stroke-width="0.45"/>
<text transform="translate(203.1 305.4) rotate(-45)" font-size="4.5" text-anchor="end" fill="#2a2a2a" stroke="#2a2a2a" stroke-width="0.1">Root2</text>
<rect x="216.2" y="259.3" width="33.8" height="5.3" fill="#d2d2d2"/>
<text x="233.1" y="263.3" font-size="4.9" text-anchor="middle" font-style="italic" fill="#333">IRF1</text>
<path d="M217.5 295.8L227.5 295.8L227.5 295.2L227.5 294.34L224.5 293.05L225.34 284.45L227.34 275.85L226.14 271.55L223.5 270.47L221.5 270.47L218.86 271.55L217.66 275.85L219.66 284.45L220.5 293.05L217.5 294.34L217.5 295.2Z" fill="#c8661c" stroke="#1a1a1a" stroke-width="0.4"/>
<path d="M218.4 294.09L226.6 294.09L223.8 293.55L221.2 293.55Z" fill="#fff"/>
<path d="M222.5 294.09V293.55" stroke="#c8661c" stroke-width="1.1" stroke-dasharray="0.9 0.5"/>
<path stroke="#fff" stroke-width="0.6" stroke-linecap="round" d="M220.8 295.3h0m1.7-23.7h0m.5 5h0m-1.8 18.5h0m2.9-8.9h0m-4.5-9.8h0m3.6-5.8h0m-2.3 14.4h0m.8-10.8h0m4-1.4h0m-3.2-1.7h0m2.7 9.7h0m-2.2-6.9h0m3 5.9h0m-1.9 5h0m-5.4-11.1h0m3.9 12.9h0m-.4-9.7h0m.5 15.8h0m-1.6 1.7h0m4.1-21.2h0m-.1 4.1h0m1-1.1h0m-2.5 7.1h0m-4-11.3h0m2.9 7.4h0m-.4 12.2h0m1.7-18h0m-.1 18h0m2.5-17.6h0m.3 3h0m-.5-2.4h0m-5.6 .4h0m5.9 4.1h0m-5.4 3h0m-1.5-9.4h0m5.1 22.2h0m-2-14.3h0m-1 5.4h0m-.4-6.5h0m3 15.3h0m-2.1-11.2h0m-.1 1h0m.4 7.2h0m-2.6-9.8h0m-.6-10.2h0m4.7 4.9h0m-1.7 1.5h0m-1.5 6.3h0" stroke-opacity="0.55"/>
<path stroke="#111" stroke-width="0.56" stroke-linecap="round" d="M222.3 286.8h0m2.8-8.4h0m.7-4.2h0m-.7 2.3h0m1.4-3h0m-5.1 4h0m2.3-2.9h0m-.4 13.2h0m.1-14.4h0m1.9 21.9h0m-2.9-9.5h0m-4.1-8.3h0m7.4-.6h0m-1.4 3.2h0m-2.4-4.7h0m2.1 13.1h0m-1.4-4.5h0m-1.7-2.8h0m2.8-8.5h0m-1.8 8.9h0m-3.6 12.7h0m7.4-19.5h0m-4.2 14.5h0m-1-6.2h0m.8-11.6h0m2 20.4h0m-3.3-6.4h0m.8-7.8h0m-.6 2.5h0m4.7-2.4h0m-4.7 16.5h0m6.1-18.2h0m-1.1 .9h0m-4.1 15.4h0m3.3-8.4h0m-1.7-10.6h0m1.4-1.8h0m-4.4-.3h0m.8 14.1h0m-.7-12.1h0m3.3 15.2h0m1.1-12.2h0m-1.3 17.8h0m.5-14h0m2.6-1h0m-2.2-2.5h0m-3-2.1h0m-.7 10.4h0m3.9-7.8h0m-3.7 2.7h0m4.2-4.4h0m-2.9 11.9h0m1.3 3.3h0m-1.6-3.7h0m-.9-7.7h0m4.1 11h0m-6-16.6h0m3.7-.6h0m0 .1h0m2.6 11.4h0m-3.6-11h0m.6 20.8h0m-.4-18.2h0m3.1-2.2h0m1.1 2.1h0m-2.3 7.1h0m3.8-6.4h0m-2.4-4.2h0m-4.8 2.9h0m-2 19.4h0m3.5-9.6h0m1 6.6h0m-1.8-13.8h0m4.3 7.7h0m-2.6 5.5h0m-.5-14.3h0m-1.6 12h0m.4-2.5h0m-1.4-5.1h0m1.4 1.3h0m-.3-10h0m5.4-.9h0m-.6 1h0" stroke-opacity="0.75"/>
<path d="M228 295.8L238 295.8L238 295.2L238 294.56L234 288.32L234 270.05L233.3 269.4L232.7 269.4L232 270.05L232 288.32L228 294.56L228 295.2Z" fill="#4b94c2" stroke="#1a1a1a" stroke-width="0.4"/>
<path d="M228.9 294.31L237.1 294.31L233.3 288.82L232.7 288.82Z" fill="#fff"/>
<path d="M233 294.31V288.82" stroke="#4b94c2" stroke-width="1.1" stroke-dasharray="0.9 0.5"/>
<path stroke="#fff" stroke-width="0.6" stroke-linecap="round" d="M235.3 294.3h0m-2-14h0m.1-.6h0m-4.7 15.4h0m.1 .5h0m4.6-7.4h0m-1.3-8.8h0m.5 15.9h0m.6-7.2h0m-2.2 7.4h0m2.6-25.5h0m-.2 .5h0m-.3 1h0m-.4 14.4h0m.6-11.6h0m0-1.9h0m-.3 1.6h0" stroke-opacity="0.55"/>
<path stroke="#111" stroke-width="0.56" stroke-linecap="round" d="M228.2 294.6h0m7.1 .6h0m-2-11.7h0m0-3.4h0m-1.1 3.1h0m0-6.5h0m.1-.1h0m0 10.5h0m.9 8h0m-.7-24.9h0m.7-.7h0m-4.8 25.9h0m9.2-.8h0m-5.4-22.2h0m0 4.2h0m1.8 2.1h0m-5.5 17.1h0m5.2-14.8h0m0 1.2h0m-.9 2.8h0m-2.6 10.4h0m3.7-10.4h0m-.7-9.3h0m.1 8.6h0m.4-5.4h0" stroke-opacity="0.75"/>
<path d="M239.35 295.8L247.85 295.8L247.85 295.2L247.85 294.56L246.08 290.9L246.76 284.45L247.78 278L246.08 274.77L244.6 273.7L242.6 273.7L241.12 274.77L239.42 278L240.44 284.45L241.12 290.9L239.35 294.56L239.35 295.2Z" fill="#3c1462" stroke="#1a1a1a" stroke-width="0.4"/>
<path d="M240.25 294.31L246.95 294.31L245.38 291.4L241.82 291.4Z" fill="#fff"/>
<path d="M243.6 294.31V291.4" stroke="#3c1462" stroke-width="1.1" stroke-dasharray="0.9 0.5"/>
<path stroke="#fff" stroke-width="0.6" stroke-linecap="round" d="M247.4 279h0m-4.8-4.4h0m.8 6h0m-2.5 14.9h0m2.1 0h0m4.7-.1h0m-3.7-10.2h0m-.7 9.1h0m-.5-16.8h0m4.4-.3h0m-4.7 17.5h0m1.6-16.1h0m-1.9 16.6h0m-.3-4.9h0m2.2-7.1h0m.8-.3h0m-4.1 11.7h0m1.4-12.4h0m.6-4.7h0m-2.3 .5h0m-.6 1h0m2-4.4h0m.9 20.9h0m1.9-5.6h0m2.1-5.7h0m-.7 10.1h0m-5-17.6h0m4.1 19h0m-.2-20.3h0m-.5 5.1h0m.2-.6h0m1.6 1.4h0m-2.5 4h0m3.3-4.3h0m-6.8 .6h0m4.7 6.8h0m-1.6-8h0m3.2 14.2h0" stroke-opacity="0.55"/>
<path stroke="#111" stroke-width="0.56" stroke-linecap="round" d="M246.4 282.9h0m-4.9-7.2h0m4.6 1.9h0m-1.1 5.6h0m-5.5-5.3h0m1.9-1.5h0m5.1 1.2h0m-3.2 17.2h0m-2.5-7.1h0m3.5 1h0m-2.8-7.5h0m4 9.4h0m-2.7-8.1h0m-.7-2.7h0m-1.2-.6h0m3.8 4.5h0m-2.4 .8h0m2.2-10.3h0m-2.3 2.7h0m4.4 1.8h0m-5.4 8.3h0m1-9.2h0m-.8-2.4h0m2.1 .6h0m-2.2 18.9h0m2.6-14.5h0m-.6 4.9h0m-.8-9.4h0m-1.3 5.2h0m.3 5.6h0m5.2-3.4h0m-1.7 1.6h0m1.2-1.9h0m-1.1-3h0m-1.7 9h0m-2.7-3.7h0m-.5-7.9h0m3.1 17.6h0m.5-.5h0m-1.6-.1h0m-.3 .4h0m1.9-6.7h0m2.4-3.1h0m-.9-2.9h0m.8 2.6h0m-3.4-10h0m-2.2 9.9h0m2.2-7.2h0m1.9-1.5h0m-4.8 19.8h0m1.4-13.5h0m3.1-4.3h0m-4 0h0m.6 9h0m2.7-1.7h0m1-3.3h0m-2.5-3.1h0m0-.7h0m2.9-4h0m-3.3 15h0m2.2-2.6h0m.7 2.5h0m2.6 6.7h0m-6.6-14.6h0" stroke-opacity="0.75"/>
<path d="M215.7 296.6H250.2" stroke="#000" stroke-width="0.6"/>
<path d="M222.5 296.6V298.6" stroke="#000" stroke-width="0.45"/>
<text transform="translate(225.1 305.4) rotate(-45)" font-size="4.5" text-anchor="end" fill="#2a2a2a" stroke="#2a2a2a" stroke-width="0.1">Endpoint</text>
<path d="M233 296.6V298.6" stroke="#000" stroke-width="0.45"/>
<text transform="translate(235.6 305.4) rotate(-45)" font-size="4.5" text-anchor="end" fill="#2a2a2a" stroke="#2a2a2a" stroke-width="0.1">Root1</text>
<path d="M243.6 296.6V298.6" stroke="#000" stroke-width="0.45"/>
<text transform="translate(246.2 305.4) rotate(-45)" font-size="4.5" text-anchor="end" fill="#2a2a2a" stroke="#2a2a2a" stroke-width="0.1">Root2</text>
<rect x="259.3" y="259.3" width="33.8" height="5.3" fill="#d2d2d2"/>
<text x="276.2" y="263.3" font-size="4.9" text-anchor="middle" font-style="italic" fill="#333">IFI44L</text>
<path d="M260.6 295.8L270.6 295.8L270.6 295.2L270.6 294.34L267.6 293.05L268.04 284.45L270.84 275.85L270.04 269.4L267.1 267.25L264.1 267.25L261.16 269.4L260.36 275.85L263.16 284.45L263.6 293.05L260.6 294.34L260.6 295.2Z" fill="#c8661c" stroke="#1a1a1a" stroke-width="0.4"/>
<path d="M261.5 294.09L269.7 294.09L266.9 293.55L264.3 293.55Z" fill="#fff"/>
<path d="M265.6 294.09V293.55" stroke="#c8661c" stroke-width="1.1" stroke-dasharray="0.9 0.5"/>
<path stroke="#fff" stroke-width="0.6" stroke-linecap="round" d="M261.3 272.3h0m5.2-.8h0m-1.5 13.7h0m-3.9-12.8h0m2.8 16.7h0m-2.5-18h0m2.5-2.5h0m5.9 2.6h0m-8.7 4.2h0m5.2-.7h0m-1-7.2h0m-4.2 28.2h0m1.5-23h0m3.2 3.4h0m-2.9 19.6h0m1.6-12.3h0m-2.9-4.6h0m3.8-2.2h0m-4.4 .3h0m8.1-.1h0m-3.7-7.4h0m-2.8 10.5h0m3.3-1.4h0m-.7-11.2h0m1.5 9h0m-.8 .9h0m2.6 2.3h0m-4.7 4.2h0m-.2-8.6h0m4.7 19.2h0m-4.3-3.6h0m1.9-1.8h0m-2.8-18.6h0m2.5 16h0m-3.4-8.8h0m4.1 14.3h0m-.1-10.7h0m-2.5-10.6h0m2.8 16.1h0m-1.3-8.1h0m.3 .5h0m-3.8-2.7h0m1.7 12.9h0m.6-2.3h0m1.7-2.7h0m-4-12.2h0m3.1 1.6h0m.9 12h0m1.5-11.9h0m-2.3 20.4h0m4.2-25.2h0m-3.7 17.9h0m-1.6-13.2h0m6.4-2.6h0m-1.4-1.1h0m-1.8 16h0m1.7 8.8h0m-6.2-23.5h0m1.3 6.7h0" stroke-opacity="0.55"/>
<path stroke="#111" stroke-width="0.56" stroke-linecap="round" d="M265.8 285.9h0m-1.8-6.3h0m1.9 2.7h0m-.9 12.9h0m3.2-12.2h0m-.7 11.4h0m1.9-19.2h0m-4.8 7.3h0m5.7-11h0m-9.6 5.4h0m.3-2.8h0m4.8-4.5h0m1.1 8.5h0m2.2-6.2h0m.7-.1h0m-2.3 22.7h0m.2-7.6h0m-5.1-13.2h0m2.9 9.3h0m-1 2.2h0m4.9-5.3h0m-3-1.2h0m-4.6 1h0m3.1-4.2h0m2.9-7.6h0m-2.8 16.4h0m1-10.1h0m-1.4 1h0m.1-7.8h0m1.3 6.4h0m2.2 1.1h0m.3 5.9h0m-3.5 14.5h0m-.2-5.4h0m2.7-10h0m-2.8-7.7h0m-1.6-2.1h0m1.4 17.6h0m1.1 4.4h0m-4.8-17h0m9 2.3h0m-4.1 8.6h0m-3.7-7.4h0m5.8 16.7h0m-3.4-18h0m3.2-.2h0m-3.7 10.5h0m3.3-1.5h0m-.8-17.2h0m-5.5 6.8h0m4 5.4h0m-3-5.2h0m6.3 7.9h0m-1.6 2.6h0m-.3-11.8h0m-2.2 20.7h0m-.7-10.7h0m5.9-14.5h0m-6.5-.1h0m-1.3 7.4h0m3.8 14.9h0m-1.6-12.5h0m4.9-3.5h0m-5 14.1h0m5-9.5h0m-6.1-10.9h0m7 7.9h0m-2.1 14h0m.5-12.7h0m1.3-1.2h0m-3-3.4h0m-1 9.9h0m3.7 9.6h0m-5.3-1.5h0m5.5-14.4h0m.9-6.1h0m-8 .8h0m2.7 7.3h0m0-4.6h0m3 8.4h0m-4.7-13.1h0m4.9 13.8h0m-2.6 10.5h0m-.3-21.4h0m.3 2h0m1.5-2.1h0m3.2 3.3h0m-2.6-1.5h0m-4.3 5.3h0m1.8 .4h0m.1 2.7h0m-2.9-12.9h0m.9 1.3h0m4.4 10.1h0m-2.9-5.4h0m.4 13.2h0" stroke-opacity="0.75"/>
<path d="M271.1 295.8L281.1 295.8L281.1 295.2L281.1 294.56L278.1 288.75L278.1 269.4L276.7 266.61L275.5 266.61L274.1 269.4L274.1 288.75L271.1 294.56L271.1 295.2Z" fill="#4b94c2" stroke="#1a1a1a" stroke-width="0.4"/>
<path d="M272 294.31L280.2 294.31L277.4 289.25L274.8 289.25Z" fill="#fff"/>
<path d="M276.1 294.31V289.25" stroke="#4b94c2" stroke-width="1.1" stroke-dasharray="0.9 0.5"/>
<path stroke="#fff" stroke-width="0.6" stroke-linecap="round" d="M276.2 270.2h0m-1.9 4.1h0m-.1-2.1h0m.6 10h0m1-10.4h0m-4.4 23.2h0m3.1-14.9h0m-2.4 14.3h0m6.4 1.1h0m-3.9-21h0m2.3 2.3h0m-.6 11h0m-.6-3.7h0m1.8 10.6h0m-5.1 .7h0m6.2 .3h0m-2.6-20.6h0m-.2 6.2h0m1.8-12.7h0m-1.9 11.3h0m1.4 3.9h0m.4-15.4h0m-.9-.4h0m-3.3 27.4h0m1.6-.7h0m.8 .9h0m.7-18.2h0m-2.3 4.6h0m3.7 5.2h0m-1.9-.9h0m-1.1 8.3h0m1.3-18.3h0m-1.3-3h0m.1 12.4h0" stroke-opacity="0.55"/>
<path stroke="#111" stroke-width="0.56" stroke-linecap="round" d="M278 285.2h0m-2.5-4.1h0m2.2-1.6h0m-1.8-5.3h0m.3 21.1h0m-.9-16.1h0m2.7-9.9h0m-.6 17.1h0m-3.3-3.3h0m3.5-4.1h0m-4.7 15.5h0m1.8-9h0m.8 9.8h0m1.5-27.1h0m-.6 15.9h0m-.1-2.1h0m-1-.2h0m-.4 13.6h0m2.2-15.4h0m-2.1 15h0m2.7-7.3h0m-.6-4h0m.1 2h0m-2.1-7.2h0m.5 6.1h0m-1.5 3h0m.3-1.9h0m1.7-13.7h0m.9 .7h0m-.2 12.5h0m.5-1.4h0m-4.8 11h0m6.1-.2h0m-.7-22h0m-.9 6.6h0m1.1 16.4h0m-2-.3h0m.9-17.2h0m1.5 16.6h0m-1.1-25.1h0m-5.1 25.4h0m5.5-6.4h0m-.7 6.4h0m-2.5-12.6h0m2.4-9.8h0m.2 5.8h0m-1.5-5.9h0m2.3-1.7h0" stroke-opacity="0.75"/>
<path d="M283.3 295.8L290.1 295.8L290.1 295.2L290.1 294.02L287.6 293.91L287.6 275.42L287 274.77L286.4 274.77L285.8 275.42L285.8 293.91L283.3 294.02L283.3 295.2Z" fill="#3c1462" stroke="#1a1a1a" stroke-width="0.4"/>
<path stroke="#fff" stroke-width="0.6" stroke-linecap="round" d="M287 286.8h0m.4-9.1h0m-.8 12.5h0m-.4-11.1h0m1 3.6h0m-.6 11.8h0m.1-17.8h0m-.8 13.9h0m-1.1 5.1h0m1.5-8.3h0m.6 .7h0m-1.9 7.4h0m2.2-18.5h0" stroke-opacity="0.55"/>
<path stroke="#111" stroke-width="0.56" stroke-linecap="round" d="M287.1 288h0m-1.3-7.8h0m.2 5.9h0m1.1-.4h0m-.5-8.3h0m2.5 18.2h0m-4.3-1.1h0m-.4 .5h0m.4-.9h0m1.3-.2h0m.1-16.3h0m-.3 13.7h0m3.8 3.4h0m-.8 .1h0m-2.5-15.6h0m-.1 9.5h0m-.2 1.4h0m1-9.5h0m-.1 13.7h0m.5 1.2h0m-.6-4.1h0m-.2-11.3h0m.1 14.6h0" stroke-opacity="0.75"/>
<path d="M258.8 296.6H293.3" stroke="#000" stroke-width="0.6"/>
<path d="M265.6 296.6V298.6" stroke="#000" stroke-width="0.45"/>
<text transform="translate(268.2 305.4) rotate(-45)" font-size="4.5" text-anchor="end" fill="#2a2a2a" stroke="#2a2a2a" stroke-width="0.1">Endpoint</text>
<path d="M276.1 296.6V298.6" stroke="#000" stroke-width="0.45"/>
<text transform="translate(278.7 305.4) rotate(-45)" font-size="4.5" text-anchor="end" fill="#2a2a2a" stroke="#2a2a2a" stroke-width="0.1">Root1</text>
<path d="M286.7 296.6V298.6" stroke="#000" stroke-width="0.45"/>
<text transform="translate(289.3 305.4) rotate(-45)" font-size="4.5" text-anchor="end" fill="#2a2a2a" stroke="#2a2a2a" stroke-width="0.1">Root2</text>
<path d="M43.5 265V296.4" stroke="#000" stroke-width="0.6"/>
<path d="M41.8 273.7H43.5" stroke="#000" stroke-width="0.45"/>
<text x="40.6" y="275.2" font-size="4.3" textLength="4.3" lengthAdjust="spacingAndGlyphs" text-anchor="end" fill="#383838">10</text>
<path d="M41.8 284.45H43.5" stroke="#000" stroke-width="0.45"/>
<text x="40.6" y="285.95" font-size="4.3" textLength="2.15" lengthAdjust="spacingAndGlyphs" text-anchor="end" fill="#383838">5</text>
<path d="M41.8 295.2H43.5" stroke="#000" stroke-width="0.45"/>
<text x="40.6" y="296.7" font-size="4.3" textLength="2.15" lengthAdjust="spacingAndGlyphs" text-anchor="end" fill="#383838">0</text>
<text transform="translate(27.0 260.7) rotate(-90)" font-size="5.4" text-anchor="middle" fill="#2a2a2a" textLength="58.2" lengthAdjust="spacingAndGlyphs">Expression [log2CPM+1]</text>
<text x="47.5" y="337.4" font-size="6.9" textLength="22.1" lengthAdjust="spacingAndGlyphs" font-style="italic" fill="#111" stroke="#111" stroke-width="0.25">ROOTS</text>
<text x="130.8" y="337.4" font-size="6.9" textLength="33.6" lengthAdjust="spacingAndGlyphs" font-style="italic" fill="#111" stroke="#111" stroke-width="0.25">ENDPOINT</text>
<text transform="translate(21 368.2) rotate(-90)" font-size="5.6" text-anchor="middle" fill="#222">Enrichment</text>
<text transform="translate(28.9 368.2) rotate(-90)" font-size="5.6" text-anchor="middle" fill="#222">score (ES)</text>
<text transform="translate(21 400.3) rotate(-90)" font-size="5.6" text-anchor="middle" fill="#222">Ranked</text>
<text transform="translate(28.9 400.3) rotate(-90)" font-size="5.6" text-anchor="middle" fill="#222">list metric</text>
<linearGradient id="g46" x1="0" y1="0" x2="1" y2="0"><stop offset="0" stop-color="#d94040"/><stop offset="0.12" stop-color="#f1dcdc"/><stop offset="0.2" stop-color="#e8e8f4"/><stop offset="1" stop-color="#27399a"/></linearGradient>
<rect x="46.8" y="388.5" width="59.4" height="3" fill="url(#g46)"/>
<path d="M46.8 375.5H106.2" stroke="#b0b0b0" stroke-width="0.9"/>
<path d="M47.84 381.3V388.4M48.07 381.3V388.4M48.8 381.3V388.4M49.2 381.3V388.4M48.47 381.3V388.4M47.65 381.3V388.4M50.94 381.3V388.4M50.52 381.3V388.4M51.67 381.3V388.4M50.97 381.3V388.4M55.49 381.3V388.4M55.48 381.3V388.4M55.45 381.3V388.4M61.52 381.3V388.4M62.41 381.3V388.4M66.25 381.3V388.4M65.98 381.3V388.4M74.46 381.3V388.4M73.72 381.3V388.4M73.96 381.3V388.4M75.7 381.3V388.4M77.94 381.3V388.4M74.91 381.3V388.4M76.11 381.3V388.4M74.35 381.3V388.4M77.83 381.3V388.4M74.11 381.3V388.4M82.67 381.3V388.4M82.63 381.3V388.4M83.88 381.3V388.4M88.15 381.3V388.4M87.43 381.3V388.4M89.84 381.3V388.4M91.97 381.3V388.4M87.1 381.3V388.4M87.93 381.3V388.4M87.16 381.3V388.4M90.76 381.3V388.4M88.75 381.3V388.4M89.2 381.3V388.4M95.24 381.3V388.4M96.35 381.3V388.4M94.76 381.3V388.4M97.67 381.3V388.4M94.91 381.3V388.4M99.13 381.3V388.4M96.63 381.3V388.4M103.45 381.3V388.4M102.66 381.3V388.4M103.86 381.3V388.4M103.33 381.3V388.4M68.32 381.3V388.4M67.44 381.3V388.4M70.12 381.3V388.4M61.15 381.3V388.4M81.1 381.3V388.4M84.26 381.3V388.4" stroke="#111" stroke-width="0.3" stroke-opacity="0.9"/>
<path d="M46.8 397.5 C 66.8 398.5 86.2 399.5 106.2 401.5 L 106.2 403.2 L 46.8 403.2 Z" fill="#d4d4d4"/>
<path d="M57.3 392V409.7" stroke="#555" stroke-width="0.35" stroke-dasharray="0.8 0.8"/>
<text x="47.8" y="395.4" font-size="3.9" textLength="38.5" lengthAdjust="spacingAndGlyphs" fill="#d84a4a">Pos (Positively Correlated)</text>
<text x="50.3" y="401.9" font-size="3.9" textLength="24" lengthAdjust="spacingAndGlyphs">Zero score at 311</text>
<text x="105.4" y="407" font-size="3.9" textLength="40.8" lengthAdjust="spacingAndGlyphs" text-anchor="end" fill="#4a5ac0">Neg (Negatively Correlated)</text>
<path d="M46.8 370L48 365L49.2 359L50.5 356.2L51.5 357.2L52.5 357.5L53.5 357L55 357.8L57 359.3L60 362L63 364.5L66 367.3L69 370L72 372.8L74 374.6L76 374.9L78 374.5L80 375.3L82 376.6L84 378L86 379.2L88 379.6L90 379.9L92 379.1L94 377.2L96 376.5L98 376.2L100 375.4L102 375.8L103.5 373.6L104.5 374.8L106.2 375" stroke="#72b33c" stroke-width="0.75" fill="none" stroke-linejoin="round"/>
<path d="M46.8 354.5H106.2V409.7H46.8Z" stroke="#000" stroke-width="0.75" fill="none"/>
<path d="M46.8 380.9H106.2" stroke="#000" stroke-width="0.5"/>
<path d="M46.8 391.5H106.2" stroke="#000" stroke-width="0.3"/>
<path d="M44.6 357.9H46.8" stroke="#000" stroke-width="0.5"/>
<text x="43.4" y="359.5" font-size="4.6" textLength="5.75" lengthAdjust="spacingAndGlyphs" text-anchor="end" fill="#383838" stroke="#383838" stroke-width="0.12">0.3</text>
<path d="M44.6 363.6H46.8" stroke="#000" stroke-width="0.5"/>
<text x="43.4" y="365.2" font-size="4.6" textLength="5.75" lengthAdjust="spacingAndGlyphs" text-anchor="end" fill="#383838" stroke="#383838" stroke-width="0.12">0.2</text>
<path d="M44.6 369.4H46.8" stroke="#000" stroke-width="0.5"/>
<text x="43.4" y="371" font-size="4.6" textLength="5.75" lengthAdjust="spacingAndGlyphs" text-anchor="end" fill="#383838" stroke="#383838" stroke-width="0.12">0.1</text>
<path d="M44.6 375.5H46.8" stroke="#000" stroke-width="0.5"/>
<text x="43.4" y="377.1" font-size="4.6" textLength="5.75" lengthAdjust="spacingAndGlyphs" text-anchor="end" fill="#383838" stroke="#383838" stroke-width="0.12">0.0</text>
<path d="M44.6 381H46.8" stroke="#000" stroke-width="0.5"/>
<text x="43.4" y="382.6" font-size="4.6" textLength="7.13" lengthAdjust="spacingAndGlyphs" text-anchor="end" fill="#383838" stroke="#383838" stroke-width="0.12">-0.1</text>
<text transform="translate(42.4 400.5) rotate(-90)" font-size="3.0" text-anchor="middle" fill="#555">Unknown</text>
<text transform="translate(45.2 400.5) rotate(-90)" font-size="3.0" text-anchor="middle" fill="#555">(Pre-ranked)</text>
<text x="82.6" y="359.2" font-size="3.9" textLength="20.34" lengthAdjust="spacingAndGlyphs">NES: 67.449</text>
<text x="82.6" y="363" font-size="3.9" textLength="22.04" lengthAdjust="spacingAndGlyphs">Pval < 0.0001</text>
<text x="82.6" y="366.8" font-size="3.9" textLength="22.44" lengthAdjust="spacingAndGlyphs">FDR < 0.0001</text>
<path d="M47.4 409.7V411.5" stroke="#000" stroke-width="0.45"/>
<text transform="translate(50.8 417.0) rotate(-45)" font-size="4.7" text-anchor="end" fill="#2a2a2a" stroke="#2a2a2a" stroke-width="0.1">0</text>
<path d="M57.4 409.7V411.5" stroke="#000" stroke-width="0.45"/>
<text transform="translate(60.8 417.0) rotate(-45)" font-size="4.7" text-anchor="end" fill="#2a2a2a" stroke="#2a2a2a" stroke-width="0.1">500</text>
<path d="M67.4 409.7V411.5" stroke="#000" stroke-width="0.45"/>
<text transform="translate(70.8 417.0) rotate(-45)" font-size="4.7" text-anchor="end" fill="#2a2a2a" stroke="#2a2a2a" stroke-width="0.1">1000</text>
<path d="M77.4 409.7V411.5" stroke="#000" stroke-width="0.45"/>
<text transform="translate(80.8 417.0) rotate(-45)" font-size="4.7" text-anchor="end" fill="#2a2a2a" stroke="#2a2a2a" stroke-width="0.1">1500</text>
<path d="M87.4 409.7V411.5" stroke="#000" stroke-width="0.45"/>
<text transform="translate(90.8 417.0) rotate(-45)" font-size="4.7" text-anchor="end" fill="#2a2a2a" stroke="#2a2a2a" stroke-width="0.1">2000</text>
<path d="M97.4 409.7V411.5" stroke="#000" stroke-width="0.45"/>
<text transform="translate(100.8 417.0) rotate(-45)" font-size="4.7" text-anchor="end" fill="#2a2a2a" stroke="#2a2a2a" stroke-width="0.1">2500</text>
<text x="76.5" y="434.2" font-size="6" textLength="54.4" lengthAdjust="spacingAndGlyphs" text-anchor="middle">Rank in ordered dataset</text>
<text x="76.5" y="346" font-size="4.7" textLength="24" lengthAdjust="spacingAndGlyphs" text-anchor="middle">Hematopoetic</text>
<text x="76.5" y="350.8" font-size="4.7" textLength="36" lengthAdjust="spacingAndGlyphs" text-anchor="middle">stem cell program</text>
<linearGradient id="g130" x1="0" y1="0" x2="1" y2="0"><stop offset="0" stop-color="#d94040"/><stop offset="0.6" stop-color="#f1dcdc"/><stop offset="0.68" stop-color="#e8e8f4"/><stop offset="1" stop-color="#27399a"/></linearGradient>
<rect x="130.4" y="388.5" width="58.8" height="3" fill="url(#g130)"/>
<path d="M130.4 380.2H189.2" stroke="#b0b0b0" stroke-width="0.9"/>
<path d="M132.48 381.2V388.4M131.68 381.2V388.4M134.54 381.2V388.4M135.67 381.2V388.4M133.78 381.2V388.4M134.26 381.2V388.4M130.78 381.2V388.4M136.91 381.2V388.4M131.15 381.2V388.4M131.34 381.2V388.4M133.27 381.2V388.4M132.83 381.2V388.4M134.87 381.2V388.4M132.51 381.2V388.4M135.77 381.2V388.4M135.21 381.2V388.4M131.29 381.2V388.4M134.08 381.2V388.4M136.6 381.2V388.4M133.97 381.2V388.4M137.21 381.2V388.4M138.35 381.2V388.4M143.92 381.2V388.4M140.85 381.2V388.4M138.5 381.2V388.4M137.32 381.2V388.4M138.18 381.2V388.4M141.62 381.2V388.4M141.87 381.2V388.4M140.12 381.2V388.4M140.74 381.2V388.4M137.51 381.2V388.4M139.09 381.2V388.4M138.12 381.2V388.4M142.27 381.2V388.4M142.98 381.2V388.4M140.68 381.2V388.4M151.44 381.2V388.4M144.17 381.2V388.4M147.57 381.2V388.4M146.4 381.2V388.4M150.41 381.2V388.4M145.14 381.2V388.4M144.59 381.2V388.4M151.91 381.2V388.4M145.09 381.2V388.4M150.63 381.2V388.4M145.96 381.2V388.4M148.24 381.2V388.4M151.39 381.2V388.4M150.87 381.2V388.4M149.58 381.2V388.4M151.73 381.2V388.4M149.1 381.2V388.4M154.3 381.2V388.4M153.4 381.2V388.4M159.46 381.2V388.4M157.83 381.2V388.4M159.25 381.2V388.4M154.37 381.2V388.4M158.99 381.2V388.4M152.09 381.2V388.4M152.25 381.2V388.4M154.96 381.2V388.4M153.66 381.2V388.4M160.92 381.2V388.4M166.59 381.2V388.4M161.26 381.2V388.4M162.35 381.2V388.4M162.01 381.2V388.4M163.33 381.2V388.4M168.36 381.2V388.4M173.86 381.2V388.4M170.61 381.2V388.4M175.01 381.2V388.4M180.75 381.2V388.4M177.03 381.2V388.4M188.9 381.2V388.4M188.75 381.2V388.4" stroke="#111" stroke-width="0.3" stroke-opacity="0.9"/>
<path d="M130.4 397.5 C 150.4 398.5 169.2 399.5 189.2 401.5 L 189.2 403.2 L 130.4 403.2 Z" fill="#d4d4d4"/>
<path d="M179.4 392V409.7" stroke="#555" stroke-width="0.35" stroke-dasharray="0.8 0.8"/>
<text x="131.4" y="395.4" font-size="3.9" textLength="38.5" lengthAdjust="spacingAndGlyphs" fill="#d84a4a">Pos (Positively Correlated)</text>
<text x="160.4" y="401.9" font-size="3.9" textLength="23" lengthAdjust="spacingAndGlyphs">Zero score at 2383</text>
<text x="188.4" y="407" font-size="3.9" textLength="40.8" lengthAdjust="spacingAndGlyphs" text-anchor="end" fill="#4a5ac0">Neg (Negatively Correlated)</text>
<path d="M130.4 380.2L131.2 374L132.2 369L134 364L136.5 360.5L139 358.8L142 357.3L145 356.4L148 355.9L150.5 355.8L152.5 356.6L155 357.4L158 358.3L161 358.8L164 360.2L167 362L171 365.3L175 369L180 373.5L185 377.3L189.2 380.2" stroke="#72b33c" stroke-width="0.75" fill="none" stroke-linejoin="round"/>
<path d="M130.4 354.6H189.2V409.7H130.4Z" stroke="#000" stroke-width="0.75" fill="none"/>
<path d="M130.4 380.8H189.2" stroke="#000" stroke-width="0.5"/>
<path d="M130.4 391.5H189.2" stroke="#000" stroke-width="0.3"/>
<path d="M128.2 361.9H130.4" stroke="#000" stroke-width="0.5"/>
<text x="127" y="363.5" font-size="4.6" textLength="5.75" lengthAdjust="spacingAndGlyphs" text-anchor="end" fill="#383838" stroke="#383838" stroke-width="0.12">0.4</text>
<path d="M128.2 371H130.4" stroke="#000" stroke-width="0.5"/>
<text x="127" y="372.6" font-size="4.6" textLength="5.75" lengthAdjust="spacingAndGlyphs" text-anchor="end" fill="#383838" stroke="#383838" stroke-width="0.12">0.2</text>
<path d="M128.2 380.2H130.4" stroke="#000" stroke-width="0.5"/>
<text x="127" y="381.8" font-size="4.6" textLength="5.75" lengthAdjust="spacingAndGlyphs" text-anchor="end" fill="#383838" stroke="#383838" stroke-width="0.12">0.0</text>
<text transform="translate(127.2 393.5) rotate(-90)" font-size="3.2" text-anchor="middle" fill="#444">5.0</text>
<text transform="translate(127.2 397.3) rotate(-90)" font-size="3.2" text-anchor="middle" fill="#444">2.5</text>
<text transform="translate(127.2 401.1) rotate(-90)" font-size="3.2" text-anchor="middle" fill="#444">0.0</text>
<text transform="translate(127.2 404.9) rotate(-90)" font-size="3.2" text-anchor="middle" fill="#444">-2.5</text>
<text transform="translate(127.2 408.7) rotate(-90)" font-size="3.2" text-anchor="middle" fill="#444">-5.0</text>
<text x="137" y="368.3" font-size="3.9" textLength="18.35" lengthAdjust="spacingAndGlyphs">NES: 2.220</text>
<text x="137" y="372.1" font-size="3.9" textLength="22.04" lengthAdjust="spacingAndGlyphs">Pval < 0.0001</text>
<text x="137" y="375.9" font-size="3.9" textLength="22.44" lengthAdjust="spacingAndGlyphs">FDR < 0.0001</text>
<path d="M131 409.7V411.5" stroke="#000" stroke-width="0.45"/>
<text transform="translate(134.4 417.0) rotate(-45)" font-size="4.7" text-anchor="end" fill="#2a2a2a" stroke="#2a2a2a" stroke-width="0.1">0</text>
<path d="M141 409.7V411.5" stroke="#000" stroke-width="0.45"/>
<text transform="translate(144.4 417.0) rotate(-45)" font-size="4.7" text-anchor="end" fill="#2a2a2a" stroke="#2a2a2a" stroke-width="0.1">500</text>
<path d="M151 409.7V411.5" stroke="#000" stroke-width="0.45"/>
<text transform="translate(154.4 417.0) rotate(-45)" font-size="4.7" text-anchor="end" fill="#2a2a2a" stroke="#2a2a2a" stroke-width="0.1">1000</text>
<path d="M161 409.7V411.5" stroke="#000" stroke-width="0.45"/>
<text transform="translate(164.4 417.0) rotate(-45)" font-size="4.7" text-anchor="end" fill="#2a2a2a" stroke="#2a2a2a" stroke-width="0.1">1500</text>
<path d="M171 409.7V411.5" stroke="#000" stroke-width="0.45"/>
<text transform="translate(174.4 417.0) rotate(-45)" font-size="4.7" text-anchor="end" fill="#2a2a2a" stroke="#2a2a2a" stroke-width="0.1">2000</text>
<path d="M181 409.7V411.5" stroke="#000" stroke-width="0.45"/>
<text transform="translate(184.4 417.0) rotate(-45)" font-size="4.7" text-anchor="end" fill="#2a2a2a" stroke="#2a2a2a" stroke-width="0.1">2500</text>
<text x="159.8" y="434.2" font-size="6" textLength="54.4" lengthAdjust="spacingAndGlyphs" text-anchor="middle">Rank in ordered dataset</text>
<text x="159.8" y="346" font-size="4.7" textLength="27" lengthAdjust="spacingAndGlyphs" text-anchor="middle">T lymphocyte</text>
<text x="159.8" y="350.8" font-size="4.7" textLength="28.4" lengthAdjust="spacingAndGlyphs" text-anchor="middle">differentiation</text>
<linearGradient id="g214" x1="0" y1="0" x2="1" y2="0"><stop offset="0" stop-color="#d94040"/><stop offset="0.8" stop-color="#f1dcdc"/><stop offset="0.88" stop-color="#e8e8f4"/><stop offset="1" stop-color="#27399a"/></linearGradient>
<rect x="214.6" y="388.5" width="58" height="3" fill="url(#g214)"/>
<path d="M214.6 380.2H272.6" stroke="#b0b0b0" stroke-width="0.9"/>
<path d="M219.37 380.9V388.4M220.45 380.9V388.4M217.69 380.9V388.4M215.27 380.9V388.4M215.56 380.9V388.4M220.98 380.9V388.4M220.18 380.9V388.4M217.62 380.9V388.4M219.53 380.9V388.4M221.76 380.9V388.4M217.54 380.9V388.4M219.83 380.9V388.4M214.84 380.9V388.4M219.93 380.9V388.4M218.91 380.9V388.4M220.52 380.9V388.4M219.66 380.9V388.4M224.63 380.9V388.4M229.6 380.9V388.4M224.71 380.9V388.4M223.25 380.9V388.4M225.41 380.9V388.4M222 380.9V388.4M229.62 380.9V388.4M226.74 380.9V388.4M227.82 380.9V388.4M228.71 380.9V388.4M229.83 380.9V388.4M222.31 380.9V388.4M229.32 380.9V388.4M223.61 380.9V388.4M222.88 380.9V388.4M229.21 380.9V388.4M222.85 380.9V388.4M239.27 380.9V388.4M232.62 380.9V388.4M236.44 380.9V388.4M230.43 380.9V388.4M231.68 380.9V388.4M232.49 380.9V388.4M235.47 380.9V388.4M236.07 380.9V388.4M239.84 380.9V388.4M238.82 380.9V388.4M236.82 380.9V388.4M234.98 380.9V388.4M233.85 380.9V388.4M231.11 380.9V388.4M237.36 380.9V388.4M231.23 380.9V388.4M239.41 380.9V388.4M245.2 380.9V388.4M247.98 380.9V388.4M249.77 380.9V388.4M243.96 380.9V388.4M242.17 380.9V388.4M242.31 380.9V388.4M242.43 380.9V388.4M244.86 380.9V388.4M242.31 380.9V388.4M249.32 380.9V388.4M249.67 380.9V388.4M243.54 380.9V388.4M249.51 380.9V388.4M251.84 380.9V388.4M256.47 380.9V388.4M256 380.9V388.4M251.6 380.9V388.4M253.32 380.9V388.4M256.27 380.9V388.4M255.48 380.9V388.4M253.6 380.9V388.4M269.04 380.9V388.4M260.72 380.9V388.4M271.77 380.9V388.4" stroke="#111" stroke-width="0.3" stroke-opacity="0.9"/>
<path d="M214.6 397.5 C 234.6 398.5 252.6 399.5 272.6 401.5 L 272.6 403.2 L 214.6 403.2 Z" fill="#d4d4d4"/>
<path d="M262.3 392V409.7" stroke="#555" stroke-width="0.35" stroke-dasharray="0.8 0.8"/>
<text x="215.6" y="395.4" font-size="3.9" textLength="38.5" lengthAdjust="spacingAndGlyphs" fill="#d84a4a">Pos (Positively Correlated)</text>
<text x="244.6" y="401.9" font-size="3.9" textLength="23" lengthAdjust="spacingAndGlyphs">Zero score at 2382</text>
<text x="271.8" y="407" font-size="3.9" textLength="40.8" lengthAdjust="spacingAndGlyphs" text-anchor="end" fill="#4a5ac0">Neg (Negatively Correlated)</text>
<path d="M214.6 368.5L216 364L218 360.5L220 358.5L222 357.4L224.5 357.3L227 356.3L229.5 355.5L232 355.3L234.5 355.8L237 356.8L240 357.8L243 358.2L246 359.2L249 360L252 361.5L256 364.8L260 368.5L265 373.5L269 377.3L272.6 380.3" stroke="#72b33c" stroke-width="0.75" fill="none" stroke-linejoin="round"/>
<path d="M214.6 354.3H272.6V409.7H214.6Z" stroke="#000" stroke-width="0.75" fill="none"/>
<path d="M214.6 380.5H272.6" stroke="#000" stroke-width="0.5"/>
<path d="M214.6 391.5H272.6" stroke="#000" stroke-width="0.3"/>
<path d="M212.4 361.9H214.6" stroke="#000" stroke-width="0.5"/>
<text x="211.2" y="363.5" font-size="4.6" textLength="5.75" lengthAdjust="spacingAndGlyphs" text-anchor="end" fill="#383838" stroke="#383838" stroke-width="0.12">0.4</text>
<path d="M212.4 371H214.6" stroke="#000" stroke-width="0.5"/>
<text x="211.2" y="372.6" font-size="4.6" textLength="5.75" lengthAdjust="spacingAndGlyphs" text-anchor="end" fill="#383838" stroke="#383838" stroke-width="0.12">0.2</text>
<path d="M212.4 380.2H214.6" stroke="#000" stroke-width="0.5"/>
<text x="211.2" y="381.8" font-size="4.6" textLength="5.75" lengthAdjust="spacingAndGlyphs" text-anchor="end" fill="#383838" stroke="#383838" stroke-width="0.12">0.0</text>
<text transform="translate(210.2 400.5) rotate(-90)" font-size="3.0" text-anchor="middle" fill="#555">Unknown</text>
<text transform="translate(213 400.5) rotate(-90)" font-size="3.0" text-anchor="middle" fill="#555">(Pre-ranked)</text>
<text x="220" y="368.6" font-size="3.9" textLength="18.35" lengthAdjust="spacingAndGlyphs">NES: 2.249</text>
<text x="220" y="372.4" font-size="3.9" textLength="22.04" lengthAdjust="spacingAndGlyphs">Pval < 0.0001</text>
<text x="220" y="376.2" font-size="3.9" textLength="22.44" lengthAdjust="spacingAndGlyphs">FDR < 0.0001</text>
<path d="M215.2 409.7V411.5" stroke="#000" stroke-width="0.45"/>
<text transform="translate(218.6 417.0) rotate(-45)" font-size="4.7" text-anchor="end" fill="#2a2a2a" stroke="#2a2a2a" stroke-width="0.1">0</text>
<path d="M225.2 409.7V411.5" stroke="#000" stroke-width="0.45"/>
<text transform="translate(228.6 417.0) rotate(-45)" font-size="4.7" text-anchor="end" fill="#2a2a2a" stroke="#2a2a2a" stroke-width="0.1">500</text>
<path d="M235.2 409.7V411.5" stroke="#000" stroke-width="0.45"/>
<text transform="translate(238.6 417.0) rotate(-45)" font-size="4.7" text-anchor="end" fill="#2a2a2a" stroke="#2a2a2a" stroke-width="0.1">1000</text>
<path d="M245.2 409.7V411.5" stroke="#000" stroke-width="0.45"/>
<text transform="translate(248.6 417.0) rotate(-45)" font-size="4.7" text-anchor="end" fill="#2a2a2a" stroke="#2a2a2a" stroke-width="0.1">1500</text>
<path d="M255.2 409.7V411.5" stroke="#000" stroke-width="0.45"/>
<text transform="translate(258.6 417.0) rotate(-45)" font-size="4.7" text-anchor="end" fill="#2a2a2a" stroke="#2a2a2a" stroke-width="0.1">2000</text>
<path d="M265.2 409.7V411.5" stroke="#000" stroke-width="0.45"/>
<text transform="translate(268.6 417.0) rotate(-45)" font-size="4.7" text-anchor="end" fill="#2a2a2a" stroke="#2a2a2a" stroke-width="0.1">2500</text>
<text x="243.6" y="434.2" font-size="6" textLength="54.4" lengthAdjust="spacingAndGlyphs" text-anchor="middle">Rank in ordered dataset</text>
<text x="243.6" y="346" font-size="4.7" textLength="35" lengthAdjust="spacingAndGlyphs" text-anchor="middle">Interferon gamma</text>
<text x="243.6" y="350.8" font-size="4.7" textLength="18" lengthAdjust="spacingAndGlyphs" text-anchor="middle">response</text>
<text x="7.4" y="460.9" font-size="11.5" textLength="6.32" lengthAdjust="spacingAndGlyphs" font-weight="bold" fill="#000">F</text>
<path stroke="#e06a2c" stroke-width="1.56" stroke-linecap="round" d="M23.3 476.7h0m5.7 .5h0m-10.1 6.6h0m-1.5-4.9h0m8.1-4.1h0m-6.5 3.7h0m3.7 2.5h0m4.1 .8h0m-9.3-2.7h0m1.8 4.7h0m4.3-7.6h0m-2.1-1.4h0m-3.7 4h0m6.5-3h0m-4.6-.4h0m8.6 4h0m-6.4 .7h0m46.6-7.3h0m3.2-1.2h0m2.7 3.8h0m3.1 1.3h0m-5.4-2.3h0m-5.3-.6h0m2.4 2.5h0m4.3 4.8h0m-6.5-1.2h0m.9 1.4h0m7.4 .1h0m.8 24.6h0m-3.7 1.8h0m1.8-1.8h0m7.4-4.6h0m-7.2 5.8h0m1.5-.7h0m7 .9h0m-5.5-2.1h0m-2 1.3h0m4.1 1.5h0m-8.8-2.1h0m8.4 .2h0m-5.3-2.5h0m2.8 6.7h0m-4.4-5.1h0m7.7-6.5h0m-2 8.8h0m-1.4-7.5h0m-1.3-.4h0m-4.8 3.3h0m7.2-2.7h0m-2.7 10.2h0m4.2 0h0m4.5-5.8h0m-1.1-.9h0m-2.4 4.3h0m-4.8-3.8h0m-1.2 4h0m-.2 .6h0m4.9 1.7h0m-5-8.6h0m8.9 .8h0m-5.3 6.5h0m-5.6-5.7h0m7.1 1.5h0m-3.9-6.5h0m2.3 7.7h0m0 2.6h0m4.3-1.8h0m-5.7-5.5h0m-1.1 5.4h0m3.4 .5h0m-4.6-6.6h0m2.8 10.1h0m-50.9-23.4h0m-2.9-5.1h0m4.6 4.7h0m53.7-13.9h0m-6.9 3h0m-19.7 5.9h0m15.3-17.1h0m6.3 33.9h0m-54.3-19.4h0m6.2 1.6h0m45-21.9h0m-2.7 42h0m-20.4-10.7h0m13 13.5h0m11-.9h0m10.8-.3h0m-58.7-14.5h0m-4.8-3.3h0m3.3-5.5h0m47.9 20.3h0m-7.2 .2h0m11.8-1.9h0m6.6 2.8h0m-45.8 4.5h0m42.8-5.9h0m-7-36.3h0m-12.2 35h0m18.8 3.6h0m-8.9 5.4h0m-40.2-20h0m43.3 22.9h0m-50.6-28.9h0m36.1 16h0m-19.5-.5h0m27.6-38.8h0m4.5 42.4h0m-18.2-14.3h0m-29.4 1.2h0m30.3 1.6h0m-19.7 13.1h0m26.4-41.5h0m-25.3 26.5h0m2.6 19.5h0m34.6-7.3h0m.4 2.9h0m-.8 15.9h0m-47.9-28.3h0m29.4 14.1h0m-12.9-.9h0m39.5-9.2h0m-63.9-12.2h0m46.2-20.8h0m10.8 42.6h0m-7-28.5h0m-10.6 14.9h0m-7.6 19.1h0m3.2-19h0m22.1 13h0m-1 12.1h0m8.2-7.2h0m-46.1-7.6h0m14.3-9.2h0m28-9.6h0m-33.4 10.7h0m7.4-35.2h0m22.3 42.9h0m-1.3-33.4h0m1.5 9.7h0m-49.7 10.4h0m16.1 .3h0m25.9-24.1h0m2 42.5h0m-3.3-11.6h0m-1.2 5.5h0m2.6-36.8h0m3.5 43.7h0m-17.8 3.5h0m-12.3-41.7h0m-1 19.1h0m3.8 10.2h0m14.7-5.2h0m22.7 15.8h0m-31.5-38.4h0m3.3 18.8h0m-5 17.3h0m-1.1-21.4h0m37.4-8.6h0m-3.5 21.3h0m-26.4-11.7h0m28.7 22.2h0m-10.9-24.4h0m.5-23.4h0m-13.7 51.2h0m13.7-10.4h0m.8 7.4h0m-7.4-48.1h0m-28 12.9h0m34.4-14.1h0m-1.5 49.8h0m-33.1-16.1h0m40.3-12.6h0m-27.8 11.8h0m-26.2-2.7h0m42.9 20.4h0m9.4-9.3h0m-19.1-29h0m16.9 26.7h0m-49.9-15.4h0m53.2 10.2h0m-43.4 9.3h0m38.2-39h0m-16.4-6h0m26 48.2h0m-2.9-42h0m-2.6 38.4h0m3-2.2h0m-26.5 14.8h0m8.7 1.6h0m-23-22.5h0m42.3-15.1h0m-26.6 11.4h0m-2.5-1.3h0m-4 11.4h0m22.8-.2h0m-29 1.9h0m8-20.5h0m20.6-6.3h0m-13.4 32.7h0m1.3-2.3h0m2-13.1h0m-3 1.5h0m-1.3 3.9h0m21.8 4.4h0m-46.3-34h0m40 14h0m-11 19.9h0m-12.9 5.3h0m22.8-15.7h0m8.1 11.6h0m1.7-2.1h0m-27.8-14.7h0m4.5 18h0m19.3 1.7h0m-31.6-4.2h0m-3.6-26.2h0m-7.8 1.4h0m18.1 18.2h0m30-7.6h0m-.4 18.6h0m-15.8-12h0m8.5-29.2h0m-39.3 22h0m44.2 22.3h0m-16.3-52h0m21.5 47.9h0m.8-31.4h0m-64.2 13.3h0m51.1-25.5h0m-6.2 40.9h0m-41.4-14.8h0m52.2 14.9h0m2.1-27.8h0m-28.3 28.3h0m32.8 2.2h0m-10.3-38.3h0m-.4 30.5h0m-19.2-32.1h0m23.4 45.5h0m-15.5-40.2h0m-18.2 29.5h0m35.9 16h0m-9.2-4h0m-51.4-32.3h0m5.7-12h0m33.2 27.3h0m11.9-30.5h0m13.3 25.6h0m.4 23.2h0m-15-17.3h0m-10.5-12.1h0m-8.5-21h0m31 4h0m-58.5 16.2h0m53.4 18.2h0m-53.9-24.9h0m36.6 25.9h0m-37.4-28.4h0m21.1 12.8h0m-20.6-5.6h0m58.1 24.4h0m-23.6-15.4h0m-25 9.5h0m35.5-18.3h0m19.2 23.7h0m-23.1-.2h0m-5.3-14.8h0m-1.1-20.5h0m16.9 37.5h0m-40.1-16.9h0m43.2 20.8h0m-49.1-28.1h0m-4.1-9.8h0m58.6 33.5h0m-4.3-3.5h0m-1.1 5.7h0m-19-39.8h0m-4.1 45.7h0m-23.5-43h0m-1.1 14.3h0m50.6 18.3h0m-57.6-32.8h0m55.6 32h0m-5.6-7.4h0m5.3 3.9h0m5.3 11.6h0m-10.7-42.9h0m2.5 36.9h0m-39.8-18.8h0m13.6 2h0m28.3 17.4h0m-13.8-25.8h0m-14.6 2.3h0m-12.2 10.9h0m22 17.8h0m21.1-11.9h0m-7.4 13.7h0m1.2-55.2h0m11.1 16h0m-28.5-2.5h0m21.3 26.7h0m-46-17h0m53 19.3h0m-2.3 3.6h0m-3.5 6.4h0m9.4-3.7h0m-43-8.3h0m-23.4-14.1h0m47 19.1h0m17.2 12.9h0m-37.4-38.7h0m27.2 27.9h0m-24.1-10.4h0m38.8-16h0m-11.9 26.7h0m.8 4.6h0m6.4 .5h0m-54.7-28.9h0m24.5-11.8h0m19.1 7.7h0m-9.4 17.4h0m-41.3-15.3h0m38-17.3h0m-.8 13.5h0m6.5 29h0m7.3-1.9h0m-29.1-21.3h0m42.4-2.4h0m-8.9 25.4h0m8.1 1.4h0m-44.1-18.1h0m7.8 6.9h0m33.4 7.1h0m-5.9-2.2h0m-7.2-32.8h0m-46.2 15.1h0m45.7 8.5h0m-1.8-23.3h0m-34.1 31.9h0m11.9-29.4h0m-24.6 16.6h0m54.5 .2h0m6.2-6.6h0m-40.7 12.9h0m1.2-18h0m-21.7-2h0m17.9 31.4h0m-8.7-15.7h0m40.8 22.4h0m12.1-44.4h0m.3 18h0m-46.2-21.8h0m-1.6 22.3h0m-9.1-11.5h0m57.6 35.6h0m-35.1-33.1h0m5.5-3.1h0m2.6-.2h0m-13.1 11.6h0m-2.1 17.9h0m6.2-25.9h0m22.3 42.6h0m-34-20.1h0"/>
<path stroke="#3a76c0" stroke-width="1.56" stroke-linecap="round" d="M26.4 480.6h0m-6 3.4h0m5.2-1.2h0m-5.7-9.1h0m6 .7h0m-6 .4h0m-.7 1.7h0m-1.1 .6h0m1.4-2.1h0m8.7 3.7h0m-7.4 4.4h0m5.1-3.3h0m-3.3-4.9h0m1-1.2h0m-2.4 .5h0m50.8 34.3h0m6.1 1.8h0m-1-3.6h0m-5.1-5.7h0m.4 8.1h0m-.2-9.5h0m7.8 1.8h0m-4.7 9.1h0m-.7-6.2h0m-1.4-1.5h0m-2.2 .1h0m2.6-2.6h0m-2.7-34.6h0m-23.4 32.5h0m8.8-.3h0m-30.4-33.8h0m25.2 0h0m19.1 23.8h0m-14.4 6.2h0m-12.9-3.3h0m-23.4-15.9h0m56.5 14.8h0m-14.6 16.5h0m-34.7-27.5h0m46.4 29.6h0m-4.6-23.8h0m-11.2-7.9h0m22.2 28.6h0m-34.8-9.6h0m4 6.4h0m-2.1-24.9h0m38.2 22.1h0m-.7-33.1h0m-23.9 30.7h0m4.9 1.8h0m-17.6-41.1h0m-6.9 28.3h0m3.2-9.5h0m42.5 8h0m-25.7-8.3h0m6.2-13.5h0m-8.8-4.7h0m.1 15.5h0m-20.5 15h0m30.3 1h0m10.7 22.7h0m-54.7-32h0m12.4-16.9h0m-12.6 21.4h0m62.1 .9h0m-43.3 3h0m-4.1-4.7h0m26.9 16.5h0m-31.1-10.2h0m-15.3-16.1h0m46.7-11.6h0m5.5 41.6h0m1.9-6.9h0m-12.8 8.2h0m-24.9-17.6h0m5.1-6.1h0m-14.6 12.6h0m40.7 4.7h0m21-15.5h0m-30.3 14.1h0m-38.7-8.7h0m58.4-10.1h0m-9.2-19.4h0m-28.2 23h0m-7.2 11h0m-1.7-29.4h0m-4.8 14.1h0m39.1-10.5h0m4-3.5h0m-11.1 39.8h0m3.9-14.1h0m2.7-6.1h0m-7.2 15.1h0m11.9 8.6h0m-8.1-12.8h0m4-3.6h0m-1.2-31.9h0m16.9 56h0m-8.8-3.9h0m-30.8-22.3h0m27.3-27.5h0m12.2 44.2h0m-17.4-15.4h0m7.3 6h0m-18.3-10.9h0m-1.2 8.4h0m22.4 6.3h0m-33.9-8.7h0m14.5 15.9h0m22.8-37.3h0m-9.7 3.9h0m-28.6 14.5h0m-.5 7.9h0m44.9-9.1h0m-23.4-28.3h0m-4.2 36.3h0m-1.3-6h0m3.6 14.7h0m14.8 2.8h0m-37.8-11.4h0"/>
<path stroke="#3a9a7c" stroke-width="1.56" stroke-linecap="round" d="M22.2 485.8h0m-2.3-7.3h0m-3.3 .7h0m11.2 3.6h0m-10.9-3.8h0m3.2 3h0m-1.4-2.6h0m5.7-2.8h0m-7 1.9h0m9 2.6h0m-6.7-6.6h0m5 4.2h0m.8 5.4h0m-7.3-1.2h0m8.5-4.2h0m-9.2 1.7h0m9-6.3h0m-2.9 9.9h0m-5.9-4h0m10.7-3.6h0m-5.3 4.6h0m-1.6 1h0m3.2 1.6h0m-1.2-5.6h0m3.1-.5h0m.6 4.8h0m-3.6-8.8h0m-6.4 7.9h0m1.9-2.7h0m5.4 4.6h0m-2.6-6.6h0m6.7 .4h0m-7 5.5h0m.1-6.6h0m-1.9-1.8h0m3.4-1h0m5.7 7.3h0m-4.5 .4h0m46-3.8h0m2.9-5.5h0m-.6 3.1h0m1.5 1h0m-4.1 5.3h0m2.2-8.9h0m-4 .1h0m5.2 .4h0m-4.6 5.2h0m6.4 2.7h0m-3.8 1.1h0m-3.9 0h0m5.8-1.9h0m3.7-1.7h0m-5.4-5.1h0m5.3 5.3h0m.2-2.8h0m-11.5 4.4h0m3.6 1.9h0m3.6 1h0m-3.5-9.6h0m-.6 1.2h0m-1.1-1.9h0m4.8 10.5h0m-7.3-5.6h0m6-3.2h0m-1.7-3.7h0m.6 5.9h0m-3.2 3.1h0m6.5 1.6h0m-1.9-3.2h0m-.1 1.3h0m.1-1h0m3.1 1.4h0m-9-2.6h0m11.9-1.1h0m-2.5 4.3h0m-.9-1h0m-7.7-1.1h0m9.9-4.2h0m-3.1 8.8h0m-2.1-7.5h0m1.9 2.8h0m1.7-6.8h0m1.5 7h0m-10.6-2.9h0m6.7 1.9h0m-1.2-1.8h0m-4-2.7h0m2.9 .6h0m3.8-2.2h0m-1.7 4.6h0m-4.2 2.5h0m1.2-.2h0m2-4.4h0m-3.1 4.2h0m-.3-4.3h0m2.6 8.4h0m4.7-9.6h0m4.9 31.3h0m-7.6 4.9h0m6.1-3.5h0m-4.1 2.4h0m-3.2-2.4h0m.6 .3h0m4.8 5.1h0m5.5-3.9h0m-4 2.9h0m-4.9 .3h0m5.1-6.8h0m-3.4 5.5h0m2-10.4h0m2.2 7.3h0m-12.6-11.7h0m-40.8-13.7h0m32.7-11.2h0m26.5 41.4h0m-28.8-12.6h0m17.4-25.5h0m-46.3-2.6h0m55.7 19.3h0m-44.3-5.8h0m-18.2-5h0m37 28.6h0m-30.7-43.2h0m23.8 21.1h0m25.9 24.2h0m9.6 .3h0m-11.5 3.1h0m-29.1-5.7h0m6.6-10.6h0m-15.8-24.8h0m4.2 25.8h0m4.5-.9h0m6.8-4.8h0m-9.9-12.4h0m25.8-9.2h0m-7.5 20.4h0m-30 9.3h0m21.9-.7h0m16.4-4.5h0m8.2-22.4h0m-41.7-2.3h0m7.2 6.4h0m32.9-8.1h0m.2 33.6h0m-43.7-24.7h0m22.4-19.4h0m-19.2 25.1h0m35.5 7.9h0m-13.5 3.7h0m15.2 10.7h0m7.3-10.2h0m-49.1 1.5h0m29.9-20.2h0m4.3-13.8h0m-25.4 25.9h0m9.1 20.7h0m5.7-16.2h0m-2.7 1.4h0m-.7-31.7h0m-27 8.4h0m24-1.3h0m8.6 17h0m-17.1-19.8h0m37.7 40.5h0m-32.9-6.3h0m-2.1-40.3h0m6.7 31h0m-29.4-18.6h0m65.2 27.3h0m-42.8-12.1h0m15.4-19.9h0m-38.3 3.2h0m47.4-2.9h0m-4.6-5.2h0m6.7 38.8h0m-10.4-16.2h0m-7.1 5.6h0m13.9 18.2h0m1.1-49.4h0m8.6-.9h0m-22.1 35.8h0m19.3-36.5h0m-52.8 21h0m11.6 11h0m41.4-30.8h0m17 32.7h0m-61.4-2.2h0m36.6-17.8h0m-30.2 1.7h0m38.6-15.4h0m-17.3 41.3h0m.8-11.3h0m-18.3-29h0m1.7 44.2h0m-12-6.7h0m27-32h0m10.3 10.1h0m2.1 19.4h0m-25.7-35.4h0m10.6 28.2h0m-6.1 23.4h0m8.6-4.8h0m12.5-26.2h0m-16.4-8.3h0m6.3-13.8h0m15.7 31.3h0m-.3-27.7h0m-14.5-1.8h0m-24.7 23.4h0m26.8 15.7h0m-4.5 1.3h0m7.3-30h0m.7 25.8h0m7.1 .9h0m12.2 7.9h0m-3.3-30.3h0m-42.1 14.3h0m8 4.4h0m13-4h0m11.1 14.6h0m-20.8-38.7h0m-13 31.1h0m43.1-17.6h0m-19.7-19.3h0m14.6 34.3h0m-40.4-8.6h0m-.8 2h0m37.7 7.7h0m-24.3-6.5h0m25.3-22.2h0m-34.1 23.5h0m28.5 12.8h0m5-5.7h0m-45.1-19.6h0m30.9 27.3h0m-38.3-24.2h0m54.8 18.5h0m-26.2 .7h0m23.2 4.8h0m-1.2-8.6h0m-8.3-2.9h0m16.5-17.8h0m-29.8-11.8h0m20.7 43.6h0m-43.1-39.1h0m14 34.6h0m42-8.2h0m-44.5-12.6h0m50.5 13.4h0m-51.9-33.5h0m-14.8 23.9h0m63.5-6.7h0m-65-3.3h0m63 38h0m-44.6-18.9h0m5.2-30h0m19.3 3.9h0m-39.3 16.9h0m6.7 6h0m51.4-29.7h0m-57 6.1h0m9.9 24.3h0m2.1-7.7h0m-4.9 6.6h0m-1.4-10.9h0m13.3-17.5h0m19.2 11.1h0m-8.5 20.9h0m-26.3-20.8h0m33.5 30h0m23 7.9h0m-2.7-9.7h0m-18.5-5.3h0m-42-11.4h0m36-19.9h0m.7-1.2h0m-27.1 23.8h0m15.3 1h0m31.2-26.7h0m-8.5 44.4h0m16.6-39.8h0m-15.6 9.2h0m-4.9-2.9h0m-18.3 16.1h0m31.5-11.7h0m-52-.5h0m33.9 21.3h0m25-14.6h0m-11.2 4.1h0m.3-23.6h0m-41.3 34h0m28.8-6.8h0m-32.8-16.8h0m-4.7 11.2h0m27.6-17h0m-5.6 25.8h0m37.7 14.3h0m-9.4-10.5h0m12.9 8.2h0m-16-39h0m4.6 11.9h0m-37.1 12.4h0m-6.9-1.1h0m-6-4.9h0m59-11.3h0m-19 16.7h0m-18.7-2.9h0m-22.7 3.2h0m6.2 3h0m7.9-22.3h0m14.4-1.4h0m9 21.1h0m-17 14.8h0m-11.6-15.1h0m51.8 15.5h0m-12.3-14.2h0m7.2 20.4h0m-57.9-36.7h0m41.6-7.9h0m16.5 39.8h0m-50.7-33.4h0m59 31.4h0m-3.7-5.2h0m-35.3-36.6h0m-14 14.9h0m-4.1-.4h0m22.4 28h0m2-49.6h0m7.5 53.2h0m-4.3 2.3h0m-20-8.4h0m-4.5-24.9h0m12.6-21.4h0m-1.8 8.1h0m27.5-6.5h0m-10.5 35.1h0m-39.3-18.4h0m11.3-1.7h0m10.5-9.3h0m42.6 42.2h0m-51.6-32.2h0m-6.2 20.1h0m41.6 5.5h0m-37.6-22.5h0m.7-1.2h0m-5.5 5.2h0m42.4 6.8h0m-8.2-12.3h0m1.8-2.5h0m22.4 5.9h0m-3.2 13h0m-12.4 2.9h0m-11.5-9.5h0m-28.7-2.8h0m12.7-.1h0m6.4 4.6h0m-32.1-9.2h0m2.7-1.7h0m24.5 5.7h0m-13.7 6.5h0m53.8-16.1h0m-15.3 18.5h0m6.8-9h0m-18.6-20.7h0m1.4 28.4h0m-39.6-15.5h0m-2.3 6.6h0m47.7-22.3h0m-28.7 33.4h0m23.7-16.2h0m-16.3-10.8h0m43.8 36h0m-29.5-12.3h0m-18.9-17.2h0m25.3 35.8h0m-44.5-21.7h0m47.4 11.7h0m-16.5-13.1h0m2.2-3.8h0m-12.8-13.5h0m32 32.3h0m-20.5-43.4h0m-14.8 18h0m5.7-12.7h0m46.2 17.3h0m-31.9-15.5h0m-10.9 28.1h0m42.1 15.8h0m-25.9-42.8h0m-33.6 6.1h0m44.5 37.3h0m-30.7-49.8h0m17.1 52.5h0m11.7 7.9h0m.7-39h0m-10.5-9.9h0m-3.9 37.3h0m-33-35h0m35-4.6h0m-23.2 26h0m43.8-14.6h0m-5.2 15.1h0m-25.2 8.7h0m23.6-43.2h0m-8.1-.1h0m19 53.7h0m-26.2-19.3h0m-35.1-18.6h0m37.9 34.9h0m-14.3-15.3h0m.3-6h0m-11.1-1.7h0m23.9 21.4h0m5.6-2.6h0m-12.7-10.1h0m29 1.1h0m-40.6-16.2h0m-1.4 1.4h0m20.4-12.1h0m12.9-8.2h0m-22.7 34.8h0m21.8-20.7h0m-22 28.4h0m-24.4-32.4h0m60.9 35.4h0m-45.6-14.8h0m46.5 13.9h0m-18.9-28.2h0m17.3 23.3h0m-28.1-1.8h0m-32.2-17.4h0m23.4 6.1h0m38.5 3.2h0m-57-15.2h0m18.8-.7h0m.9 35.8h0m-1.5-32.9h0m-7.7-8.5h0m23.3 20h0m-37.2-16.4h0m29 31.9h0m-20.1-36h0m20.6 29.1h0m28.5 8.1h0m-8.8-35.6h0m-9.2 .7h0m-21.8 18.9h0m-19.4-9.8h0m40.6 14.6h0m-28.5-14h0m7.6-23.4h0m24.4 41.8h0m-20.4 5.6h0m-12.4-23.7h0m20.2 16.2h0m-33.6-22.2h0m56-10.8h0m2.7 46.8h0m-33.6-22.1h0m23.2 7h0m-13.7-12.4h0m-23.1-5.6h0m4.6 12.9h0m-2.3 1.2h0m36.6 12.4h0m-47.2-21.3h0m4.8-4.1h0m28.6-8.7h0m-24.1-7.3h0m5.2 26.2h0m19.9 14.3h0m-22.7-20.3h0m8.1 10.5h0m20.2-16.7h0m-10.2 15.8h0m23.2-18h0m-38.3 7.7h0m.6 15.6h0m.8-33.5h0m14.1 34.6h0m-6.1-37.9h0m5 1.2h0m7.4 21.8h0m-30.5-6.5h0m11.1 6.2h0m8.4 10.1h0m17.5 12.1h0m-17.9-18.7h0m4.3-4.6h0m-28.9-12.6h0m38.8-6.3h0m-4.1 30.3h0m7.2-2.9h0m-11.6-32.9h0m-4.1 42.4h0m-1.2-8.4h0m-32.6-12.2h0m47.8 24.4h0m-46.2-27.5h0m23.8-.1h0m20.2-8.6h0m11.6 18.7h0m-21.9 21.1h0m8.6-3.2h0m-21.1-17.3h0m-23.7-14.9h0m25 13.8h0m11.4-12.7h0m2.8 12.1h0m4.2-3.8h0m1.3-19.6h0m-1.4 30.4h0m2.9-27.7h0m14 43.2h0m-34.4-19.2h0m43.1 15.2h0m-39.2-12.6h0m-6.7 13.9h0m8.8-42.7h0m18.7 9.5h0m-.5 25.2h0m-15.7-18h0m-33.2-1.8h0m25 6.2h0m42.5 4.6h0m-6.9-2.8h0m-23.9-6.3h0m6.4 8.1h0m13.8-2.7h0m-43.2 4.6h0m37 1.2h0m-17.1-24h0m-23.2 6.1h0m32.3 15.8h0m13.2 12.2h0m-15.5 .2h0m4.4-1.1h0m-37.5-27.9h0m38.1 22.7h0m21.7-19.3h0m-21.2 16.9h0m7.4-28.7h0m3.4 45.4h0m-7.5-34.4h0m-3.1 22.8h0m-14.2-9.4h0m16.6-13.3h0m.6-11.2h0m-43.4 7h0m33 19.6h0m-8.1-19.8h0m2.5 9.3h0m.7 10.2h0m22.2-22.8h0m-46.3 27h0m27.3-12.6h0m5.3 34.3h0m6.2-16.8h0m-36.2-37.5h0m26.9 11.5h0m-27-8.7h0m31.1-1.8h0m26.1 35.9h0m-37.3 12h0m-9.1-27.3h0m.2 1.8h0m28.1 11.8h0m-25.5-11.9h0m-17.3-19.5h0m25.5 21h0m7.2-4.5h0m-18.9 12.5h0m23-37.4h0m-4.7 9.3h0m-9.7 29.7h0m23.6 .5h0m-9.6-31.6h0m-32 5.4h0m-11.2-1h0m10.1 .6h0m-4.9 5.2h0m10.7-9.6h0m49.7 39.5h0m-7.3-14.1h0m5.2-4.2h0m-18.2-17.7h0m19.4 33.9h0m-8.1 4.5h0m-22.1-48.9h0m6 39h0m11.9-4.5h0m-43.1-20.7h0m-4.4 8.2h0m35.2 14.6h0m-18.5-10.1h0m20.6 5.3h0m15.6 25.6h0m-61-43.5h0m48 1.2h0m-14.5 23.8h0m-8.6 5.9h0m22.1-.6h0m-31.8-28.1h0m-6.6 8.9h0m1.3 4.1h0m-7.9-10.1h0m7.5 7.8h0m52 29.5h0m-13.4-44.2h0m18.4 8.4h0m-21.7 3.4h0m-22.5-23h0m-22.5 13.1h0m42.7 13.9h0m-19.9-12.1h0m36.7 15.8h0m-41.5-11h0m34.8 30h0m-10.8-12.3h0m19.6-17.4h0m-38.6 7h0m-1.2-.5h0m33.8-13.8h0m-42.2-7.7h0m44.5 32.3h0m-26.4-35.5h0m-16.1 37.4h0m18.2-4.7h0m-13.8-26.5h0m22.3 23h0m-32.6-11.8h0m30.1 6.1h0m31.3 4.4h0m-67.5-10.9h0m36.1 14.6h0m4-30.4h0m-29.1 28.8h0m35.8-31.5h0m6.6 35.5h0m-50.6-16.4h0m24.8 23h0m18.7-38.4h0m-29.8 14.6h0m6.3 8.9h0m7.6-21.4h0m-28 3.9h0m14.8 16.1h0m14.7-.6h0m27.6 29.3h0m-28.8-39.1h0m-12.3 28h0m-2.6-11.7h0m35.6-26.3h0m-13.4 49h0m21.6-14.6h0m-42.6-14.5h0m-8.4-21.2h0m37.5 39.2h0m-43.4-26.2h0m26.9-9.5h0m20.8 42.8h0m-33.5-17.1h0m30.2 14.9h0m-8-44.1h0m6.4 26.4h0m15.2 22.7h0m-14.3-13.4h0m-28.2-32h0m-.6 16.8h0m35.4-11.9h0m-20.6 24.7h0m3.2-18.1h0m-16.8 5h0m-19.2-7.4h0m44.5-6.4h0m-41.4 16.6h0m44.5 16h0m-1.9-11.7h0m-8.6-4.8h0m-28.4-13.9h0m43.4 2.8h0m-3-14.1h0m-13.8 37.2h0m9.9-7.7h0m-26.6-13h0m22.1-19.1h0m-33.1 22.5h0m59.3 14.6h0m-44.1 3.7h0m27.9-8.3h0m7.9-17.5h0m4.4 8.7h0m-43.8 16.7h0m29.9-40.4h0m-19.6 33.4h0m-31-20.7h0m18.6 13.3h0m13.2 4h0m1.1 15.4h0m2.2-16h0m21.7 5.4h0m-12.8 1h0m-18.7-6.1h0m9.8-19.5h0m-29.5 19.9h0m34.4 20.6h0m-18.1-21h0m38.1-6.2h0m-59.8-.4h0m37.3 6.4h0m16.3-15.7h0m-21.6-4.1h0m-3.7 39h0m17.4-16.1h0m2.8 14.9h0m-45.4-19h0m7.6-11.1h0m11.2 9.3h0m24.4 2.2h0m-1.3 11.6h0m-.6-34h0m-26.5 22h0m28.6-8.9h0m-7.2-21.4h0m3.4 44.5h0m-21.8-43.1h0m22.6 32.6h0m-20 17h0m16.9-11h0m-13.8-11.9h0m-17.8-6.7h0m30.9 17.2h0m24.2-7.8h0m-17.1-14.7h0m-43.6 13.4h0m30.6-19.8h0m-27.8 26.4h0m6.9-15.5h0m35.3-12.9h0m-41.2 7.6h0m28.2 21.5h0m-3-29.3h0m26.6-1.1h0m-13.8 38.9h0m-20.2-26.6h0m-2.4 23h0m-9.7-16.9h0m26.7-18.4h0m-38.4 11.1h0m27.2 26.2h0m-.3-17.3h0m12.8 21.6h0m.3-13h0m-5.1-10.7h0m-24.5 2.4h0m44.4 21.4h0m-38.4-7.7h0m29-26.7h0m-43.8-3.4h0m19.6 13.9h0m28.4-24.5h0m-7.6 52.8h0m-19.1-9.2h0m24.2-33.4h0m-9.1 38.9h0m8.8-33.6h0m19.1 9.8h0m-34.7 8.5h0m-19.9-19.7h0m-13.1 7h0m43.1 10.4h0m-.4 5.3h0m26.2 7.9h0m-28.5-21.8h0m-4.9-10.5h0m-9.3 23.9h0m28.3-27.6h0m4.9 23.2h0m-38.9-8.5h0m30.9-7h0m-21.1 17h0m37.2-13.1h0m-8.7 21.6h0m2.8-35.8h0m-17.8-4.1h0m23.4 19.9h0m-49.1 14.3h0m10-2.3h0m-14.8-17.2h0m38.8-3.5h0m1.9 36.8h0m-.2-39.9h0m-49.3 23.4h0m36.8 7h0m-2.7-33.4h0m5.2 .3h0m-36.9 6.3h0m15-6.5h0m-12.4 24.2h0m56 13.8h0m-29.9 1.8h0m-14.4-8.7h0m37.2-31.6h0m-2.9 34.6h0m-36.5-20.7h0m-5.2 6.2h0m47.7 19.3h0m-56.7-16.9h0m47.5-14.6h0m14.1 25.2h0m-31.1-7.7h0m-25.2 .1h0m31.3 1.7h0m6.5 15.4h0m-39.8-29h0m15.5-8.3h0m5.5-11.4h0m-20 13.2h0m42.4 33.9h0m-30.2-43.6h0m-1.8 14.5h0m48 33.8h0m-37.7-19.6h0m35.8 20.6h0m-6.5-39.4h0m-13.4 6.7h0m15.1-9.2h0m-6.7 31h0m-37.6-15.8h0m3.2 11.4h0m38-25.5h0m-9.6 19.4h0m-18.9 9.5h0m5.6-1.6h0m-30.6-26.6h0m22.9 20.2h0m40.3-4.7h0m-17.4-27.8h0m-7.6 44.2h0m24.6-18.7h0m-20.9 18.1h0m21.4 6.4h0m-54.4-20.6h0m18.6 19.2h0m-9-20.9h0m28.4-22.5h0m3 3.4h0m-49 11.6h0m22.3-5.9h0m-14.7 1h0m34.7-15.2h0m-25.7 40.3h0m32.5-22h0m-5.1 28.3h0m16.9 8.3h0m-26.6-6.9h0m-25.5-23.2h0m52.8 7.8h0m-38.3 8.5h0m15.8 3.7h0m-40.9-20.9h0m35.8 6.1h0m2.5 8.3h0m-34.7-12.2h0m15.4-17.6h0m21.8 17.3h0m-21.4 16.6h0m29.9-37.7h0m-47.6 15.7h0m37.7-7.4h0m-23.2 21.5h0m13.7 0h0m-29-11.4h0m33.7 11.6h0m15.6-18.9h0m-37.9 11.3h0m31-10.2h0m-32.3 5.8h0m11.6-22.4h0m22.2 7h0m22.5 30.3h0m-67.3-27.2h0m45.7-3.1h0m-11.9 35.9h0m12.6-17.5h0m14.9 23.6h0m-30.3-15.4h0m5.5 9.3h0m13.4-28.4h0m-15.4 26.2h0m29.2-.3h0m-45.3-15.9h0m30.8 29.2h0m6.7 1h0m-50.8-25.6h0m-8.6-14.8h0m18.1-2.1h0m31.8-5.7h0m-4.2 35h0m-.9 1.1h0m-11.1-36.1h0m1.1 23.6h0m-19.3 1.1h0m-2.5-1.2h0m28.6-28.5h0m-14.5 16.8h0m39.9 .4h0m-26.5 14.4h0m24.7 22.6h0m-33.6-52.8h0m18 41.6h0m-41.5-17.3h0m55.1 22.7h0m-19.5-20.4h0m1 9.7h0m7.1-32.3h0m13.2 43.2h0m-29.6-10.5h0m15.1 7.9h0m-35.8-25.8h0m48.4 9h0m-59.3 1.2h0m12.9-1.4h0m28.8-29.1h0m-24.7 24.8h0m-16.2 .7h0m15.8 6.4h0m28.7 6.4h0m-23.2-12.7h0m18.8 15.3h0m-2.5-16h0m17.4 3.1h0m-31.2-29h0m37.5 49.2h0m-50.2-14h0m-.2-23.6h0m45.1 8.2h0m-22.8 6.4h0m4.3 13.1h0m20.4-3.1h0m-42.2-11.4h0m11.6 28.3h0m-19.7-33h0m48.4 33.4h0m-34.1-16.6h0m28.2-4.5h0m-30.5-.9h0m-4.3-.6h0m45.7 20.6h0m-4.2-30.5h0m2-7.6h0m-7.4 16.9h0m-18.6 7.8h0m8.1-38.8h0m-35.4 29.3h0m43.6 17.1h0m-48.1-29.7h0m55.5 30.4h0m3.9-1.8h0m-7.5-7.8h0m-33.2 2h0m19-36.8h0m4.5 33.9h0m5.2-.9h0m-47.9-21.7h0m39.1 29.5h0m5.1-6.4h0m-15.2 18.8h0m13.1 3.3h0m-38.9-35.5h0m54.4 33.9h0m-15.1-49.3h0m4.6 12.3h0m-51.2 3.6h0m50.8 11.8h0m-30.7-16.5h0m30.7-9h0m-49.1 2.1h0m57.1-8h0m-39 38.9h0m35.1-17.7h0m-20.2 13.6h0m-24.1-25.2h0m44.1 24.6h0m-5.4-8.1h0m.2 1.3h0m-11.5-22.7h0m11.6 41.1h0m-2.3-4.1h0m12-31.2h0m-40-5.7h0m44.9 41.6h0m-54-16h0m-1.8-22.6h0m39.4-12.1h0m15.1 45.7h0m-48.7-22.9h0m55-2.7h0m-48.6 24.5h0m25.6-1.7h0m-37-19.7h0m37.5-8.5h0m-12.4 37.5h0m-22.9-10.1h0m44.4-40.2h0m-21.1-.8h0m-16.5 29.3h0m29.4-3.6h0m-35.1-5.5h0m-2.9-2.8h0m44.4 10h0m-16.8-16.5h0m29.4-2.6h0m-33 23h0m10.7 28.6h0m23.7-12.1h0m-6.1-41.9h0m5.6-3.3h0m-31.8 28.5h0m27.5 29h0m-27.5-65.6h0"/>
<circle cx="23" cy="479.4" r="7.3" fill="none" stroke="#4fb8e6" stroke-width="1.6"/>
<circle cx="70.8" cy="476.5" r="7.6" fill="none" stroke="#d4600e" stroke-width="1.6"/>
<circle cx="77" cy="504.4" r="7.6" fill="none" stroke="#4c1a88" stroke-width="1.6"/>
<rect x="130.1" y="509.18" width="17.6" height="9.22" fill="#e06a2c"/>
<rect x="130.1" y="499.27" width="17.6" height="9.9" fill="#3a76c0"/>
<rect x="130.1" y="456.5" width="17.6" height="42.77" fill="#3a9a7c"/>
<rect x="149.7" y="476.18" width="17.3" height="42.22" fill="#e06a2c"/>
<rect x="149.7" y="472.72" width="17.3" height="3.47" fill="#3a76c0"/>
<rect x="149.7" y="456.5" width="17.3" height="16.22" fill="#3a9a7c"/>
<rect x="169.4" y="510.79" width="17.3" height="7.61" fill="#e06a2c"/>
<rect x="169.4" y="509.18" width="17.3" height="1.61" fill="#3a76c0"/>
<rect x="169.4" y="456.5" width="17.3" height="52.68" fill="#3a9a7c"/>
<path d="M128.6 451.5V521.3H187.6" stroke="#000" stroke-width="0.75" fill="none"/>
<path d="M126.8 456.5H128.6" stroke="#000" stroke-width="0.5"/>
<text x="125.8" y="458.2" font-size="4.9" textLength="8.58" lengthAdjust="spacingAndGlyphs" text-anchor="end" fill="#383838" stroke="#383838" stroke-width="0.12">1.00</text>
<path d="M126.8 471.98H128.6" stroke="#000" stroke-width="0.5"/>
<text x="125.8" y="473.68" font-size="4.9" textLength="8.58" lengthAdjust="spacingAndGlyphs" text-anchor="end" fill="#383838" stroke="#383838" stroke-width="0.12">0.75</text>
<path d="M126.8 487.45H128.6" stroke="#000" stroke-width="0.5"/>
<text x="125.8" y="489.15" font-size="4.9" textLength="8.58" lengthAdjust="spacingAndGlyphs" text-anchor="end" fill="#383838" stroke="#383838" stroke-width="0.12">0.50</text>
<path d="M126.8 502.92H128.6" stroke="#000" stroke-width="0.5"/>
<text x="125.8" y="504.62" font-size="4.9" textLength="8.58" lengthAdjust="spacingAndGlyphs" text-anchor="end" fill="#383838" stroke="#383838" stroke-width="0.12">0.25</text>
<path d="M126.8 518.4H128.6" stroke="#000" stroke-width="0.5"/>
<text x="125.8" y="520.1" font-size="4.9" textLength="8.58" lengthAdjust="spacingAndGlyphs" text-anchor="end" fill="#383838" stroke="#383838" stroke-width="0.12">0.00</text>
<path d="M138.9 521.3V523" stroke="#000" stroke-width="0.5"/>
<text x="138.9" y="531.8" font-size="5" textLength="12.01" lengthAdjust="spacingAndGlyphs" text-anchor="middle" fill="#383838" stroke="#383838" stroke-width="0.12">Root1</text>
<path d="M158.35 521.3V523" stroke="#000" stroke-width="0.5"/>
<text x="158.35" y="531.8" font-size="5" textLength="12.01" lengthAdjust="spacingAndGlyphs" text-anchor="middle" fill="#383838" stroke="#383838" stroke-width="0.12">Root2</text>
<path d="M178.05 521.3V523" stroke="#000" stroke-width="0.5"/>
<text x="178.05" y="531.8" font-size="5" textLength="17.76" lengthAdjust="spacingAndGlyphs" text-anchor="middle" fill="#383838" stroke="#383838" stroke-width="0.12">Endpoint</text>
<text transform="translate(108.8 486.6) rotate(-90)" font-size="5.3" text-anchor="middle" fill="#333" textLength="32.3" lengthAdjust="spacingAndGlyphs">Rel. proportion</text>
<text x="192.5" y="455.5" font-size="4.6" textLength="12.2" lengthAdjust="spacingAndGlyphs" font-weight="bold" fill="#000">Phase</text>
<rect x="192.5" y="459.3" width="7.5" height="7.8" fill="#3a9a7c"/>
<text x="203.5" y="464.9" font-size="4.8" textLength="5.76" lengthAdjust="spacingAndGlyphs" fill="#383838" stroke="#383838" stroke-width="0.12">G1</text>
<rect x="192.5" y="467.1" width="7.5" height="7.8" fill="#3a76c0"/>
<text x="203.5" y="472.7" font-size="4.8" textLength="9.36" lengthAdjust="spacingAndGlyphs" fill="#383838" stroke="#383838" stroke-width="0.12">G2M</text>
<rect x="192.5" y="474.9" width="7.5" height="7.8" fill="#e06a2c"/>
<text x="203.5" y="480.5" font-size="4.8" textLength="2.88" lengthAdjust="spacingAndGlyphs" fill="#383838" stroke="#383838" stroke-width="0.12">S</text>
<text x="307.8" y="315.7" font-size="11.5" textLength="8.05" lengthAdjust="spacingAndGlyphs" font-weight="bold" fill="#000">G</text>
<path stroke="#dc979a" stroke-width="5.23" d="M321.6 325.4h29.3"/>
<path stroke="#d4d4e9" stroke-width="5.23" d="M350.5 325.4h29m-29 9.6h29"/>
<path stroke="#bebdde" stroke-width="5.23" d="M379 325.4h29.3m-29.3 19.2h29.3"/>
<path stroke="#da9599" stroke-width="5.23" d="M321.6 330.2h29.3"/>
<path stroke="#d3d3e8" stroke-width="5.23" d="M350.5 330.2h29"/>
<path stroke="#bfbedf" stroke-width="5.23" d="M379 330.2h29.3"/>
<path stroke="#dd989b" stroke-width="5.23" d="M321.6 335h29.3m-29.3 9.6h29.3"/>
<path stroke="#c1c0e0" stroke-width="5.23" d="M379 335h29.3m-29.3 4.8h29.3"/>
<path stroke="#de999b" stroke-width="5.23" d="M321.6 339.8h29.3"/>
<path stroke="#d8d8eb" stroke-width="5.23" d="M350.5 339.8h29m-29 4.8h29"/>
<path stroke="#db969a" stroke-width="5.23" d="M321.6 349.3h29.3"/>
<path stroke="#d6d6ea" stroke-width="5.23" d="M350.5 349.3h29"/>
<path stroke="#c3c2e1" stroke-width="5.23" d="M379 349.3h29.3"/>
<path stroke="#dd9b9d" stroke-width="5.62" d="M321.6 354.3h29.3"/>
<path stroke="#e6e6f2" stroke-width="5.62" d="M350.5 354.3h29m-29 5.2h29"/>
<path stroke="#adadd7" stroke-width="5.62" d="M379 354.3h29.3"/>
<path stroke="#de9c9d" stroke-width="5.62" d="M321.6 359.5h29.3m-29.3 5.1h29.3"/>
<path stroke="#ababd5" stroke-width="5.62" d="M379 359.5h29.3"/>
<path stroke="#e8e8f4" stroke-width="5.62" d="M350.5 364.6h29"/>
<path stroke="#a9a9d4" stroke-width="5.62" d="M379 364.6h29.3"/>
<path stroke="#db9799" stroke-width="4.78" d="M321.6 369.4h29.3"/>
<path stroke="#c6c6e2" stroke-width="4.78" d="M350.5 369.4h29"/>
<path stroke="#cdcde7" stroke-width="4.78" d="M379 369.4h29.3"/>
<path stroke="#de9a9b" stroke-width="4.78" d="M321.6 373.7h29.3"/>
<path stroke="#c7c7e2" stroke-width="4.78" d="M350.5 373.7h29"/>
<path stroke="#d3d3eb" stroke-width="4.78" d="M379 373.7h29.3"/>
<path stroke="#dd999a" stroke-width="4.78" d="M321.6 378.1h29.3"/>
<path stroke="#c5c5e1" stroke-width="4.78" d="M350.5 378.1h29"/>
<path stroke="#d2d2ea" stroke-width="4.78" d="M379 378.1h29.3"/>
<path stroke="#db9b9e" stroke-width="4.95" d="M321.6 382.5h29.3"/>
<path stroke="#b5b5db" stroke-width="4.95" d="M350.5 382.5h29"/>
<path stroke="#e1e1f1" stroke-width="4.95" d="M379 382.5h29.3m-29.3 4.5h29.3"/>
<path stroke="#de9e9f" stroke-width="4.95" d="M321.6 387h29.3"/>
<path stroke="#b4b4da" stroke-width="4.95" d="M350.5 387h29"/>
<path stroke="#e2a6a8" stroke-width="5.36" d="M321.6 391.7h29.3m-29.3 34.3h29.3m-29.3 4.9h29.3"/>
<path stroke="#f3f1f6" stroke-width="5.36" d="M350.5 391.7h29m-29 14.7h29"/>
<path stroke="#9f9fd2" stroke-width="5.36" d="M379 391.7h29.3"/>
<path stroke="#e4a8a9" stroke-width="5.36" d="M321.6 396.6h29.3m-29.3 24.5h29.3"/>
<path stroke="#f9f7fa" stroke-width="5.36" d="M350.5 396.6h29m-29 34.3h29m-29 14.8h29"/>
<path stroke="#a4a4d5" stroke-width="5.36" d="M379 396.6h29.3m-29.3 19.6h29.3m-29.3 14.7h29.3"/>
<path stroke="#e1a5a7" stroke-width="5.36" d="M321.6 401.5h29.3m-29.3 9.8h29.3"/>
<path stroke="#f7f5f9" stroke-width="5.36" d="M350.5 401.5h29m-29 19.6h29m-29 4.9h29"/>
<path stroke="#a5a5d6" stroke-width="5.36" d="M379 401.5h29.3"/>
<path stroke="#e0a4a7" stroke-width="5.36" d="M321.6 406.4h29.3m-29.3 29.5h29.3"/>
<path stroke="#a1a1d3" stroke-width="5.36" d="M379 406.4h29.3"/>
<path stroke="#f6f4f8" stroke-width="5.36" d="M350.5 411.3h29"/>
<path stroke="#a3a3d5" stroke-width="5.36" d="M379 411.3h29.3"/>
<path stroke="#e3a7a9" stroke-width="5.36" d="M321.6 416.2h29.3m-29.3 29.5h29.3"/>
<path stroke="#f8f6f9" stroke-width="5.36" d="M350.5 416.2h29m-29 24.6h29"/>
<path stroke="#a0a0d3" stroke-width="5.36" d="M379 421.1h29.3m-29.3 4.9h29.3m-29.3 14.8h29.3"/>
<path stroke="#f4f2f7" stroke-width="5.36" d="M350.5 435.9h29"/>
<path stroke="#a2a2d4" stroke-width="5.36" d="M379 435.9h29.3m-29.3 9.8h29.3"/>
<path stroke="#e3a7a8" stroke-width="5.36" d="M321.6 440.8h29.3"/>
<path stroke="#df9395" stroke-width="4.75" d="M321.6 450.3h29.3"/>
<path stroke="#9e9ed0" stroke-width="4.75" d="M350.5 450.3h29m-29 4.3h29"/>
<path stroke="#f4e3e5" stroke-width="4.75" d="M379 450.3h29.3"/>
<path stroke="#e29697" stroke-width="4.75" d="M321.6 454.6h29.3"/>
<path stroke="#fae9e9" stroke-width="4.75" d="M379 454.6h29.3"/>
<path stroke="#f5f0f4" stroke-width="5.62" d="M321.6 459.3h29.3"/>
<path stroke="#df9b9d" stroke-width="5.62" d="M350.5 459.3h29"/>
<path stroke="#a2a2d5" stroke-width="5.62" d="M379 459.3h29.3m-29.3 5.2h29.3"/>
<path stroke="#f1ecf2" stroke-width="5.62" d="M321.6 464.5h29.3"/>
<path stroke="#e29e9f" stroke-width="5.62" d="M350.5 464.5h29"/>
<path stroke="#f3eef3" stroke-width="5.62" d="M321.6 469.6h29.3"/>
<path stroke="#df9b9e" stroke-width="5.62" d="M350.5 469.6h29"/>
<path stroke="#a5a5d7" stroke-width="5.62" d="M379 469.6h29.3"/>
<path stroke="#b9b9dc" stroke-width="6.15" d="M321.6 475.1h29.3"/>
<path stroke="#e2a4a7" stroke-width="6.15" d="M350.5 475.1h29"/>
<path stroke="#e5e5f2" stroke-width="6.15" d="M379 475.1h29.3"/>
<path stroke="#f8f6f9" stroke-width="5.75" d="M321.6 480.6h29.3"/>
<path stroke="#a3a3d4" stroke-width="5.75" d="M350.5 480.6h29"/>
<path stroke="#e4a4a5" stroke-width="5.75" d="M379 480.6h29.3m-29.3 5.3h29.3"/>
<path stroke="#f4f2f7" stroke-width="5.75" d="M321.6 485.9h29.3"/>
<path stroke="#a6a6d5" stroke-width="5.75" d="M350.5 485.9h29"/>
<path stroke="#d2d2e9" stroke-width="5.88" d="M321.6 491.2h29.3m-29.3 5.5h29.3"/>
<path stroke="#c2c2e1" stroke-width="5.88" d="M350.5 491.2h29"/>
<path stroke="#de9599" stroke-width="5.88" d="M379 491.2h29.3"/>
<path stroke="#bdbdde" stroke-width="5.88" d="M350.5 496.7h29"/>
<path stroke="#e39a9c" stroke-width="5.88" d="M379 496.7h29.3"/>
<path stroke="#cfcfe7" stroke-width="5.88" d="M321.6 502.1h29.3"/>
<path stroke="#c0c0e0" stroke-width="5.88" d="M350.5 502.1h29"/>
<path stroke="#dd9498" stroke-width="5.88" d="M379 502.1h29.3"/>
<path stroke="#ababd9" stroke-width="5.65" d="M321.6 507.4h29.3"/>
<path stroke="#f2f2f7" stroke-width="5.65" d="M350.5 507.4h29m-29 10.4h29m-29 5.2h29"/>
<path stroke="#e3a2a3" stroke-width="5.65" d="M379 507.4h29.3"/>
<path stroke="#acacd9" stroke-width="5.65" d="M321.6 512.6h29.3m-29.3 10.4h29.3"/>
<path stroke="#f6f6f9" stroke-width="5.65" d="M350.5 512.6h29"/>
<path stroke="#df9ea1" stroke-width="5.65" d="M379 512.6h29.3"/>
<path stroke="#a8a8d7" stroke-width="5.65" d="M321.6 517.8h29.3"/>
<path stroke="#e09fa2" stroke-width="5.65" d="M379 517.8h29.3"/>
<path stroke="#e5a4a5" stroke-width="5.65" d="M379 523h29.3"/>
<path stroke="#a7a7d6" stroke-width="5.65" d="M321.6 528.2h29.3"/>
<path stroke="#f4f4f8" stroke-width="5.65" d="M350.5 528.2h29"/>
<path stroke="#e3a2a4" stroke-width="5.65" d="M379 528.2h29.3"/>
<path d="M336 322.8V318.6H379.2V320.9M364.8 322.8V320.9H393.4V322.8" stroke="#111" stroke-width="0.6" fill="none"/>
<path d="M320.6 323V352H319.8M320.6 352V392M319.8 338V392H319M319 392V446M318.2 446V530M321.4 392H320.46V398H321.4M321.4 398H319.37V404H321.4M321.4 404H319.37V410H321.4M321.4 410H320.07V416H321.4M321.4 416H319.12V422H321.4M321.4 422H320.58V428H321.4M321.4 428H319.44V434H321.4M321.4 434H319.72V440H321.4M321.4 440H320.32V446H321.4M321.4 446H320.25V452H321.4M321.4 452H319.11V458H321.4M321.4 458H320.54V463H321.4M321.4 463H319.55V468H321.4M321.4 468H319.67V473H321.4M321.4 473H319.03V478H321.4M321.4 478H320.41V484H321.4M321.4 484H319.15V489H321.4M321.4 489H319.65V494H321.4M321.4 494H320.32V499H321.4M321.4 499H320.42V504H321.4M321.4 504H320.52V508H321.4M321.4 508H320.71V513H321.4M321.4 513H319.78V518H321.4M321.4 518H319.11V523H321.4M321.4 523H319.89V528H321.4M318.2 452H316.8V478H318.2M318.2 478H316.4V504H318.2M318.2 504H316.9V529H318.2M318.2 458H315.4V520H318.2M318.2 440H314.6V500H318.2M318.2 396H316V470H318.2" stroke="#111" stroke-width="0.45" fill="none"/>
<text x="411.2" y="338.3" font-size="4.3" textLength="13.12" lengthAdjust="spacingAndGlyphs" font-style="italic" fill="#383838">FOXO4</text>
<text x="411.2" y="356.2" font-size="4.3" textLength="13.12" lengthAdjust="spacingAndGlyphs" font-style="italic" fill="#383838">FOXO1</text>
<text x="411.2" y="362.1" font-size="4.3" textLength="14.19" lengthAdjust="spacingAndGlyphs" font-style="italic" fill="#383838">NANOG</text>
<text x="411.2" y="367.5" font-size="4.3" textLength="9.47" lengthAdjust="spacingAndGlyphs" font-style="italic" fill="#383838">ELK1</text>
<text x="411.2" y="375.3" font-size="4.3" textLength="15.2" lengthAdjust="spacingAndGlyphs" font-style="italic" fill="#383838">HOXC11</text>
<text x="411.2" y="385" font-size="4.3" textLength="15.27" lengthAdjust="spacingAndGlyphs" font-style="italic" fill="#383838">HOXA10</text>
<text x="411.2" y="398.2" font-size="4.3" textLength="8.39" lengthAdjust="spacingAndGlyphs" font-style="italic" fill="#383838">SPI1</text>
<text x="411.2" y="404.2" font-size="4.3" textLength="13.12" lengthAdjust="spacingAndGlyphs" font-style="italic" fill="#383838">HOXA9</text>
<text x="411.2" y="409.9" font-size="4.3" textLength="7.31" lengthAdjust="spacingAndGlyphs" font-style="italic" fill="#383838">SP3</text>
<text x="411.2" y="415.9" font-size="4.3" textLength="8.39" lengthAdjust="spacingAndGlyphs" font-style="italic" fill="#383838">IRF4</text>
<text x="411.2" y="422" font-size="4.3" textLength="10.53" lengthAdjust="spacingAndGlyphs" font-style="italic" fill="#383838">THRB</text>
<text x="411.2" y="428" font-size="4.3" textLength="10.53" lengthAdjust="spacingAndGlyphs" font-style="italic" fill="#383838">THRA</text>
<text x="411.2" y="434" font-size="4.3" textLength="13.12" lengthAdjust="spacingAndGlyphs" font-style="italic" fill="#383838">HOXB2</text>
<text x="411.2" y="439.7" font-size="4.3" textLength="13.12" lengthAdjust="spacingAndGlyphs" font-style="italic" fill="#383838">FOXO3</text>
<text x="411.2" y="445.9" font-size="4.3" textLength="15.49" lengthAdjust="spacingAndGlyphs" font-style="italic" fill="#383838">HOXC10</text>
<text x="411.2" y="460" font-size="4.3" textLength="11.47" lengthAdjust="spacingAndGlyphs" font-style="italic" fill="#383838">STAT1</text>
<text x="411.2" y="464.7" font-size="4.3" textLength="8.39" lengthAdjust="spacingAndGlyphs" font-style="italic" fill="#383838">IRF1</text>
<text x="411.2" y="469.5" font-size="4.3" textLength="8.39" lengthAdjust="spacingAndGlyphs" font-style="italic" fill="#383838">IRF7</text>
<text x="411.2" y="474.4" font-size="4.3" textLength="8.39" lengthAdjust="spacingAndGlyphs" font-style="italic" fill="#383838">MYB</text>
<text x="411.2" y="479.1" font-size="4.3" textLength="13.12" lengthAdjust="spacingAndGlyphs" font-style="italic" fill="#383838">RUNX1</text>
<text x="411.2" y="486" font-size="4.3" textLength="8.39" lengthAdjust="spacingAndGlyphs" font-style="italic" fill="#383838">IRF8</text>
<text x="411.2" y="490.8" font-size="4.3" textLength="12.04" lengthAdjust="spacingAndGlyphs" font-style="italic" fill="#383838">SUZ12</text>
<text x="411.2" y="495.5" font-size="4.3" textLength="8.39" lengthAdjust="spacingAndGlyphs" font-style="italic" fill="#383838">IRF5</text>
<text x="411.2" y="500.7" font-size="4.3" textLength="13.12" lengthAdjust="spacingAndGlyphs" font-style="italic" fill="#383838">HDAC6</text>
<text x="411.2" y="509.7" font-size="4.3" textLength="13.33" lengthAdjust="spacingAndGlyphs" font-style="italic" fill="#383838">KDM5A</text>
<text x="411.2" y="514.9" font-size="4.3" textLength="18.71" lengthAdjust="spacingAndGlyphs" font-style="italic" fill="#383838">SMARCA4</text>
<text x="411.2" y="519.7" font-size="4.3" textLength="13.12" lengthAdjust="spacingAndGlyphs" font-style="italic" fill="#383838">HDAC2</text>
<text x="411.2" y="524.9" font-size="4.3" textLength="18.92" lengthAdjust="spacingAndGlyphs" font-style="italic" fill="#383838">SMARCC2</text>
<text x="411.2" y="530.1" font-size="4.3" textLength="13.12" lengthAdjust="spacingAndGlyphs" font-style="italic" fill="#383838">HDAC1</text>
<text x="336" y="537.8" font-size="5" textLength="13.46" lengthAdjust="spacingAndGlyphs" font-weight="bold" text-anchor="middle" fill="#000">Root1</text>
<text x="364.8" y="537.8" font-size="5" textLength="20.58" lengthAdjust="spacingAndGlyphs" font-weight="bold" text-anchor="middle" fill="#000">Endpoint</text>
<text x="393.3" y="537.8" font-size="5" textLength="13.46" lengthAdjust="spacingAndGlyphs" font-weight="bold" text-anchor="middle" fill="#000">Root2</text>
<text x="7.4" y="557.9" font-size="11.5" textLength="7.47" lengthAdjust="spacingAndGlyphs" font-weight="bold" fill="#000">H</text>
<rect x="20" y="560.8" width="16.9" height="4.8" fill="#4b2173"/>
<rect x="38.5" y="560.8" width="17.2" height="4.8" fill="#52a9e0"/>
<rect x="57.2" y="560.8" width="12.8" height="4.8" fill="#8374c2"/>
<rect x="71.5" y="560.8" width="18.5" height="4.8" fill="#4ea544"/>
<rect x="92" y="560.8" width="11.8" height="4.8" fill="#f0c23c"/>
<rect x="105" y="560.8" width="12" height="4.8" fill="#c0283a"/>
<rect x="118.3" y="560.8" width="15.7" height="4.8" fill="#bdbdbd"/>
<path stroke="#dbb" stroke-width="6.86" d="M20 570.6h1.8m12.3 0h1.8m79.6 6.5h1.9m-44.5 19.2h1.9m23.1 0h1.9m-47 19.3h1.9m41.7 0h1.9m-11.1 12.8h1.9m21.9 0h1.9m-64.4 6.4h1.9m76.5 0h1.9m-87.4 6.5h1.9m39.6 0h1.9m-36.3 12.8h1.9"/>
<path stroke="#dcd" stroke-width="6.86" d="M21.4 570.6h1.8m36.8 0h1.9m34.5 6.5h1.9m6.7 0h3.4m-16.4 6.4h1.9m30.1 6.4h1.9m-101.7 6.4h3.3m29.7 0h1.9m66.3 0h1.9m-61.6 6.4h1.9m65 0h1.9m-100.4 6.5h1.8m82.4 0h1.9m-97.4 6.4h1.8m28.2 6.4h1.9m37.3 0h1.9m-66.9 6.4h1.8m11.1 0h1.9m38.2 0h1.9m-37.7 6.4h1.9m21.1 0h3.3m2.4 0h1.9m-46.4 6.5h1.8m19.8 0h1.9m25.3 0h1.9m-34.9 6.4h1.9m3.9 6.4h1.9m43.1 0h1.9"/>
<path stroke="#eee" stroke-width="6.86" d="M22.8 570.6h1.8m13.9 0h1.9m53.1 0h1.9m5.4 0h1.9m21.3 0h1.9m-93.2 6.5h1.8m89.5 0h1.9m3.8 0h1.9m-6.2 6.4h1.9m-67.3 6.4h1.9m1 0h1.9m37.5 0h1.9m22.7 0h1.9m-44.5 6.4h1.9m44.9 0h1.9m-100.3 6.4h1.8m5.4 0h1.9m21.1 0h1.9m2.4 0h1.9m53.5 0h1.9m-93.2 6.5h3.3m8.2 0h1.9m16.8 0h1.9m.9 0h1.9m15.3 0h1.9m2.3 0h1.9m17.4 0h1.9m8.6 0h1.9m6.6 0h1.9m-94.6 6.4h1.8m21.2 0h1.9m1 0h3.3m6.7 0h1.9m10.9 0h1.9m2.4 0h1.9m-52.1 6.4h3.3m12.6 0h1.9m5.3 0h1.9m12.4 0h1.9m5.2 0h1.9m33.5 0h1.9m-90.3 6.4h1.8m5.3 0h1.8m16.9 0h1.9m19.6 0h1.9m23.1 0h1.9m1 0h1.9m21.3 0h3.3m-98.9 6.4h1.8m35.5 0h1.9m33.2 0h1.9m2.3 0h1.9m18.5 0h1.9m-107.3 6.5h1.8m3.8 0h1.8m32.6 0h1.9m49.1 0h1.9m-67.2 6.4h1.9m3.8 0h1.9m15.3 0h1.9m6.7 0h1.9m33.4 0h1.9m-25.8 6.4h1.9m10.3 0h1.9m22.7 0h1.9"/>
<path stroke="#ecc" stroke-width="6.86" d="M24.2 570.6h3.3m.9 0h1.8m18.3 0h1.9m44.6 0h1.9m-48.4 6.5h1.9m44.6 0h1.9m3.9 0h1.9m6.8 0h1.9m-81.5 6.4h1.8m1 0h1.8m61.9 0h1.9m-76.9 6.4h3.3m2.3 0h3.3m11.1 0h1.9m25.3 0h1.9m13.8 0h1.9m-21.9 6.4h1.9m5.3 0h1.9m5.2 0h3.3m1 0h1.9m2.4 0h3.3m-59.2 6.4h1.8m52.6 0h1.9m8.8 0h1.9m8.2 0h4.9m-45.7 6.5h1.9m-37.7 6.4h1.8m9.7 0h1.9m2.4 0h1.9m12.4 0h3.3m25.3 0h1.9m-69.1 6.4h3.3m51.1 0h1.9m21.7 0h1.9m9.7 0h1.9m-91.5 6.4h1.8m8.1 0h1.8m2.4 0h1.8m5.5 0h1.9m15.3 0h1.9m1 0h1.9m31.6 0h1.9m21.4 0h1.9m-60.1 6.4h1.9m.9 0h1.9m12.4 0h3.3m11.6 0h1.9m6.9 0h1.9m6.8 0h1.9m8.3 0h3.3m-93.2 6.5h1.8m5.4 0h3.3m11 0h1.9m13.9 0h1.9m2.4 0h1.9m27.5 0h1.9m5.3 0h1.9m8.3 0h1.9m2.4 0h1.9m1 0h1.9m-36.8 6.4h1.9m1.1 0h1.9m25.7 0h4.7m3.8 0h3.3m-65.8 6.4h1.9m11 0h1.9m24.6 0h1.9"/>
<path stroke="#ddd" stroke-width="6.86" d="M27 570.6h1.8m69.1 19.3h1.9m-65.7 6.4h1.8m8.3 12.9h1.9m12.5 0h1.9m37.4 6.4h1.9m-54.1 6.4h1.9m-3.4 6.4h1.9m-19.1 6.4h1.8m34.1 0h1.9m11 0h1.9m37.8 0h1.9m-93.2 6.5h1.8m46.9 6.4h1.9m-27.7 6.4h1.9m26.8 0h1.9m43.5 0h1.9"/>
<path stroke="#d76" stroke-width="6.86" d="M29.9 570.6h1.8m-6.1 6.5h1.8m55.5 0h1.9m2.4 0h1.9m-59.2 12.8h1.8m52.6 32.1h1.9m-26.2 32.1h1.9"/>
<path stroke="#eaa" stroke-width="6.86" d="M31.3 570.6h1.8m9.7 0h1.9m28.2 0h1.9m57.8 0h1.9m-100.4 6.5h3.3m1.1 0h1.9m53.1 0h1.9m-69.8 6.4h1.8m73.4 0h1.9m3.8 0h1.9m-72.9 6.4h1.8m14.1 0h1.9m33.9 0h1.9m5.9 0h1.9m-68.5 6.4h1.8m70.6 0h1.9m3.8 0h1.9m-88.4 6.4h1.8m12.3 0h1.8m38.4 0h1.9m2.4 0h1.9m2.4 0h3.3m8.8 0h1.9m3.9 0h1.9m-77.1 6.5h1.8m18.3 0h1.9m-22 6.4h1.8m35.5 0h1.9m6.7 0h1.9m12.3 0h3.3m3 0h1.9m17.1 0h1.9m-84.5 6.4h1.8m2.5 0h1.8m51.2 0h3.3m-59.1 6.4h1.8m-7.5 6.4h1.8m31.2 0h1.9m-25 6.5h1.8m82.4 0h1.9m2.4 0h1.9m-6.2 6.4h1.9m-81.7 6.4h1.9m18.2 0h1.9m19.5 0h1.9m29.1 0h1.9m15.4 0h1.9"/>
<path stroke="#d88" stroke-width="6.86" d="M32.7 570.6h1.8m16.9 0h1.9m60.7 0h1.9m-86 6.5h1.8m8.2 0h1.9m5.3 0h1.9m5.3 0h1.9m5.3 0h6.1m6.7 0h1.9m1 0h4.7m2.4 0h1.9m-46.3 6.4h1.9m16.8 0h3.3m31.6 0h1.9m12.6 0h1.9m4.1 0h1.9m-73.1 6.4h1.9m1 0h3.3m5.3 0h1.9m25.3 0h1.9m5.2 0h1.9m30.7 0h1.9m9.5 0h1.9m-86 6.4h1.9m79.3 12.9h1.9m-80.2 6.4h1.9m22.5 0h1.9m24.6 0h1.9m-84.2 6.4h1.8m96.5 6.4h1.9m-88.9 6.4h1.8m44.1 0h1.9m12.9 0h1.9m-72.5 19.3h1.8m5.2 0h1.8m2.5 0h3.3m21.2 0h1.9m12.4 0h1.9m36.1 0h1.9"/>
<path stroke="#c44" stroke-width="6.86" d="M35.5 570.6h1.8m37 0h1.9m-24.8 12.9h1.9m8.2 0h1.9m23.8 0h1.9m-50.6 12.8h1.9m12.4 0h1.9m-24.8 25.7h1.8m-6.1 32.1h1.8"/>
<path stroke="#d99" stroke-width="6.86" d="M75.8 570.6h1.9m-57.7 6.5h1.8m9.5 0h1.8m12.6 0h1.9m9.6 0h4.7m19.6 0h1.9m8.6 0h1.9m4 0h1.9m11.2 0h1.9m8.3 0h1.9m-98.9 6.4h1.8m2.4 0h1.8m5.3 0h1.8m19.9 0h1.9m35.9 0h1.9m1 0h1.9m9.7 0h1.9m12.6 0h1.9m-93.2 6.4h3.3m16.8 0h1.9m2.5 0h1.9m12.4 0h3.3m34.7 0h1.9m-67.2 6.4h1.9m1 0h1.9m2.4 0h1.9m6.7 0h1.9m9.6 6.4h1.9m15.2 0h1.9m30.7 6.5h1.9m3.8 0h1.9m-98.9 25.6h1.8m54 0h1.9m11.8 0h1.9m5.2 0h1.9m9.9 0h1.9m-67.4 12.9h1.9m-34.7 6.4h1.8m2.4 0h1.8m15.4 0h1.9m2.4 0h1.9m16.7 0h1.9m8.1 0h1.9m37.8 0h1.9"/>
<path stroke="#d66" stroke-width="6.86" d="M84.3 570.6h1.9m-64.8 6.5h4.7m18.1 0h1.9m42.5 0h1.9m-44.8 6.4h1.9m15.3 0h1.9m16.7 0h1.9m2.3 0h1.9m45 0h1.9m-94.6 6.4h1.9m35.4 0h3.3m-45 6.4h1.8m2.6 0h1.9m8.2 0h1.9m2.4 0h1.9m-24.9 25.7h1.8m2.4 32.1h1.8m28.4 0h1.9m5.3 0h1.9m12.4 0h1.9"/>
<path stroke="#d65" stroke-width="6.86" d="M102.3 570.6h1.9m-77.2 6.5h3.3m38.3 0h1.9m2.4 0h1.9m-20.5 6.4h1.9m28.1 0h1.9m2.4 0h1.9m-29 12.8h1.9m-36.4 57.8h1.8"/>
<path stroke="#c88" stroke-width="6.86" d="M20 583.5h1.8"/>
<path stroke="#edd" stroke-width="6.86" d="M44.2 570.6h1.9m45.9 0h1.9m28.7 6.5h1.9m.9 0h1.9m-105.9 6.4h1.8m3.8 0h1.8m5.3 0h1.8m63.5 0h1.9m14.2 0h1.9m10.9 0h1.9m-64.5 6.4h1.9m8.2 0h1.9m2.3 0h1.9m17.5 0h3.4m22.6 0h1.9m-100.3 6.4h1.8m45.5 0h1.9m18.8 0h1.9m2.5 0h1.9m8.2 0h1.9m8.3 0h1.9m1 0h1.9m-96.1 6.4h1.8m42.7 0h1.9m6.7 0h1.9m16 0h1.9m14.2 0h1.9m-94.6 6.5h1.8m26.8 0h1.9m13.9 0h1.9m24.4 0h1.9m1 0h1.9m1.1 0h1.9m5.2 0h1.9m1.1 0h1.9m14 0h1.9m1 0h1.9m-106 6.4h1.8m12.5 0h1.9m2.4 0h1.9m38.2 0h1.9m39.2 0h1.9m6.7 0h1.9m-107.5 6.4h1.8m12.6 0h1.9m.9 0h1.9m1 0h1.9m11 0h1.9m21 0h1.9m21.7 0h1.9m1.1 0h1.9m21.2 0h1.9m-111.7 6.4h3.3m8 0h1.8m70.6 0h1.9m1.1 0h1.9m21.2 0h1.9m-114.5 6.4h1.8m62.5 0h1.9m37.8 0h1.9m-104.5 6.5h1.8m12.3 0h1.8m9.8 0h1.9m2.4 0h1.9m28.2 0h1.9m10.1 0h1.9m1 0h1.9m22.9 0h1.9m9.5 0h1.9m-86 6.4h3.3m47.6 0h1.9m-57.1 6.4h1.9m56.2 0h1.9m.8 0h3.4m24.2 0h1.9"/>
<path stroke="#eba" stroke-width="6.86" d="M71.5 570.6h1.9m49.2 0h1.9m-101.7 12.9h1.8m52.6 12.8h1.9m23.2 0h1.9m-17 6.4h1.9m-7.6 19.3h1.9m-44.9 12.8h1.9"/>
<path stroke="#d77" stroke-width="6.86" d="M68.6 570.6h1.9m11 0h1.9m-40.6 6.5h1.9m22.5 0h1.9m2.4 0h1.9m2.4 0h1.9m8 0h1.9m11.8 0h1.9m-70 6.4h1.8m14 0h1.9m3.8 0h1.9m11 0h1.9m15.3 0h1.9m36.4 0h1.9m-91.8 6.4h1.8m16.9 0h1.9m-22 6.4h1.8m9.7 0h1.9m53.1 0h1.9m-75.5 6.4h1.8m-3.2 12.9h1.8m65.4 6.4h1.9m-39.1 12.8h1.9m-22 19.3h1.8m6.8 0h1.9m1 0h1.9"/>
<path stroke="#a89" stroke-width="6.86" d="M20 589.9h1.8"/>
<path stroke="#ecd" stroke-width="6.86" d="M24.2 589.9h1.8m79 0h1.9m22.8 0h1.9m-26.6 12.8h1.9m1.1 25.7h1.9m18.4 0h1.9m-90.3 19.3h1.9"/>
<path stroke="#ebb" stroke-width="6.86" d="M41.4 570.6h1.9m3.8 0h1.9m5.3 0h1.9m41.7 0h1.9m12.7 0h1.9m-64.4 6.5h1.9m12.4 6.4h1.9m36.1 0h1.9m.8 0h1.9m5.6 0h1.9m3.9 0h3.3m1 0h1.9m6.6 0h1.9m-107.4 6.4h1.8m16.8 0h1.9m2.4 0h1.9m8.2 0h1.9m1 0h1.9m19.5 0h1.9m8.7 0h1.9m15.6 0h1.9m6.8 0h1.9m-98.8 6.4h1.8m8.1 0h1.8m11.2 0h1.9m11 0h1.9m21 0h1.9m27.6 0h1.9m-91.5 6.4h1.8m70.3 0h1.9m2.5 0h1.9m-67.1 12.9h3.3m85.2 0h1.9m-98.9 6.4h1.8m42.6 0h1.9m2.4 0h1.9m20.2 0h1.9m24.3 0h1.9m-97.5 12.8h1.8m5.3 0h4.7m5.4 0h1.9m5.3 0h1.9m43.1 0h1.9m12.6 0h1.9m-57.1 6.5h1.9m1 0h1.9m29.5 0h1.9m37.8 0h1.9m-87.4 6.4h1.9m9.6 0h1.9m-3.4 6.4h1.9m23.9 0h1.9m5.2 0h1.9m27.9 0h1.9m.9 0h3.3m2.4 0h1.9"/>
<path stroke="#cbc" stroke-width="6.86" d="M118.3 577.1h1.9m-45.9 12.8h1.9m-56.2 6.4h3.3m87.7 6.4h1.9m12.5 0h1.9m-26.5 6.5h1.9m-34.1 6.4h1.9m56.4 0h1.9m-103.2 6.4h1.8m70.5 0h1.9m25.6 0h1.9m-51.5 6.4h4.7m-6.2 6.4h1.9m-49.2 6.5h1.8m72 0h1.9m-81.3 6.4h3.3"/>
<path stroke="#dde" stroke-width="6.86" d="M129.7 570.6h3.3m-30.7 6.5h1.9m25.5 6.4h1.9m-100.3 12.8h1.8m60.4 0h1.9m12.6 0h1.9m8.4 0h1.9m1 0h1.9m5.2 0h1.9m-77.4 6.4h3.3m56.4 0h1.9m12.5 0h1.9m2.3 0h1.9m-97.5 6.5h1.8m1.2 0h3.3m12.5 0h1.9m26.7 0h1.9m17.5 0h1.9m28.4 0h1.9m-107.5 6.4h1.8m6.7 0h1.8m11.2 0h1.9m13.9 0h1.9m8.1 0h1.9m31.8 0h1.9m8.4 0h1.9m2.4 0h1.9m5.2 0h1.9m-54.4 6.4h1.9m23.2 0h1.9m-49.9 6.4h1.9m18.1 0h1.9m5.3 0h1.9m-37.7 6.4h1.9m50.3 0h1.9m31.3 0h1.9m-110.2 6.5h1.8m34 0h1.9m1 0h6.1m16.7 0h1.9m-44.8 6.4h1.9m3.8 0h1.9m38.2 0h1.9m7.3 0h1.9m11.2 0h1.9m2.6 0h1.9m3.8 0h1.9m-37.3 6.4h1.9m43.5 0h1.9"/>
<path stroke="#daa" stroke-width="6.86" d="M112.5 589.9h1.9m-90.2 12.8h1.8m28.3 19.3h1.9m23.8 0h1.9m-59.1 12.8h1.8m83.4 0h1.9"/>
<path stroke="#dbc" stroke-width="6.86" d="M62.9 570.6h1.9m63.5 6.5h1.9m-22.2 12.8h1.9m-41.3 6.4h1.9m21.5 0h1.9m-68.3 6.4h1.8m25.4 6.5h1.9m26.8 6.4h1.9m10.1 0h1.9m-55.5 6.4h1.9m-13.4 6.4h1.8m35.5 0h1.9m24.4 0h1.9m-52.5 6.4h1.9m38.2 0h1.9m30.6 0h1.9m-70.2 6.5h1.9m31 0h1.9m-42 6.4h1.9m11 6.4h1.9m73.6 0h1.9"/>
<path stroke="#c9a" stroke-width="6.86" d="M96.4 570.6h1.9m-71.3 32.1h1.8m35.5 0h1.9m56.4 6.5h1.9m-47.3 6.4h1.9m27.4 0h1.9m-69.9 6.4h1.9m11 0h1.9m21 0h1.9"/>
<path stroke="#ccd" stroke-width="6.86" d="M39.9 570.6h1.9m15.4 0h1.9m2.4 0h1.9m.9 0h1.9m40.3 0h1.9m-78.5 32.1h1.8m11.1 0h1.9m12.5 0h1.9m43.2 0h1.9m-82.8 6.5h1.8m34 0h1.9m.9 0h1.9m25.3 0h1.9m-16.2 6.4h1.9m24.6 0h1.9m3.7 0h1.9m-58.4 6.4h1.9m46 0h1.9m24.3 0h1.9m6.6 0h1.9m-83 6.4h1.9m5.3 0h1.9m34.4 0h1.9m-74 6.4h1.8m23.9 0h1.9m11 0h1.9m25.3 0h1.9m-21.9 6.5h1.9m10.9 0h1.9m3.8 0h1.9m7.4 0h1.9m28.5 0h1.9m-43 6.4h1.9m-3.3 6.4h1.9m7.2 0h3.4m17.1 0h1.9"/>
<path stroke="#edc" stroke-width="6.86" d="M111 570.6h1.9m-48.6 19.3h1.9m-30.7 12.8h1.8m82.4 12.9h1.9m1 12.8h1.9"/>
<path stroke="#aac" stroke-width="6.86" d="M108 570.6h1.9m17 6.5h1.9m-4.8 19.2h1.9m1 0h1.9m.9 0h1.9m1 0h1.9m-93.1 6.4h1.9m6.7 0h1.9m67.8 0h1.9m6.7 0h1.9m-110.2 6.5h1.8m54 0h3.3m5.2 19.2h3.3m17.4 0h1.9m-72.8 19.3h1.8m21.3 0h1.9m20.9 0h1.9m6.7 0h1.9"/>
<path stroke="#cbd" stroke-width="6.86" d="M38.5 602.7h1.9m83.6 0h1.9m-101.7 6.5h1.8m2.4 0h1.8m100.9 0h1.9m-103.1 38.5h1.8m76.3 0h1.9"/>
<path stroke="#bbd" stroke-width="6.86" d="M119.7 570.6h1.9m-54.4 19.3h1.9m-1.9 6.4h1.9m35.9 0h1.9m-79.9 12.9h1.8m18.3 0h1.9m29.6 0h1.9m8.1 0h1.9m-40.5 6.4h1.9m62.1 0h1.9m9.5 0h1.9m-64.4 6.4h1.9m2.4 0h1.9m31.7 0h1.9m5.3 0h1.9m14.1 0h1.9m3.8 0h1.9m-63 6.4h1.9m50.7 0h1.9m3.8 0h1.9m2.3 0h1.9m-50.1 6.4h1.9m27.7 0h1.9m15.3 0h1.9m-60.1 6.5h1.9m2.4 0h1.9m9.5 0h1.9m23.4 0h1.9m16.7 0h1.9m-107.4 6.4h1.8m51.2 0h1.9m13 0h1.9m9.6 0h3.4m18.5 0h3.3"/>
<path stroke="#cac" stroke-width="6.86" d="M29.9 609.2h1.8"/>
<path stroke="#dcc" stroke-width="6.86" d="M128.3 570.6h1.9m-22.2 6.5h1.9m9.8 0h1.9m9.5 0h1.9m-26.5 12.8h1.9m5.6 0h1.9m-40.1 12.8h1.9m2.3 0h1.9m26.1 6.5h1.9m-89.9 6.4h1.8m43.9 6.4h1.9m50.7 0h1.9m6.7 0h1.9m-108.8 6.4h1.8m36.8 0h1.9m53.5 0h1.9m-27.3 6.4h1.9m29.2 0h1.9m-6.1 12.9h1.9m3.8 0h1.9"/>
<path stroke="#cab" stroke-width="6.86" d="M128.3 589.9h1.9m-64.5 6.4h1.9m-9 6.4h1.9m34.5 6.5h1.9m17.1 0h1.9m-87.5 6.4h1.8m89.5 6.4h1.9m-50.1 12.8h1.9m54.9 0h1.9m-32.3 6.5h3.4"/>
<path stroke="#da9" stroke-width="6.86" d="M99.4 570.6h1.9m14.2 0h1.9m-50.2 12.9h1.9m-30.6 6.4h1.9m2.4 32.1h1.9m-14.8 19.3h1.8m82.3 0h1.9m-93.1 12.8h1.8"/>
<path stroke="#ede" stroke-width="6.86" d="M114 577.1h1.9m-4.9 6.4h1.9m14 0h1.9m-53 12.8h1.9m37.8 0h1.9m-33.1 12.9h1.9m5.8 0h1.9m25.8 0h1.9m-55.9 6.4h1.9m27.4 0h1.9m12.6 0h1.9m16.9 0h1.9m-84.5 12.8h1.9m5.2 0h1.9m6.8 0h1.9m69.2 6.4h1.9m-101.8 6.5h1.8m14 0h1.9"/>
<path stroke="#88c" stroke-width="6.86" d="M71.5 609.2h1.9m-53.4 38.5h1.8m36.8 0h1.9m22.4 0h1.9"/>
<path stroke="#a9b" stroke-width="6.86" d="M24.2 647.7h1.8"/>
<path stroke="#9ac" stroke-width="6.86" d="M126.9 570.6h1.9m-13.3 70.7h1.9m-90.4 6.4h1.8m69.1 6.4h1.9"/>
<path stroke="#88b" stroke-width="6.86" d="M44.2 602.7h1.9m2.4 0h1.9m18.2 6.5h1.9m3.8 0h1.9m-27.7 19.2h1.9m-22 19.3h1.8m70.6 0h1.9m27 0h1.9m-35.2 6.4h1.9"/>
<path stroke="#aad" stroke-width="6.86" d="M105 570.6h1.9m11.4 0h1.9m-6.2 25.7h1.9m-70.2 6.4h3.3m2.4 0h1.9m76.4 0h1.9m-19.1 6.5h1.9m-52.9 12.8h1.9m52.1 0h1.9m-18 6.4h1.9m-27 12.9h1.9m15.8 0h1.9m11.1 0h1.9m-75.6 6.4h1.8m66.3 6.4h1.9"/>
<path stroke="#56a" stroke-width="6.86" d="M32.7 647.7h1.8"/>
<path stroke="#67b" stroke-width="6.86" d="M35.5 647.7h1.8m24.2 0h1.9m18.1 0h1.9"/>
<path stroke="#c55" stroke-width="6.86" d="M41.4 583.5h1.9m25.3 0h1.9m-40.6 70.6h1.8"/>
<path stroke="#d98" stroke-width="6.86" d="M45.7 570.6h1.9m38.1 25.7h1.9m-27.6 6.4h1.9m15.3 0h1.9m-1.9 51.4h1.9"/>
<path stroke="#dab" stroke-width="6.86" d="M50 570.6h1.9m15.3 0h1.9m27.3 19.3h1.9m-29.7 12.8h1.9m-22 6.5h1.9m54.6 12.8h1.9"/>
<path stroke="#c43" stroke-width="6.86" d="M52.8 570.6h1.9m28.2 0h1.9m-46.3 12.9h1.9m9.6 0h1.9m23.9 0h1.9"/>
<path stroke="#d9a" stroke-width="6.86" d="M41.4 577.1h1.9m70.7 25.6h1.9m-53 51.4h1.9"/>
<path stroke="#c54" stroke-width="6.86" d="M51.4 577.1h1.9m-9.1 6.4h1.9"/>
<path stroke="#d55" stroke-width="6.86" d="M77.2 570.6h4.7m-29.1 6.5h1.9m16.8 6.4h1.9m.9 0h1.9m1 0h3.3"/>
<path stroke="#c33" stroke-width="6.86" d="M85.7 570.6h4.7m-47.6 12.9h1.9m3.8 0h1.9m22.5 0h1.9m5.2 0h1.9m-39.1 12.8h1.9"/>
<path stroke="#cce" stroke-width="6.86" d="M112.5 577.1h1.9m6.8 25.6h1.9m-81.7 6.5h1.9m35.3 6.4h1.9m35 0h1.9m-23.9 6.4h1.9m-51.2 19.3h1.9"/>
<path stroke="#bac" stroke-width="6.86" d="M115.5 589.9h1.9m-67.4 19.3h1.9m21 0h1.9m-16.2 25.6h1.9m15.3 12.9h1.9m44.9 6.4h1.9"/>
<path stroke="#abd" stroke-width="6.86" d="M39.9 615.6h1.9m18.2 32.1h1.9"/>
<path stroke="#b9a" stroke-width="6.86" d="M122.6 589.9h1.9m-80.3 25.7h1.9"/>
<path stroke="#99c" stroke-width="6.86" d="M61.5 602.7h1.9m47.6 6.5h1.9m-65.8 6.4h1.9m63.5 0h1.9m-50.1 6.4h1.9m1 25.7h1.9m5.2 0h1.9m26.1 0h1.9m6.8 0h1.9"/>
<path stroke="#c89" stroke-width="6.86" d="M65.7 570.6h1.9m41.9 0h1.9m-72.9 57.8h1.9"/>
<path stroke="#bbc" stroke-width="6.86" d="M112.5 596.3h1.9m3.9 6.4h1.9m-40.2 6.5h1.9m-40.5 19.2h1.9m21 19.3h1.9"/>
<path stroke="#ecb" stroke-width="6.86" d="M47.1 628.4h1.9m15.3 0h1.9m63.5 0h1.9m-78.8 6.4h1.9m53.3 6.5h1.9m-42.7 12.8h1.9"/>
<path stroke="#a8a" stroke-width="6.86" d="M62.9 596.3h1.9m-24.9 38.5h1.9"/>
<path stroke="#c99" stroke-width="6.86" d="M54.3 634.8h1.9"/>
<path stroke="#ebc" stroke-width="6.86" d="M42.8 641.3h1.9"/>
<path stroke="#d87" stroke-width="6.86" d="M85.7 589.9h1.9m8.8 44.9h1.9m-44 19.3h1.9m5.3 0h1.9"/>
<path stroke="#a9c" stroke-width="6.86" d="M58.6 570.6h1.9"/>
<path stroke="#bcd" stroke-width="6.86" d="M62.9 609.2h1.9"/>
<path stroke="#cde" stroke-width="6.86" d="M58.6 622h1.9"/>
<path stroke="#fee" stroke-width="6.86" d="M67.2 628.4h1.9m19.5 0h1.9"/>
<path stroke="#77b" stroke-width="6.86" d="M62.9 647.7h1.9"/>
<path stroke="#89c" stroke-width="6.86" d="M125.4 570.6h1.9m-14.8 51.4h1.9m-1.9 6.4h1.9m-48.7 19.3h1.9"/>
<path stroke="#99b" stroke-width="6.86" d="M71.5 628.4h1.9m24.5 19.3h1.9"/>
<path stroke="#bab" stroke-width="6.86" d="M131.1 615.6h1.9m-50.1 12.8h1.9m17.5 0h1.9"/>
<path stroke="#b9b" stroke-width="6.86" d="M121.2 570.6h1.9m-51.6 77.1h1.9"/>
<path stroke="#78b" stroke-width="6.86" d="M129.7 641.3h1.9m-45.9 6.4h1.9"/>
<path stroke="#caa" stroke-width="6.86" d="M92 589.9h1.9"/>
<path stroke="#c78" stroke-width="6.86" d="M132.6 577.1h1.9m-42.5 25.6h1.9"/>
<path stroke="#98a" stroke-width="6.86" d="M97.9 609.2h1.9"/>
<path stroke="#fff" stroke-width="6.86" d="M131.1 589.9h1.9m-32.2 25.7h1.9"/>
<path stroke="#eed" stroke-width="6.86" d="M95 628.4h1.9"/>
<path stroke="#b89" stroke-width="6.86" d="M118.3 589.9h1.9m-4.7 38.5h1.9m-10.9 12.9h1.9"/>
<path stroke="#c9b" stroke-width="6.86" d="M128.3 622h1.9"/>
<path stroke="#cbb" stroke-width="6.86" d="M131.1 654.1h1.9"/>
<text x="135.9" y="566" font-size="4.6" textLength="17.64" lengthAdjust="spacingAndGlyphs" font-weight="bold" fill="#000">ETP PDX</text>
<text x="135.9" y="572.81" font-size="4.8" textLength="9.12" lengthAdjust="spacingAndGlyphs" fill="#444" stroke="#444" stroke-width="0.12">HSC</text>
<text x="135.9" y="579.23" font-size="4.8" textLength="9.36" lengthAdjust="spacingAndGlyphs" fill="#444" stroke="#444" stroke-width="0.12">MPP</text>
<text x="135.9" y="585.65" font-size="4.8" textLength="9.6" lengthAdjust="spacingAndGlyphs" fill="#444" stroke="#444" stroke-width="0.12">CMP</text>
<text x="135.9" y="592.08" font-size="4.8" textLength="9.84" lengthAdjust="spacingAndGlyphs" fill="#444" stroke="#444" stroke-width="0.12">GMP</text>
<text x="135.9" y="598.5" font-size="4.8" textLength="8.4" lengthAdjust="spacingAndGlyphs" fill="#444" stroke="#444" stroke-width="0.12">CLP</text>
<text x="135.9" y="604.92" font-size="4.8" textLength="8.4" lengthAdjust="spacingAndGlyphs" fill="#444" stroke="#444" stroke-width="0.12">ETP</text>
<text x="135.9" y="611.34" font-size="4.8" textLength="8.64" lengthAdjust="spacingAndGlyphs" fill="#444" stroke="#444" stroke-width="0.12">DN1</text>
<text x="135.9" y="617.76" font-size="4.8" textLength="8.64" lengthAdjust="spacingAndGlyphs" fill="#444" stroke="#444" stroke-width="0.12">DN2</text>
<text x="135.9" y="624.18" font-size="4.8" textLength="12.48" lengthAdjust="spacingAndGlyphs" fill="#444" stroke="#444" stroke-width="0.12">DN2-3</text>
<text x="135.9" y="630.6" font-size="4.8" textLength="11.52" lengthAdjust="spacingAndGlyphs" fill="#444" stroke="#444" stroke-width="0.12">DN3A</text>
<text x="135.9" y="637.02" font-size="4.8" textLength="11.52" lengthAdjust="spacingAndGlyphs" fill="#444" stroke="#444" stroke-width="0.12">DN3B</text>
<text x="135.9" y="643.45" font-size="4.8" textLength="12.48" lengthAdjust="spacingAndGlyphs" fill="#444" stroke="#444" stroke-width="0.12">DN3-4</text>
<text x="135.9" y="649.87" font-size="4.8" textLength="8.64" lengthAdjust="spacingAndGlyphs" fill="#444" stroke="#444" stroke-width="0.12">DN4</text>
<text x="135.9" y="656.29" font-size="4.8" textLength="6" lengthAdjust="spacingAndGlyphs" fill="#444" stroke="#444" stroke-width="0.12">DP</text>
<rect x="160.2" y="569.6" width="4.7" height="71.8" fill="url(#cb3)"/>
<text x="166.5" y="571.8" font-size="4.6" textLength="2.3" lengthAdjust="spacingAndGlyphs" fill="#444" stroke="#444" stroke-width="0.12">3</text>
<text x="166.5" y="583.77" font-size="4.6" textLength="2.3" lengthAdjust="spacingAndGlyphs" fill="#444" stroke="#444" stroke-width="0.12">2</text>
<text x="166.5" y="595.73" font-size="4.6" textLength="2.3" lengthAdjust="spacingAndGlyphs" fill="#444" stroke="#444" stroke-width="0.12">1</text>
<text x="166.5" y="607.7" font-size="4.6" textLength="2.3" lengthAdjust="spacingAndGlyphs" fill="#444" stroke="#444" stroke-width="0.12">0</text>
<text x="165.5" y="619.67" font-size="4.6" textLength="3.68" lengthAdjust="spacingAndGlyphs" fill="#444" stroke="#444" stroke-width="0.12">-1</text>
<text x="165.5" y="631.63" font-size="4.6" textLength="3.68" lengthAdjust="spacingAndGlyphs" fill="#444" stroke="#444" stroke-width="0.12">-2</text>
<text x="165.5" y="643.6" font-size="4.6" textLength="3.68" lengthAdjust="spacingAndGlyphs" fill="#444" stroke="#444" stroke-width="0.12">-3</text>
<text x="177.5" y="571.7" font-size="4.6" textLength="17.64" lengthAdjust="spacingAndGlyphs" font-weight="bold" fill="#000">ETP PDX</text>
<rect x="177.5" y="574.8" width="8.5" height="8.4" fill="#4b2173"/>
<text x="188.5" y="580.6" font-size="4.6" textLength="13.34" lengthAdjust="spacingAndGlyphs" fill="#383838" stroke="#383838" stroke-width="0.12">ETP-1*</text>
<rect x="177.5" y="583.2" width="8.5" height="8.4" fill="#4ea544"/>
<text x="188.5" y="589" font-size="4.6" textLength="15.65" lengthAdjust="spacingAndGlyphs" fill="#383838" stroke="#383838" stroke-width="0.12">ETP-12*</text>
<rect x="177.5" y="591.6" width="8.5" height="8.4" fill="#f0c23c"/>
<text x="188.5" y="597.4" font-size="4.6" textLength="15.65" lengthAdjust="spacingAndGlyphs" fill="#383838" stroke="#383838" stroke-width="0.12">ETP-13*</text>
<rect x="177.5" y="600" width="8.5" height="8.4" fill="#c0283a"/>
<text x="188.5" y="605.8" font-size="4.6" textLength="14.03" lengthAdjust="spacingAndGlyphs" fill="#383838" stroke="#383838" stroke-width="0.12">ETP-14</text>
<rect x="177.5" y="608.4" width="8.5" height="8.4" fill="#bdbdbd"/>
<text x="188.5" y="614.2" font-size="4.6" textLength="14.03" lengthAdjust="spacingAndGlyphs" fill="#383838" stroke="#383838" stroke-width="0.12">ETP-27</text>
<rect x="177.5" y="616.8" width="8.5" height="8.4" fill="#52a9e0"/>
<text x="188.5" y="622.6" font-size="4.6" textLength="21.62" lengthAdjust="spacingAndGlyphs" fill="#383838" stroke="#383838" stroke-width="0.12">ETP-5-XNE</text>
<rect x="177.5" y="625.2" width="8.5" height="8.4" fill="#8374c2"/>
<text x="188.5" y="631" font-size="4.6" textLength="24.15" lengthAdjust="spacingAndGlyphs" fill="#383838" stroke="#383838" stroke-width="0.12">ETP-8-XMG*</text>
<text x="307.6" y="558.5" font-size="11.5" textLength="2.88" lengthAdjust="spacingAndGlyphs" font-weight="bold" fill="#000">I</text>
<rect x="322.1" y="561.3" width="31.4" height="5.2" fill="#52a9e0"/>
<rect x="355.2" y="561.3" width="16.6" height="5.2" fill="#a3b886"/>
<rect x="374.2" y="561.3" width="28.7" height="5.2" fill="#4ea544"/>
<rect x="404.8" y="561.3" width="11.6" height="5.2" fill="#c0283a"/>
<rect x="418.1" y="561.3" width="3.6" height="5.2" fill="#4b2173"/>
<path stroke="#bac" stroke-width="6.76" d="M322.1 571.9h1.9m25.2 0h1.9m17.7 44.2h1.9m7.8 12.7h1.9m-42.6 6.3h1.9m24.6 12.6h1.9m15.2 0h1.9m28.7 0h1.9"/>
<path stroke="#bbd" stroke-width="6.76" d="M323.5 571.9h1.9m5.3 0h1.9m50.2 0h1.9m1 0h1.9m8.1 0h1.9m3.9 0h1.9m2.8 0h1.9m2.5 0h1.9m-4.8 6.3h1.9m-29.7 6.3h1.9m1 0h1.9m25.9 6.3h1.9m-83.3 6.4h1.9m88.8 0h2.2m-98.6 6.3h1.9m1 0h1.9m10.9 0h1.9m9.5 0h1.9m58.1 0h1.9m1 0h1.9m-60.2 6.3h1.9m8.7 0h1.9m18 0h1.9m8.1 0h1.9m2.4 0h1.9m10.1 0h1.9m4.2 6.3h2.2m-96.8 6.4h1.9m85.2 0h3.3m-81.8 6.3h1.9m13.8 0h1.9m11.5 0h1.9m7.2 0h1.9m-11 12.6h1.9m-33.9 6.3h1.9m3.8 0h1.9m2.4 0h1.9m6.7 0h1.9m10 0h3.5m7.1 0h1.9m6.3 0h3.3m11.1 0h1.9m3.8 0h1.9m8.7 0h1.9m-84.7 6.4h1.9m86.7 0h1.9"/>
<path stroke="#ccd" stroke-width="6.76" d="M325 571.9h1.9m12.3 0h1.9m1 0h1.9m3.8 0h1.9m14.6 0h1.9m4.1 0h1.9m7.7 0h1.9m8.2 0h1.9m20.1 0h1.9m-4.7 6.3h1.9m-79 6.3h1.9m5.2 0h1.9m66.6 0h1.9m-77.5 6.3h1.9m58.9 0h1.9m25.1 0h2.2m-81.4 6.4h1.9m47.4 0h1.9m-44.1 6.3h1.9m33.1 0h1.9m15.3 0h1.9m-26.3 6.3h3.3m8.2 0h1.9m18.7 6.3h1.9m-43.8 6.4h1.9m10.8 0h1.9m19.6 0h1.9m2.9 0h1.9m-78.9 6.3h1.9m11 0h1.9m20.1 0h1.9m4.2 0h1.9m12.1 0h1.9m11 0h1.9m2.4 0h1.9m5.8 0h1.9m-46.9 12.6h1.9m16.8 0h1.9m16.7 0h1.9m7.3 0h1.9m-35.5 6.3h1.9m8.2 0h1.9m3.8 0h1.9m8.2 0h1.9m2.8 0h1.9m-67.4 6.4h3.3m.9 0h1.9m2.4 0h1.9m5.6 0h1.9m5.7 0h1.9m13.7 0h1.9m12.5 0h1.9"/>
<path stroke="#99c" stroke-width="6.76" d="M326.4 571.9h1.9m91.6 6.3h2.2m-30.7 6.3h1.9m24.8 6.3h2.2m-5.3 6.4h1.9m1.2 0h2.2m-98.2 6.3h1.9m1 0h1.9m3.8 0h3.3m12.4 6.3h1.9m69.8 12.7h2.2m-60.6 6.3h1.9m5.7 0h1.9m-42.8 18.9h1.9m12.4 0h1.9m45.9 0h1.9"/>
<path stroke="#dcd" stroke-width="6.76" d="M327.8 571.9h1.9m83.8 0h1.9m-73.3 12.6h1.9m.9 0h1.9m66.7 0h1.9m-38.3 6.3h1.9m33 0h1.9m-64.7 12.7h1.9m4.1 0h1.9m20 0h1.9m.9 0h1.9m8.2 0h1.9m-23.1 6.3h1.9m-4.9 6.3h1.9m30.9 0h1.9m-43.8 6.4h1.9m-15.1 6.3h1.9m56.1 0h1.9m-46.7 6.3h1.9m52 0h1.9m-45.2 12.6h1.9m-40 6.4h3.3m15.3 0h1.9m13 0h1.9m11 0h1.9"/>
<path stroke="#edd" stroke-width="6.76" d="M329.2 571.9h1.9m24.1 0h1.9m2.6 0h1.9m-32.4 6.3h1.9m3.8 0h1.9m9.6 0h1.9m34.5 0h1.9m2.4 0h1.9m2.4 0h1.9m2.4 0h1.9m1 0h1.9m1 0h1.9m11.6 0h1.9m-76.2 6.3h1.9m8 0h1.9m11.8 0h1.9m-19.8 6.3h3.3m7 0h1.9m11.7 0h1.9m6.3 0h3.3m19.7 0h1.9m10.1 0h1.9m-83.3 6.4h1.9m.9 0h3.3m1 0h1.9m8.1 0h1.9m11.6 0h3.5m4.1 0h1.9m6.3 0h1.9m2.4 0h1.9m1 0h1.9m13.9 0h1.9m-67 6.3h1.9m13.8 0h1.9m16.3 0h1.9m3.4 0h1.9m24 0h1.9m-71.3 6.3h1.9m6.7 0h3.3m5.2 0h1.9m7.1 0h3.5m5.6 0h1.9m15 0h1.9m23.1 0h1.9m-71.9 6.3h1.9m29.2 0h1.9m16.3 0h1.9m5.3 0h1.9m11.6 0h1.9m-74.7 6.4h1.9m22.9 0h1.9m1.2 0h1.9m-42.7 6.3h1.9m12.4 0h1.9m12.4 0h1.9m25.9 0h1.9m5.3 0h1.9m20.2 0h1.9m.9 0h1.9m-88.9 6.3h1.9m3.8 0h1.9m12.3 0h1.9m11.4 0h1.9m4.2 0h5m9.2 0h1.9m12.5 0h1.9m14.4 0h1.9m-87.6 6.3h3.3m5.3 0h3.3m40.2 0h1.9m2.4 0h1.9m2.4 0h3.3m-54 6.3h1.9m82.7 0h2.2m-98.2 6.4h1.9m9.5 0h1.9m60.3 0h1.9m20.5 0h2.2"/>
<path stroke="#cbc" stroke-width="6.76" d="M332.1 571.9h1.9m2.4 12.6h1.9m-16.2 12.7h1.9m37.2 0h1.9m-39.6 12.6h1.9m1 0h1.9m51.6 0h1.9m28.8 0h1.9m-54.3 6.3h1.9m-12.3 6.4h1.9m56.5 0h1.9m-67.4 12.6h1.9m23.2 6.3h1.9m9.4 0h1.9m19.6 0h1.9m-49.9 12.7h1.9m40.4 0h1.9"/>
<path stroke="#eee" stroke-width="6.76" d="M333.5 571.9h1.9m5.3 0h1.9m75.5 0h2.2m-89.6 6.3h1.9m43 0h1.9m1 0h1.9m24.4 0h1.9m-57.5 6.3h1.9m14.7 0h1.9m6.5 0h1.9m8.1 0h1.9m1 0h1.9m8.2 0h3.3m5.7 0h1.9m2.5 0h1.9m-81.8 6.3h1.9m2.3 0h1.9m18.4 0h1.9m10.2 0h1.9m20.8 0h1.9m-45.5 6.4h1.9m19 0h1.9m-41.4 6.3h1.9m11 0h1.9m15.6 0h3.5m22.5 0h3.3m1 0h1.9m-56.9 6.3h1.9m2.4 0h1.9m17 0h1.9m4.1 0h1.9m13.9 0h1.9m9.6 0h1.9m15.8 0h1.9m8.5 0h4m-37.9 6.3h1.9m5.3 0h1.9m26.6 0h2.2m-91.4 6.4h1.9m22.6 0h1.9m2.6 0h1.9m8.7 0h1.9m14.9 0h1.9m18.7 0h1.9m-73.2 6.3h1.9m35.9 0h3.3m-55.4 6.3h1.9m2.4 0h1.9m3.8 0h1.9m48.8 0h1.9m5.3 0h1.9m23.1 0h1.9m-74.8 6.3h1.9m2.4 0h1.9m9.9 0h1.9m8.7 0h1.9m20.7 0h1.9m14.4 0h1.9m8.5 0h2.2m-71.1 6.3h1.9m23.1 0h1.9m43.8 0h2.2m-98.6 6.4h1.9m2.4 0h1.9m16.7 0h1.9m3.8 0h1.9m4.2 0h1.9m38.5 0h1.9m7.2 0h1.9"/>
<path stroke="#ebb" stroke-width="6.76" d="M334.9 571.9h1.9m32 0h1.9m16.4 0h1.9m-62.6 6.3h1.9m5.2 0h1.9m1 0h3.3m2.4 0h4.7m2.4 0h1.9m28.8 0h3.3m-52.5 6.3h1.9m2.3 0h1.9m6.7 0h1.9m11.3 0h1.9m1.1 0h1.9m7.2 0h1.9m22.2 0h1.9m-30.5 6.3h1.9m15.2 0h3.3m6.7 0h1.9m-62.6 6.4h1.9m15.2 0h1.9m37.4 0h1.9m2.4 0h1.9m-24.5 6.3h1.9m-27.2 6.3h1.9m-14.7 6.3h1.9m34.7 0h1.9m6.4 0h3.3m8.2 0h1.9m3.9 0h1.9m-72.7 6.4h1.9m9.5 0h1.9m15.2 0h3.3m47.6 0h1.9m11.6 0h1.9m-70.5 6.3h1.9m33.1 0h1.9m-39.8 6.3h1.9m1 0h1.9m53.2 0h1.9m14.7 0h2.2m-98.2 6.3h1.9m10.9 0h1.9m37.4 0h1.9m21.1 0h1.9m14.4 0h1.9m-69 6.3h1.9m33.1 6.4h1.9m2.4 0h3.3m24.5 0h1.9"/>
<path stroke="#eed" stroke-width="6.76" d="M336.4 571.9h1.9"/>
<path stroke="#aad" stroke-width="6.76" d="M337.8 571.9h1.9m-11.9 6.3h1.9m51.7 6.3h1.9m-58.3 12.7h1.9m10.9 0h1.9m-4.8 6.3h1.9m-10.4 25.3h1.9m5.2 0h1.9m3.8 0h1.9m17.1 18.9h1.9m17 0h1.9m25.8 0h1.9m-16.7 6.4h1.9"/>
<path stroke="#ecc" stroke-width="6.76" d="M343.5 571.9h1.9m43.1 0h1.9m6.8 0h1.9m.9 0h1.9m2.9 0h1.9m-42.4 6.3h1.9m8 0h1.9m1 0h1.9m27.2 0h1.9m2.5 0h1.9m-42.2 6.3h1.9m3.4 0h1.9m31.7 0h1.9m-49.9 6.3h3.5m19.5 0h1.9m9.6 0h1.9m-42.4 6.4h1.9m2.6 0h1.9m15.5 0h1.9m13.9 0h4.7m2.4 0h1.9m-34.6 6.3h1.9m28 0h3.3m-71.3 6.3h1.9m5.3 0h1.9m26 0h1.9m15.2 0h1.9m-26.6 6.3h1.9m2.6 0h1.9m22.6 0h1.9m24.4 0h1.9m-81.8 6.4h1.9m5.2 0h1.9m26.2 0h3.5m13.4 0h3.3m1 0h1.9m8.2 0h1.9m-49.9 6.3h1.9m52.3 0h1.9m-67.5 6.3h1.9m18.6 0h1.9m18.3 0h3.3m3.9 0h1.9m2.4 0h1.9m14.4 0h1.9m3.9 0h1.9m-89 6.3h1.9m10.9 0h1.9m2.4 0h1.9m24.9 0h1.9m6.3 0h1.9m-44 6.3h3.3m12.4 0h1.9m-19.1 6.4h1.9m18.4 0h1.9m8.7 0h1.9m33.8 0h1.9m8.6 0h1.9"/>
<path stroke="#dde" stroke-width="6.76" d="M344.9 571.9h1.9m28.8 0h1.9m1 0h1.9m18.2 0h1.9m14.5 0h1.9m-94.8 12.6h3.3m2.4 0h1.9m8.1 0h1.9m23 0h1.9m12.5 0h1.9m6.7 0h1.9m.9 0h1.9m3.9 0h1.9m3.8 0h1.9m-3.3 6.3h1.9m4.3 0h1.9m1 0h1.9m-83.2 6.4h1.9m5.2 0h1.9m21.3 0h3.5m-26.7 6.3h1.9m6.7 0h1.9m65.2 0h1.9m8.8 0h2.2m-80 12.6h1.9m20.3 0h1.9m33.8 0h1.9m2.9 0h1.9m3.9 0h1.9m2.5 0h1.9m-54.2 6.4h1.9m11 0h3.3m34.6 0h1.9m-57.2 6.3h1.9m29.9 0h1.9m21.6 0h3.3m-55.6 6.3h3.5m35.3 0h1.9m-13.4 6.3h3.3m1.1 0h1.9m15.8 0h1.9m7.4 0h2.2m-100 6.3h1.9m8.1 0h1.9m50.2 0h1.9m3.9 0h1.9m23.1 0h1.9m-84.8 6.4h1.9m36.3 0h1.9m2 0h1.9m2.4 0h1.9m2.4 0h1.9m15.3 0h1.9m18 0h2.2"/>
<path stroke="#88b" stroke-width="6.76" d="M346.4 571.9h1.9m-1.9 31.6h1.9m14.4 44.2h1.9m46 0h1.9"/>
<path stroke="#ede" stroke-width="6.76" d="M350.6 571.9h1.9m31.7 0h1.9m23.1 0h1.9m-70.4 6.3h1.9m72.4 6.3h1.9m-91.9 6.3h1.9m88.1 0h1.9m-34.1 19h1.9m-3.3 6.3h1.9m-41.2 12.7h1.9m33.1 6.3h1.9m16.7 6.3h1.9m7.2 0h1.9m-47 12.7h1.9"/>
<path stroke="#d77" stroke-width="6.76" d="M352.1 571.9h1.9m5.7 6.3h1.9m-9.5 12.6h1.9m43.2 0h1.9m-47 6.4h1.9m34.5 0h1.9m-39.8 12.6h1.9m61 0h1.9m-79 6.3h1.9m8.1 0h1.9m3.8 0h1.9m-29 6.4h1.9m.9 18.9h1.9m6.7 0h1.9"/>
<path stroke="#ecb" stroke-width="6.76" d="M322.1 578.2h1.9m18.1 12.6h1.9m54.6 6.4h1.9m-54.1 25.3h1.9m50.3 6.3h1.9m4.3 6.3h1.9"/>
<path stroke="#da9" stroke-width="6.76" d="M323.5 578.2h1.9m29.8 0h1.9m10.2 0h1.9m5 12.6h1.9m18.2 31.7h1.9"/>
<path stroke="#cab" stroke-width="6.76" d="M362.7 571.9h1.9m1.2 0h1.9m-42.7 6.3h1.9m6.6 12.6h1.9m8.1 6.4h1.9m-.5 12.6h1.9m1 0h1.9m27.4 19h1.9m6.7 0h1.9m6.7 6.3h1.9m-71.2 12.6h1.9m18 0h1.9m22 6.4h1.9m6.4 0h1.9m27.2 0h1.9"/>
<path stroke="#d99" stroke-width="6.76" d="M332.1 578.2h1.9m16.6 0h1.9m10.2 0h1.9m1.2 0h1.9m26.6 0h1.9m-38 6.3h1.9m-15.2 6.3h1.9m3.8 6.4h1.9m21.7 0h1.9m8.1 0h1.9m-21.8 6.3h1.9m-42.7 12.6h1.9m8.1 0h3.3m1 0h1.9m1 0h1.9m.9 0h1.9m2.4 0h3.3m46.1 0h1.9m-64.2 6.4h1.9m8.1 0h1.9m34.6 0h1.9m12.4 0h1.9m-.4 6.3h1.9m-64.2 6.3h3.3m30.6 0h1.9m13.5 0h1.9m12.5 0h1.9m-48.4 6.3h1.9m33.1 0h1.9m-61.2 6.3h1.9m12.4 0h3.3m-7.6 6.4h1.9m48.8 0h1.9"/>
<path stroke="#d66" stroke-width="6.76" d="M339.2 578.2h1.9m47.4 0h1.9m6.8 0h1.9m-72.7 37.9h1.9m51.6 6.4h1.9m15.4 0h1.9m-49.9 12.6h1.9m-10.4 6.3h1.9"/>
<path stroke="#ddd" stroke-width="6.76" d="M358.2 571.9h1.9m-12.3 6.3h1.9m-3.3 6.3h1.9m-11.9 6.3h1.9m6.6 12.7h1.9m44.6 0h1.9m-1.9 6.3h3.3m-49.8 19h1.9m2.4 0h1.9m17.7 18.9h1.9m26.5 0h1.9"/>
<path stroke="#dbb" stroke-width="6.76" d="M352.1 578.2h1.9m4.2 0h1.9m29.9 0h1.9m-30.7 6.3h1.9m4.2 0h1.9m35.6 0h1.9m-84.6 6.3h1.9m26.6 0h1.9m-29 6.4h1.9m48.8 6.3h1.9m18.2 0h1.9m-35 6.3h1.9m26.9 6.3h1.9m1 6.4h1.9m-3.4 6.3h1.9m-42.7 6.3h1.9m59.5 0h1.9m-84.7 6.3h1.9m25.6 0h1.9m5.7 0h1.9m35.3 0h1.9"/>
<path stroke="#bbc" stroke-width="6.76" d="M374.2 571.9h1.9m-51.1 12.6h1.9m-4.8 44.3h1.9m64.5 0h1.9m-54 25.3h1.9"/>
<path stroke="#bab" stroke-width="6.76" d="M326.4 584.5h1.9m5.2 0h1.9m70.8 56.9h1.9m2.5 12.7h1.9"/>
<path stroke="#edc" stroke-width="6.76" d="M384.2 578.2h1.9m-56.9 6.3h1.9m12.4 38h1.9m50.3 12.6h1.9"/>
<path stroke="#89c" stroke-width="6.76" d="M347.8 584.5h1.9m37.4 19h1.9m17.2 12.6h1.9m-42.3 12.7h1.9"/>
<path stroke="#eaa" stroke-width="6.76" d="M361.2 578.2h1.9m7.2 0h1.9m20.7 0h1.9m5.2 0h1.9m-49.8 6.3h1.9m1.2 0h1.9m38.6 0h1.9m-71.2 6.3h1.9m40.5 6.4h1.9m10.7 0h1.9m-20.6 6.3h1.9m-42.5 6.3h1.9m1 6.3h1.9m-.5 6.4h3.3m11 0h1.9m6.6 0h1.9m7.1 0h1.9m-4.9 6.3h1.9m-27.9 6.3h1.9m57.4 0h1.9m-52.6 6.3h1.9m5.2 0h1.9m1 0h3.3m8.6 0h1.9m35.6 12.7h1.9"/>
<path stroke="#daa" stroke-width="6.76" d="M323.5 590.8h1.9m16.7 6.4h1.9m11.2 18.9h1.9m-19.3 6.4h1.9m73.8 25.2h1.9m-48.1 6.4h1.9"/>
<path stroke="#dbc" stroke-width="6.76" d="M381.4 571.9h1.9m-55.5 18.9h1.9m36.1 0h1.9m-11 12.7h1.9m-26.5 12.6h1.9m28.7 0h1.9m26.8 6.4h1.9m-58.4 6.3h1.9m56.1 0h1.9m15.8 0h1.9m-89 6.3h1.9m41.9 6.3h1.9m-12.5 6.3h1.9"/>
<path stroke="#d88" stroke-width="6.76" d="M356.7 578.2h1.9m10.2 0h1.9m41.3 0h1.9m-84.7 12.6h1.9m6.7 0h1.9m1 0h1.9m.9 0h1.9m3.8 0h1.9m24.5 0h1.9m9.6 0h1.9m-9.1 6.4h1.9m15.4 0h1.9m-24.9 18.9h1.9m18.2 12.7h1.9m13 25.3h1.9"/>
<path stroke="#eba" stroke-width="6.76" d="M339.2 590.8h1.9m34.5 6.4h1.9m-26.9 44.2h1.9"/>
<path stroke="#cce" stroke-width="6.76" d="M407.7 571.9h1.9m10.3 0h2.2m-94.3 25.3h1.9m85.3 6.3h1.9m-46.6 6.3h1.9m45.9 19h2.2m-37.5 12.6h1.9m-54 6.3h1.9"/>
<path stroke="#d76" stroke-width="6.76" d="M344.9 597.2h1.9m5.3 12.6h1.9m30.2 44.3h1.9"/>
<path stroke="#67b" stroke-width="6.76" d="M406.2 597.2h1.9m-78.9 6.3h1.9"/>
<path stroke="#aac" stroke-width="6.76" d="M361.2 571.9h1.9m14 0h1.9m39.1 6.3h2.2m-8.3 6.3h1.9m-1.9 12.7h1.9m-76.1 6.3h1.9m26.1 0h1.9m10.8 0h1.9m24.4 0h4.8m-21.1 6.3h1.9m-65.4 19h1.9m2.3 0h1.9m25.6 0h1.9m-3.4 18.9h1.9m25.7 0h1.9m15.3 0h1.9"/>
<path stroke="#9ac" stroke-width="6.76" d="M409.2 590.8h1.9m-67.6 12.7h1.9m66.6 0h1.9m-12.4 6.3h1.9m-7.7 37.9h1.9m7.2 6.4h1.9"/>
<path stroke="#dcc" stroke-width="6.76" d="M413.5 578.2h1.9m-25.4 6.3h1.9m-33.7 6.3h1.9m25.6 0h1.9m8.1 12.7h1.9m-72.6 6.3h1.9m47.3 0h1.9m38.9 0h1.9m-74.8 12.7h1.9m38.8 0h1.9m5.3 0h1.9m17.3 0h1.9m-26.9 6.3h1.9m-30.9 6.3h1.9m17.1 0h1.9m-45.4 6.3h1.9m79.4 0h1.9m1.1 0h1.9m-93.4 6.3h1.9m82.3 0h1.9m-84.6 6.4h1.9"/>
<path stroke="#a9b" stroke-width="6.76" d="M327.8 609.8h1.9m64.6 0h1.9m23.7 25.3h2.2"/>
<path stroke="#b9b" stroke-width="6.76" d="M330.7 609.8h1.9"/>
<path stroke="#d98" stroke-width="6.76" d="M394.3 590.8h1.9m-61.3 19h1.9m68 0h1.9"/>
<path stroke="#fee" stroke-width="6.76" d="M400 590.8h1.9m-62.7 19h1.9m53.2 31.6h1.9"/>
<path stroke="#d65" stroke-width="6.76" d="M322.1 616.1h1.9m3.8 19h1.9"/>
<path stroke="#d55" stroke-width="6.76" d="M327.8 616.1h1.9m18.1 19h1.9"/>
<path stroke="#c44" stroke-width="6.76" d="M329.2 616.1h1.9"/>
<path stroke="#c9a" stroke-width="6.76" d="M359.7 590.8h1.9m19.8 12.7h1.9m-38.4 12.6h1.9m73.1 12.7h2.2m-15.9 6.3h1.9m-57.5 12.6h1.9m-9 6.4h1.9"/>
<path stroke="#d87" stroke-width="6.76" d="M368.8 590.8h1.9m-20.1 25.3h1.9"/>
<path stroke="#ecd" stroke-width="6.76" d="M356.7 571.9h1.9m29.9 18.9h1.9m2.5 12.7h1.9m11.4 6.3h1.9m-78.9 12.7h1.9m44.5 12.6h1.9m-38.3 19h1.9"/>
<path stroke="#cbb" stroke-width="6.76" d="M378.5 616.1h1.9m13.9 0h1.9m-65.5 12.7h1.9"/>
<path stroke="#cde" stroke-width="6.76" d="M333.5 635.1h1.9"/>
<path stroke="#ccc" stroke-width="6.76" d="M342.1 635.1h1.9"/>
<path stroke="#c78" stroke-width="6.76" d="M397.2 609.8h1.9m-47 25.3h1.9"/>
<path stroke="#ebc" stroke-width="6.76" d="M367.3 571.9h1.9m16.5 6.3h1.9"/>
<path stroke="#cbd" stroke-width="6.76" d="M391.4 571.9h1.9m24.8 12.6h2.2m-14.1 6.3h1.9m-42.3 6.4h1.9m-12.5 44.2h1.9"/>
<path stroke="#b8a" stroke-width="6.76" d="M361.2 603.5h1.9"/>
<path stroke="#c99" stroke-width="6.76" d="M359.7 616.1h1.9"/>
<path stroke="#eef" stroke-width="6.76" d="M364.3 628.8h1.9"/>
<path stroke="#99b" stroke-width="6.76" d="M370.3 635.1h1.9"/>
<path stroke="#abd" stroke-width="6.76" d="M392.9 571.9h3.3m-17.7 12.6h1.9m21.1 0h1.9m-37.6 63.2h1.9"/>
<path stroke="#97a" stroke-width="6.76" d="M361.2 654.1h1.9"/>
<path stroke="#78b" stroke-width="6.76" d="M404.8 597.2h1.9m1 0h1.9m-11 12.6h1.9"/>
<path stroke="#b9a" stroke-width="6.76" d="M379.9 616.1h1.9"/>
<path stroke="#c89" stroke-width="6.76" d="M382.8 616.1h1.9"/>
<path stroke="#bcd" stroke-width="6.76" d="M419.9 584.5h2.2m-20.6 31.6h1.9m-16.3 31.6h1.9"/>
<path stroke="#dab" stroke-width="6.76" d="M374.2 622.5h1.9m30.1 6.3h1.9m-22.4 6.3h1.9"/>
<path stroke="#c54" stroke-width="6.76" d="M397.2 635.1h1.9"/>
<path stroke="#66a" stroke-width="6.76" d="M394.3 647.7h1.9"/>
<path stroke="#cac" stroke-width="6.76" d="M391.4 654.1h1.9"/>
<path stroke="#66b" stroke-width="6.76" d="M409.2 597.2h1.9"/>
<path stroke="#45a" stroke-width="6.76" d="M410.6 597.2h1.9"/>
<path stroke="#56a" stroke-width="6.76" d="M413.5 597.2h1.9"/>
<path stroke="#d89" stroke-width="6.76" d="M413.5 616.1h1.9"/>
<path stroke="#88c" stroke-width="6.76" d="M418.1 603.5h2.2m-.4 19h2.2"/>
<text x="424" y="566" font-size="4.6" textLength="21.31" lengthAdjust="spacingAndGlyphs" font-weight="bold" fill="#000">T-ALL PDX</text>
<text x="423.4" y="573.96" font-size="4.8" textLength="9.12" lengthAdjust="spacingAndGlyphs" fill="#444" stroke="#444" stroke-width="0.12">HSC</text>
<text x="423.4" y="580.28" font-size="4.8" textLength="9.36" lengthAdjust="spacingAndGlyphs" fill="#444" stroke="#444" stroke-width="0.12">MPP</text>
<text x="423.4" y="586.6" font-size="4.8" textLength="9.6" lengthAdjust="spacingAndGlyphs" fill="#444" stroke="#444" stroke-width="0.12">CMP</text>
<text x="423.4" y="592.92" font-size="4.8" textLength="9.84" lengthAdjust="spacingAndGlyphs" fill="#444" stroke="#444" stroke-width="0.12">GMP</text>
<text x="423.4" y="599.25" font-size="4.8" textLength="8.4" lengthAdjust="spacingAndGlyphs" fill="#444" stroke="#444" stroke-width="0.12">CLP</text>
<text x="423.4" y="605.57" font-size="4.8" textLength="8.4" lengthAdjust="spacingAndGlyphs" fill="#444" stroke="#444" stroke-width="0.12">ETP</text>
<text x="423.4" y="611.89" font-size="4.8" textLength="8.64" lengthAdjust="spacingAndGlyphs" fill="#444" stroke="#444" stroke-width="0.12">DN1</text>
<text x="423.4" y="618.21" font-size="4.8" textLength="8.64" lengthAdjust="spacingAndGlyphs" fill="#444" stroke="#444" stroke-width="0.12">DN2</text>
<text x="423.4" y="624.53" font-size="4.8" textLength="12.48" lengthAdjust="spacingAndGlyphs" fill="#444" stroke="#444" stroke-width="0.12">DN2-3</text>
<text x="423.4" y="630.85" font-size="4.8" textLength="11.52" lengthAdjust="spacingAndGlyphs" fill="#444" stroke="#444" stroke-width="0.12">DN3A</text>
<text x="423.4" y="637.17" font-size="4.8" textLength="11.52" lengthAdjust="spacingAndGlyphs" fill="#444" stroke="#444" stroke-width="0.12">DN3B</text>
<text x="423.4" y="643.5" font-size="4.8" textLength="12.48" lengthAdjust="spacingAndGlyphs" fill="#444" stroke="#444" stroke-width="0.12">DN3-4</text>
<text x="423.4" y="649.82" font-size="4.8" textLength="8.64" lengthAdjust="spacingAndGlyphs" fill="#444" stroke="#444" stroke-width="0.12">DN4</text>
<text x="423.4" y="656.14" font-size="4.8" textLength="6" lengthAdjust="spacingAndGlyphs" fill="#444" stroke="#444" stroke-width="0.12">DP</text>
<rect x="447" y="570.4" width="4.5" height="71.1" fill="url(#cb3)"/>
<text x="455" y="572.6" font-size="4.6" textLength="2.3" lengthAdjust="spacingAndGlyphs" fill="#444" stroke="#444" stroke-width="0.12">3</text>
<text x="455" y="584.45" font-size="4.6" textLength="2.3" lengthAdjust="spacingAndGlyphs" fill="#444" stroke="#444" stroke-width="0.12">2</text>
<text x="455" y="596.3" font-size="4.6" textLength="2.3" lengthAdjust="spacingAndGlyphs" fill="#444" stroke="#444" stroke-width="0.12">1</text>
<text x="455" y="608.15" font-size="4.6" textLength="2.3" lengthAdjust="spacingAndGlyphs" fill="#444" stroke="#444" stroke-width="0.12">0</text>
<text x="454" y="620" font-size="4.6" textLength="3.68" lengthAdjust="spacingAndGlyphs" fill="#444" stroke="#444" stroke-width="0.12">-1</text>
<text x="454" y="631.85" font-size="4.6" textLength="3.68" lengthAdjust="spacingAndGlyphs" fill="#444" stroke="#444" stroke-width="0.12">-2</text>
<text x="454" y="643.7" font-size="4.6" textLength="3.68" lengthAdjust="spacingAndGlyphs" fill="#444" stroke="#444" stroke-width="0.12">-3</text>
<text x="465" y="572.2" font-size="4.6" textLength="21.31" lengthAdjust="spacingAndGlyphs" font-weight="bold" fill="#000">T-ALL PDX</text>
<rect x="465" y="575.4" width="8" height="8.33" fill="#4b2173"/>
<text x="476.5" y="581.1" font-size="4.6" textLength="30.76" lengthAdjust="spacingAndGlyphs" fill="#383838" stroke="#383838" stroke-width="0.12">TALL-06078-150</text>
<rect x="465" y="583.73" width="8" height="8.33" fill="#4ea544"/>
<text x="476.5" y="589.43" font-size="4.6" textLength="20.63" lengthAdjust="spacingAndGlyphs" fill="#383838" stroke="#383838" stroke-width="0.12">TALL-x-12*</text>
<rect x="465" y="592.06" width="8" height="8.33" fill="#c0283a"/>
<text x="476.5" y="597.76" font-size="4.6" textLength="35.51" lengthAdjust="spacingAndGlyphs" fill="#383838" stroke="#383838" stroke-width="0.12">TALL-DFAT-28537*</text>
<rect x="465" y="600.39" width="8" height="8.33" fill="#52a9e0"/>
<text x="476.5" y="606.09" font-size="4.6" textLength="19.02" lengthAdjust="spacingAndGlyphs" fill="#383838" stroke="#383838" stroke-width="0.12">TALL-x-15</text>
<rect x="465" y="608.72" width="8" height="8.33" fill="#a3b886"/>
<text x="476.5" y="614.42" font-size="4.6" textLength="20.63" lengthAdjust="spacingAndGlyphs" fill="#383838" stroke="#383838" stroke-width="0.12">TALL-x-9*#</text>
<rect x="0.55" y="0.6" width="518.85" height="663.7" fill="none" stroke="#000" stroke-width="1.2"/>
</svg>
</body></html>
